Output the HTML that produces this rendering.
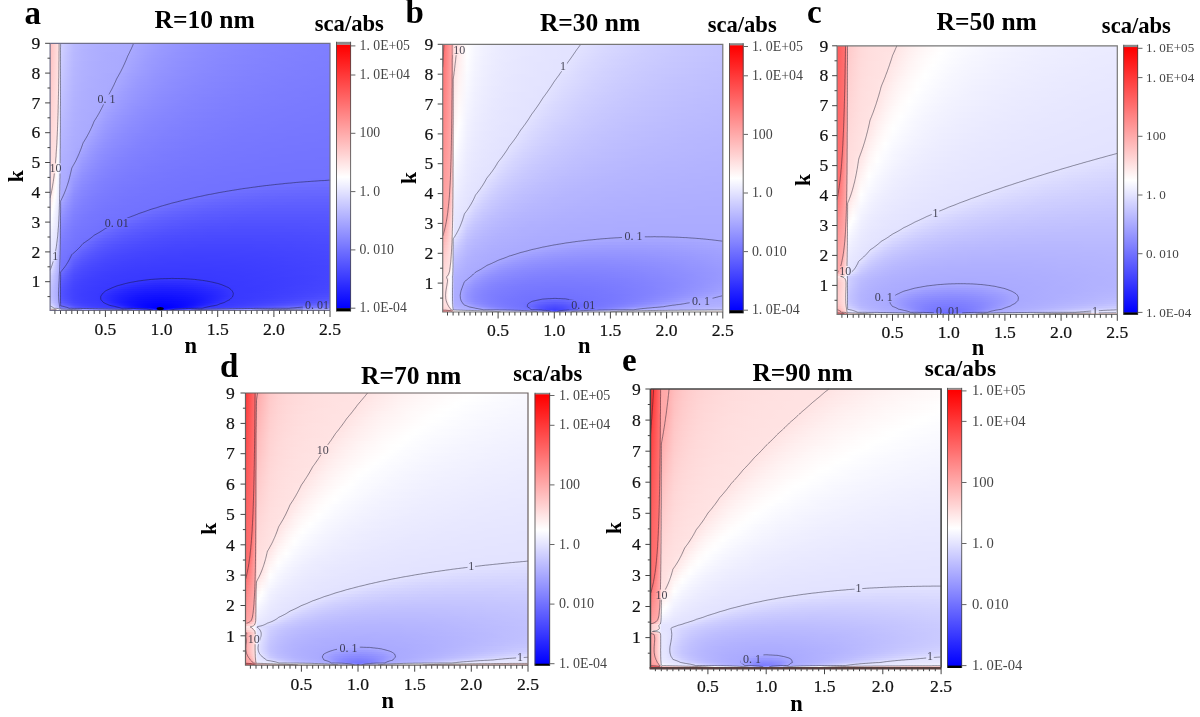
<!DOCTYPE html><html lang="en"><head><meta charset="utf-8"><title>sca/abs</title><style>html,body{margin:0;padding:0;background:#fff}
#p{filter:blur(.45px);position:relative;width:1200px;height:717px;overflow:hidden;background:#fff;font-family:"Liberation Serif",serif}
.h{position:absolute;overflow:hidden}
.h i{display:block;width:100%}
svg{position:absolute;left:0;top:0}
text{font-family:"Liberation Serif",serif;fill:#111}
.ct{fill:none;stroke:#101020;stroke-width:1;stroke-opacity:.44}
.cl{font-size:12px;fill:#2a2a3a;fill-opacity:.85;text-anchor:middle}
.fr{fill:none;stroke:#777;stroke-width:1}
.ax{fill:none;stroke:#444;stroke-width:1}
.tk{fill:none;stroke:#444;stroke-width:1}
.tl{font-size:17.6px;fill:#111;stroke:#111;stroke-width:.2px}
.lt{font-size:33px;font-weight:bold;fill:#000}
.ti{font-size:25.5px;font-weight:bold;fill:#000}
.sa{font-size:22.5px;font-weight:bold;fill:#000}
.nl{font-size:21.5px;font-weight:bold;fill:#000}
.cb{font-size:12.6px;fill:#444}
.cbb{fill:none;stroke:#444;stroke-width:.8}
.cbt{fill:none;stroke:#666;stroke-width:1}
</style></head><body><div id="p"><div class="h" style="left:66.1px;top:43.3px;width:263.9px;height:267.2px"><i style="height:3px;background:linear-gradient(90deg,#c7c7ff,#b9b9ff,#b4b4ff,#b1b1ff,#afafff,#adadff,#acacff,#ababff,#aaaaff,#a6a6ff,#a2a2ff,#9d9dff,#9a9aff,#9797ff,#9494ff,#9292ff,#9090ff,#8e8eff,#8c8cff,#8b8bff,#8989ff,#8888ff,#8787ff,#8686ff,#8585ff,#8484ff,#8383ff,#8383ff,#8282ff,#8181ff,#8181ff,#8080ff,#7f7fff,#7f7fff)"></i><i style="height:3px;background:linear-gradient(90deg,#c6c6ff,#b9b9ff,#b4b4ff,#b1b1ff,#aeaeff,#adadff,#acacff,#ababff,#aaaaff,#a5a5ff,#a1a1ff,#9d9dff,#9999ff,#9696ff,#9494ff,#9191ff,#8f8fff,#8d8dff,#8c8cff,#8a8aff,#8989ff,#8888ff,#8787ff,#8686ff,#8585ff,#8484ff,#8383ff,#8282ff,#8282ff,#8181ff,#8080ff,#8080ff,#7f7fff,#7f7fff)"></i><i style="height:3px;background:linear-gradient(90deg,#c6c6ff,#b9b9ff,#b3b3ff,#b0b0ff,#aeaeff,#adadff,#acacff,#ababff,#aaaaff,#a4a4ff,#a0a0ff,#9c9cff,#9898ff,#9696ff,#9393ff,#9191ff,#8f8fff,#8d8dff,#8b8bff,#8a8aff,#8989ff,#8787ff,#8686ff,#8585ff,#8484ff,#8383ff,#8383ff,#8282ff,#8181ff,#8181ff,#8080ff,#7f7fff,#7f7fff,#7e7eff)"></i><i style="height:3px;background:linear-gradient(90deg,#c5c5ff,#b8b8ff,#b3b3ff,#b0b0ff,#aeaeff,#acacff,#ababff,#ababff,#a9a9ff,#a4a4ff,#9f9fff,#9b9bff,#9898ff,#9595ff,#9292ff,#9090ff,#8e8eff,#8c8cff,#8b8bff,#8989ff,#8888ff,#8787ff,#8686ff,#8585ff,#8484ff,#8383ff,#8282ff,#8282ff,#8181ff,#8080ff,#8080ff,#7f7fff,#7f7fff,#7e7eff)"></i><i style="height:3px;background:linear-gradient(90deg,#c4c4ff,#b8b8ff,#b3b3ff,#b0b0ff,#aeaeff,#acacff,#ababff,#aaaaff,#a8a8ff,#a3a3ff,#9e9eff,#9a9aff,#9797ff,#9494ff,#9292ff,#9090ff,#8e8eff,#8c8cff,#8a8aff,#8989ff,#8888ff,#8686ff,#8585ff,#8484ff,#8484ff,#8383ff,#8282ff,#8181ff,#8181ff,#8080ff,#7f7fff,#7f7fff,#7e7eff,#7e7eff)"></i><i style="height:3px;background:linear-gradient(90deg,#c4c4ff,#b8b8ff,#b3b3ff,#b0b0ff,#aeaeff,#acacff,#ababff,#aaaaff,#a7a7ff,#a2a2ff,#9d9dff,#9999ff,#9696ff,#9393ff,#9191ff,#8f8fff,#8d8dff,#8b8bff,#8a8aff,#8888ff,#8787ff,#8686ff,#8585ff,#8484ff,#8383ff,#8282ff,#8282ff,#8181ff,#8080ff,#8080ff,#7f7fff,#7f7fff,#7e7eff,#7e7eff)"></i><i style="height:3px;background:linear-gradient(90deg,#c3c3ff,#b7b7ff,#b2b2ff,#afafff,#adadff,#acacff,#ababff,#aaaaff,#a6a6ff,#a1a1ff,#9c9cff,#9999ff,#9595ff,#9393ff,#9090ff,#8e8eff,#8c8cff,#8b8bff,#8989ff,#8888ff,#8787ff,#8686ff,#8585ff,#8484ff,#8383ff,#8282ff,#8181ff,#8181ff,#8080ff,#7f7fff,#7f7fff,#7e7eff,#7e7eff,#7d7dff)"></i><i style="height:3px;background:linear-gradient(90deg,#c3c3ff,#b7b7ff,#b2b2ff,#afafff,#adadff,#acacff,#ababff,#aaaaff,#a5a5ff,#a0a0ff,#9b9bff,#9898ff,#9595ff,#9292ff,#9090ff,#8e8eff,#8c8cff,#8a8aff,#8989ff,#8787ff,#8686ff,#8585ff,#8484ff,#8383ff,#8282ff,#8282ff,#8181ff,#8080ff,#8080ff,#7f7fff,#7e7eff,#7e7eff,#7e7eff,#7d7dff)"></i><i style="height:3px;background:linear-gradient(90deg,#c2c2ff,#b6b6ff,#b2b2ff,#afafff,#adadff,#acacff,#ababff,#aaaaff,#a4a4ff,#9f9fff,#9b9bff,#9797ff,#9494ff,#9191ff,#8f8fff,#8d8dff,#8b8bff,#8a8aff,#8888ff,#8787ff,#8686ff,#8585ff,#8484ff,#8383ff,#8282ff,#8181ff,#8181ff,#8080ff,#7f7fff,#7f7fff,#7e7eff,#7e7eff,#7d7dff,#7d7dff)"></i><i style="height:3px;background:linear-gradient(90deg,#c1c1ff,#b6b6ff,#b1b1ff,#afafff,#adadff,#acacff,#ababff,#a9a9ff,#a3a3ff,#9e9eff,#9a9aff,#9696ff,#9393ff,#9191ff,#8e8eff,#8c8cff,#8b8bff,#8989ff,#8888ff,#8686ff,#8585ff,#8484ff,#8383ff,#8282ff,#8282ff,#8181ff,#8080ff,#8080ff,#7f7fff,#7e7eff,#7e7eff,#7d7dff,#7d7dff,#7d7dff)"></i><i style="height:3px;background:linear-gradient(90deg,#c1c1ff,#b6b6ff,#b1b1ff,#afafff,#adadff,#ababff,#aaaaff,#a7a7ff,#a1a1ff,#9d9dff,#9999ff,#9595ff,#9292ff,#9090ff,#8e8eff,#8c8cff,#8a8aff,#8888ff,#8787ff,#8686ff,#8585ff,#8484ff,#8383ff,#8282ff,#8181ff,#8080ff,#8080ff,#7f7fff,#7f7fff,#7e7eff,#7e7eff,#7d7dff,#7d7dff,#7c7cff)"></i><i style="height:3px;background:linear-gradient(90deg,#c0c0ff,#b5b5ff,#b1b1ff,#aeaeff,#adadff,#ababff,#aaaaff,#a6a6ff,#a0a0ff,#9b9bff,#9898ff,#9494ff,#9191ff,#8f8fff,#8d8dff,#8b8bff,#8989ff,#8888ff,#8686ff,#8585ff,#8484ff,#8383ff,#8282ff,#8181ff,#8181ff,#8080ff,#7f7fff,#7f7fff,#7e7eff,#7e7eff,#7d7dff,#7d7dff,#7c7cff,#7c7cff)"></i><i style="height:3px;background:linear-gradient(90deg,#bfbfff,#b5b5ff,#b1b1ff,#aeaeff,#acacff,#ababff,#aaaaff,#a5a5ff,#9f9fff,#9a9aff,#9797ff,#9393ff,#9191ff,#8e8eff,#8c8cff,#8a8aff,#8989ff,#8787ff,#8686ff,#8585ff,#8484ff,#8383ff,#8282ff,#8181ff,#8080ff,#8080ff,#7f7fff,#7e7eff,#7e7eff,#7d7dff,#7d7dff,#7c7cff,#7c7cff,#7c7cff)"></i><i style="height:3px;background:linear-gradient(90deg,#bfbfff,#b5b5ff,#b0b0ff,#aeaeff,#acacff,#ababff,#aaaaff,#a4a4ff,#9e9eff,#9999ff,#9696ff,#9393ff,#9090ff,#8d8dff,#8b8bff,#8a8aff,#8888ff,#8787ff,#8585ff,#8484ff,#8383ff,#8282ff,#8181ff,#8181ff,#8080ff,#7f7fff,#7f7fff,#7e7eff,#7d7dff,#7d7dff,#7d7dff,#7c7cff,#7c7cff,#7b7bff)"></i><i style="height:3px;background:linear-gradient(90deg,#bebeff,#b4b4ff,#b0b0ff,#aeaeff,#acacff,#ababff,#a9a9ff,#a2a2ff,#9d9dff,#9898ff,#9595ff,#9292ff,#8f8fff,#8d8dff,#8b8bff,#8989ff,#8787ff,#8686ff,#8585ff,#8484ff,#8383ff,#8282ff,#8181ff,#8080ff,#7f7fff,#7f7fff,#7e7eff,#7e7eff,#7d7dff,#7d7dff,#7c7cff,#7c7cff,#7b7bff,#7b7bff)"></i><i style="height:3px;background:linear-gradient(90deg,#bebeff,#b4b4ff,#b0b0ff,#adadff,#acacff,#ababff,#a7a7ff,#a1a1ff,#9b9bff,#9797ff,#9494ff,#9191ff,#8e8eff,#8c8cff,#8a8aff,#8888ff,#8787ff,#8585ff,#8484ff,#8383ff,#8282ff,#8181ff,#8080ff,#8080ff,#7f7fff,#7e7eff,#7e7eff,#7d7dff,#7d7dff,#7c7cff,#7c7cff,#7b7bff,#7b7bff,#7b7bff)"></i><i style="height:3px;background:linear-gradient(90deg,#bdbdff,#b3b3ff,#afafff,#adadff,#acacff,#aaaaff,#a6a6ff,#9f9fff,#9a9aff,#9696ff,#9393ff,#9090ff,#8d8dff,#8b8bff,#8989ff,#8888ff,#8686ff,#8585ff,#8484ff,#8282ff,#8282ff,#8181ff,#8080ff,#7f7fff,#7f7fff,#7e7eff,#7d7dff,#7d7dff,#7c7cff,#7c7cff,#7b7bff,#7b7bff,#7b7bff,#7a7aff)"></i><i style="height:3px;background:linear-gradient(90deg,#bcbcff,#b3b3ff,#afafff,#adadff,#ababff,#aaaaff,#a4a4ff,#9e9eff,#9999ff,#9595ff,#9292ff,#8f8fff,#8c8cff,#8a8aff,#8888ff,#8787ff,#8585ff,#8484ff,#8383ff,#8282ff,#8181ff,#8080ff,#7f7fff,#7f7fff,#7e7eff,#7d7dff,#7d7dff,#7c7cff,#7c7cff,#7c7cff,#7b7bff,#7b7bff,#7a7aff,#7a7aff)"></i><i style="height:3px;background:linear-gradient(90deg,#bcbcff,#b2b2ff,#afafff,#adadff,#ababff,#aaaaff,#a3a3ff,#9d9dff,#9898ff,#9494ff,#9191ff,#8e8eff,#8b8bff,#8989ff,#8888ff,#8686ff,#8585ff,#8383ff,#8282ff,#8181ff,#8080ff,#8080ff,#7f7fff,#7e7eff,#7e7eff,#7d7dff,#7d7dff,#7c7cff,#7c7cff,#7b7bff,#7b7bff,#7a7aff,#7a7aff,#7a7aff)"></i><i style="height:3px;background:linear-gradient(90deg,#bbbbff,#b2b2ff,#aeaeff,#acacff,#ababff,#a8a8ff,#a1a1ff,#9b9bff,#9797ff,#9393ff,#9090ff,#8d8dff,#8b8bff,#8989ff,#8787ff,#8585ff,#8484ff,#8383ff,#8282ff,#8181ff,#8080ff,#7f7fff,#7e7eff,#7e7eff,#7d7dff,#7d7dff,#7c7cff,#7c7cff,#7b7bff,#7b7bff,#7a7aff,#7a7aff,#7a7aff,#7979ff)"></i><i style="height:3px;background:linear-gradient(90deg,#babaff,#b2b2ff,#aeaeff,#acacff,#ababff,#a7a7ff,#a0a0ff,#9a9aff,#9595ff,#9292ff,#8f8fff,#8c8cff,#8a8aff,#8888ff,#8686ff,#8585ff,#8383ff,#8282ff,#8181ff,#8080ff,#7f7fff,#7f7fff,#7e7eff,#7d7dff,#7d7dff,#7c7cff,#7c7cff,#7b7bff,#7b7bff,#7a7aff,#7a7aff,#7a7aff,#7979ff,#7979ff)"></i><i style="height:3px;background:linear-gradient(90deg,#babaff,#b1b1ff,#aeaeff,#acacff,#aaaaff,#a5a5ff,#9e9eff,#9999ff,#9494ff,#9090ff,#8e8eff,#8b8bff,#8989ff,#8787ff,#8585ff,#8484ff,#8383ff,#8282ff,#8181ff,#8080ff,#7f7fff,#7e7eff,#7d7dff,#7d7dff,#7c7cff,#7c7cff,#7b7bff,#7b7bff,#7a7aff,#7a7aff,#7a7aff,#7979ff,#7979ff,#7979ff)"></i><i style="height:3px;background:linear-gradient(90deg,#b9b9ff,#b1b1ff,#adadff,#acacff,#aaaaff,#a3a3ff,#9d9dff,#9797ff,#9393ff,#8f8fff,#8c8cff,#8a8aff,#8888ff,#8686ff,#8585ff,#8383ff,#8282ff,#8181ff,#8080ff,#7f7fff,#7e7eff,#7e7eff,#7d7dff,#7c7cff,#7c7cff,#7b7bff,#7b7bff,#7a7aff,#7a7aff,#7a7aff,#7979ff,#7979ff,#7979ff,#7878ff)"></i><i style="height:3px;background:linear-gradient(90deg,#b8b8ff,#b0b0ff,#adadff,#ababff,#aaaaff,#a1a1ff,#9b9bff,#9696ff,#9292ff,#8e8eff,#8b8bff,#8989ff,#8787ff,#8585ff,#8484ff,#8282ff,#8181ff,#8080ff,#7f7fff,#7e7eff,#7e7eff,#7d7dff,#7c7cff,#7c7cff,#7b7bff,#7b7bff,#7a7aff,#7a7aff,#7a7aff,#7979ff,#7979ff,#7979ff,#7878ff,#7878ff)"></i><i style="height:3px;background:linear-gradient(90deg,#b8b8ff,#b0b0ff,#adadff,#ababff,#a9a9ff,#a0a0ff,#9999ff,#9494ff,#9090ff,#8d8dff,#8a8aff,#8888ff,#8686ff,#8585ff,#8383ff,#8282ff,#8181ff,#8080ff,#7f7fff,#7e7eff,#7d7dff,#7d7dff,#7c7cff,#7b7bff,#7b7bff,#7a7aff,#7a7aff,#7a7aff,#7979ff,#7979ff,#7979ff,#7878ff,#7878ff,#7878ff)"></i><i style="height:3px;background:linear-gradient(90deg,#b7b7ff,#b0b0ff,#adadff,#ababff,#a7a7ff,#9e9eff,#9898ff,#9393ff,#8f8fff,#8c8cff,#8989ff,#8787ff,#8585ff,#8484ff,#8282ff,#8181ff,#8080ff,#7f7fff,#7e7eff,#7d7dff,#7d7dff,#7c7cff,#7b7bff,#7b7bff,#7a7aff,#7a7aff,#7a7aff,#7979ff,#7979ff,#7979ff,#7878ff,#7878ff,#7878ff,#7777ff)"></i><i style="height:3px;background:linear-gradient(90deg,#b6b6ff,#afafff,#acacff,#ababff,#a5a5ff,#9c9cff,#9696ff,#9292ff,#8e8eff,#8b8bff,#8888ff,#8686ff,#8484ff,#8383ff,#8282ff,#8080ff,#7f7fff,#7e7eff,#7d7dff,#7d7dff,#7c7cff,#7b7bff,#7b7bff,#7a7aff,#7a7aff,#7a7aff,#7979ff,#7979ff,#7878ff,#7878ff,#7878ff,#7878ff,#7777ff,#7777ff)"></i><i style="height:3px;background:linear-gradient(90deg,#b6b6ff,#afafff,#acacff,#aaaaff,#a3a3ff,#9a9aff,#9595ff,#9090ff,#8d8dff,#8a8aff,#8787ff,#8585ff,#8484ff,#8282ff,#8181ff,#8080ff,#7f7fff,#7e7eff,#7d7dff,#7c7cff,#7c7cff,#7b7bff,#7a7aff,#7a7aff,#7979ff,#7979ff,#7979ff,#7878ff,#7878ff,#7878ff,#7777ff,#7777ff,#7777ff,#7777ff)"></i><i style="height:3px;background:linear-gradient(90deg,#b5b5ff,#aeaeff,#acacff,#aaaaff,#a1a1ff,#9999ff,#9393ff,#8f8fff,#8b8bff,#8989ff,#8686ff,#8484ff,#8383ff,#8181ff,#8080ff,#7f7fff,#7e7eff,#7d7dff,#7c7cff,#7c7cff,#7b7bff,#7a7aff,#7a7aff,#7979ff,#7979ff,#7979ff,#7878ff,#7878ff,#7878ff,#7777ff,#7777ff,#7777ff,#7777ff,#7676ff)"></i><i style="height:3px;background:linear-gradient(90deg,#b4b4ff,#aeaeff,#ababff,#a9a9ff,#9f9fff,#9797ff,#9292ff,#8e8eff,#8a8aff,#8888ff,#8585ff,#8383ff,#8282ff,#8080ff,#7f7fff,#7e7eff,#7d7dff,#7c7cff,#7c7cff,#7b7bff,#7a7aff,#7a7aff,#7979ff,#7979ff,#7979ff,#7878ff,#7878ff,#7878ff,#7777ff,#7777ff,#7777ff,#7777ff,#7676ff,#7676ff)"></i><i style="height:3px;background:linear-gradient(90deg,#b4b4ff,#aeaeff,#ababff,#a7a7ff,#9d9dff,#9595ff,#9090ff,#8c8cff,#8989ff,#8686ff,#8484ff,#8383ff,#8181ff,#8080ff,#7f7fff,#7d7dff,#7d7dff,#7c7cff,#7b7bff,#7a7aff,#7a7aff,#7979ff,#7979ff,#7878ff,#7878ff,#7878ff,#7777ff,#7777ff,#7777ff,#7777ff,#7676ff,#7676ff,#7676ff,#7676ff)"></i><i style="height:3px;background:linear-gradient(90deg,#b3b3ff,#adadff,#ababff,#a4a4ff,#9b9bff,#9494ff,#8f8fff,#8b8bff,#8888ff,#8585ff,#8383ff,#8282ff,#8080ff,#7f7fff,#7e7eff,#7d7dff,#7c7cff,#7b7bff,#7b7bff,#7a7aff,#7979ff,#7979ff,#7878ff,#7878ff,#7878ff,#7777ff,#7777ff,#7777ff,#7676ff,#7676ff,#7676ff,#7676ff,#7676ff,#7575ff)"></i><i style="height:3px;background:linear-gradient(90deg,#b2b2ff,#adadff,#aaaaff,#a2a2ff,#9999ff,#9292ff,#8d8dff,#8a8aff,#8787ff,#8484ff,#8282ff,#8181ff,#7f7fff,#7e7eff,#7d7dff,#7c7cff,#7b7bff,#7b7bff,#7a7aff,#7979ff,#7979ff,#7878ff,#7878ff,#7878ff,#7777ff,#7777ff,#7777ff,#7676ff,#7676ff,#7676ff,#7676ff,#7676ff,#7575ff,#7575ff)"></i><i style="height:3px;background:linear-gradient(90deg,#b2b2ff,#acacff,#aaaaff,#a0a0ff,#9797ff,#9090ff,#8c8cff,#8989ff,#8686ff,#8383ff,#8181ff,#8080ff,#7e7eff,#7d7dff,#7c7cff,#7b7bff,#7b7bff,#7a7aff,#7979ff,#7979ff,#7878ff,#7878ff,#7777ff,#7777ff,#7777ff,#7676ff,#7676ff,#7676ff,#7676ff,#7676ff,#7575ff,#7575ff,#7575ff,#7575ff)"></i><i style="height:3px;background:linear-gradient(90deg,#b1b1ff,#acacff,#a9a9ff,#9d9dff,#9595ff,#8f8fff,#8b8bff,#8787ff,#8585ff,#8282ff,#8181ff,#7f7fff,#7e7eff,#7d7dff,#7c7cff,#7b7bff,#7a7aff,#7979ff,#7979ff,#7878ff,#7878ff,#7777ff,#7777ff,#7777ff,#7676ff,#7676ff,#7676ff,#7676ff,#7575ff,#7575ff,#7575ff,#7575ff,#7575ff,#7575ff)"></i><i style="height:3px;background:linear-gradient(90deg,#b1b1ff,#acacff,#a6a6ff,#9b9bff,#9393ff,#8d8dff,#8989ff,#8686ff,#8383ff,#8181ff,#8080ff,#7e7eff,#7d7dff,#7c7cff,#7b7bff,#7a7aff,#7979ff,#7979ff,#7878ff,#7878ff,#7777ff,#7777ff,#7777ff,#7676ff,#7676ff,#7676ff,#7575ff,#7575ff,#7575ff,#7575ff,#7575ff,#7474ff,#7474ff,#7474ff)"></i><i style="height:3px;background:linear-gradient(90deg,#b0b0ff,#ababff,#a4a4ff,#9999ff,#9191ff,#8c8cff,#8888ff,#8585ff,#8282ff,#8080ff,#7f7fff,#7d7dff,#7c7cff,#7b7bff,#7a7aff,#7979ff,#7979ff,#7878ff,#7878ff,#7777ff,#7777ff,#7676ff,#7676ff,#7676ff,#7676ff,#7575ff,#7575ff,#7575ff,#7575ff,#7474ff,#7474ff,#7474ff,#7474ff,#7474ff)"></i><i style="height:3px;background:linear-gradient(90deg,#afafff,#ababff,#a1a1ff,#9797ff,#8f8fff,#8a8aff,#8787ff,#8484ff,#8181ff,#7f7fff,#7e7eff,#7d7dff,#7b7bff,#7a7aff,#7a7aff,#7979ff,#7878ff,#7878ff,#7777ff,#7777ff,#7676ff,#7676ff,#7676ff,#7575ff,#7575ff,#7575ff,#7575ff,#7474ff,#7474ff,#7474ff,#7474ff,#7474ff,#7474ff,#7474ff)"></i><i style="height:3px;background:linear-gradient(90deg,#afafff,#ababff,#9e9eff,#9595ff,#8e8eff,#8989ff,#8585ff,#8282ff,#8080ff,#7e7eff,#7d7dff,#7c7cff,#7b7bff,#7a7aff,#7979ff,#7878ff,#7878ff,#7777ff,#7777ff,#7676ff,#7676ff,#7676ff,#7575ff,#7575ff,#7575ff,#7474ff,#7474ff,#7474ff,#7474ff,#7474ff,#7474ff,#7474ff,#7373ff,#7373ff)"></i><i style="height:3px;background:linear-gradient(90deg,#aeaeff,#aaaaff,#9c9cff,#9393ff,#8c8cff,#8787ff,#8484ff,#8181ff,#7f7fff,#7d7dff,#7c7cff,#7b7bff,#7a7aff,#7979ff,#7878ff,#7878ff,#7777ff,#7777ff,#7676ff,#7676ff,#7575ff,#7575ff,#7575ff,#7575ff,#7474ff,#7474ff,#7474ff,#7474ff,#7474ff,#7373ff,#7373ff,#7373ff,#7373ff,#7373ff)"></i><i style="height:3px;background:linear-gradient(90deg,#aeaeff,#a9a9ff,#9999ff,#9191ff,#8a8aff,#8686ff,#8383ff,#8080ff,#7e7eff,#7d7dff,#7b7bff,#7a7aff,#7979ff,#7878ff,#7878ff,#7777ff,#7777ff,#7676ff,#7676ff,#7575ff,#7575ff,#7575ff,#7474ff,#7474ff,#7474ff,#7474ff,#7474ff,#7373ff,#7373ff,#7373ff,#7373ff,#7373ff,#7373ff,#7373ff)"></i><i style="height:3px;background:linear-gradient(90deg,#adadff,#a6a6ff,#9797ff,#8f8fff,#8989ff,#8484ff,#8282ff,#7f7fff,#7d7dff,#7c7cff,#7a7aff,#7979ff,#7878ff,#7878ff,#7777ff,#7676ff,#7676ff,#7676ff,#7575ff,#7575ff,#7474ff,#7474ff,#7474ff,#7474ff,#7474ff,#7373ff,#7373ff,#7373ff,#7373ff,#7373ff,#7373ff,#7373ff,#7373ff,#7272ff)"></i><i style="height:3px;background:linear-gradient(90deg,#adadff,#a3a3ff,#9595ff,#8d8dff,#8787ff,#8383ff,#8080ff,#7e7eff,#7c7cff,#7b7bff,#7a7aff,#7979ff,#7878ff,#7777ff,#7676ff,#7676ff,#7575ff,#7575ff,#7575ff,#7474ff,#7474ff,#7474ff,#7474ff,#7373ff,#7373ff,#7373ff,#7373ff,#7373ff,#7373ff,#7272ff,#7272ff,#7272ff,#7272ff,#7272ff)"></i><i style="height:3px;background:linear-gradient(90deg,#acacff,#a0a0ff,#9292ff,#8b8bff,#8686ff,#8282ff,#7f7fff,#7d7dff,#7b7bff,#7a7aff,#7979ff,#7878ff,#7777ff,#7676ff,#7676ff,#7575ff,#7575ff,#7575ff,#7474ff,#7474ff,#7474ff,#7373ff,#7373ff,#7373ff,#7373ff,#7373ff,#7272ff,#7272ff,#7272ff,#7272ff,#7272ff,#7272ff,#7272ff,#7272ff)"></i><i style="height:3px;background:linear-gradient(90deg,#acacff,#9d9dff,#9090ff,#8989ff,#8484ff,#8181ff,#7e7eff,#7c7cff,#7a7aff,#7979ff,#7878ff,#7777ff,#7777ff,#7676ff,#7575ff,#7575ff,#7474ff,#7474ff,#7474ff,#7373ff,#7373ff,#7373ff,#7373ff,#7373ff,#7272ff,#7272ff,#7272ff,#7272ff,#7272ff,#7272ff,#7272ff,#7272ff,#7272ff,#7272ff)"></i><i style="height:3px;background:linear-gradient(90deg,#ababff,#9a9aff,#8e8eff,#8888ff,#8383ff,#7f7fff,#7d7dff,#7b7bff,#7a7aff,#7878ff,#7777ff,#7777ff,#7676ff,#7575ff,#7575ff,#7474ff,#7474ff,#7474ff,#7373ff,#7373ff,#7373ff,#7373ff,#7272ff,#7272ff,#7272ff,#7272ff,#7272ff,#7272ff,#7272ff,#7272ff,#7272ff,#7171ff,#7171ff,#7171ff)"></i><i style="height:3px;background:linear-gradient(90deg,#ababff,#9797ff,#8c8cff,#8686ff,#8181ff,#7e7eff,#7c7cff,#7a7aff,#7979ff,#7878ff,#7777ff,#7676ff,#7575ff,#7575ff,#7474ff,#7474ff,#7373ff,#7373ff,#7373ff,#7373ff,#7272ff,#7272ff,#7272ff,#7272ff,#7272ff,#7272ff,#7272ff,#7171ff,#7171ff,#7171ff,#7070ff,#7070ff,#6f6fff,#6f6fff)"></i><i style="height:3px;background:linear-gradient(90deg,#aaaaff,#9595ff,#8a8aff,#8484ff,#8080ff,#7d7dff,#7b7bff,#7979ff,#7878ff,#7777ff,#7676ff,#7575ff,#7575ff,#7474ff,#7474ff,#7373ff,#7373ff,#7373ff,#7272ff,#7272ff,#7272ff,#7272ff,#7272ff,#7272ff,#7171ff,#7171ff,#7070ff,#6f6fff,#6f6fff,#6e6eff,#6e6eff,#6d6dff,#6d6dff,#6d6dff)"></i><i style="height:3px;background:linear-gradient(90deg,#aaaaff,#9292ff,#8888ff,#8383ff,#7f7fff,#7c7cff,#7a7aff,#7878ff,#7777ff,#7676ff,#7575ff,#7575ff,#7474ff,#7474ff,#7373ff,#7373ff,#7373ff,#7272ff,#7272ff,#7272ff,#7272ff,#7171ff,#7171ff,#7070ff,#6f6fff,#6e6eff,#6d6dff,#6d6dff,#6c6cff,#6b6bff,#6b6bff,#6b6bff,#6a6aff,#6a6aff)"></i><i style="height:3px;background:linear-gradient(90deg,#a6a6ff,#9090ff,#8686ff,#8181ff,#7e7eff,#7b7bff,#7979ff,#7878ff,#7676ff,#7676ff,#7575ff,#7474ff,#7474ff,#7373ff,#7373ff,#7272ff,#7272ff,#7272ff,#7272ff,#7171ff,#7171ff,#6f6fff,#6e6eff,#6d6dff,#6c6cff,#6b6bff,#6a6aff,#6a6aff,#6969ff,#6969ff,#6868ff,#6868ff,#6868ff,#6868ff)"></i><i style="height:3px;background:linear-gradient(90deg,#a2a2ff,#8d8dff,#8585ff,#8080ff,#7c7cff,#7a7aff,#7878ff,#7777ff,#7676ff,#7575ff,#7474ff,#7474ff,#7373ff,#7373ff,#7272ff,#7272ff,#7272ff,#7171ff,#7171ff,#6f6fff,#6d6dff,#6c6cff,#6b6bff,#6a6aff,#6969ff,#6868ff,#6868ff,#6767ff,#6767ff,#6666ff,#6666ff,#6666ff,#6666ff,#6666ff)"></i><i style="height:3px;background:linear-gradient(90deg,#9e9eff,#8b8bff,#8383ff,#7e7eff,#7b7bff,#7979ff,#7777ff,#7676ff,#7575ff,#7474ff,#7474ff,#7373ff,#7373ff,#7272ff,#7272ff,#7272ff,#7171ff,#6f6fff,#6d6dff,#6c6cff,#6a6aff,#6969ff,#6868ff,#6767ff,#6666ff,#6565ff,#6565ff,#6464ff,#6464ff,#6464ff,#6464ff,#6363ff,#6363ff,#6363ff)"></i><i style="height:3px;background:linear-gradient(90deg,#9b9bff,#8989ff,#8181ff,#7d7dff,#7a7aff,#7878ff,#7777ff,#7575ff,#7474ff,#7474ff,#7373ff,#7373ff,#7272ff,#7272ff,#7171ff,#7070ff,#6d6dff,#6b6bff,#6a6aff,#6868ff,#6767ff,#6666ff,#6565ff,#6464ff,#6363ff,#6363ff,#6262ff,#6262ff,#6262ff,#6161ff,#6161ff,#6161ff,#6161ff,#6161ff)"></i><i style="height:3px;background:linear-gradient(90deg,#9898ff,#8787ff,#8080ff,#7c7cff,#7979ff,#7777ff,#7676ff,#7575ff,#7474ff,#7373ff,#7373ff,#7272ff,#7272ff,#7171ff,#6e6eff,#6c6cff,#6a6aff,#6868ff,#6666ff,#6565ff,#6464ff,#6363ff,#6262ff,#6161ff,#6161ff,#6060ff,#6060ff,#6060ff,#5f5fff,#5f5fff,#5f5fff,#5f5fff,#5f5fff,#5f5fff)"></i><i style="height:3px;background:linear-gradient(90deg,#9494ff,#8585ff,#7e7eff,#7b7bff,#7878ff,#7676ff,#7575ff,#7474ff,#7373ff,#7373ff,#7272ff,#7272ff,#7070ff,#6d6dff,#6a6aff,#6868ff,#6666ff,#6565ff,#6363ff,#6262ff,#6161ff,#6060ff,#5f5fff,#5f5fff,#5e5eff,#5e5eff,#5d5dff,#5d5dff,#5d5dff,#5d5dff,#5d5dff,#5d5dff,#5d5dff,#5d5dff)"></i><i style="height:3px;background:linear-gradient(90deg,#9191ff,#8383ff,#7d7dff,#7a7aff,#7777ff,#7575ff,#7474ff,#7373ff,#7373ff,#7272ff,#7272ff,#6f6fff,#6c6cff,#6969ff,#6767ff,#6565ff,#6363ff,#6161ff,#6060ff,#5f5fff,#5e5eff,#5d5dff,#5d5dff,#5c5cff,#5c5cff,#5b5bff,#5b5bff,#5b5bff,#5b5bff,#5b5bff,#5b5bff,#5b5bff,#5b5bff,#5b5bff)"></i><i style="height:3px;background:linear-gradient(90deg,#8e8eff,#8181ff,#7c7cff,#7878ff,#7676ff,#7575ff,#7474ff,#7373ff,#7272ff,#7272ff,#6f6fff,#6b6bff,#6868ff,#6565ff,#6363ff,#6161ff,#6060ff,#5e5eff,#5d5dff,#5c5cff,#5b5bff,#5b5bff,#5a5aff,#5a5aff,#5959ff,#5959ff,#5959ff,#5959ff,#5959ff,#5959ff,#5959ff,#5959ff,#5959ff,#5959ff)"></i><i style="height:3px;background:linear-gradient(90deg,#8c8cff,#7f7fff,#7a7aff,#7777ff,#7575ff,#7474ff,#7373ff,#7272ff,#7272ff,#6e6eff,#6a6aff,#6767ff,#6464ff,#6262ff,#6060ff,#5e5eff,#5d5dff,#5b5bff,#5a5aff,#5a5aff,#5959ff,#5858ff,#5858ff,#5757ff,#5757ff,#5757ff,#5757ff,#5757ff,#5757ff,#5757ff,#5757ff,#5757ff,#5757ff,#5858ff)"></i><i style="height:3px;background:linear-gradient(90deg,#8989ff,#7e7eff,#7979ff,#7676ff,#7575ff,#7373ff,#7272ff,#7272ff,#6e6eff,#6a6aff,#6666ff,#6363ff,#6060ff,#5e5eff,#5d5dff,#5b5bff,#5a5aff,#5959ff,#5858ff,#5757ff,#5656ff,#5656ff,#5555ff,#5555ff,#5555ff,#5555ff,#5555ff,#5555ff,#5555ff,#5555ff,#5555ff,#5555ff,#5656ff,#5656ff)"></i><i style="height:3px;background:linear-gradient(90deg,#8787ff,#7c7cff,#7878ff,#7676ff,#7474ff,#7373ff,#7272ff,#6f6fff,#6a6aff,#6666ff,#6262ff,#5f5fff,#5d5dff,#5b5bff,#5959ff,#5858ff,#5757ff,#5656ff,#5555ff,#5555ff,#5454ff,#5454ff,#5353ff,#5353ff,#5353ff,#5353ff,#5353ff,#5353ff,#5353ff,#5353ff,#5353ff,#5454ff,#5454ff,#5454ff)"></i><i style="height:3px;background:linear-gradient(90deg,#8484ff,#7b7bff,#7777ff,#7575ff,#7373ff,#7272ff,#7070ff,#6a6aff,#6565ff,#6161ff,#5e5eff,#5c5cff,#5a5aff,#5858ff,#5757ff,#5555ff,#5454ff,#5353ff,#5353ff,#5252ff,#5252ff,#5151ff,#5151ff,#5151ff,#5151ff,#5151ff,#5151ff,#5151ff,#5151ff,#5151ff,#5252ff,#5252ff,#5252ff,#5353ff)"></i><i style="height:3px;background:linear-gradient(90deg,#8282ff,#7979ff,#7676ff,#7474ff,#7272ff,#7171ff,#6b6bff,#6666ff,#6161ff,#5e5eff,#5b5bff,#5959ff,#5757ff,#5555ff,#5454ff,#5353ff,#5252ff,#5151ff,#5050ff,#5050ff,#5050ff,#4f4fff,#4f4fff,#4f4fff,#4f4fff,#4f4fff,#4f4fff,#4f4fff,#5050ff,#5050ff,#5050ff,#5151ff,#5151ff,#5151ff)"></i><i style="height:3px;background:linear-gradient(90deg,#8080ff,#7878ff,#7575ff,#7373ff,#7272ff,#6d6dff,#6666ff,#6161ff,#5d5dff,#5a5aff,#5858ff,#5656ff,#5454ff,#5252ff,#5151ff,#5050ff,#4f4fff,#4f4fff,#4e4eff,#4e4eff,#4e4eff,#4d4dff,#4d4dff,#4d4dff,#4d4dff,#4d4dff,#4e4eff,#4e4eff,#4e4eff,#4e4eff,#4f4fff,#4f4fff,#5050ff,#5050ff)"></i><i style="height:3px;background:linear-gradient(90deg,#7e7eff,#7777ff,#7474ff,#7272ff,#7070ff,#6767ff,#6262ff,#5d5dff,#5a5aff,#5757ff,#5454ff,#5353ff,#5151ff,#5050ff,#4f4fff,#4e4eff,#4d4dff,#4d4dff,#4c4cff,#4c4cff,#4c4cff,#4c4cff,#4c4cff,#4c4cff,#4c4cff,#4c4cff,#4c4cff,#4c4cff,#4c4cff,#4d4dff,#4d4dff,#4e4eff,#4e4eff,#4f4fff)"></i><i style="height:3px;background:linear-gradient(90deg,#7d7dff,#7676ff,#7373ff,#7272ff,#6a6aff,#6363ff,#5e5eff,#5959ff,#5656ff,#5454ff,#5252ff,#5050ff,#4e4eff,#4d4dff,#4c4cff,#4c4cff,#4b4bff,#4b4bff,#4a4aff,#4a4aff,#4a4aff,#4a4aff,#4a4aff,#4a4aff,#4a4aff,#4a4aff,#4a4aff,#4b4bff,#4b4bff,#4b4bff,#4c4cff,#4c4cff,#4d4dff,#4d4dff)"></i><i style="height:3px;background:linear-gradient(90deg,#7b7bff,#7575ff,#7272ff,#6f6fff,#6565ff,#5e5eff,#5a5aff,#5656ff,#5353ff,#5151ff,#4f4fff,#4d4dff,#4c4cff,#4b4bff,#4a4aff,#4a4aff,#4949ff,#4949ff,#4949ff,#4848ff,#4848ff,#4848ff,#4848ff,#4848ff,#4949ff,#4949ff,#4949ff,#4949ff,#4a4aff,#4a4aff,#4b4bff,#4b4bff,#4c4cff,#4c4cff)"></i><i style="height:3px;background:linear-gradient(90deg,#7979ff,#7474ff,#7272ff,#6969ff,#6060ff,#5a5aff,#5656ff,#5353ff,#5050ff,#4e4eff,#4c4cff,#4b4bff,#4a4aff,#4949ff,#4848ff,#4848ff,#4747ff,#4747ff,#4747ff,#4747ff,#4747ff,#4747ff,#4747ff,#4747ff,#4747ff,#4747ff,#4848ff,#4848ff,#4848ff,#4949ff,#4949ff,#4a4aff,#4b4bff,#4b4bff)"></i><i style="height:3px;background:linear-gradient(90deg,#7878ff,#7373ff,#6f6fff,#6464ff,#5c5cff,#5656ff,#5252ff,#4f4fff,#4d4dff,#4b4bff,#4a4aff,#4949ff,#4848ff,#4747ff,#4646ff,#4646ff,#4646ff,#4545ff,#4545ff,#4545ff,#4545ff,#4545ff,#4545ff,#4545ff,#4646ff,#4646ff,#4646ff,#4747ff,#4747ff,#4848ff,#4848ff,#4949ff,#4949ff,#4a4aff)"></i><i style="height:2px;background:linear-gradient(90deg,#7777ff,#7272ff,#6a6aff,#6060ff,#5858ff,#5353ff,#5050ff,#4d4dff,#4b4bff,#4949ff,#4848ff,#4747ff,#4646ff,#4545ff,#4545ff,#4545ff,#4444ff,#4444ff,#4444ff,#4444ff,#4444ff,#4444ff,#4444ff,#4444ff,#4545ff,#4545ff,#4545ff,#4646ff,#4646ff,#4747ff,#4747ff,#4848ff,#4949ff,#4949ff)"></i><i style="height:2px;background:linear-gradient(90deg,#7676ff,#7272ff,#6666ff,#5d5dff,#5656ff,#5151ff,#4e4eff,#4b4bff,#4949ff,#4848ff,#4747ff,#4646ff,#4545ff,#4444ff,#4444ff,#4343ff,#4343ff,#4343ff,#4343ff,#4343ff,#4343ff,#4343ff,#4343ff,#4444ff,#4444ff,#4444ff,#4545ff,#4545ff,#4646ff,#4646ff,#4747ff,#4747ff,#4848ff,#4949ff)"></i><i style="height:2px;background:linear-gradient(90deg,#7575ff,#7171ff,#6262ff,#5a5aff,#5353ff,#4f4fff,#4c4cff,#4a4aff,#4848ff,#4646ff,#4545ff,#4444ff,#4444ff,#4343ff,#4343ff,#4242ff,#4242ff,#4242ff,#4242ff,#4242ff,#4242ff,#4242ff,#4343ff,#4343ff,#4343ff,#4343ff,#4444ff,#4444ff,#4545ff,#4545ff,#4646ff,#4747ff,#4747ff,#4848ff)"></i><i style="height:2px;background:linear-gradient(90deg,#7575ff,#6d6dff,#5f5fff,#5757ff,#5151ff,#4d4dff,#4a4aff,#4848ff,#4646ff,#4545ff,#4444ff,#4343ff,#4343ff,#4242ff,#4242ff,#4141ff,#4141ff,#4141ff,#4141ff,#4141ff,#4141ff,#4242ff,#4242ff,#4242ff,#4242ff,#4343ff,#4343ff,#4444ff,#4444ff,#4545ff,#4545ff,#4646ff,#4747ff,#4848ff)"></i><i style="height:2px;background:linear-gradient(90deg,#7474ff,#6969ff,#5c5cff,#5454ff,#4f4fff,#4b4bff,#4848ff,#4646ff,#4545ff,#4444ff,#4343ff,#4242ff,#4141ff,#4141ff,#4141ff,#4040ff,#4040ff,#4040ff,#4040ff,#4040ff,#4141ff,#4141ff,#4141ff,#4141ff,#4242ff,#4242ff,#4343ff,#4343ff,#4444ff,#4444ff,#4545ff,#4646ff,#4646ff,#4747ff)"></i><i style="height:2px;background:linear-gradient(90deg,#7373ff,#6565ff,#5959ff,#5252ff,#4d4dff,#4949ff,#4747ff,#4545ff,#4444ff,#4242ff,#4242ff,#4141ff,#4040ff,#4040ff,#4040ff,#4040ff,#3f3fff,#3f3fff,#4040ff,#4040ff,#4040ff,#4040ff,#4040ff,#4141ff,#4141ff,#4141ff,#4242ff,#4242ff,#4343ff,#4444ff,#4444ff,#4545ff,#4646ff,#4747ff)"></i><i style="height:2px;background:linear-gradient(90deg,#7373ff,#6161ff,#5656ff,#4f4fff,#4b4bff,#4747ff,#4545ff,#4444ff,#4242ff,#4141ff,#4141ff,#4040ff,#3f3fff,#3f3fff,#3f3fff,#3f3fff,#3f3fff,#3f3fff,#3f3fff,#3f3fff,#3f3fff,#3f3fff,#4040ff,#4040ff,#4040ff,#4141ff,#4141ff,#4242ff,#4343ff,#4343ff,#4444ff,#4545ff,#4545ff,#4646ff)"></i><i style="height:2px;background:linear-gradient(90deg,#7272ff,#5e5eff,#5353ff,#4d4dff,#4949ff,#4646ff,#4444ff,#4242ff,#4141ff,#4040ff,#4040ff,#3f3fff,#3f3fff,#3e3eff,#3e3eff,#3e3eff,#3e3eff,#3e3eff,#3e3eff,#3e3eff,#3e3eff,#3f3fff,#3f3fff,#3f3fff,#4040ff,#4040ff,#4141ff,#4141ff,#4242ff,#4343ff,#4343ff,#4444ff,#4545ff,#4646ff)"></i><i style="height:2px;background:linear-gradient(90deg,#7171ff,#5b5bff,#5151ff,#4b4bff,#4747ff,#4444ff,#4343ff,#4141ff,#4040ff,#3f3fff,#3f3fff,#3e3eff,#3e3eff,#3d3dff,#3d3dff,#3d3dff,#3d3dff,#3d3dff,#3d3dff,#3e3eff,#3e3eff,#3e3eff,#3e3eff,#3f3fff,#3f3fff,#4040ff,#4040ff,#4141ff,#4242ff,#4242ff,#4343ff,#4444ff,#4545ff,#4646ff)"></i><i style="height:2px;background:linear-gradient(90deg,#6e6eff,#5858ff,#4e4eff,#4949ff,#4646ff,#4343ff,#4141ff,#4040ff,#3f3fff,#3e3eff,#3e3eff,#3d3dff,#3d3dff,#3d3dff,#3d3dff,#3c3cff,#3c3cff,#3d3dff,#3d3dff,#3d3dff,#3d3dff,#3d3dff,#3e3eff,#3e3eff,#3f3fff,#3f3fff,#4040ff,#4040ff,#4141ff,#4242ff,#4343ff,#4343ff,#4444ff,#4545ff)"></i><i style="height:2px;background:linear-gradient(90deg,#6a6aff,#5555ff,#4c4cff,#4747ff,#4444ff,#4242ff,#4040ff,#3f3fff,#3e3eff,#3d3dff,#3d3dff,#3c3cff,#3c3cff,#3c3cff,#3c3cff,#3c3cff,#3c3cff,#3c3cff,#3c3cff,#3c3cff,#3d3dff,#3d3dff,#3d3dff,#3e3eff,#3e3eff,#3f3fff,#3f3fff,#4040ff,#4141ff,#4141ff,#4242ff,#4343ff,#4444ff,#4545ff)"></i><i style="height:2px;background:linear-gradient(90deg,#6565ff,#5252ff,#4a4aff,#4646ff,#4343ff,#4141ff,#3f3fff,#3e3eff,#3d3dff,#3c3cff,#3c3cff,#3c3cff,#3b3bff,#3b3bff,#3b3bff,#3b3bff,#3b3bff,#3b3bff,#3b3bff,#3c3cff,#3c3cff,#3c3cff,#3d3dff,#3d3dff,#3e3eff,#3e3eff,#3f3fff,#4040ff,#4040ff,#4141ff,#4242ff,#4343ff,#4444ff,#4545ff)"></i><i style="height:2px;background:linear-gradient(90deg,#6161ff,#5050ff,#4848ff,#4444ff,#4141ff,#3f3fff,#3e3eff,#3d3dff,#3c3cff,#3c3cff,#3b3bff,#3b3bff,#3b3bff,#3b3bff,#3a3aff,#3a3aff,#3b3bff,#3b3bff,#3b3bff,#3b3bff,#3b3bff,#3c3cff,#3c3cff,#3d3dff,#3d3dff,#3e3eff,#3f3fff,#3f3fff,#4040ff,#4141ff,#4242ff,#4343ff,#4444ff,#4545ff)"></i><i style="height:2px;background:linear-gradient(90deg,#5e5eff,#4d4dff,#4747ff,#4343ff,#4040ff,#3e3eff,#3d3dff,#3c3cff,#3b3bff,#3b3bff,#3a3aff,#3a3aff,#3a3aff,#3a3aff,#3a3aff,#3a3aff,#3a3aff,#3a3aff,#3a3aff,#3b3bff,#3b3bff,#3b3bff,#3c3cff,#3c3cff,#3d3dff,#3e3eff,#3e3eff,#3f3fff,#4040ff,#4141ff,#4242ff,#4343ff,#4444ff,#4545ff)"></i><i style="height:2px;background:linear-gradient(90deg,#5a5aff,#4b4bff,#4545ff,#4242ff,#3f3fff,#3d3dff,#3c3cff,#3b3bff,#3b3bff,#3a3aff,#3a3aff,#3a3aff,#3939ff,#3939ff,#3939ff,#3939ff,#3939ff,#3a3aff,#3a3aff,#3a3aff,#3b3bff,#3b3bff,#3b3bff,#3c3cff,#3d3dff,#3d3dff,#3e3eff,#3f3fff,#4040ff,#4040ff,#4141ff,#4242ff,#4444ff,#4545ff)"></i><i style="height:2px;background:linear-gradient(90deg,#5858ff,#4a4aff,#4444ff,#4040ff,#3e3eff,#3d3dff,#3b3bff,#3b3bff,#3a3aff,#3a3aff,#3939ff,#3939ff,#3939ff,#3939ff,#3939ff,#3939ff,#3939ff,#3939ff,#3939ff,#3a3aff,#3a3aff,#3b3bff,#3b3bff,#3c3cff,#3c3cff,#3d3dff,#3e3eff,#3e3eff,#3f3fff,#4040ff,#4141ff,#4242ff,#4444ff,#4545ff)"></i><i style="height:2px;background:linear-gradient(90deg,#5555ff,#4848ff,#4242ff,#3f3fff,#3d3dff,#3c3cff,#3b3bff,#3a3aff,#3939ff,#3939ff,#3838ff,#3636ff,#3434ff,#3434ff,#3434ff,#3535ff,#3737ff,#3939ff,#3939ff,#3939ff,#3a3aff,#3a3aff,#3b3bff,#3b3bff,#3c3cff,#3d3dff,#3d3dff,#3e3eff,#3f3fff,#4040ff,#4141ff,#4242ff,#4444ff,#4545ff)"></i><i style="height:2px;background:linear-gradient(90deg,#5353ff,#4646ff,#4141ff,#3e3eff,#3c3cff,#3b3bff,#3a3aff,#3939ff,#3939ff,#3535ff,#3232ff,#3030ff,#2f2fff,#2f2fff,#2f2fff,#3030ff,#3232ff,#3434ff,#3737ff,#3939ff,#3939ff,#3a3aff,#3a3aff,#3b3bff,#3c3cff,#3c3cff,#3d3dff,#3e3eff,#3f3fff,#4040ff,#4141ff,#4343ff,#4444ff,#4545ff)"></i><i style="height:2px;background:linear-gradient(90deg,#5151ff,#4545ff,#4040ff,#3e3eff,#3c3cff,#3a3aff,#3939ff,#3939ff,#3434ff,#3030ff,#2d2dff,#2b2bff,#2a2aff,#2a2aff,#2b2bff,#2c2cff,#2e2eff,#3030ff,#3434ff,#3737ff,#3939ff,#3a3aff,#3a3aff,#3b3bff,#3c3cff,#3c3cff,#3d3dff,#3e3eff,#3f3fff,#4040ff,#4141ff,#4343ff,#4444ff,#4646ff)"></i><i style="height:2px;background:linear-gradient(90deg,#4f4fff,#4444ff,#3f3fff,#3d3dff,#3b3bff,#3a3aff,#3939ff,#3434ff,#2f2fff,#2b2bff,#2828ff,#2626ff,#2525ff,#2626ff,#2626ff,#2828ff,#2a2aff,#2d2dff,#3030ff,#3434ff,#3939ff,#3939ff,#3a3aff,#3b3bff,#3b3bff,#3c3cff,#3d3dff,#3e3eff,#3f3fff,#4141ff,#4242ff,#4343ff,#4545ff,#4646ff)"></i><i style="height:2px;background:linear-gradient(90deg,#4e4eff,#4343ff,#3f3fff,#3c3cff,#3a3aff,#3939ff,#3636ff,#2f2fff,#2a2aff,#2626ff,#2424ff,#2222ff,#2121ff,#2121ff,#2222ff,#2424ff,#2626ff,#2929ff,#2d2dff,#3131ff,#3636ff,#3939ff,#3a3aff,#3a3aff,#3b3bff,#3c3cff,#3d3dff,#3e3eff,#4040ff,#4141ff,#4242ff,#4444ff,#4545ff,#4747ff)"></i><i style="height:2px;background:linear-gradient(90deg,#4c4cff,#4242ff,#3e3eff,#3c3cff,#3a3aff,#3939ff,#3131ff,#2a2aff,#2525ff,#2222ff,#1f1fff,#1e1eff,#1d1dff,#1d1dff,#1e1eff,#2020ff,#2222ff,#2626ff,#2a2aff,#2e2eff,#3434ff,#3939ff,#3a3aff,#3a3aff,#3b3bff,#3c3cff,#3d3dff,#3f3fff,#4040ff,#4141ff,#4343ff,#4444ff,#4646ff,#4848ff)"></i><i style="height:2px;background:linear-gradient(90deg,#4c4cff,#4242ff,#3e3eff,#3b3bff,#3a3aff,#3636ff,#2d2dff,#2727ff,#2121ff,#1e1eff,#1b1bff,#1a1aff,#1919ff,#1919ff,#1a1aff,#1c1cff,#1f1fff,#2323ff,#2727ff,#2c2cff,#3333ff,#3939ff,#3a3aff,#3a3aff,#3b3bff,#3d3dff,#3e3eff,#3f3fff,#4040ff,#4242ff,#4444ff,#4545ff,#4747ff,#4949ff)"></i><i style="height:2px;background:linear-gradient(90deg,#4b4bff,#4242ff,#3d3dff,#3b3bff,#3939ff,#3232ff,#2a2aff,#2323ff,#1e1eff,#1a1aff,#1717ff,#1616ff,#1515ff,#1616ff,#1717ff,#1919ff,#1c1cff,#2020ff,#2525ff,#2b2bff,#3232ff,#3939ff,#3a3aff,#3b3bff,#3c3cff,#3d3dff,#3e3eff,#4040ff,#4141ff,#4343ff,#4545ff,#4747ff,#4949ff,#4b4bff)"></i><i style="height:2px;background:linear-gradient(90deg,#4c4cff,#4242ff,#3d3dff,#3b3bff,#3939ff,#3030ff,#2727ff,#2020ff,#1b1bff,#1616ff,#1414ff,#1212ff,#1212ff,#1212ff,#1414ff,#1616ff,#1919ff,#1e1eff,#2323ff,#2a2aff,#3131ff,#3939ff,#3a3aff,#3b3bff,#3c3cff,#3d3dff,#3f3fff,#4141ff,#4242ff,#4444ff,#4646ff,#4848ff,#4b4bff,#4d4dff)"></i><i style="height:2px;background:linear-gradient(90deg,#4d4dff,#4242ff,#3e3eff,#3b3bff,#3939ff,#2f2fff,#2626ff,#1e1eff,#1818ff,#1313ff,#1111ff,#0f0fff,#0e0eff,#0f0fff,#1111ff,#1313ff,#1717ff,#1c1cff,#2323ff,#2a2aff,#3333ff,#3939ff,#3a3aff,#3b3bff,#3d3dff,#3e3eff,#4040ff,#4242ff,#4444ff,#4646ff,#4949ff,#4b4bff,#4e4eff,#5151ff)"></i><i style="height:2px;background:linear-gradient(90deg,#4f4fff,#4343ff,#3e3eff,#3b3bff,#3939ff,#3030ff,#2525ff,#1d1dff,#1616ff,#1111ff,#0e0eff,#0c0cff,#0b0bff,#0c0cff,#0e0eff,#1111ff,#1515ff,#1b1bff,#2323ff,#2b2bff,#3636ff,#3a3aff,#3b3bff,#3c3cff,#3e3eff,#4040ff,#4242ff,#4444ff,#4646ff,#4949ff,#4c4cff,#4f4fff,#5252ff,#5555ff)"></i><i style="height:2px;background:linear-gradient(90deg,#5252ff,#4545ff,#3f3fff,#3c3cff,#3a3aff,#3333ff,#2626ff,#1c1cff,#1414ff,#0f0fff,#0b0bff,#0909ff,#0808ff,#0909ff,#0b0bff,#0f0fff,#1414ff,#1c1cff,#2424ff,#2e2eff,#3939ff,#3a3aff,#3c3cff,#3e3eff,#4040ff,#4242ff,#4444ff,#4747ff,#4a4aff,#4d4dff,#5050ff,#5454ff,#5757ff,#5b5bff)"></i><i style="height:1px;background:linear-gradient(90deg,#5757ff,#4848ff,#4141ff,#3e3eff,#3b3bff,#3939ff,#2a2aff,#1e1eff,#1515ff,#0e0eff,#0909ff,#0606ff,#0505ff,#0707ff,#0a0aff,#0e0eff,#1515ff,#1e1eff,#2828ff,#3535ff,#3a3aff,#3c3cff,#3d3dff,#4040ff,#4242ff,#4545ff,#4848ff,#4b4bff,#4e4eff,#5252ff,#5656ff,#5b5bff,#5f5fff,#6464ff)"></i><i style="height:1px;background:linear-gradient(90deg,#5b5bff,#4a4aff,#4343ff,#3f3fff,#3c3cff,#3939ff,#2d2dff,#2020ff,#1515ff,#0d0dff,#0808ff,#0505ff,#0404ff,#0505ff,#0909ff,#0e0eff,#1515ff,#1f1fff,#2b2bff,#3939ff,#3a3aff,#3c3cff,#3f3fff,#4141ff,#4444ff,#4747ff,#4a4aff,#4e4eff,#5252ff,#5656ff,#5b5bff,#6060ff,#6565ff,#6b6bff)"></i><i style="height:1px;background:linear-gradient(90deg,#6161ff,#4e4eff,#4545ff,#4040ff,#3d3dff,#3a3aff,#3232ff,#2323ff,#1616ff,#0d0dff,#0707ff,#0404ff,#0202ff,#0404ff,#0808ff,#0e0eff,#1717ff,#2323ff,#3131ff,#3a3aff,#3c3cff,#3e3eff,#4141ff,#4343ff,#4747ff,#4a4aff,#4e4eff,#5353ff,#5757ff,#5c5cff,#6262ff,#6868ff,#6e6eff,#7272ff)"></i><i style="height:1px;background:linear-gradient(90deg,#6d6dff,#5555ff,#4a4aff,#4444ff,#3f3fff,#3c3cff,#3939ff,#2b2bff,#1b1bff,#0f0fff,#0808ff,#0303ff,#0101ff,#0303ff,#0808ff,#1010ff,#1c1cff,#2b2bff,#3939ff,#3b3bff,#3e3eff,#4141ff,#4444ff,#4848ff,#4d4dff,#5151ff,#5656ff,#5c5cff,#6262ff,#6969ff,#7070ff,#7272ff,#7373ff,#7474ff)"></i><i style="height:1px;background:linear-gradient(90deg,#7272ff,#5c5cff,#4f4fff,#4848ff,#4242ff,#3e3eff,#3b3bff,#3333ff,#1f1fff,#1111ff,#0808ff,#0202ff,#0000ff,#0202ff,#0909ff,#1212ff,#2020ff,#3434ff,#3a3aff,#3d3dff,#4040ff,#4444ff,#4848ff,#4d4dff,#5252ff,#5858ff,#5e5eff,#6565ff,#6d6dff,#7272ff,#7373ff,#7474ff,#7575ff,#7676ff)"></i><i style="height:1px;background:linear-gradient(90deg,#8b8bff,#7e7eff,#7878ff,#7575ff,#7272ff,#6464ff,#5656ff,#4a4aff,#4141ff,#3b3bff,#2424ff,#0a0aff,#0000ff,#0b0bff,#2929ff,#3c3cff,#4242ff,#4b4bff,#5555ff,#6161ff,#7171ff,#7373ff,#7575ff,#7777ff,#7979ff,#7c7cff,#7f7fff,#8282ff,#8686ff,#8989ff,#8e8eff,#9292ff,#9797ff,#9b9bff)"></i><i style="height:1px;background:linear-gradient(90deg,#b0b0ff,#ababff,#9b9bff,#8e8eff,#8484ff,#7d7dff,#7878ff,#7474ff,#6969ff,#5050ff,#4141ff,#2828ff,#0000ff,#2e2eff,#4242ff,#5353ff,#6b6bff,#7474ff,#7878ff,#7c7cff,#8282ff,#8888ff,#8f8fff,#9797ff,#a0a0ff,#aaaaff,#ababff,#acacff,#aeaeff,#afafff,#b0b0ff,#b2b2ff,#b4b4ff,#b6b6ff)"></i><i style="height:0.2px;background:linear-gradient(90deg,#b5b5ff,#aeaeff,#ababff,#9d9dff,#8f8fff,#8585ff,#7d7dff,#7878ff,#7373ff,#5d5dff,#4747ff,#3939ff,#0000ff,#3a3aff,#4949ff,#6161ff,#7373ff,#7878ff,#7d7dff,#8484ff,#8c8cff,#9595ff,#9f9fff,#aaaaff,#ababff,#adadff,#aeaeff,#b0b0ff,#b2b2ff,#b4b4ff,#b6b6ff,#b8b8ff,#bbbbff,#bdbdff)"></i></div><div class="h" style="left:50.1px;top:43.3px;width:16px;height:267.2px"><i style="height:3px;background:linear-gradient(90deg,#ffbebe,#ffc2c2,#ffc6c6,#ffcaca,#ffcece,#ffd2d2,#ffd6d6,#ffdada,#ffdfdf,#ffe3e3,#f3f3ff,#d1d1ff,#cfcfff,#cdcdff,#cbcbff,#c9c9ff,#c7c7ff)"></i><i style="height:3px;background:linear-gradient(90deg,#ffbebe,#ffc3c3,#ffc7c7,#ffcbcb,#ffcfcf,#ffd3d3,#ffd7d7,#ffdbdb,#ffdfdf,#ffe4e4,#f2f2ff,#d0d0ff,#ceceff,#ccccff,#cacaff,#c8c8ff,#c6c6ff)"></i><i style="height:3px;background:linear-gradient(90deg,#ffbfbf,#ffc3c3,#ffc7c7,#ffcbcb,#ffcfcf,#ffd3d3,#ffd7d7,#ffdbdb,#ffdfdf,#ffe5e5,#f2f2ff,#d0d0ff,#ceceff,#ccccff,#cacaff,#c8c8ff,#c6c6ff)"></i><i style="height:3px;background:linear-gradient(90deg,#ffc0c0,#ffc4c4,#ffc8c8,#ffcccc,#ffcfcf,#ffd3d3,#ffd7d7,#ffdbdb,#ffdfdf,#ffe6e6,#f1f1ff,#cfcfff,#cdcdff,#cbcbff,#c9c9ff,#c7c7ff,#c5c5ff)"></i><i style="height:3px;background:linear-gradient(90deg,#ffc1c1,#ffc4c4,#ffc8c8,#ffcccc,#ffd0d0,#ffd4d4,#ffd8d8,#ffdbdb,#ffdfdf,#ffe7e7,#f1f1ff,#ceceff,#ccccff,#cacaff,#c8c8ff,#c6c6ff,#c4c4ff)"></i><i style="height:3px;background:linear-gradient(90deg,#ffc1c1,#ffc5c5,#ffc9c9,#ffcdcd,#ffd0d0,#ffd4d4,#ffd8d8,#ffdcdc,#ffdfdf,#ffe8e8,#f1f1ff,#cdcdff,#cbcbff,#cacaff,#c8c8ff,#c6c6ff,#c4c4ff)"></i><i style="height:3px;background:linear-gradient(90deg,#ffc2c2,#ffc6c6,#ffc9c9,#ffcdcd,#ffd1d1,#ffd4d4,#ffd8d8,#ffdcdc,#ffe0e0,#ffe9e9,#f0f0ff,#cdcdff,#cbcbff,#c9c9ff,#c7c7ff,#c5c5ff,#c3c3ff)"></i><i style="height:3px;background:linear-gradient(90deg,#ffc3c3,#ffc6c6,#ffcaca,#ffcece,#ffd1d1,#ffd5d5,#ffd9d9,#ffdcdc,#ffe0e0,#ffeaea,#f0f0ff,#ccccff,#cacaff,#c8c8ff,#c6c6ff,#c4c4ff,#c3c3ff)"></i><i style="height:3px;background:linear-gradient(90deg,#ffc4c4,#ffc7c7,#ffcbcb,#ffcece,#ffd2d2,#ffd5d5,#ffd9d9,#ffdcdc,#ffe0e0,#ffebeb,#f0f0ff,#cbcbff,#c9c9ff,#c7c7ff,#c6c6ff,#c4c4ff,#c2c2ff)"></i><i style="height:3px;background:linear-gradient(90deg,#ffc4c4,#ffc8c8,#ffcbcb,#ffcfcf,#ffd2d2,#ffd6d6,#ffd9d9,#ffdddd,#ffe0e0,#ffecec,#efefff,#cacaff,#c8c8ff,#c7c7ff,#c5c5ff,#c3c3ff,#c1c1ff)"></i><i style="height:3px;background:linear-gradient(90deg,#ffc5c5,#ffc8c8,#ffcccc,#ffcfcf,#ffd3d3,#ffd6d6,#ffd9d9,#ffdddd,#ffe0e0,#ffeded,#efefff,#c9c9ff,#c8c8ff,#c6c6ff,#c4c4ff,#c2c2ff,#c1c1ff)"></i><i style="height:3px;background:linear-gradient(90deg,#ffc6c6,#ffc9c9,#ffcdcd,#ffd0d0,#ffd3d3,#ffd6d6,#ffdada,#ffdddd,#ffe0e0,#ffeeee,#eeeeff,#c9c9ff,#c7c7ff,#c5c5ff,#c3c3ff,#c2c2ff,#c0c0ff)"></i><i style="height:3px;background:linear-gradient(90deg,#ffc7c7,#ffcaca,#ffcdcd,#ffd0d0,#ffd4d4,#ffd7d7,#ffdada,#ffdddd,#ffe1e1,#ffefef,#eeeeff,#c8c8ff,#c6c6ff,#c4c4ff,#c3c3ff,#c1c1ff,#bfbfff)"></i><i style="height:3px;background:linear-gradient(90deg,#ffc7c7,#ffcbcb,#ffcece,#ffd1d1,#ffd4d4,#ffd7d7,#ffdbdb,#ffdede,#ffe1e1,#fff1f1,#eeeeff,#c7c7ff,#c5c5ff,#c4c4ff,#c2c2ff,#c0c0ff,#bfbfff)"></i><i style="height:3px;background:linear-gradient(90deg,#ffc8c8,#ffcbcb,#ffcece,#ffd2d2,#ffd5d5,#ffd8d8,#ffdbdb,#ffdede,#ffe1e1,#fff2f2,#ededff,#c6c6ff,#c4c4ff,#c3c3ff,#c1c1ff,#c0c0ff,#bebeff)"></i><i style="height:3px;background:linear-gradient(90deg,#ffc9c9,#ffcccc,#ffcfcf,#ffd2d2,#ffd5d5,#ffd8d8,#ffdbdb,#ffdede,#ffe1e1,#fff3f3,#ededff,#c5c5ff,#c4c4ff,#c2c2ff,#c1c1ff,#bfbfff,#bebeff)"></i><i style="height:3px;background:linear-gradient(90deg,#ffcaca,#ffcdcd,#ffd0d0,#ffd3d3,#ffd6d6,#ffd9d9,#ffdcdc,#ffdfdf,#ffe1e1,#fff4f4,#ececff,#c4c4ff,#c3c3ff,#c1c1ff,#c0c0ff,#bebeff,#bdbdff)"></i><i style="height:3px;background:linear-gradient(90deg,#ffcbcb,#ffcece,#ffd0d0,#ffd3d3,#ffd6d6,#ffd9d9,#ffdcdc,#ffdfdf,#ffe2e2,#fff5f5,#ececff,#c3c3ff,#c2c2ff,#c1c1ff,#bfbfff,#bebeff,#bcbcff)"></i><i style="height:3px;background:linear-gradient(90deg,#ffcccc,#ffcece,#ffd1d1,#ffd4d4,#ffd7d7,#ffd9d9,#ffdcdc,#ffdfdf,#ffe2e2,#fff7f7,#ebebff,#c3c3ff,#c1c1ff,#c0c0ff,#bebeff,#bdbdff,#bcbcff)"></i><i style="height:3px;background:linear-gradient(90deg,#ffcccc,#ffcfcf,#ffd2d2,#ffd4d4,#ffd7d7,#ffdada,#ffdddd,#ffdfdf,#ffe2e2,#fff8f8,#ebebff,#c2c2ff,#c0c0ff,#bfbfff,#bebeff,#bcbcff,#bbbbff)"></i><i style="height:3px;background:linear-gradient(90deg,#ffcdcd,#ffd0d0,#ffd2d2,#ffd5d5,#ffd8d8,#ffdada,#ffdddd,#ffe0e0,#ffe2e2,#fff9f9,#ebebff,#c1c1ff,#c0c0ff,#bebeff,#bdbdff,#bcbcff,#babaff)"></i><i style="height:3px;background:linear-gradient(90deg,#ffcece,#ffd1d1,#ffd3d3,#ffd6d6,#ffd8d8,#ffdbdb,#ffdddd,#ffe0e0,#ffe2e2,#fffafa,#eaeaff,#c0c0ff,#bfbfff,#bdbdff,#bcbcff,#bbbbff,#babaff)"></i><i style="height:3px;background:linear-gradient(90deg,#ffcfcf,#ffd1d1,#ffd4d4,#ffd6d6,#ffd9d9,#ffdbdb,#ffdede,#ffe0e0,#ffe3e3,#fffbfb,#eaeaff,#bfbfff,#bebeff,#bdbdff,#bbbbff,#babaff,#b9b9ff)"></i><i style="height:3px;background:linear-gradient(90deg,#ffd0d0,#ffd2d2,#ffd4d4,#ffd7d7,#ffd9d9,#ffdcdc,#ffdede,#ffe0e0,#ffe5e5,#fffdfd,#e9e9ff,#bebeff,#bdbdff,#bcbcff,#bbbbff,#b9b9ff,#b8b8ff)"></i><i style="height:3px;background:linear-gradient(90deg,#ffd0d0,#ffd3d3,#ffd5d5,#ffd7d7,#ffdada,#ffdcdc,#ffdede,#ffe1e1,#ffe7e7,#fffefe,#e9e9ff,#bdbdff,#bcbcff,#bbbbff,#babaff,#b9b9ff,#b8b8ff)"></i><i style="height:3px;background:linear-gradient(90deg,#ffd1d1,#ffd4d4,#ffd6d6,#ffd8d8,#ffdada,#ffdddd,#ffdfdf,#ffe1e1,#ffe9e9,#ffffff,#e9e9ff,#bcbcff,#bbbbff,#babaff,#b9b9ff,#b8b8ff,#b7b7ff)"></i><i style="height:3px;background:linear-gradient(90deg,#ffd2d2,#ffd4d4,#ffd6d6,#ffd9d9,#ffdbdb,#ffdddd,#ffdfdf,#ffe1e1,#ffebeb,#fefeff,#e8e8ff,#bcbcff,#bbbbff,#b9b9ff,#b8b8ff,#b7b7ff,#b6b6ff)"></i><i style="height:3px;background:linear-gradient(90deg,#ffd3d3,#ffd5d5,#ffd7d7,#ffd9d9,#ffdbdb,#ffdddd,#ffdfdf,#ffe2e2,#ffeded,#fdfdff,#e8e8ff,#bbbbff,#babaff,#b9b9ff,#b8b8ff,#b7b7ff,#b6b6ff)"></i><i style="height:3px;background:linear-gradient(90deg,#ffd4d4,#ffd6d6,#ffd8d8,#ffdada,#ffdcdc,#ffdede,#ffe0e0,#ffe2e2,#ffefef,#fbfbff,#e7e7ff,#babaff,#b9b9ff,#b8b8ff,#b7b7ff,#b6b6ff,#b5b5ff)"></i><i style="height:3px;background:linear-gradient(90deg,#ffd5d5,#ffd7d7,#ffd8d8,#ffdada,#ffdcdc,#ffdede,#ffe0e0,#ffe2e2,#fff0f0,#fafaff,#e7e7ff,#b9b9ff,#b8b8ff,#b7b7ff,#b6b6ff,#b5b5ff,#b4b4ff)"></i><i style="height:3px;background:linear-gradient(90deg,#ffd5d5,#ffd7d7,#ffd9d9,#ffdbdb,#ffdddd,#ffdfdf,#ffe1e1,#ffe2e2,#fff2f2,#f9f9ff,#e6e6ff,#b8b8ff,#b7b7ff,#b6b6ff,#b5b5ff,#b5b5ff,#b4b4ff)"></i><i style="height:3px;background:linear-gradient(90deg,#ffd6d6,#ffd8d8,#ffdada,#ffdbdb,#ffdddd,#ffdfdf,#ffe1e1,#ffe3e3,#fff4f4,#f8f8ff,#e6e6ff,#b7b7ff,#b7b7ff,#b6b6ff,#b5b5ff,#b4b4ff,#b3b3ff)"></i><i style="height:3px;background:linear-gradient(90deg,#ffd7d7,#ffd9d9,#ffdada,#ffdcdc,#ffdede,#ffdfdf,#ffe1e1,#ffe5e5,#fff6f6,#f7f7ff,#e6e6ff,#b7b7ff,#b6b6ff,#b5b5ff,#b4b4ff,#b3b3ff,#b2b2ff)"></i><i style="height:3px;background:linear-gradient(90deg,#ffd8d8,#ffd9d9,#ffdbdb,#ffdddd,#ffdede,#ffe0e0,#ffe2e2,#ffe8e8,#fff8f8,#f6f6ff,#e5e5ff,#b6b6ff,#b5b5ff,#b4b4ff,#b3b3ff,#b3b3ff,#b2b2ff)"></i><i style="height:3px;background:linear-gradient(90deg,#ffd8d8,#ffdada,#ffdcdc,#ffdddd,#ffdfdf,#ffe0e0,#ffe2e2,#ffeaea,#fffafa,#f5f5ff,#e5e5ff,#b5b5ff,#b4b4ff,#b3b3ff,#b3b3ff,#b2b2ff,#b1b1ff)"></i><i style="height:3px;background:linear-gradient(90deg,#ffd9d9,#ffdbdb,#ffdcdc,#ffdede,#ffdfdf,#ffe1e1,#ffe2e2,#ffeded,#fffcfc,#f3f3ff,#e4e4ff,#b4b4ff,#b4b4ff,#b3b3ff,#b2b2ff,#b1b1ff,#b1b1ff)"></i><i style="height:3px;background:linear-gradient(90deg,#ffdada,#ffdbdb,#ffdddd,#ffdede,#ffe0e0,#ffe1e1,#ffe2e2,#ffefef,#fffdfd,#f2f2ff,#e4e4ff,#b4b4ff,#b3b3ff,#b2b2ff,#b1b1ff,#b1b1ff,#b0b0ff)"></i><i style="height:3px;background:linear-gradient(90deg,#ffdbdb,#ffdcdc,#ffdddd,#ffdfdf,#ffe0e0,#ffe1e1,#ffe4e4,#fff1f1,#ffffff,#f1f1ff,#e4e4ff,#b3b3ff,#b2b2ff,#b1b1ff,#b1b1ff,#b0b0ff,#afafff)"></i><i style="height:3px;background:linear-gradient(90deg,#ffdbdb,#ffdddd,#ffdede,#ffdfdf,#ffe0e0,#ffe2e2,#ffe7e7,#fff4f4,#fdfdff,#f0f0ff,#e3e3ff,#b2b2ff,#b1b1ff,#b1b1ff,#b0b0ff,#afafff,#afafff)"></i><i style="height:3px;background:linear-gradient(90deg,#ffdcdc,#ffdddd,#ffdede,#ffe0e0,#ffe1e1,#ffe2e2,#ffeaea,#fff6f6,#fcfcff,#efefff,#e3e3ff,#b1b1ff,#b1b1ff,#b0b0ff,#afafff,#afafff,#aeaeff)"></i><i style="height:3px;background:linear-gradient(90deg,#ffdddd,#ffdede,#ffdfdf,#ffe0e0,#ffe1e1,#ffe2e2,#ffecec,#fff8f8,#fafaff,#eeeeff,#e3e3ff,#b1b1ff,#b0b0ff,#afafff,#afafff,#aeaeff,#aeaeff)"></i><i style="height:3px;background:linear-gradient(90deg,#ffdddd,#ffdede,#ffdfdf,#ffe1e1,#ffe2e2,#ffe4e4,#ffefef,#fffafa,#f9f9ff,#eeeeff,#e0e0ff,#b0b0ff,#afafff,#afafff,#aeaeff,#aeaeff,#adadff)"></i><i style="height:3px;background:linear-gradient(90deg,#ffdede,#ffdfdf,#ffe0e0,#ffe1e1,#ffe2e2,#ffe7e7,#fff2f2,#fffcfc,#f7f7ff,#ededff,#ddddff,#afafff,#afafff,#aeaeff,#aeaeff,#adadff,#adadff)"></i><i style="height:3px;background:linear-gradient(90deg,#ffdede,#ffdfdf,#ffe0e0,#ffe1e1,#ffe2e2,#ffeaea,#fff4f4,#fffefe,#f6f6ff,#ececff,#dadaff,#afafff,#aeaeff,#aeaeff,#adadff,#adadff,#acacff)"></i><i style="height:3px;background:linear-gradient(90deg,#ffdfdf,#ffe0e0,#ffe1e1,#ffe2e2,#ffe4e4,#ffeeee,#fff7f7,#fefeff,#f4f4ff,#ebebff,#d7d7ff,#aeaeff,#aeaeff,#adadff,#adadff,#acacff,#acacff)"></i><i style="height:3px;background:linear-gradient(90deg,#ffe0e0,#ffe1e1,#ffe1e1,#ffe2e2,#ffe8e8,#fff1f1,#fff9f9,#fcfcff,#f3f3ff,#eaeaff,#d4d4ff,#aeaeff,#adadff,#adadff,#acacff,#acacff,#ababff)"></i><i style="height:3px;background:linear-gradient(90deg,#ffe0e0,#ffe1e1,#ffe2e2,#ffe3e3,#ffebeb,#fff3f3,#fffcfc,#fafaff,#f2f2ff,#e9e9ff,#d1d1ff,#adadff,#adadff,#acacff,#acacff,#ababff,#ababff)"></i><i style="height:3px;background:linear-gradient(90deg,#ffe1e1,#ffe1e1,#ffe2e2,#ffe7e7,#ffeeee,#fff6f6,#fffefe,#f8f8ff,#f0f0ff,#e8e8ff,#ceceff,#acacff,#acacff,#acacff,#ababff,#ababff,#aaaaff)"></i><i style="height:3px;background:linear-gradient(90deg,#ffe1e1,#ffe2e2,#ffe3e3,#ffeaea,#fff2f2,#fff9f9,#fefeff,#f6f6ff,#efefff,#e8e8ff,#ccccff,#acacff,#ababff,#ababff,#ababff,#aaaaff,#aaaaff)"></i><i style="height:3px;background:linear-gradient(90deg,#ffe2e2,#ffe2e2,#ffe7e7,#ffeeee,#fff5f5,#fffbfb,#fcfcff,#f5f5ff,#eeeeff,#e7e7ff,#c9c9ff,#ababff,#ababff,#ababff,#aaaaff,#a9a9ff,#a6a6ff)"></i><i style="height:3px;background:linear-gradient(90deg,#ffe2e2,#ffe4e4,#ffebeb,#fff1f1,#fff8f8,#fffefe,#fafaff,#f3f3ff,#ededff,#e6e6ff,#c7c7ff,#ababff,#ababff,#aaaaff,#a9a9ff,#a5a5ff,#a2a2ff)"></i><i style="height:3px;background:linear-gradient(90deg,#ffe3e3,#ffe8e8,#ffeeee,#fff4f4,#fffafa,#fefeff,#f8f8ff,#f2f2ff,#ececff,#e6e6ff,#c4c4ff,#aaaaff,#aaaaff,#a7a7ff,#a4a4ff,#a1a1ff,#9e9eff)"></i><i style="height:3px;background:linear-gradient(90deg,#ffe7e7,#ffecec,#fff2f2,#fff7f7,#fffdfd,#fbfbff,#f6f6ff,#f0f0ff,#ebebff,#e5e5ff,#c2c2ff,#a9a9ff,#a6a6ff,#a3a3ff,#a1a1ff,#9e9eff,#9b9bff)"></i><i style="height:3px;background:linear-gradient(90deg,#ffebeb,#fff0f0,#fff5f5,#fffafa,#fefeff,#f9f9ff,#f4f4ff,#efefff,#eaeaff,#e4e4ff,#c0c0ff,#a5a5ff,#a2a2ff,#9f9fff,#9d9dff,#9a9aff,#9898ff)"></i><i style="height:3px;background:linear-gradient(90deg,#ffefef,#fff3f3,#fff8f8,#fffdfd,#fcfcff,#f7f7ff,#f2f2ff,#ededff,#e9e9ff,#e4e4ff,#bebeff,#a1a1ff,#9e9eff,#9c9cff,#9999ff,#9797ff,#9494ff)"></i><i style="height:3px;background:linear-gradient(90deg,#fff2f2,#fff7f7,#fffbfb,#fefeff,#fafaff,#f5f5ff,#f1f1ff,#ececff,#e8e8ff,#e3e3ff,#bcbcff,#9d9dff,#9a9aff,#9898ff,#9696ff,#9494ff,#9191ff)"></i><i style="height:3px;background:linear-gradient(90deg,#fff6f6,#fffafa,#fffefe,#fcfcff,#f7f7ff,#f3f3ff,#efefff,#ebebff,#e7e7ff,#e3e3ff,#babaff,#9999ff,#9797ff,#9595ff,#9393ff,#9191ff,#8e8eff)"></i><i style="height:3px;background:linear-gradient(90deg,#fff9f9,#fffdfd,#fdfdff,#f9f9ff,#f5f5ff,#f2f2ff,#eeeeff,#eaeaff,#e6e6ff,#dfdfff,#b8b8ff,#9595ff,#9393ff,#9191ff,#9090ff,#8e8eff,#8c8cff)"></i><i style="height:3px;background:linear-gradient(90deg,#fffdfd,#fefeff,#fafaff,#f7f7ff,#f3f3ff,#f0f0ff,#ececff,#e9e9ff,#e5e5ff,#dadaff,#b7b7ff,#9292ff,#9090ff,#8e8eff,#8d8dff,#8b8bff,#8989ff)"></i><i style="height:3px;background:linear-gradient(90deg,#fefeff,#fbfbff,#f8f8ff,#f5f5ff,#f2f2ff,#eeeeff,#ebebff,#e8e8ff,#e5e5ff,#d6d6ff,#b5b5ff,#8f8fff,#8d8dff,#8c8cff,#8a8aff,#8888ff,#8787ff)"></i><i style="height:3px;background:linear-gradient(90deg,#fcfcff,#f9f9ff,#f6f6ff,#f3f3ff,#f0f0ff,#ededff,#eaeaff,#e7e7ff,#e4e4ff,#d1d1ff,#b4b4ff,#8c8cff,#8a8aff,#8989ff,#8787ff,#8686ff,#8484ff)"></i><i style="height:3px;background:linear-gradient(90deg,#f9f9ff,#f6f6ff,#f4f4ff,#f1f1ff,#eeeeff,#ebebff,#e9e9ff,#e6e6ff,#e3e3ff,#cdcdff,#b2b2ff,#8989ff,#8888ff,#8686ff,#8585ff,#8484ff,#8282ff)"></i><i style="height:3px;background:linear-gradient(90deg,#f6f6ff,#f4f4ff,#f1f1ff,#efefff,#ededff,#eaeaff,#e8e8ff,#e5e5ff,#e3e3ff,#cacaff,#b1b1ff,#8686ff,#8585ff,#8484ff,#8383ff,#8181ff,#8080ff)"></i><i style="height:3px;background:linear-gradient(90deg,#f4f4ff,#f2f2ff,#f0f0ff,#ededff,#ebebff,#e9e9ff,#e7e7ff,#e4e4ff,#ddddff,#c6c6ff,#b0b0ff,#8484ff,#8383ff,#8282ff,#8181ff,#7f7fff,#7e7eff)"></i><i style="height:3px;background:linear-gradient(90deg,#f2f2ff,#f0f0ff,#eeeeff,#ececff,#eaeaff,#e8e8ff,#e6e6ff,#e4e4ff,#d8d8ff,#c3c3ff,#afafff,#8282ff,#8181ff,#8080ff,#7f7fff,#7e7eff,#7d7dff)"></i><i style="height:3px;background:linear-gradient(90deg,#f0f0ff,#eeeeff,#ececff,#eaeaff,#e8e8ff,#e7e7ff,#e5e5ff,#e3e3ff,#d3d3ff,#c0c0ff,#aeaeff,#8080ff,#7f7fff,#7e7eff,#7d7dff,#7c7cff,#7b7bff)"></i><i style="height:3px;background:linear-gradient(90deg,#eeeeff,#ececff,#ebebff,#e9e9ff,#e7e7ff,#e6e6ff,#e4e4ff,#dfdfff,#ceceff,#bdbdff,#adadff,#7e7eff,#7d7dff,#7c7cff,#7b7bff,#7a7aff,#7979ff)"></i><i style="height:3px;background:linear-gradient(90deg,#ececff,#ebebff,#e9e9ff,#e8e8ff,#e6e6ff,#e5e5ff,#e3e3ff,#d9d9ff,#cacaff,#bbbbff,#acacff,#7c7cff,#7b7bff,#7a7aff,#7979ff,#7979ff,#7878ff)"></i><i style="height:2px;background:linear-gradient(90deg,#ebebff,#eaeaff,#e8e8ff,#e7e7ff,#e5e5ff,#e4e4ff,#e2e2ff,#d5d5ff,#c7c7ff,#b9b9ff,#ababff,#7a7aff,#7a7aff,#7979ff,#7878ff,#7878ff,#7777ff)"></i><i style="height:2px;background:linear-gradient(90deg,#eaeaff,#e9e9ff,#e7e7ff,#e6e6ff,#e5e5ff,#e3e3ff,#dedeff,#d1d1ff,#c4c4ff,#b8b8ff,#ababff,#7979ff,#7979ff,#7878ff,#7777ff,#7777ff,#7676ff)"></i><i style="height:2px;background:linear-gradient(90deg,#e9e9ff,#e8e8ff,#e7e7ff,#e5e5ff,#e4e4ff,#e3e3ff,#dadaff,#ceceff,#c2c2ff,#b6b6ff,#aaaaff,#7878ff,#7878ff,#7777ff,#7676ff,#7676ff,#7575ff)"></i><i style="height:2px;background:linear-gradient(90deg,#e8e8ff,#e7e7ff,#e6e6ff,#e5e5ff,#e4e4ff,#e1e1ff,#d6d6ff,#cbcbff,#c0c0ff,#b5b5ff,#a7a7ff,#7777ff,#7777ff,#7676ff,#7676ff,#7575ff,#7575ff)"></i><i style="height:2px;background:linear-gradient(90deg,#e7e7ff,#e6e6ff,#e5e5ff,#e4e4ff,#e3e3ff,#ddddff,#d2d2ff,#c8c8ff,#bebeff,#b4b4ff,#a3a3ff,#7676ff,#7676ff,#7575ff,#7575ff,#7474ff,#7474ff)"></i><i style="height:2px;background:linear-gradient(90deg,#e6e6ff,#e5e5ff,#e4e4ff,#e4e4ff,#e2e2ff,#d8d8ff,#cfcfff,#c5c5ff,#bcbcff,#b2b2ff,#9f9fff,#7676ff,#7575ff,#7575ff,#7474ff,#7474ff,#7373ff)"></i><i style="height:2px;background:linear-gradient(90deg,#e6e6ff,#e5e5ff,#e4e4ff,#e3e3ff,#ddddff,#d5d5ff,#ccccff,#c3c3ff,#babaff,#b1b1ff,#9b9bff,#7575ff,#7474ff,#7474ff,#7373ff,#7373ff,#7373ff)"></i><i style="height:2px;background:linear-gradient(90deg,#e5e5ff,#e4e4ff,#e3e3ff,#e1e1ff,#d9d9ff,#d1d1ff,#c9c9ff,#c1c1ff,#b8b8ff,#b0b0ff,#9797ff,#7474ff,#7474ff,#7373ff,#7373ff,#7272ff,#7272ff)"></i><i style="height:2px;background:linear-gradient(90deg,#e4e4ff,#e4e4ff,#e3e3ff,#ddddff,#d5d5ff,#cdcdff,#c6c6ff,#bebeff,#b7b7ff,#afafff,#9494ff,#7373ff,#7373ff,#7373ff,#7272ff,#7272ff,#7171ff)"></i><i style="height:2px;background:linear-gradient(90deg,#e4e4ff,#e3e3ff,#dfdfff,#d8d8ff,#d1d1ff,#cacaff,#c3c3ff,#bcbcff,#b5b5ff,#aeaeff,#9191ff,#7373ff,#7272ff,#7272ff,#7272ff,#7171ff,#6e6eff)"></i><i style="height:2px;background:linear-gradient(90deg,#e3e3ff,#e1e1ff,#dbdbff,#d4d4ff,#ceceff,#c7c7ff,#c1c1ff,#bbbbff,#b4b4ff,#aeaeff,#8e8eff,#7272ff,#7272ff,#7272ff,#7070ff,#6d6dff,#6a6aff)"></i><i style="height:2px;background:linear-gradient(90deg,#e2e2ff,#dcdcff,#d6d6ff,#d1d1ff,#cbcbff,#c5c5ff,#bfbfff,#b9b9ff,#b3b3ff,#adadff,#8b8bff,#7272ff,#7171ff,#6e6eff,#6b6bff,#6868ff,#6565ff)"></i><i style="height:2px;background:linear-gradient(90deg,#dedeff,#d8d8ff,#d3d3ff,#cdcdff,#c8c8ff,#c2c2ff,#bdbdff,#b7b7ff,#b2b2ff,#acacff,#8989ff,#6f6fff,#6c6cff,#6a6aff,#6767ff,#6464ff,#6161ff)"></i><i style="height:2px;background:linear-gradient(90deg,#d7d7ff,#d3d3ff,#ceceff,#c9c9ff,#c4c4ff,#bfbfff,#babaff,#b5b5ff,#b0b0ff,#ababff,#8686ff,#6b6bff,#6868ff,#6565ff,#6363ff,#6060ff,#5e5eff)"></i><i style="height:2px;background:linear-gradient(90deg,#d2d2ff,#ceceff,#cacaff,#c5c5ff,#c1c1ff,#bcbcff,#b8b8ff,#b3b3ff,#afafff,#ababff,#8383ff,#6666ff,#6464ff,#6262ff,#5f5fff,#5d5dff,#5a5aff)"></i><i style="height:2px;background:linear-gradient(90deg,#d1d1ff,#cdcdff,#c8c8ff,#c4c4ff,#c0c0ff,#bcbcff,#b7b7ff,#b3b3ff,#afafff,#aaaaff,#8282ff,#6363ff,#6060ff,#5e5eff,#5c5cff,#5a5aff,#5858ff)"></i><i style="height:2px;background:linear-gradient(90deg,#ceceff,#cacaff,#c6c6ff,#c2c2ff,#bebeff,#babaff,#b6b6ff,#b2b2ff,#aeaeff,#aaaaff,#8181ff,#5f5fff,#5d5dff,#5b5bff,#5959ff,#5757ff,#5555ff)"></i><i style="height:2px;background:linear-gradient(90deg,#ccccff,#c8c8ff,#c4c4ff,#c0c0ff,#bdbdff,#b9b9ff,#b5b5ff,#b1b1ff,#adadff,#a5a5ff,#8080ff,#5c5cff,#5a5aff,#5858ff,#5757ff,#5555ff,#5353ff)"></i><i style="height:2px;background:linear-gradient(90deg,#c9c9ff,#c6c6ff,#c2c2ff,#bfbfff,#bbbbff,#b7b7ff,#b4b4ff,#b0b0ff,#adadff,#a2a2ff,#7e7eff,#5a5aff,#5858ff,#5656ff,#5454ff,#5252ff,#5151ff)"></i><i style="height:2px;background:linear-gradient(90deg,#c7c7ff,#c4c4ff,#c0c0ff,#bdbdff,#babaff,#b6b6ff,#b3b3ff,#b0b0ff,#acacff,#9f9fff,#7d7dff,#5858ff,#5656ff,#5454ff,#5252ff,#5151ff,#4f4fff)"></i><i style="height:2px;background:linear-gradient(90deg,#c6c6ff,#c2c2ff,#bfbfff,#bcbcff,#b9b9ff,#b5b5ff,#b2b2ff,#afafff,#acacff,#9d9dff,#7c7cff,#5656ff,#5454ff,#5252ff,#5151ff,#4f4fff,#4e4eff)"></i><i style="height:2px;background:linear-gradient(90deg,#c4c4ff,#c1c1ff,#bebeff,#bbbbff,#b8b8ff,#b5b5ff,#b2b2ff,#afafff,#acacff,#9b9bff,#7c7cff,#5454ff,#5353ff,#5151ff,#5050ff,#4e4eff,#4c4cff)"></i><i style="height:2px;background:linear-gradient(90deg,#c4c4ff,#c1c1ff,#bdbdff,#babaff,#b7b7ff,#b4b4ff,#b1b1ff,#aeaeff,#ababff,#9a9aff,#7b7bff,#5454ff,#5252ff,#5050ff,#4f4fff,#4d4dff,#4c4cff)"></i><i style="height:2px;background:linear-gradient(90deg,#c3c3ff,#c0c0ff,#bdbdff,#babaff,#b7b7ff,#b4b4ff,#b1b1ff,#aeaeff,#ababff,#9999ff,#7b7bff,#5353ff,#5252ff,#5050ff,#4f4fff,#4d4dff,#4b4bff)"></i><i style="height:2px;background:linear-gradient(90deg,#c4c4ff,#c0c0ff,#bdbdff,#babaff,#b7b7ff,#b4b4ff,#b1b1ff,#aeaeff,#ababff,#9a9aff,#7b7bff,#5353ff,#5252ff,#5050ff,#4f4fff,#4d4dff,#4c4cff)"></i><i style="height:2px;background:linear-gradient(90deg,#c5c5ff,#c2c2ff,#bfbfff,#bbbbff,#b8b8ff,#b5b5ff,#b2b2ff,#afafff,#acacff,#9c9cff,#7c7cff,#5555ff,#5353ff,#5252ff,#5050ff,#4e4eff,#4d4dff)"></i><i style="height:2px;background:linear-gradient(90deg,#c7c7ff,#c4c4ff,#c1c1ff,#bdbdff,#babaff,#b6b6ff,#b3b3ff,#b0b0ff,#acacff,#9f9fff,#7d7dff,#5757ff,#5656ff,#5454ff,#5252ff,#5050ff,#4f4fff)"></i><i style="height:2px;background:linear-gradient(90deg,#ccccff,#c8c8ff,#c4c4ff,#c0c0ff,#bcbcff,#b9b9ff,#b5b5ff,#b1b1ff,#adadff,#a5a5ff,#7f7fff,#5b5bff,#5959ff,#5858ff,#5656ff,#5454ff,#5252ff)"></i><i style="height:1px;background:linear-gradient(90deg,#d2d2ff,#ceceff,#c9c9ff,#c5c5ff,#c1c1ff,#bcbcff,#b8b8ff,#b3b3ff,#afafff,#aaaaff,#8383ff,#6262ff,#6060ff,#5e5eff,#5b5bff,#5959ff,#5757ff)"></i><i style="height:1px;background:linear-gradient(90deg,#d7d7ff,#d2d2ff,#cdcdff,#c9c9ff,#c4c4ff,#bfbfff,#babaff,#b5b5ff,#b0b0ff,#ababff,#8585ff,#6767ff,#6565ff,#6262ff,#6060ff,#5d5dff,#5b5bff)"></i><i style="height:1px;background:linear-gradient(90deg,#dfdfff,#d9d9ff,#d4d4ff,#ceceff,#c9c9ff,#c3c3ff,#bdbdff,#b8b8ff,#b2b2ff,#acacff,#8989ff,#6f6fff,#6c6cff,#6a6aff,#6767ff,#6464ff,#6161ff)"></i><i style="height:1px;background:linear-gradient(90deg,#e4e4ff,#e3e3ff,#e1e1ff,#dadaff,#d3d3ff,#ccccff,#c4c4ff,#bdbdff,#b6b6ff,#afafff,#9292ff,#7373ff,#7272ff,#7272ff,#7272ff,#7171ff,#6d6dff)"></i><i style="height:1px;background:linear-gradient(90deg,#e6e6ff,#e5e5ff,#e4e4ff,#e3e3ff,#ddddff,#d4d4ff,#cbcbff,#c3c3ff,#babaff,#b1b1ff,#9a9aff,#7575ff,#7474ff,#7474ff,#7373ff,#7373ff,#7272ff)"></i><i style="height:1px;background:linear-gradient(90deg,#fff8f8,#fffcfc,#fefeff,#fafaff,#f6f6ff,#f2f2ff,#eeeeff,#eaeaff,#e6e6ff,#e0e0ff,#b9b9ff,#9595ff,#9393ff,#9191ff,#8f8fff,#8d8dff,#8b8bff)"></i><i style="height:1px;background:linear-gradient(90deg,#ffdada,#ffdbdb,#ffdddd,#ffdede,#ffe0e0,#ffe1e1,#ffe2e2,#ffefef,#fffdfd,#f3f3ff,#e4e4ff,#b3b3ff,#b3b3ff,#b2b2ff,#b1b1ff,#b0b0ff,#b0b0ff)"></i><i style="height:0.2px;background:linear-gradient(90deg,#ffd3d3,#ffd5d5,#ffd7d7,#ffd9d9,#ffdbdb,#ffdddd,#ffe0e0,#ffe2e2,#ffeded,#fcfcff,#e8e8ff,#babaff,#b9b9ff,#b8b8ff,#b7b7ff,#b6b6ff,#b5b5ff)"></i></div><div class="h" style="left:458.7px;top:44.3px;width:264.1px;height:267.7px"><i style="height:3px;background:linear-gradient(90deg,#ffe8e8,#fffefe,#f7f7ff,#f2f2ff,#eeeeff,#ececff,#eaeaff,#e8e8ff,#e7e7ff,#e6e6ff,#e5e5ff,#e5e5ff,#e4e4ff,#e4e4ff,#e3e3ff,#e3e3ff,#e0e0ff,#ddddff,#dadaff,#d7d7ff,#d5d5ff,#d3d3ff,#d1d1ff,#cfcfff,#ceceff,#ccccff,#cbcbff,#cacaff,#c8c8ff,#c7c7ff,#c6c6ff,#c5c5ff,#c4c4ff,#c3c3ff)"></i><i style="height:3px;background:linear-gradient(90deg,#ffe9e9,#ffffff,#f6f6ff,#f1f1ff,#eeeeff,#ebebff,#eaeaff,#e8e8ff,#e7e7ff,#e6e6ff,#e5e5ff,#e4e4ff,#e4e4ff,#e3e3ff,#e3e3ff,#e2e2ff,#dfdfff,#dcdcff,#d9d9ff,#d6d6ff,#d4d4ff,#d2d2ff,#d0d0ff,#cfcfff,#cdcdff,#ccccff,#cacaff,#c9c9ff,#c8c8ff,#c7c7ff,#c6c6ff,#c5c5ff,#c4c4ff,#c3c3ff)"></i><i style="height:3px;background:linear-gradient(90deg,#ffeaea,#ffffff,#f6f6ff,#f1f1ff,#eeeeff,#ebebff,#e9e9ff,#e8e8ff,#e7e7ff,#e6e6ff,#e5e5ff,#e4e4ff,#e4e4ff,#e3e3ff,#e3e3ff,#e1e1ff,#dedeff,#dbdbff,#d8d8ff,#d6d6ff,#d4d4ff,#d2d2ff,#d0d0ff,#ceceff,#ccccff,#cbcbff,#cacaff,#c8c8ff,#c7c7ff,#c6c6ff,#c5c5ff,#c4c4ff,#c3c3ff,#c2c2ff)"></i><i style="height:3px;background:linear-gradient(90deg,#ffebeb,#fefeff,#f6f6ff,#f1f1ff,#ededff,#ebebff,#e9e9ff,#e8e8ff,#e7e7ff,#e6e6ff,#e5e5ff,#e4e4ff,#e4e4ff,#e3e3ff,#e3e3ff,#e0e0ff,#ddddff,#dadaff,#d7d7ff,#d5d5ff,#d3d3ff,#d1d1ff,#cfcfff,#cdcdff,#ccccff,#cacaff,#c9c9ff,#c8c8ff,#c7c7ff,#c6c6ff,#c5c5ff,#c4c4ff,#c3c3ff,#c2c2ff)"></i><i style="height:3px;background:linear-gradient(90deg,#ffecec,#fefeff,#f5f5ff,#f0f0ff,#ededff,#ebebff,#e9e9ff,#e8e8ff,#e6e6ff,#e5e5ff,#e5e5ff,#e4e4ff,#e4e4ff,#e3e3ff,#e3e3ff,#dfdfff,#dcdcff,#d9d9ff,#d6d6ff,#d4d4ff,#d2d2ff,#d0d0ff,#ceceff,#cdcdff,#cbcbff,#cacaff,#c8c8ff,#c7c7ff,#c6c6ff,#c5c5ff,#c4c4ff,#c3c3ff,#c2c2ff,#c2c2ff)"></i><i style="height:3px;background:linear-gradient(90deg,#ffeded,#fdfdff,#f5f5ff,#f0f0ff,#ededff,#eaeaff,#e9e9ff,#e7e7ff,#e6e6ff,#e5e5ff,#e5e5ff,#e4e4ff,#e3e3ff,#e3e3ff,#e2e2ff,#dedeff,#dbdbff,#d8d8ff,#d6d6ff,#d3d3ff,#d1d1ff,#cfcfff,#ceceff,#ccccff,#cbcbff,#c9c9ff,#c8c8ff,#c7c7ff,#c6c6ff,#c5c5ff,#c4c4ff,#c3c3ff,#c2c2ff,#c1c1ff)"></i><i style="height:3px;background:linear-gradient(90deg,#ffeeee,#fdfdff,#f4f4ff,#f0f0ff,#ededff,#eaeaff,#e8e8ff,#e7e7ff,#e6e6ff,#e5e5ff,#e4e4ff,#e4e4ff,#e3e3ff,#e3e3ff,#e1e1ff,#ddddff,#dadaff,#d7d7ff,#d5d5ff,#d3d3ff,#d1d1ff,#cfcfff,#cdcdff,#cbcbff,#cacaff,#c9c9ff,#c7c7ff,#c6c6ff,#c5c5ff,#c4c4ff,#c3c3ff,#c2c2ff,#c1c1ff,#c1c1ff)"></i><i style="height:3px;background:linear-gradient(90deg,#ffeeee,#fcfcff,#f4f4ff,#efefff,#ececff,#eaeaff,#e8e8ff,#e7e7ff,#e6e6ff,#e5e5ff,#e4e4ff,#e4e4ff,#e3e3ff,#e3e3ff,#e0e0ff,#dcdcff,#d9d9ff,#d7d7ff,#d4d4ff,#d2d2ff,#d0d0ff,#ceceff,#ccccff,#cbcbff,#c9c9ff,#c8c8ff,#c7c7ff,#c6c6ff,#c5c5ff,#c4c4ff,#c3c3ff,#c2c2ff,#c1c1ff,#c0c0ff)"></i><i style="height:3px;background:linear-gradient(90deg,#ffefef,#fcfcff,#f4f4ff,#efefff,#ececff,#eaeaff,#e8e8ff,#e7e7ff,#e6e6ff,#e5e5ff,#e4e4ff,#e4e4ff,#e3e3ff,#e3e3ff,#dfdfff,#dbdbff,#d8d8ff,#d6d6ff,#d3d3ff,#d1d1ff,#cfcfff,#cdcdff,#ccccff,#cacaff,#c9c9ff,#c7c7ff,#c6c6ff,#c5c5ff,#c4c4ff,#c3c3ff,#c2c2ff,#c1c1ff,#c1c1ff,#c0c0ff)"></i><i style="height:3px;background:linear-gradient(90deg,#fff0f0,#fbfbff,#f3f3ff,#efefff,#ececff,#e9e9ff,#e8e8ff,#e7e7ff,#e6e6ff,#e5e5ff,#e4e4ff,#e3e3ff,#e3e3ff,#e2e2ff,#dedeff,#dadaff,#d7d7ff,#d5d5ff,#d2d2ff,#d0d0ff,#ceceff,#cdcdff,#cbcbff,#c9c9ff,#c8c8ff,#c7c7ff,#c6c6ff,#c5c5ff,#c4c4ff,#c3c3ff,#c2c2ff,#c1c1ff,#c0c0ff,#bfbfff)"></i><i style="height:3px;background:linear-gradient(90deg,#fff1f1,#fafaff,#f3f3ff,#efefff,#ebebff,#e9e9ff,#e8e8ff,#e6e6ff,#e5e5ff,#e5e5ff,#e4e4ff,#e3e3ff,#e3e3ff,#e0e0ff,#ddddff,#d9d9ff,#d7d7ff,#d4d4ff,#d2d2ff,#d0d0ff,#ceceff,#ccccff,#cacaff,#c9c9ff,#c7c7ff,#c6c6ff,#c5c5ff,#c4c4ff,#c3c3ff,#c2c2ff,#c1c1ff,#c0c0ff,#c0c0ff,#bfbfff)"></i><i style="height:3px;background:linear-gradient(90deg,#fff2f2,#fafaff,#f2f2ff,#eeeeff,#ebebff,#e9e9ff,#e7e7ff,#e6e6ff,#e5e5ff,#e4e4ff,#e4e4ff,#e3e3ff,#e3e3ff,#dfdfff,#dcdcff,#d9d9ff,#d6d6ff,#d3d3ff,#d1d1ff,#cfcfff,#cdcdff,#cbcbff,#cacaff,#c8c8ff,#c7c7ff,#c6c6ff,#c4c4ff,#c3c3ff,#c2c2ff,#c2c2ff,#c1c1ff,#c0c0ff,#bfbfff,#bebeff)"></i><i style="height:3px;background:linear-gradient(90deg,#fff3f3,#f9f9ff,#f2f2ff,#eeeeff,#ebebff,#e9e9ff,#e7e7ff,#e6e6ff,#e5e5ff,#e4e4ff,#e4e4ff,#e3e3ff,#e2e2ff,#dedeff,#dbdbff,#d8d8ff,#d5d5ff,#d2d2ff,#d0d0ff,#ceceff,#ccccff,#cbcbff,#c9c9ff,#c8c8ff,#c6c6ff,#c5c5ff,#c4c4ff,#c3c3ff,#c2c2ff,#c1c1ff,#c0c0ff,#bfbfff,#bfbfff,#bebeff)"></i><i style="height:3px;background:linear-gradient(90deg,#fff4f4,#f9f9ff,#f2f2ff,#eeeeff,#ebebff,#e9e9ff,#e7e7ff,#e6e6ff,#e5e5ff,#e4e4ff,#e4e4ff,#e3e3ff,#e1e1ff,#ddddff,#dadaff,#d7d7ff,#d4d4ff,#d1d1ff,#cfcfff,#cdcdff,#cbcbff,#cacaff,#c8c8ff,#c7c7ff,#c6c6ff,#c4c4ff,#c3c3ff,#c2c2ff,#c1c1ff,#c1c1ff,#c0c0ff,#bfbfff,#bebeff,#bebeff)"></i><i style="height:3px;background:linear-gradient(90deg,#fff5f5,#f8f8ff,#f1f1ff,#ededff,#eaeaff,#e8e8ff,#e7e7ff,#e6e6ff,#e5e5ff,#e4e4ff,#e3e3ff,#e3e3ff,#e0e0ff,#dcdcff,#d9d9ff,#d6d6ff,#d3d3ff,#d1d1ff,#ceceff,#ccccff,#cbcbff,#c9c9ff,#c8c8ff,#c6c6ff,#c5c5ff,#c4c4ff,#c3c3ff,#c2c2ff,#c1c1ff,#c0c0ff,#bfbfff,#bfbfff,#bebeff,#bdbdff)"></i><i style="height:3px;background:linear-gradient(90deg,#fff5f5,#f8f8ff,#f1f1ff,#ededff,#eaeaff,#e8e8ff,#e7e7ff,#e6e6ff,#e5e5ff,#e4e4ff,#e3e3ff,#e3e3ff,#dfdfff,#dbdbff,#d8d8ff,#d5d5ff,#d2d2ff,#d0d0ff,#ceceff,#ccccff,#cacaff,#c8c8ff,#c7c7ff,#c6c6ff,#c4c4ff,#c3c3ff,#c2c2ff,#c1c1ff,#c0c0ff,#c0c0ff,#bfbfff,#bebeff,#bdbdff,#bdbdff)"></i><i style="height:3px;background:linear-gradient(90deg,#fff6f6,#f7f7ff,#f0f0ff,#ededff,#eaeaff,#e8e8ff,#e6e6ff,#e5e5ff,#e4e4ff,#e4e4ff,#e3e3ff,#e2e2ff,#dedeff,#dadaff,#d7d7ff,#d4d4ff,#d1d1ff,#cfcfff,#cdcdff,#cbcbff,#c9c9ff,#c8c8ff,#c6c6ff,#c5c5ff,#c4c4ff,#c3c3ff,#c2c2ff,#c1c1ff,#c0c0ff,#bfbfff,#bebeff,#bebeff,#bdbdff,#bcbcff)"></i><i style="height:3px;background:linear-gradient(90deg,#fff7f7,#f7f7ff,#f0f0ff,#ececff,#eaeaff,#e8e8ff,#e6e6ff,#e5e5ff,#e4e4ff,#e4e4ff,#e3e3ff,#e1e1ff,#ddddff,#d9d9ff,#d6d6ff,#d3d3ff,#d0d0ff,#ceceff,#ccccff,#cacaff,#c9c9ff,#c7c7ff,#c6c6ff,#c4c4ff,#c3c3ff,#c2c2ff,#c1c1ff,#c0c0ff,#bfbfff,#bfbfff,#bebeff,#bdbdff,#bcbcff,#bcbcff)"></i><i style="height:3px;background:linear-gradient(90deg,#fff8f8,#f6f6ff,#f0f0ff,#ececff,#e9e9ff,#e7e7ff,#e6e6ff,#e5e5ff,#e4e4ff,#e3e3ff,#e3e3ff,#e0e0ff,#dcdcff,#d8d8ff,#d5d5ff,#d2d2ff,#d0d0ff,#cdcdff,#cbcbff,#cacaff,#c8c8ff,#c6c6ff,#c5c5ff,#c4c4ff,#c3c3ff,#c2c2ff,#c1c1ff,#c0c0ff,#bfbfff,#bebeff,#bdbdff,#bdbdff,#bcbcff,#bbbbff)"></i><i style="height:3px;background:linear-gradient(90deg,#fff9f9,#f6f6ff,#efefff,#ececff,#e9e9ff,#e7e7ff,#e6e6ff,#e5e5ff,#e4e4ff,#e3e3ff,#e3e3ff,#dfdfff,#dadaff,#d7d7ff,#d4d4ff,#d1d1ff,#cfcfff,#cdcdff,#cbcbff,#c9c9ff,#c7c7ff,#c6c6ff,#c4c4ff,#c3c3ff,#c2c2ff,#c1c1ff,#c0c0ff,#bfbfff,#bebeff,#bebeff,#bdbdff,#bcbcff,#bcbcff,#bbbbff)"></i><i style="height:3px;background:linear-gradient(90deg,#fffafa,#f5f5ff,#efefff,#ebebff,#e9e9ff,#e7e7ff,#e6e6ff,#e5e5ff,#e4e4ff,#e3e3ff,#e2e2ff,#ddddff,#d9d9ff,#d6d6ff,#d3d3ff,#d0d0ff,#ceceff,#ccccff,#cacaff,#c8c8ff,#c7c7ff,#c5c5ff,#c4c4ff,#c3c3ff,#c2c2ff,#c1c1ff,#c0c0ff,#bfbfff,#bebeff,#bdbdff,#bcbcff,#bcbcff,#bbbbff,#bbbbff)"></i><i style="height:3px;background:linear-gradient(90deg,#fffbfb,#f5f5ff,#eeeeff,#ebebff,#e8e8ff,#e7e7ff,#e5e5ff,#e4e4ff,#e4e4ff,#e3e3ff,#e1e1ff,#dcdcff,#d8d8ff,#d5d5ff,#d2d2ff,#cfcfff,#cdcdff,#cbcbff,#c9c9ff,#c7c7ff,#c6c6ff,#c4c4ff,#c3c3ff,#c2c2ff,#c1c1ff,#c0c0ff,#bfbfff,#bebeff,#bdbdff,#bdbdff,#bcbcff,#bbbbff,#bbbbff,#babaff)"></i><i style="height:3px;background:linear-gradient(90deg,#fffbfb,#f4f4ff,#eeeeff,#ebebff,#e8e8ff,#e6e6ff,#e5e5ff,#e4e4ff,#e3e3ff,#e3e3ff,#dfdfff,#dbdbff,#d7d7ff,#d4d4ff,#d1d1ff,#ceceff,#ccccff,#cacaff,#c8c8ff,#c7c7ff,#c5c5ff,#c4c4ff,#c3c3ff,#c1c1ff,#c0c0ff,#bfbfff,#bebeff,#bebeff,#bdbdff,#bcbcff,#bcbcff,#bbbbff,#babaff,#babaff)"></i><i style="height:3px;background:linear-gradient(90deg,#fffcfc,#f3f3ff,#eeeeff,#eaeaff,#e8e8ff,#e6e6ff,#e5e5ff,#e4e4ff,#e3e3ff,#e3e3ff,#dedeff,#dadaff,#d6d6ff,#d3d3ff,#d0d0ff,#cdcdff,#cbcbff,#c9c9ff,#c7c7ff,#c6c6ff,#c4c4ff,#c3c3ff,#c2c2ff,#c1c1ff,#c0c0ff,#bfbfff,#bebeff,#bdbdff,#bcbcff,#bcbcff,#bbbbff,#babaff,#babaff,#b9b9ff)"></i><i style="height:3px;background:linear-gradient(90deg,#fffdfd,#f3f3ff,#ededff,#eaeaff,#e8e8ff,#e6e6ff,#e5e5ff,#e4e4ff,#e3e3ff,#e2e2ff,#ddddff,#d8d8ff,#d5d5ff,#d2d2ff,#cfcfff,#ccccff,#cacaff,#c8c8ff,#c7c7ff,#c5c5ff,#c4c4ff,#c2c2ff,#c1c1ff,#c0c0ff,#bfbfff,#bebeff,#bdbdff,#bdbdff,#bcbcff,#bbbbff,#bbbbff,#babaff,#b9b9ff,#b9b9ff)"></i><i style="height:3px;background:linear-gradient(90deg,#fffefe,#f2f2ff,#ededff,#eaeaff,#e7e7ff,#e6e6ff,#e5e5ff,#e4e4ff,#e3e3ff,#e0e0ff,#dbdbff,#d7d7ff,#d4d4ff,#d1d1ff,#ceceff,#ccccff,#c9c9ff,#c8c8ff,#c6c6ff,#c4c4ff,#c3c3ff,#c2c2ff,#c1c1ff,#c0c0ff,#bfbfff,#bebeff,#bdbdff,#bcbcff,#bbbbff,#bbbbff,#babaff,#babaff,#b9b9ff,#b8b8ff)"></i><i style="height:3px;background:linear-gradient(90deg,#ffffff,#f2f2ff,#ececff,#e9e9ff,#e7e7ff,#e6e6ff,#e4e4ff,#e4e4ff,#e3e3ff,#dfdfff,#dadaff,#d6d6ff,#d2d2ff,#d0d0ff,#cdcdff,#cbcbff,#c9c9ff,#c7c7ff,#c5c5ff,#c4c4ff,#c2c2ff,#c1c1ff,#c0c0ff,#bfbfff,#bebeff,#bdbdff,#bcbcff,#bcbcff,#bbbbff,#babaff,#babaff,#b9b9ff,#b9b9ff,#b8b8ff)"></i><i style="height:3px;background:linear-gradient(90deg,#fefeff,#f1f1ff,#ececff,#e9e9ff,#e7e7ff,#e5e5ff,#e4e4ff,#e3e3ff,#e3e3ff,#ddddff,#d9d9ff,#d5d5ff,#d1d1ff,#ceceff,#ccccff,#cacaff,#c8c8ff,#c6c6ff,#c4c4ff,#c3c3ff,#c2c2ff,#c0c0ff,#bfbfff,#bebeff,#bdbdff,#bdbdff,#bcbcff,#bbbbff,#babaff,#babaff,#b9b9ff,#b9b9ff,#b8b8ff,#b8b8ff)"></i><i style="height:3px;background:linear-gradient(90deg,#fdfdff,#f1f1ff,#ececff,#e9e9ff,#e7e7ff,#e5e5ff,#e4e4ff,#e3e3ff,#e1e1ff,#dcdcff,#d7d7ff,#d4d4ff,#d0d0ff,#cdcdff,#cbcbff,#c9c9ff,#c7c7ff,#c5c5ff,#c4c4ff,#c2c2ff,#c1c1ff,#c0c0ff,#bfbfff,#bebeff,#bdbdff,#bcbcff,#bbbbff,#bbbbff,#babaff,#b9b9ff,#b9b9ff,#b8b8ff,#b8b8ff,#b7b7ff)"></i><i style="height:3px;background:linear-gradient(90deg,#fcfcff,#f0f0ff,#ebebff,#e8e8ff,#e6e6ff,#e5e5ff,#e4e4ff,#e3e3ff,#e0e0ff,#dadaff,#d6d6ff,#d2d2ff,#cfcfff,#ccccff,#cacaff,#c8c8ff,#c6c6ff,#c4c4ff,#c3c3ff,#c1c1ff,#c0c0ff,#bfbfff,#bebeff,#bdbdff,#bcbcff,#bbbbff,#bbbbff,#babaff,#b9b9ff,#b9b9ff,#b8b8ff,#b8b8ff,#b7b7ff,#b7b7ff)"></i><i style="height:3px;background:linear-gradient(90deg,#fcfcff,#f0f0ff,#ebebff,#e8e8ff,#e6e6ff,#e5e5ff,#e4e4ff,#e3e3ff,#dedeff,#d9d9ff,#d5d5ff,#d1d1ff,#ceceff,#cbcbff,#c9c9ff,#c7c7ff,#c5c5ff,#c3c3ff,#c2c2ff,#c1c1ff,#c0c0ff,#bebeff,#bdbdff,#bdbdff,#bcbcff,#bbbbff,#babaff,#babaff,#b9b9ff,#b8b8ff,#b8b8ff,#b7b7ff,#b7b7ff,#b6b6ff)"></i><i style="height:3px;background:linear-gradient(90deg,#fbfbff,#efefff,#eaeaff,#e8e8ff,#e6e6ff,#e4e4ff,#e3e3ff,#e3e3ff,#ddddff,#d8d8ff,#d3d3ff,#d0d0ff,#cdcdff,#cacaff,#c8c8ff,#c6c6ff,#c4c4ff,#c3c3ff,#c1c1ff,#c0c0ff,#bfbfff,#bebeff,#bdbdff,#bcbcff,#bbbbff,#babaff,#babaff,#b9b9ff,#b8b8ff,#b8b8ff,#b7b7ff,#b7b7ff,#b6b6ff,#b6b6ff)"></i><i style="height:3px;background:linear-gradient(90deg,#fafaff,#efefff,#eaeaff,#e7e7ff,#e6e6ff,#e4e4ff,#e3e3ff,#e1e1ff,#dbdbff,#d6d6ff,#d2d2ff,#cfcfff,#ccccff,#c9c9ff,#c7c7ff,#c5c5ff,#c3c3ff,#c2c2ff,#c0c0ff,#bfbfff,#bebeff,#bdbdff,#bcbcff,#bbbbff,#bbbbff,#babaff,#b9b9ff,#b9b9ff,#b8b8ff,#b7b7ff,#b7b7ff,#b6b6ff,#b6b6ff,#b6b6ff)"></i><i style="height:3px;background:linear-gradient(90deg,#f9f9ff,#eeeeff,#eaeaff,#e7e7ff,#e5e5ff,#e4e4ff,#e3e3ff,#dfdfff,#d9d9ff,#d5d5ff,#d1d1ff,#cdcdff,#cbcbff,#c8c8ff,#c6c6ff,#c4c4ff,#c2c2ff,#c1c1ff,#c0c0ff,#bebeff,#bdbdff,#bcbcff,#bcbcff,#bbbbff,#babaff,#b9b9ff,#b9b9ff,#b8b8ff,#b7b7ff,#b7b7ff,#b6b6ff,#b6b6ff,#b6b6ff,#b5b5ff)"></i><i style="height:3px;background:linear-gradient(90deg,#f8f8ff,#eeeeff,#e9e9ff,#e7e7ff,#e5e5ff,#e4e4ff,#e3e3ff,#ddddff,#d8d8ff,#d3d3ff,#cfcfff,#ccccff,#c9c9ff,#c7c7ff,#c5c5ff,#c3c3ff,#c2c2ff,#c0c0ff,#bfbfff,#bebeff,#bdbdff,#bcbcff,#bbbbff,#babaff,#b9b9ff,#b9b9ff,#b8b8ff,#b8b8ff,#b7b7ff,#b7b7ff,#b6b6ff,#b6b6ff,#b5b5ff,#b5b5ff)"></i><i style="height:3px;background:linear-gradient(90deg,#f7f7ff,#ededff,#e9e9ff,#e6e6ff,#e5e5ff,#e3e3ff,#e2e2ff,#dcdcff,#d6d6ff,#d2d2ff,#ceceff,#cbcbff,#c8c8ff,#c6c6ff,#c4c4ff,#c2c2ff,#c1c1ff,#bfbfff,#bebeff,#bdbdff,#bcbcff,#bbbbff,#babaff,#b9b9ff,#b9b9ff,#b8b8ff,#b8b8ff,#b7b7ff,#b7b7ff,#b6b6ff,#b6b6ff,#b5b5ff,#b5b5ff,#b4b4ff)"></i><i style="height:3px;background:linear-gradient(90deg,#f6f6ff,#ececff,#e8e8ff,#e6e6ff,#e4e4ff,#e3e3ff,#e0e0ff,#dadaff,#d4d4ff,#d0d0ff,#cdcdff,#cacaff,#c7c7ff,#c5c5ff,#c3c3ff,#c1c1ff,#c0c0ff,#bfbfff,#bdbdff,#bcbcff,#bbbbff,#babaff,#babaff,#b9b9ff,#b8b8ff,#b8b8ff,#b7b7ff,#b7b7ff,#b6b6ff,#b6b6ff,#b5b5ff,#b5b5ff,#b4b4ff,#b4b4ff)"></i><i style="height:3px;background:linear-gradient(90deg,#f5f5ff,#ececff,#e8e8ff,#e6e6ff,#e4e4ff,#e3e3ff,#dedeff,#d8d8ff,#d3d3ff,#cfcfff,#cbcbff,#c8c8ff,#c6c6ff,#c4c4ff,#c2c2ff,#c0c0ff,#bfbfff,#bebeff,#bdbdff,#bcbcff,#bbbbff,#babaff,#b9b9ff,#b8b8ff,#b8b8ff,#b7b7ff,#b7b7ff,#b6b6ff,#b6b6ff,#b5b5ff,#b5b5ff,#b4b4ff,#b4b4ff,#b4b4ff)"></i><i style="height:3px;background:linear-gradient(90deg,#f5f5ff,#ebebff,#e8e8ff,#e5e5ff,#e4e4ff,#e3e3ff,#dcdcff,#d6d6ff,#d1d1ff,#cdcdff,#cacaff,#c7c7ff,#c5c5ff,#c3c3ff,#c1c1ff,#bfbfff,#bebeff,#bdbdff,#bcbcff,#bbbbff,#babaff,#b9b9ff,#b8b8ff,#b8b8ff,#b7b7ff,#b7b7ff,#b6b6ff,#b6b6ff,#b5b5ff,#b5b5ff,#b4b4ff,#b4b4ff,#b4b4ff,#b3b3ff)"></i><i style="height:3px;background:linear-gradient(90deg,#f4f4ff,#ebebff,#e7e7ff,#e5e5ff,#e4e4ff,#e1e1ff,#dadaff,#d4d4ff,#d0d0ff,#ccccff,#c9c9ff,#c6c6ff,#c4c4ff,#c2c2ff,#c0c0ff,#bfbfff,#bdbdff,#bcbcff,#bbbbff,#babaff,#b9b9ff,#b8b8ff,#b8b8ff,#b7b7ff,#b7b7ff,#b6b6ff,#b5b5ff,#b5b5ff,#b5b5ff,#b4b4ff,#b4b4ff,#b3b3ff,#b3b3ff,#b3b3ff)"></i><i style="height:3px;background:linear-gradient(90deg,#f3f3ff,#eaeaff,#e7e7ff,#e5e5ff,#e3e3ff,#dfdfff,#d8d8ff,#d3d3ff,#ceceff,#cacaff,#c7c7ff,#c5c5ff,#c3c3ff,#c1c1ff,#bfbfff,#bebeff,#bcbcff,#bbbbff,#babaff,#b9b9ff,#b9b9ff,#b8b8ff,#b7b7ff,#b6b6ff,#b6b6ff,#b5b5ff,#b5b5ff,#b5b5ff,#b4b4ff,#b4b4ff,#b3b3ff,#b3b3ff,#b3b3ff,#b2b2ff)"></i><i style="height:3px;background:linear-gradient(90deg,#f2f2ff,#eaeaff,#e6e6ff,#e4e4ff,#e3e3ff,#ddddff,#d6d6ff,#d1d1ff,#ccccff,#c9c9ff,#c6c6ff,#c4c4ff,#c1c1ff,#c0c0ff,#bebeff,#bdbdff,#bbbbff,#babaff,#b9b9ff,#b9b9ff,#b8b8ff,#b7b7ff,#b6b6ff,#b6b6ff,#b5b5ff,#b5b5ff,#b4b4ff,#b4b4ff,#b4b4ff,#b3b3ff,#b3b3ff,#b3b3ff,#b2b2ff,#b2b2ff)"></i><i style="height:3px;background:linear-gradient(90deg,#f1f1ff,#e9e9ff,#e6e6ff,#e4e4ff,#e3e3ff,#dbdbff,#d4d4ff,#cfcfff,#cbcbff,#c7c7ff,#c5c5ff,#c2c2ff,#c0c0ff,#bfbfff,#bdbdff,#bcbcff,#bbbbff,#babaff,#b9b9ff,#b8b8ff,#b7b7ff,#b6b6ff,#b6b6ff,#b5b5ff,#b5b5ff,#b4b4ff,#b4b4ff,#b4b4ff,#b3b3ff,#b3b3ff,#b3b3ff,#b2b2ff,#b2b2ff,#b2b2ff)"></i><i style="height:3px;background:linear-gradient(90deg,#f0f0ff,#e9e9ff,#e5e5ff,#e4e4ff,#e1e1ff,#d8d8ff,#d2d2ff,#cdcdff,#c9c9ff,#c6c6ff,#c3c3ff,#c1c1ff,#bfbfff,#bebeff,#bcbcff,#bbbbff,#babaff,#b9b9ff,#b8b8ff,#b7b7ff,#b6b6ff,#b6b6ff,#b5b5ff,#b5b5ff,#b4b4ff,#b4b4ff,#b3b3ff,#b3b3ff,#b3b3ff,#b2b2ff,#b2b2ff,#b2b2ff,#b2b2ff,#b1b1ff)"></i><i style="height:3px;background:linear-gradient(90deg,#efefff,#e8e8ff,#e5e5ff,#e3e3ff,#dfdfff,#d6d6ff,#d0d0ff,#cbcbff,#c8c8ff,#c5c5ff,#c2c2ff,#c0c0ff,#bebeff,#bcbcff,#bbbbff,#babaff,#b9b9ff,#b8b8ff,#b7b7ff,#b6b6ff,#b6b6ff,#b5b5ff,#b5b5ff,#b4b4ff,#b4b4ff,#b3b3ff,#b3b3ff,#b3b3ff,#b2b2ff,#b2b2ff,#b2b2ff,#b1b1ff,#b1b1ff,#b1b1ff)"></i><i style="height:3px;background:linear-gradient(90deg,#eeeeff,#e8e8ff,#e5e5ff,#e3e3ff,#dcdcff,#d4d4ff,#ceceff,#cacaff,#c6c6ff,#c3c3ff,#c1c1ff,#bfbfff,#bdbdff,#bbbbff,#babaff,#b9b9ff,#b8b8ff,#b7b7ff,#b6b6ff,#b6b6ff,#b5b5ff,#b4b4ff,#b4b4ff,#b4b4ff,#b3b3ff,#b3b3ff,#b2b2ff,#b2b2ff,#b2b2ff,#b1b1ff,#b1b1ff,#b1b1ff,#b1b1ff,#b1b1ff)"></i><i style="height:3px;background:linear-gradient(90deg,#eeeeff,#e7e7ff,#e4e4ff,#e3e3ff,#d9d9ff,#d2d2ff,#ccccff,#c8c8ff,#c4c4ff,#c2c2ff,#bfbfff,#bdbdff,#bcbcff,#babaff,#b9b9ff,#b8b8ff,#b7b7ff,#b6b6ff,#b6b6ff,#b5b5ff,#b4b4ff,#b4b4ff,#b3b3ff,#b3b3ff,#b3b3ff,#b2b2ff,#b2b2ff,#b2b2ff,#b1b1ff,#b1b1ff,#b1b1ff,#b1b1ff,#b0b0ff,#b0b0ff)"></i><i style="height:3px;background:linear-gradient(90deg,#ededff,#e6e6ff,#e4e4ff,#e1e1ff,#d7d7ff,#cfcfff,#cacaff,#c6c6ff,#c3c3ff,#c0c0ff,#bebeff,#bcbcff,#bbbbff,#b9b9ff,#b8b8ff,#b7b7ff,#b6b6ff,#b6b6ff,#b5b5ff,#b4b4ff,#b4b4ff,#b3b3ff,#b3b3ff,#b2b2ff,#b2b2ff,#b2b2ff,#b1b1ff,#b1b1ff,#b1b1ff,#b1b1ff,#b0b0ff,#b0b0ff,#b0b0ff,#b0b0ff)"></i><i style="height:3px;background:linear-gradient(90deg,#ececff,#e6e6ff,#e4e4ff,#dedeff,#d4d4ff,#cdcdff,#c8c8ff,#c5c5ff,#c1c1ff,#bfbfff,#bdbdff,#bbbbff,#babaff,#b8b8ff,#b7b7ff,#b6b6ff,#b6b6ff,#b5b5ff,#b4b4ff,#b4b4ff,#b3b3ff,#b3b3ff,#b2b2ff,#b2b2ff,#b1b1ff,#b1b1ff,#b1b1ff,#b1b1ff,#b0b0ff,#b0b0ff,#b0b0ff,#b0b0ff,#b0b0ff,#afafff)"></i><i style="height:3px;background:linear-gradient(90deg,#ebebff,#e5e5ff,#e3e3ff,#dbdbff,#d2d2ff,#cbcbff,#c7c7ff,#c3c3ff,#c0c0ff,#bebeff,#bcbcff,#babaff,#b9b9ff,#b7b7ff,#b6b6ff,#b5b5ff,#b5b5ff,#b4b4ff,#b3b3ff,#b3b3ff,#b2b2ff,#b2b2ff,#b2b2ff,#b1b1ff,#b1b1ff,#b1b1ff,#b0b0ff,#b0b0ff,#b0b0ff,#b0b0ff,#b0b0ff,#afafff,#afafff,#afafff)"></i><i style="height:3px;background:linear-gradient(90deg,#eaeaff,#e5e5ff,#e3e3ff,#d8d8ff,#cfcfff,#c9c9ff,#c5c5ff,#c1c1ff,#bebeff,#bcbcff,#babaff,#b9b9ff,#b8b8ff,#b6b6ff,#b5b5ff,#b5b5ff,#b4b4ff,#b3b3ff,#b3b3ff,#b2b2ff,#b2b2ff,#b1b1ff,#b1b1ff,#b1b1ff,#b0b0ff,#b0b0ff,#b0b0ff,#b0b0ff,#afafff,#afafff,#afafff,#afafff,#afafff,#afafff)"></i><i style="height:3px;background:linear-gradient(90deg,#e9e9ff,#e4e4ff,#e0e0ff,#d5d5ff,#cdcdff,#c7c7ff,#c3c3ff,#c0c0ff,#bdbdff,#bbbbff,#b9b9ff,#b8b8ff,#b6b6ff,#b5b5ff,#b5b5ff,#b4b4ff,#b3b3ff,#b3b3ff,#b2b2ff,#b1b1ff,#b1b1ff,#b1b1ff,#b0b0ff,#b0b0ff,#b0b0ff,#b0b0ff,#afafff,#afafff,#afafff,#afafff,#afafff,#afafff,#aeaeff,#aeaeff)"></i><i style="height:3px;background:linear-gradient(90deg,#e9e9ff,#e4e4ff,#ddddff,#d2d2ff,#cacaff,#c5c5ff,#c1c1ff,#bebeff,#bcbcff,#babaff,#b8b8ff,#b7b7ff,#b5b5ff,#b5b5ff,#b4b4ff,#b3b3ff,#b2b2ff,#b2b2ff,#b1b1ff,#b1b1ff,#b0b0ff,#b0b0ff,#b0b0ff,#b0b0ff,#afafff,#afafff,#afafff,#afafff,#afafff,#aeaeff,#aeaeff,#aeaeff,#aeaeff,#aeaeff)"></i><i style="height:3px;background:linear-gradient(90deg,#e8e8ff,#e4e4ff,#d9d9ff,#cfcfff,#c8c8ff,#c3c3ff,#bfbfff,#bcbcff,#babaff,#b8b8ff,#b7b7ff,#b6b6ff,#b4b4ff,#b4b4ff,#b3b3ff,#b2b2ff,#b2b2ff,#b1b1ff,#b1b1ff,#b0b0ff,#b0b0ff,#b0b0ff,#afafff,#afafff,#afafff,#afafff,#aeaeff,#aeaeff,#aeaeff,#aeaeff,#aeaeff,#aeaeff,#aeaeff,#aeaeff)"></i><i style="height:3px;background:linear-gradient(90deg,#e7e7ff,#e3e3ff,#d6d6ff,#cdcdff,#c6c6ff,#c1c1ff,#bebeff,#bbbbff,#b9b9ff,#b7b7ff,#b6b6ff,#b5b5ff,#b4b4ff,#b3b3ff,#b2b2ff,#b1b1ff,#b1b1ff,#b0b0ff,#b0b0ff,#b0b0ff,#afafff,#afafff,#afafff,#aeaeff,#aeaeff,#aeaeff,#aeaeff,#aeaeff,#aeaeff,#aeaeff,#adadff,#adadff,#adadff,#adadff)"></i><i style="height:3px;background:linear-gradient(90deg,#e7e7ff,#e3e3ff,#d3d3ff,#cacaff,#c4c4ff,#bfbfff,#bcbcff,#babaff,#b8b8ff,#b6b6ff,#b5b5ff,#b4b4ff,#b3b3ff,#b2b2ff,#b1b1ff,#b1b1ff,#b0b0ff,#b0b0ff,#afafff,#afafff,#afafff,#aeaeff,#aeaeff,#aeaeff,#aeaeff,#aeaeff,#adadff,#adadff,#adadff,#adadff,#adadff,#adadff,#adadff,#adadff)"></i><i style="height:3px;background:linear-gradient(90deg,#e6e6ff,#dedeff,#d0d0ff,#c7c7ff,#c2c2ff,#bdbdff,#babaff,#b8b8ff,#b6b6ff,#b5b5ff,#b4b4ff,#b3b3ff,#b2b2ff,#b1b1ff,#b0b0ff,#b0b0ff,#afafff,#afafff,#afafff,#aeaeff,#aeaeff,#aeaeff,#aeaeff,#adadff,#adadff,#adadff,#adadff,#adadff,#adadff,#adadff,#adadff,#adadff,#adadff,#adadff)"></i><i style="height:3px;background:linear-gradient(90deg,#e5e5ff,#dadaff,#cdcdff,#c5c5ff,#bfbfff,#bcbcff,#b9b9ff,#b7b7ff,#b5b5ff,#b4b4ff,#b3b3ff,#b2b2ff,#b1b1ff,#b0b0ff,#b0b0ff,#afafff,#afafff,#aeaeff,#aeaeff,#aeaeff,#adadff,#adadff,#adadff,#adadff,#adadff,#adadff,#adadff,#adadff,#acacff,#acacff,#acacff,#acacff,#acacff,#acacff)"></i><i style="height:3px;background:linear-gradient(90deg,#e5e5ff,#d6d6ff,#cacaff,#c3c3ff,#bdbdff,#babaff,#b7b7ff,#b5b5ff,#b4b4ff,#b3b3ff,#b2b2ff,#b1b1ff,#b0b0ff,#afafff,#afafff,#aeaeff,#aeaeff,#aeaeff,#adadff,#adadff,#adadff,#adadff,#adadff,#acacff,#acacff,#acacff,#acacff,#acacff,#acacff,#acacff,#acacff,#acacff,#acacff,#acacff)"></i><i style="height:3px;background:linear-gradient(90deg,#e4e4ff,#d3d3ff,#c7c7ff,#c0c0ff,#bcbcff,#b8b8ff,#b6b6ff,#b4b4ff,#b3b3ff,#b1b1ff,#b1b1ff,#b0b0ff,#afafff,#afafff,#aeaeff,#aeaeff,#adadff,#adadff,#adadff,#adadff,#acacff,#acacff,#acacff,#acacff,#acacff,#acacff,#acacff,#acacff,#acacff,#acacff,#acacff,#acacff,#acacff,#acacff)"></i><i style="height:3px;background:linear-gradient(90deg,#e3e3ff,#cfcfff,#c4c4ff,#bebeff,#babaff,#b7b7ff,#b5b5ff,#b3b3ff,#b2b2ff,#b0b0ff,#b0b0ff,#afafff,#aeaeff,#aeaeff,#adadff,#adadff,#adadff,#acacff,#acacff,#acacff,#acacff,#acacff,#acacff,#acacff,#ababff,#ababff,#ababff,#ababff,#ababff,#ababff,#ababff,#ababff,#ababff,#ababff)"></i><i style="height:3px;background:linear-gradient(90deg,#e3e3ff,#cbcbff,#c2c2ff,#bcbcff,#b8b8ff,#b5b5ff,#b3b3ff,#b2b2ff,#b0b0ff,#b0b0ff,#afafff,#aeaeff,#aeaeff,#adadff,#adadff,#acacff,#acacff,#acacff,#acacff,#acacff,#ababff,#ababff,#ababff,#ababff,#ababff,#ababff,#ababff,#ababff,#ababff,#ababff,#ababff,#ababff,#ababff,#ababff)"></i><i style="height:3px;background:linear-gradient(90deg,#dedeff,#c8c8ff,#bfbfff,#babaff,#b6b6ff,#b4b4ff,#b2b2ff,#b1b1ff,#afafff,#afafff,#aeaeff,#adadff,#adadff,#acacff,#acacff,#acacff,#acacff,#ababff,#ababff,#ababff,#ababff,#ababff,#ababff,#ababff,#ababff,#ababff,#ababff,#ababff,#ababff,#ababff,#ababff,#ababff,#ababff,#ababff)"></i><i style="height:3px;background:linear-gradient(90deg,#d9d9ff,#c5c5ff,#bdbdff,#b8b8ff,#b5b5ff,#b2b2ff,#b1b1ff,#b0b0ff,#afafff,#aeaeff,#adadff,#adadff,#acacff,#acacff,#ababff,#ababff,#ababff,#ababff,#ababff,#ababff,#aaaaff,#aaaaff,#aaaaff,#aaaaff,#aaaaff,#aaaaff,#aaaaff,#aaaaff,#aaaaff,#aaaaff,#aaaaff,#aaaaff,#aaaaff,#ababff)"></i><i style="height:3px;background:linear-gradient(90deg,#d5d5ff,#c2c2ff,#bbbbff,#b6b6ff,#b3b3ff,#b1b1ff,#b0b0ff,#afafff,#aeaeff,#adadff,#acacff,#acacff,#ababff,#ababff,#ababff,#ababff,#aaaaff,#aaaaff,#aaaaff,#aaaaff,#aaaaff,#a9a9ff,#a9a9ff,#a9a9ff,#a9a9ff,#a9a9ff,#a9a9ff,#a9a9ff,#aaaaff,#aaaaff,#aaaaff,#aaaaff,#aaaaff,#aaaaff)"></i><i style="height:3px;background:linear-gradient(90deg,#d0d0ff,#bfbfff,#b8b8ff,#b5b5ff,#b2b2ff,#b0b0ff,#afafff,#aeaeff,#adadff,#acacff,#acacff,#ababff,#ababff,#ababff,#aaaaff,#aaaaff,#a9a9ff,#a8a8ff,#a7a7ff,#a6a6ff,#a6a6ff,#a5a5ff,#a5a5ff,#a5a5ff,#a5a5ff,#a5a5ff,#a6a6ff,#a6a6ff,#a7a7ff,#a7a7ff,#a8a8ff,#a9a9ff,#a9a9ff,#aaaaff)"></i><i style="height:3px;background:linear-gradient(90deg,#ccccff,#bdbdff,#b7b7ff,#b3b3ff,#b1b1ff,#afafff,#aeaeff,#adadff,#acacff,#ababff,#ababff,#ababff,#aaaaff,#a9a9ff,#a7a7ff,#a6a6ff,#a4a4ff,#a3a3ff,#a3a3ff,#a2a2ff,#a2a2ff,#a1a1ff,#a1a1ff,#a1a1ff,#a2a2ff,#a2a2ff,#a2a2ff,#a3a3ff,#a4a4ff,#a4a4ff,#a5a5ff,#a6a6ff,#a7a7ff,#a8a8ff)"></i><i style="height:3px;background:linear-gradient(90deg,#c8c8ff,#babaff,#b5b5ff,#b2b2ff,#afafff,#aeaeff,#adadff,#acacff,#ababff,#ababff,#aaaaff,#a9a9ff,#a6a6ff,#a4a4ff,#a2a2ff,#a1a1ff,#a0a0ff,#9f9fff,#9e9eff,#9e9eff,#9e9eff,#9e9eff,#9e9eff,#9e9eff,#9e9eff,#9f9fff,#9f9fff,#a0a0ff,#a1a1ff,#a2a2ff,#a3a3ff,#a4a4ff,#a5a5ff,#a6a6ff)"></i><i style="height:2px;background:linear-gradient(90deg,#c5c5ff,#b9b9ff,#b3b3ff,#b1b1ff,#aeaeff,#adadff,#acacff,#ababff,#ababff,#aaaaff,#a8a8ff,#a4a4ff,#a2a2ff,#a0a0ff,#9e9eff,#9d9dff,#9c9cff,#9c9cff,#9b9bff,#9b9bff,#9b9bff,#9b9bff,#9b9bff,#9b9bff,#9c9cff,#9c9cff,#9d9dff,#9e9eff,#9f9fff,#a0a0ff,#a1a1ff,#a2a2ff,#a3a3ff,#a4a4ff)"></i><i style="height:2px;background:linear-gradient(90deg,#c3c3ff,#b7b7ff,#b2b2ff,#b0b0ff,#aeaeff,#acacff,#ababff,#ababff,#aaaaff,#a7a7ff,#a4a4ff,#a1a1ff,#9f9fff,#9d9dff,#9b9bff,#9a9aff,#9999ff,#9999ff,#9999ff,#9898ff,#9898ff,#9898ff,#9999ff,#9999ff,#9a9aff,#9a9aff,#9b9bff,#9c9cff,#9d9dff,#9e9eff,#9f9fff,#a0a0ff,#a1a1ff,#a3a3ff)"></i><i style="height:2px;background:linear-gradient(90deg,#c1c1ff,#b6b6ff,#b1b1ff,#afafff,#adadff,#acacff,#ababff,#aaaaff,#a7a7ff,#a3a3ff,#a0a0ff,#9d9dff,#9b9bff,#9a9aff,#9898ff,#9797ff,#9797ff,#9696ff,#9696ff,#9696ff,#9696ff,#9696ff,#9797ff,#9797ff,#9898ff,#9898ff,#9999ff,#9a9aff,#9b9bff,#9c9cff,#9e9eff,#9f9fff,#a0a0ff,#a2a2ff)"></i><i style="height:2px;background:linear-gradient(90deg,#bfbfff,#b5b5ff,#b0b0ff,#aeaeff,#acacff,#ababff,#aaaaff,#a8a8ff,#a3a3ff,#9f9fff,#9d9dff,#9a9aff,#9898ff,#9797ff,#9696ff,#9595ff,#9494ff,#9494ff,#9494ff,#9494ff,#9494ff,#9494ff,#9595ff,#9595ff,#9696ff,#9797ff,#9898ff,#9999ff,#9a9aff,#9b9bff,#9c9cff,#9d9dff,#9f9fff,#a0a0ff)"></i><i style="height:2px;background:linear-gradient(90deg,#bdbdff,#b3b3ff,#afafff,#adadff,#acacff,#ababff,#aaaaff,#a4a4ff,#9f9fff,#9c9cff,#9999ff,#9797ff,#9595ff,#9494ff,#9393ff,#9292ff,#9292ff,#9292ff,#9191ff,#9292ff,#9292ff,#9292ff,#9393ff,#9393ff,#9494ff,#9595ff,#9696ff,#9797ff,#9898ff,#9999ff,#9b9bff,#9c9cff,#9e9eff,#9f9fff)"></i><i style="height:2px;background:linear-gradient(90deg,#bbbbff,#b2b2ff,#afafff,#adadff,#ababff,#aaaaff,#a5a5ff,#a0a0ff,#9c9cff,#9898ff,#9696ff,#9494ff,#9292ff,#9191ff,#9090ff,#9090ff,#8f8fff,#8f8fff,#8f8fff,#8f8fff,#9090ff,#9090ff,#9191ff,#9292ff,#9292ff,#9393ff,#9494ff,#9696ff,#9797ff,#9898ff,#9a9aff,#9b9bff,#9d9dff,#9e9eff)"></i><i style="height:2px;background:linear-gradient(90deg,#b9b9ff,#b1b1ff,#aeaeff,#acacff,#ababff,#a7a7ff,#a1a1ff,#9c9cff,#9898ff,#9595ff,#9393ff,#9191ff,#9090ff,#8f8fff,#8e8eff,#8e8eff,#8d8dff,#8d8dff,#8d8dff,#8d8dff,#8e8eff,#8e8eff,#8f8fff,#9090ff,#9191ff,#9292ff,#9393ff,#9494ff,#9595ff,#9797ff,#9898ff,#9a9aff,#9c9cff,#9d9dff)"></i><i style="height:2px;background:linear-gradient(90deg,#b8b8ff,#b0b0ff,#adadff,#ababff,#aaaaff,#a3a3ff,#9d9dff,#9898ff,#9595ff,#9292ff,#9090ff,#8f8fff,#8d8dff,#8c8cff,#8c8cff,#8b8bff,#8b8bff,#8b8bff,#8b8bff,#8c8cff,#8c8cff,#8d8dff,#8d8dff,#8e8eff,#8f8fff,#9090ff,#9191ff,#9393ff,#9494ff,#9696ff,#9797ff,#9999ff,#9b9bff,#9c9cff)"></i><i style="height:2px;background:linear-gradient(90deg,#b6b6ff,#afafff,#acacff,#ababff,#a6a6ff,#9e9eff,#9999ff,#9595ff,#9292ff,#8f8fff,#8d8dff,#8c8cff,#8b8bff,#8a8aff,#8a8aff,#8989ff,#8989ff,#8989ff,#8989ff,#8a8aff,#8a8aff,#8b8bff,#8c8cff,#8d8dff,#8e8eff,#8f8fff,#9090ff,#9191ff,#9393ff,#9595ff,#9696ff,#9898ff,#9a9aff,#9c9cff)"></i><i style="height:2px;background:linear-gradient(90deg,#b5b5ff,#aeaeff,#acacff,#aaaaff,#a2a2ff,#9a9aff,#9696ff,#9292ff,#8f8fff,#8d8dff,#8b8bff,#8a8aff,#8989ff,#8888ff,#8787ff,#8787ff,#8787ff,#8787ff,#8888ff,#8888ff,#8989ff,#8989ff,#8a8aff,#8b8bff,#8c8cff,#8e8eff,#8f8fff,#9090ff,#9292ff,#9494ff,#9595ff,#9797ff,#9999ff,#9b9bff)"></i><i style="height:2px;background:linear-gradient(90deg,#b3b3ff,#adadff,#ababff,#a7a7ff,#9e9eff,#9797ff,#9292ff,#8f8fff,#8c8cff,#8a8aff,#8888ff,#8787ff,#8686ff,#8686ff,#8585ff,#8585ff,#8585ff,#8686ff,#8686ff,#8686ff,#8787ff,#8888ff,#8989ff,#8a8aff,#8b8bff,#8c8cff,#8e8eff,#8f8fff,#9191ff,#9393ff,#9494ff,#9696ff,#9898ff,#9a9aff)"></i><i style="height:2px;background:linear-gradient(90deg,#b2b2ff,#adadff,#aaaaff,#a2a2ff,#9a9aff,#9393ff,#8f8fff,#8c8cff,#8989ff,#8888ff,#8686ff,#8585ff,#8484ff,#8484ff,#8484ff,#8383ff,#8484ff,#8484ff,#8484ff,#8585ff,#8686ff,#8686ff,#8787ff,#8989ff,#8a8aff,#8b8bff,#8d8dff,#8e8eff,#9090ff,#9292ff,#9494ff,#9696ff,#9898ff,#9a9aff)"></i><i style="height:2px;background:linear-gradient(90deg,#b1b1ff,#acacff,#a9a9ff,#9e9eff,#9696ff,#9090ff,#8c8cff,#8989ff,#8787ff,#8585ff,#8484ff,#8383ff,#8282ff,#8282ff,#8282ff,#8282ff,#8282ff,#8282ff,#8383ff,#8383ff,#8484ff,#8585ff,#8686ff,#8787ff,#8989ff,#8a8aff,#8c8cff,#8d8dff,#8f8fff,#9191ff,#9393ff,#9595ff,#9797ff,#9a9aff)"></i><i style="height:2px;background:linear-gradient(90deg,#b0b0ff,#ababff,#a4a4ff,#9a9aff,#9292ff,#8d8dff,#8a8aff,#8787ff,#8585ff,#8383ff,#8282ff,#8181ff,#8181ff,#8080ff,#8080ff,#8080ff,#8080ff,#8181ff,#8181ff,#8282ff,#8383ff,#8484ff,#8585ff,#8686ff,#8888ff,#8989ff,#8b8bff,#8d8dff,#8e8eff,#9090ff,#9393ff,#9595ff,#9797ff,#9a9aff)"></i><i style="height:2px;background:linear-gradient(90deg,#aeaeff,#ababff,#a0a0ff,#9696ff,#8f8fff,#8a8aff,#8787ff,#8585ff,#8383ff,#8181ff,#8080ff,#7f7fff,#7f7fff,#7e7eff,#7e7eff,#7f7fff,#7f7fff,#7f7fff,#8080ff,#8181ff,#8282ff,#8383ff,#8484ff,#8585ff,#8787ff,#8888ff,#8a8aff,#8c8cff,#8e8eff,#9090ff,#9292ff,#9595ff,#9797ff,#9a9aff)"></i><i style="height:2px;background:linear-gradient(90deg,#aeaeff,#aaaaff,#9c9cff,#9393ff,#8c8cff,#8888ff,#8585ff,#8282ff,#8181ff,#7f7fff,#7e7eff,#7e7eff,#7d7dff,#7d7dff,#7d7dff,#7d7dff,#7d7dff,#7e7eff,#7f7fff,#7f7fff,#8080ff,#8181ff,#8383ff,#8484ff,#8686ff,#8787ff,#8989ff,#8b8bff,#8d8dff,#9090ff,#9292ff,#9494ff,#9797ff,#9a9aff)"></i><i style="height:2px;background:linear-gradient(90deg,#adadff,#a7a7ff,#9898ff,#9090ff,#8a8aff,#8686ff,#8383ff,#8080ff,#7f7fff,#7d7dff,#7d7dff,#7c7cff,#7c7cff,#7b7bff,#7b7bff,#7c7cff,#7c7cff,#7d7dff,#7d7dff,#7e7eff,#7f7fff,#8080ff,#8282ff,#8383ff,#8585ff,#8787ff,#8989ff,#8b8bff,#8d8dff,#8f8fff,#9292ff,#9595ff,#9797ff,#9a9aff)"></i><i style="height:2px;background:linear-gradient(90deg,#adadff,#a3a3ff,#9595ff,#8d8dff,#8787ff,#8383ff,#8181ff,#7f7fff,#7d7dff,#7c7cff,#7b7bff,#7a7aff,#7a7aff,#7a7aff,#7a7aff,#7a7aff,#7b7bff,#7b7bff,#7c7cff,#7d7dff,#7e7eff,#7f7fff,#8181ff,#8282ff,#8484ff,#8686ff,#8888ff,#8a8aff,#8d8dff,#8f8fff,#9292ff,#9595ff,#9898ff,#9b9bff)"></i><i style="height:2px;background:linear-gradient(90deg,#acacff,#9f9fff,#9292ff,#8b8bff,#8585ff,#8181ff,#7f7fff,#7d7dff,#7b7bff,#7a7aff,#7a7aff,#7979ff,#7979ff,#7979ff,#7979ff,#7979ff,#7a7aff,#7a7aff,#7b7bff,#7c7cff,#7d7dff,#7f7fff,#8080ff,#8282ff,#8484ff,#8686ff,#8888ff,#8a8aff,#8d8dff,#9090ff,#9292ff,#9696ff,#9999ff,#9c9cff)"></i><i style="height:2px;background:linear-gradient(90deg,#acacff,#9c9cff,#9090ff,#8989ff,#8383ff,#8080ff,#7d7dff,#7b7bff,#7a7aff,#7979ff,#7878ff,#7878ff,#7777ff,#7777ff,#7878ff,#7878ff,#7878ff,#7979ff,#7a7aff,#7b7bff,#7c7cff,#7e7eff,#8080ff,#8181ff,#8383ff,#8686ff,#8888ff,#8a8aff,#8d8dff,#9090ff,#9393ff,#9696ff,#9a9aff,#9d9dff)"></i><i style="height:2px;background:linear-gradient(90deg,#ababff,#9a9aff,#8d8dff,#8787ff,#8282ff,#7e7eff,#7c7cff,#7a7aff,#7979ff,#7878ff,#7777ff,#7676ff,#7676ff,#7676ff,#7676ff,#7777ff,#7777ff,#7878ff,#7979ff,#7a7aff,#7c7cff,#7d7dff,#7f7fff,#8181ff,#8383ff,#8585ff,#8888ff,#8b8bff,#8e8eff,#9191ff,#9494ff,#9898ff,#9b9bff,#9f9fff)"></i><i style="height:2px;background:linear-gradient(90deg,#ababff,#9898ff,#8c8cff,#8585ff,#8080ff,#7d7dff,#7b7bff,#7979ff,#7777ff,#7676ff,#7676ff,#7575ff,#7575ff,#7575ff,#7575ff,#7676ff,#7676ff,#7777ff,#7878ff,#7a7aff,#7b7bff,#7d7dff,#7f7fff,#8181ff,#8383ff,#8686ff,#8888ff,#8b8bff,#8f8fff,#9292ff,#9696ff,#9999ff,#9d9dff,#a2a2ff)"></i><i style="height:2px;background:linear-gradient(90deg,#ababff,#9696ff,#8b8bff,#8484ff,#7f7fff,#7c7cff,#7a7aff,#7878ff,#7676ff,#7575ff,#7575ff,#7474ff,#7474ff,#7474ff,#7474ff,#7575ff,#7676ff,#7676ff,#7878ff,#7979ff,#7b7bff,#7d7dff,#7f7fff,#8181ff,#8383ff,#8686ff,#8989ff,#8d8dff,#9090ff,#9494ff,#9898ff,#9c9cff,#a0a0ff,#a5a5ff)"></i><i style="height:2px;background:linear-gradient(90deg,#ababff,#9595ff,#8a8aff,#8383ff,#7e7eff,#7b7bff,#7979ff,#7777ff,#7575ff,#7474ff,#7474ff,#7373ff,#7373ff,#7373ff,#7373ff,#7474ff,#7575ff,#7676ff,#7777ff,#7878ff,#7a7aff,#7c7cff,#7f7fff,#8181ff,#8484ff,#8787ff,#8a8aff,#8e8eff,#9292ff,#9696ff,#9a9aff,#9f9fff,#a4a4ff,#a9a9ff)"></i><i style="height:2px;background:linear-gradient(90deg,#ababff,#9595ff,#8989ff,#8383ff,#7e7eff,#7a7aff,#7878ff,#7676ff,#7474ff,#7373ff,#7373ff,#7272ff,#7272ff,#7272ff,#7272ff,#7373ff,#7474ff,#7575ff,#7777ff,#7878ff,#7a7aff,#7d7dff,#7f7fff,#8282ff,#8585ff,#8989ff,#8c8cff,#9090ff,#9595ff,#9999ff,#9e9eff,#a3a3ff,#a9a9ff,#aaaaff)"></i><i style="height:2px;background:linear-gradient(90deg,#ababff,#9696ff,#8a8aff,#8383ff,#7e7eff,#7a7aff,#7777ff,#7575ff,#7474ff,#7272ff,#7272ff,#6f6fff,#6d6dff,#6f6fff,#7272ff,#7272ff,#7373ff,#7575ff,#7676ff,#7878ff,#7a7aff,#7d7dff,#8080ff,#8383ff,#8787ff,#8b8bff,#8f8fff,#9494ff,#9999ff,#9e9eff,#a4a4ff,#aaaaff,#ababff,#ababff)"></i><i style="height:2px;background:linear-gradient(90deg,#ababff,#9898ff,#8b8bff,#8484ff,#7e7eff,#7a7aff,#7777ff,#7575ff,#7373ff,#7272ff,#6b6bff,#6666ff,#6464ff,#6666ff,#6b6bff,#7272ff,#7373ff,#7474ff,#7676ff,#7878ff,#7b7bff,#7e7eff,#8181ff,#8585ff,#8989ff,#8e8eff,#9393ff,#9898ff,#9e9eff,#a4a4ff,#aaaaff,#ababff,#ababff,#acacff)"></i><i style="height:2px;background:linear-gradient(90deg,#acacff,#9d9dff,#8e8eff,#8686ff,#7f7fff,#7b7bff,#7777ff,#7575ff,#7272ff,#6e6eff,#6464ff,#5e5eff,#5b5bff,#5e5eff,#6464ff,#6e6eff,#7272ff,#7474ff,#7777ff,#7979ff,#7c7cff,#8080ff,#8484ff,#8989ff,#8e8eff,#9393ff,#9999ff,#a0a0ff,#a7a7ff,#aaaaff,#ababff,#acacff,#adadff,#aeaeff)"></i><i style="height:1px;background:linear-gradient(90deg,#adadff,#a4a4ff,#9393ff,#8989ff,#8181ff,#7c7cff,#7878ff,#7575ff,#7272ff,#6a6aff,#5f5fff,#5858ff,#5454ff,#5858ff,#5f5fff,#6b6bff,#7272ff,#7575ff,#7777ff,#7b7bff,#7e7eff,#8383ff,#8888ff,#8d8dff,#9393ff,#9a9aff,#a1a1ff,#a9a9ff,#ababff,#acacff,#adadff,#aeaeff,#afafff,#b0b0ff)"></i><i style="height:1px;background:linear-gradient(90deg,#aeaeff,#aaaaff,#9797ff,#8c8cff,#8383ff,#7d7dff,#7979ff,#7575ff,#7373ff,#6969ff,#5c5cff,#5454ff,#5050ff,#5454ff,#5d5dff,#6a6aff,#7373ff,#7575ff,#7878ff,#7c7cff,#8080ff,#8585ff,#8b8bff,#9191ff,#9898ff,#9f9fff,#a8a8ff,#ababff,#acacff,#adadff,#aeaeff,#afafff,#b0b0ff,#b1b1ff)"></i><i style="height:1px;background:linear-gradient(90deg,#afafff,#ababff,#9b9bff,#8f8fff,#8585ff,#7e7eff,#7a7aff,#7676ff,#7373ff,#6767ff,#5959ff,#5050ff,#4c4cff,#5050ff,#5a5aff,#6969ff,#7373ff,#7676ff,#7979ff,#7d7dff,#8282ff,#8888ff,#8e8eff,#9595ff,#9d9dff,#a5a5ff,#aaaaff,#ababff,#adadff,#aeaeff,#afafff,#b0b0ff,#b2b2ff,#b3b3ff)"></i><i style="height:1px;background:linear-gradient(90deg,#b2b2ff,#acacff,#a7a7ff,#9797ff,#8b8bff,#8383ff,#7c7cff,#7878ff,#7474ff,#6b6bff,#5858ff,#4d4dff,#4848ff,#4d4dff,#5a5aff,#6e6eff,#7474ff,#7878ff,#7c7cff,#8181ff,#8888ff,#8f8fff,#9797ff,#a0a0ff,#aaaaff,#ababff,#acacff,#aeaeff,#afafff,#b0b0ff,#b2b2ff,#b4b4ff,#b6b6ff,#b7b7ff)"></i><i style="height:1px;background:linear-gradient(90deg,#b6b6ff,#aeaeff,#ababff,#a1a1ff,#9393ff,#8888ff,#8080ff,#7a7aff,#7575ff,#7070ff,#5959ff,#4a4aff,#4444ff,#4b4bff,#5b5bff,#7272ff,#7575ff,#7a7aff,#7f7fff,#8686ff,#8e8eff,#9797ff,#a1a1ff,#aaaaff,#acacff,#adadff,#aeaeff,#b0b0ff,#b2b2ff,#b4b4ff,#b6b6ff,#b8b8ff,#babaff,#bdbdff)"></i><i style="height:1px;background:linear-gradient(90deg,#b9b9ff,#b0b0ff,#acacff,#aaaaff,#9a9aff,#8d8dff,#8484ff,#7c7cff,#7676ff,#7272ff,#5959ff,#4747ff,#4040ff,#4848ff,#5c5cff,#7272ff,#7676ff,#7c7cff,#8383ff,#8b8bff,#9595ff,#a0a0ff,#aaaaff,#acacff,#adadff,#afafff,#b1b1ff,#b3b3ff,#b5b5ff,#b7b7ff,#b9b9ff,#bcbcff,#bfbfff,#c2c2ff)"></i><i style="height:1px;background:linear-gradient(90deg,#f1f1ff,#e9e9ff,#e5e5ff,#e1e1ff,#d0d0ff,#c4c4ff,#babaff,#b3b3ff,#adadff,#a0a0ff,#8585ff,#7474ff,#4040ff,#7575ff,#8888ff,#a5a5ff,#aeaeff,#b3b3ff,#babaff,#c2c2ff,#cbcbff,#d6d6ff,#e2e2ff,#e4e4ff,#e6e6ff,#e7e7ff,#e9e9ff,#ebebff,#ededff,#efefff,#f2f2ff,#f4f4ff,#f7f7ff,#fafaff)"></i><i style="height:0.7px;background:linear-gradient(90deg,#fff9f9,#f4f4ff,#ededff,#e8e8ff,#e5e5ff,#e2e2ff,#d0d0ff,#c2c2ff,#b7b7ff,#aeaeff,#9d9dff,#7b7bff,#4242ff,#7d7dff,#a2a2ff,#afafff,#b7b7ff,#c2c2ff,#d0d0ff,#dfdfff,#e4e4ff,#e6e6ff,#e9e9ff,#ebebff,#eeeeff,#f2f2ff,#f5f5ff,#f9f9ff,#fdfdff,#fffcfc,#fff8f8,#fff3f3,#ffeded,#ffe8e8)"></i></div><div class="h" style="left:442.7px;top:44.3px;width:16px;height:267.7px"><i style="height:3px;background:linear-gradient(90deg,#ff7171,#ff7171,#ff7777,#ff7d7d,#ff8484,#ff8b8b,#ff9292,#ff9898,#ff9f9f,#ffa6a6,#ffc4c4,#ffe2e2,#ffe2e2,#ffe2e2,#ffe3e3,#ffe5e5,#ffe8e8)"></i><i style="height:3px;background:linear-gradient(90deg,#ff7171,#ff7171,#ff7878,#ff7e7e,#ff8585,#ff8c8c,#ff9292,#ff9999,#ff9f9f,#ffa6a6,#ffc5c5,#ffe2e2,#ffe2e2,#ffe2e2,#ffe3e3,#ffe6e6,#ffe9e9)"></i><i style="height:3px;background:linear-gradient(90deg,#ff7171,#ff7272,#ff7979,#ff7f7f,#ff8686,#ff8c8c,#ff9393,#ff9999,#ffa0a0,#ffa6a6,#ffc5c5,#ffe2e2,#ffe2e2,#ffe2e2,#ffe3e3,#ffe7e7,#ffeaea)"></i><i style="height:3px;background:linear-gradient(90deg,#ff7171,#ff7373,#ff7979,#ff8080,#ff8686,#ff8d8d,#ff9393,#ff9a9a,#ffa0a0,#ffa6a6,#ffc6c6,#ffe2e2,#ffe2e2,#ffe3e3,#ffe4e4,#ffe8e8,#ffebeb)"></i><i style="height:3px;background:linear-gradient(90deg,#ff7171,#ff7474,#ff7a7a,#ff8181,#ff8787,#ff8d8d,#ff9494,#ff9a9a,#ffa0a0,#ffa7a7,#ffc6c6,#ffe2e2,#ffe2e2,#ffe3e3,#ffe5e5,#ffe9e9,#ffecec)"></i><i style="height:3px;background:linear-gradient(90deg,#ff7171,#ff7575,#ff7b7b,#ff8181,#ff8888,#ff8e8e,#ff9494,#ff9a9a,#ffa0a0,#ffa7a7,#ffc7c7,#ffe2e2,#ffe2e2,#ffe3e3,#ffe6e6,#ffeaea,#ffeded)"></i><i style="height:3px;background:linear-gradient(90deg,#ff7171,#ff7676,#ff7c7c,#ff8282,#ff8888,#ff8e8e,#ff9595,#ff9b9b,#ffa1a1,#ffa7a7,#ffc7c7,#ffe2e2,#ffe3e3,#ffe4e4,#ffe7e7,#ffeaea,#ffeeee)"></i><i style="height:3px;background:linear-gradient(90deg,#ff7171,#ff7777,#ff7d7d,#ff8383,#ff8989,#ff8f8f,#ff9595,#ff9b9b,#ffa1a1,#ffa7a7,#ffc8c8,#ffe2e2,#ffe3e3,#ffe5e5,#ffe8e8,#ffebeb,#ffeeee)"></i><i style="height:3px;background:linear-gradient(90deg,#ff7272,#ff7878,#ff7e7e,#ff8484,#ff8a8a,#ff9090,#ff9595,#ff9b9b,#ffa1a1,#ffa7a7,#ffc9c9,#ffe2e2,#ffe3e3,#ffe6e6,#ffe9e9,#ffecec,#ffefef)"></i><i style="height:3px;background:linear-gradient(90deg,#ff7373,#ff7979,#ff7f7f,#ff8585,#ff8a8a,#ff9090,#ff9696,#ff9c9c,#ffa2a2,#ffa7a7,#ffc9c9,#ffe3e3,#ffe4e4,#ffe7e7,#ffeaea,#ffeded,#fff0f0)"></i><i style="height:3px;background:linear-gradient(90deg,#ff7474,#ff7a7a,#ff8080,#ff8585,#ff8b8b,#ff9191,#ff9696,#ff9c9c,#ffa2a2,#ffa7a7,#ffcaca,#ffe3e3,#ffe6e6,#ffe8e8,#ffebeb,#ffeeee,#fff1f1)"></i><i style="height:3px;background:linear-gradient(90deg,#ff7575,#ff7b7b,#ff8181,#ff8686,#ff8c8c,#ff9191,#ff9797,#ff9c9c,#ffa2a2,#ffa8a8,#ffcaca,#ffe4e4,#ffe7e7,#ffe9e9,#ffecec,#ffefef,#fff2f2)"></i><i style="height:3px;background:linear-gradient(90deg,#ff7676,#ff7c7c,#ff8181,#ff8787,#ff8c8c,#ff9292,#ff9797,#ff9d9d,#ffa2a2,#ffa8a8,#ffcbcb,#ffe5e5,#ffe8e8,#ffeaea,#ffeded,#fff0f0,#fff3f3)"></i><i style="height:3px;background:linear-gradient(90deg,#ff7878,#ff7d7d,#ff8282,#ff8888,#ff8d8d,#ff9292,#ff9898,#ff9d9d,#ffa3a3,#ffa8a8,#ffcbcb,#ffe6e6,#ffe9e9,#ffebeb,#ffeeee,#fff1f1,#fff4f4)"></i><i style="height:3px;background:linear-gradient(90deg,#ff7979,#ff7e7e,#ff8383,#ff8888,#ff8e8e,#ff9393,#ff9898,#ff9e9e,#ffa3a3,#ffa8a8,#ffcccc,#ffe7e7,#ffeaea,#ffeded,#ffefef,#fff2f2,#fff5f5)"></i><i style="height:3px;background:linear-gradient(90deg,#ff7a7a,#ff7f7f,#ff8484,#ff8989,#ff8e8e,#ff9494,#ff9999,#ff9e9e,#ffa3a3,#ffa8a8,#ffcccc,#ffe8e8,#ffebeb,#ffeeee,#fff0f0,#fff3f3,#fff5f5)"></i><i style="height:3px;background:linear-gradient(90deg,#ff7b7b,#ff8080,#ff8585,#ff8a8a,#ff8f8f,#ff9494,#ff9999,#ff9e9e,#ffa3a3,#ffa8a8,#ffcdcd,#ffe9e9,#ffecec,#ffefef,#fff1f1,#fff4f4,#fff6f6)"></i><i style="height:3px;background:linear-gradient(90deg,#ff7c7c,#ff8181,#ff8686,#ff8b8b,#ff9090,#ff9595,#ff9a9a,#ff9f9f,#ffa4a4,#ffa9a9,#ffcece,#ffebeb,#ffeded,#fff0f0,#fff2f2,#fff5f5,#fff7f7)"></i><i style="height:3px;background:linear-gradient(90deg,#ff7d7d,#ff8282,#ff8787,#ff8b8b,#ff9090,#ff9595,#ff9a9a,#ff9f9f,#ffa4a4,#ffa9a9,#ffcece,#ffecec,#ffeeee,#fff1f1,#fff3f3,#fff6f6,#fff8f8)"></i><i style="height:3px;background:linear-gradient(90deg,#ff7e7e,#ff8383,#ff8787,#ff8c8c,#ff9191,#ff9696,#ff9b9b,#ff9f9f,#ffa4a4,#ffa9a9,#ffcfcf,#ffeded,#ffefef,#fff2f2,#fff4f4,#fff6f6,#fff9f9)"></i><i style="height:3px;background:linear-gradient(90deg,#ff7f7f,#ff8484,#ff8888,#ff8d8d,#ff9292,#ff9696,#ff9b9b,#ffa0a0,#ffa4a4,#ffa9a9,#ffcfcf,#ffeeee,#fff0f0,#fff3f3,#fff5f5,#fff7f7,#fffafa)"></i><i style="height:3px;background:linear-gradient(90deg,#ff8080,#ff8585,#ff8989,#ff8e8e,#ff9292,#ff9797,#ff9b9b,#ffa0a0,#ffa5a5,#ffa9a9,#ffd0d0,#ffefef,#fff1f1,#fff4f4,#fff6f6,#fff8f8,#fffbfb)"></i><i style="height:3px;background:linear-gradient(90deg,#ff8181,#ff8686,#ff8a8a,#ff8f8f,#ff9393,#ff9797,#ff9c9c,#ffa0a0,#ffa5a5,#ffa9a9,#ffd0d0,#fff0f0,#fff2f2,#fff5f5,#fff7f7,#fff9f9,#fffbfb)"></i><i style="height:3px;background:linear-gradient(90deg,#ff8282,#ff8787,#ff8b8b,#ff8f8f,#ff9494,#ff9898,#ff9c9c,#ffa1a1,#ffa5a5,#ffaaaa,#ffd1d1,#fff1f1,#fff3f3,#fff6f6,#fff8f8,#fffafa,#fffcfc)"></i><i style="height:3px;background:linear-gradient(90deg,#ff8383,#ff8888,#ff8c8c,#ff9090,#ff9494,#ff9999,#ff9d9d,#ffa1a1,#ffa5a5,#ffaaaa,#ffd2d2,#fff2f2,#fff5f5,#fff7f7,#fff9f9,#fffbfb,#fffdfd)"></i><i style="height:3px;background:linear-gradient(90deg,#ff8484,#ff8989,#ff8d8d,#ff9191,#ff9595,#ff9999,#ff9d9d,#ffa2a2,#ffa6a6,#ffaaaa,#ffd2d2,#fff4f4,#fff6f6,#fff8f8,#fffafa,#fffcfc,#fffefe)"></i><i style="height:3px;background:linear-gradient(90deg,#ff8585,#ff8989,#ff8e8e,#ff9292,#ff9696,#ff9a9a,#ff9e9e,#ffa2a2,#ffa6a6,#ffaaaa,#ffd3d3,#fff5f5,#fff7f7,#fff9f9,#fffbfb,#fffdfd,#ffffff)"></i><i style="height:3px;background:linear-gradient(90deg,#ff8787,#ff8a8a,#ff8e8e,#ff9292,#ff9696,#ff9a9a,#ff9e9e,#ffa2a2,#ffa6a6,#ffacac,#ffd3d3,#fff6f6,#fff8f8,#fffafa,#fffcfc,#fffefe,#fefeff)"></i><i style="height:3px;background:linear-gradient(90deg,#ff8888,#ff8b8b,#ff8f8f,#ff9393,#ff9797,#ff9b9b,#ff9f9f,#ffa3a3,#ffa6a6,#ffadad,#ffd4d4,#fff7f7,#fff9f9,#fffbfb,#fffdfd,#ffffff,#fdfdff)"></i><i style="height:3px;background:linear-gradient(90deg,#ff8989,#ff8c8c,#ff9090,#ff9494,#ff9898,#ff9b9b,#ff9f9f,#ffa3a3,#ffa7a7,#ffafaf,#ffd4d4,#fff8f8,#fffafa,#fffcfc,#fffefe,#fefeff,#fcfcff)"></i><i style="height:3px;background:linear-gradient(90deg,#ff8a8a,#ff8d8d,#ff9191,#ff9595,#ff9898,#ff9c9c,#ffa0a0,#ffa3a3,#ffa7a7,#ffb0b0,#ffd5d5,#fff9f9,#fffbfb,#fffdfd,#ffffff,#fdfdff,#fcfcff)"></i><i style="height:3px;background:linear-gradient(90deg,#ff8b8b,#ff8e8e,#ff9292,#ff9595,#ff9999,#ff9d9d,#ffa0a0,#ffa4a4,#ffa7a7,#ffb2b2,#ffd5d5,#fffafa,#fffcfc,#fffefe,#fefeff,#fcfcff,#fbfbff)"></i><i style="height:3px;background:linear-gradient(90deg,#ff8c8c,#ff8f8f,#ff9393,#ff9696,#ff9a9a,#ff9d9d,#ffa1a1,#ffa4a4,#ffa8a8,#ffb4b4,#ffd6d6,#fffbfb,#fffdfd,#ffffff,#fdfdff,#fcfcff,#fafaff)"></i><i style="height:3px;background:linear-gradient(90deg,#ff8d8d,#ff9090,#ff9494,#ff9797,#ff9a9a,#ff9e9e,#ffa1a1,#ffa4a4,#ffa8a8,#ffb5b5,#ffd7d7,#fffdfd,#fffefe,#fefeff,#fcfcff,#fbfbff,#f9f9ff)"></i><i style="height:3px;background:linear-gradient(90deg,#ff8e8e,#ff9191,#ff9595,#ff9898,#ff9b9b,#ff9e9e,#ffa2a2,#ffa5a5,#ffa8a8,#ffb7b7,#ffd7d7,#fffefe,#ffffff,#fdfdff,#fbfbff,#fafaff,#f8f8ff)"></i><i style="height:3px;background:linear-gradient(90deg,#ff8f8f,#ff9292,#ff9595,#ff9999,#ff9c9c,#ff9f9f,#ffa2a2,#ffa5a5,#ffa8a8,#ffb8b8,#ffd8d8,#ffffff,#fdfdff,#fcfcff,#fafaff,#f9f9ff,#f7f7ff)"></i><i style="height:3px;background:linear-gradient(90deg,#ff9090,#ff9393,#ff9696,#ff9999,#ff9c9c,#ff9f9f,#ffa3a3,#ffa6a6,#ffa9a9,#ffbaba,#ffd8d8,#fefeff,#fcfcff,#fbfbff,#f9f9ff,#f8f8ff,#f6f6ff)"></i><i style="height:3px;background:linear-gradient(90deg,#ff9191,#ff9494,#ff9797,#ff9a9a,#ff9d9d,#ffa0a0,#ffa3a3,#ffa6a6,#ffa9a9,#ffbcbc,#ffd9d9,#fdfdff,#fbfbff,#fafaff,#f8f8ff,#f7f7ff,#f5f5ff)"></i><i style="height:3px;background:linear-gradient(90deg,#ff9292,#ff9595,#ff9898,#ff9b9b,#ff9e9e,#ffa1a1,#ffa3a3,#ffa6a6,#ffa9a9,#ffbdbd,#ffd9d9,#fcfcff,#fafaff,#f9f9ff,#f7f7ff,#f6f6ff,#f5f5ff)"></i><i style="height:3px;background:linear-gradient(90deg,#ff9494,#ff9696,#ff9999,#ff9c9c,#ff9e9e,#ffa1a1,#ffa4a4,#ffa7a7,#ffa9a9,#ffbfbf,#ffdada,#fafaff,#f9f9ff,#f8f8ff,#f6f6ff,#f5f5ff,#f4f4ff)"></i><i style="height:3px;background:linear-gradient(90deg,#ff9595,#ff9797,#ff9a9a,#ff9d9d,#ff9f9f,#ffa2a2,#ffa4a4,#ffa7a7,#ffaaaa,#ffc0c0,#ffdbdb,#f9f9ff,#f8f8ff,#f7f7ff,#f5f5ff,#f4f4ff,#f3f3ff)"></i><i style="height:3px;background:linear-gradient(90deg,#ff9696,#ff9898,#ff9b9b,#ff9d9d,#ffa0a0,#ffa2a2,#ffa5a5,#ffa7a7,#ffaaaa,#ffc2c2,#ffdbdb,#f8f8ff,#f7f7ff,#f6f6ff,#f4f4ff,#f3f3ff,#f2f2ff)"></i><i style="height:3px;background:linear-gradient(90deg,#ff9797,#ff9999,#ff9c9c,#ff9e9e,#ffa0a0,#ffa3a3,#ffa5a5,#ffa8a8,#ffabab,#ffc4c4,#ffdcdc,#f7f7ff,#f6f6ff,#f5f5ff,#f3f3ff,#f2f2ff,#f1f1ff)"></i><i style="height:3px;background:linear-gradient(90deg,#ff9898,#ff9a9a,#ff9d9d,#ff9f9f,#ffa1a1,#ffa3a3,#ffa6a6,#ffa8a8,#ffaeae,#ffc5c5,#ffdcdc,#f6f6ff,#f5f5ff,#f4f4ff,#f2f2ff,#f1f1ff,#f0f0ff)"></i><i style="height:3px;background:linear-gradient(90deg,#ff9999,#ff9b9b,#ff9d9d,#ffa0a0,#ffa2a2,#ffa4a4,#ffa6a6,#ffa8a8,#ffb1b1,#ffc7c7,#ffdddd,#f5f5ff,#f4f4ff,#f3f3ff,#f1f1ff,#f0f0ff,#efefff)"></i><i style="height:3px;background:linear-gradient(90deg,#ff9a9a,#ff9c9c,#ff9e9e,#ffa0a0,#ffa2a2,#ffa5a5,#ffa7a7,#ffa9a9,#ffb3b3,#ffc8c8,#ffdddd,#f4f4ff,#f3f3ff,#f2f2ff,#f1f1ff,#efefff,#eeeeff)"></i><i style="height:3px;background:linear-gradient(90deg,#ff9b9b,#ff9d9d,#ff9f9f,#ffa1a1,#ffa3a3,#ffa5a5,#ffa7a7,#ffa9a9,#ffb6b6,#ffcaca,#ffdede,#f3f3ff,#f2f2ff,#f1f1ff,#f0f0ff,#efefff,#eeeeff)"></i><i style="height:3px;background:linear-gradient(90deg,#ff9c9c,#ff9e9e,#ffa0a0,#ffa2a2,#ffa4a4,#ffa6a6,#ffa8a8,#ffaaaa,#ffb8b8,#ffcbcb,#ffdede,#f2f2ff,#f1f1ff,#f0f0ff,#efefff,#eeeeff,#ededff)"></i><i style="height:3px;background:linear-gradient(90deg,#ff9d9d,#ff9f9f,#ffa1a1,#ffa3a3,#ffa4a4,#ffa6a6,#ffa8a8,#ffaaaa,#ffbbbb,#ffcdcd,#ffdfdf,#f0f0ff,#f0f0ff,#efefff,#eeeeff,#ededff,#ececff)"></i><i style="height:3px;background:linear-gradient(90deg,#ff9e9e,#ffa0a0,#ffa2a2,#ffa3a3,#ffa5a5,#ffa7a7,#ffa8a8,#ffacac,#ffbdbd,#ffcece,#ffe0e0,#efefff,#efefff,#eeeeff,#ededff,#ececff,#ebebff)"></i><i style="height:3px;background:linear-gradient(90deg,#ff9f9f,#ffa1a1,#ffa2a2,#ffa4a4,#ffa6a6,#ffa7a7,#ffa9a9,#ffafaf,#ffc0c0,#ffd0d0,#ffe0e0,#eeeeff,#eeeeff,#ededff,#ececff,#ebebff,#eaeaff)"></i><i style="height:3px;background:linear-gradient(90deg,#ffa0a0,#ffa2a2,#ffa3a3,#ffa5a5,#ffa6a6,#ffa8a8,#ffa9a9,#ffb3b3,#ffc2c2,#ffd1d1,#ffe1e1,#ededff,#ededff,#ececff,#ebebff,#eaeaff,#e9e9ff)"></i><i style="height:3px;background:linear-gradient(90deg,#ffa1a1,#ffa3a3,#ffa4a4,#ffa5a5,#ffa7a7,#ffa8a8,#ffaaaa,#ffb6b6,#ffc4c4,#ffd3d3,#ffe1e1,#ececff,#ececff,#ebebff,#eaeaff,#e9e9ff,#e9e9ff)"></i><i style="height:3px;background:linear-gradient(90deg,#ffa2a2,#ffa3a3,#ffa5a5,#ffa6a6,#ffa7a7,#ffa9a9,#ffabab,#ffb9b9,#ffc6c6,#ffd4d4,#ffe2e2,#ebebff,#ebebff,#eaeaff,#e9e9ff,#e9e9ff,#e8e8ff)"></i><i style="height:3px;background:linear-gradient(90deg,#ffa3a3,#ffa4a4,#ffa5a5,#ffa7a7,#ffa8a8,#ffa9a9,#ffafaf,#ffbcbc,#ffc9c9,#ffd5d5,#ffe2e2,#eaeaff,#eaeaff,#e9e9ff,#e9e9ff,#e8e8ff,#e7e7ff)"></i><i style="height:3px;background:linear-gradient(90deg,#ffa4a4,#ffa5a5,#ffa6a6,#ffa7a7,#ffa9a9,#ffaaaa,#ffb3b3,#ffbfbf,#ffcbcb,#ffd7d7,#ffe2e2,#eaeaff,#e9e9ff,#e8e8ff,#e8e8ff,#e7e7ff,#e7e7ff)"></i><i style="height:3px;background:linear-gradient(90deg,#ffa5a5,#ffa6a6,#ffa7a7,#ffa8a8,#ffa9a9,#ffacac,#ffb7b7,#ffc2c2,#ffcdcd,#ffd8d8,#ffe5e5,#e9e9ff,#e8e8ff,#e8e8ff,#e7e7ff,#e6e6ff,#e6e6ff)"></i><i style="height:3px;background:linear-gradient(90deg,#ffa5a5,#ffa6a6,#ffa8a8,#ffa9a9,#ffaaaa,#ffb0b0,#ffbaba,#ffc4c4,#ffcfcf,#ffd9d9,#ffe9e9,#e8e8ff,#e7e7ff,#e7e7ff,#e6e6ff,#e6e6ff,#e5e5ff)"></i><i style="height:3px;background:linear-gradient(90deg,#ffa6a6,#ffa7a7,#ffa8a8,#ffa9a9,#ffabab,#ffb4b4,#ffbebe,#ffc7c7,#ffd1d1,#ffdada,#ffeded,#e7e7ff,#e6e6ff,#e6e6ff,#e5e5ff,#e5e5ff,#e5e5ff)"></i><i style="height:3px;background:linear-gradient(90deg,#ffa7a7,#ffa8a8,#ffa9a9,#ffaaaa,#ffafaf,#ffb8b8,#ffc1c1,#ffcaca,#ffd2d2,#ffdbdb,#fff1f1,#e6e6ff,#e6e6ff,#e5e5ff,#e5e5ff,#e4e4ff,#e4e4ff)"></i><i style="height:3px;background:linear-gradient(90deg,#ffa8a8,#ffa9a9,#ffa9a9,#ffacac,#ffb4b4,#ffbcbc,#ffc4c4,#ffcccc,#ffd4d4,#ffdcdc,#fff5f5,#e5e5ff,#e5e5ff,#e5e5ff,#e4e4ff,#e4e4ff,#e3e3ff)"></i><i style="height:3px;background:linear-gradient(90deg,#ffa8a8,#ffa9a9,#ffaaaa,#ffb0b0,#ffb8b8,#ffbfbf,#ffc7c7,#ffcece,#ffd6d6,#ffdddd,#fff9f9,#e5e5ff,#e4e4ff,#e4e4ff,#e4e4ff,#e3e3ff,#e3e3ff)"></i><i style="height:3px;background:linear-gradient(90deg,#ffa9a9,#ffaaaa,#ffaeae,#ffb5b5,#ffbcbc,#ffc3c3,#ffcaca,#ffd1d1,#ffd7d7,#ffdede,#fffcfc,#e4e4ff,#e4e4ff,#e3e3ff,#e3e3ff,#e2e2ff,#dedeff)"></i><i style="height:3px;background:linear-gradient(90deg,#ffaaaa,#ffadad,#ffb3b3,#ffbaba,#ffc0c0,#ffc6c6,#ffcccc,#ffd3d3,#ffd9d9,#ffdfdf,#ffffff,#e3e3ff,#e3e3ff,#e3e3ff,#e0e0ff,#ddddff,#d9d9ff)"></i><i style="height:3px;background:linear-gradient(90deg,#ffadad,#ffb2b2,#ffb8b8,#ffbebe,#ffc3c3,#ffc9c9,#ffcfcf,#ffd5d5,#ffdada,#ffe0e0,#fcfcff,#e3e3ff,#e0e0ff,#ddddff,#dadaff,#d8d8ff,#d5d5ff)"></i><i style="height:3px;background:linear-gradient(90deg,#ffb2b2,#ffb7b7,#ffbcbc,#ffc2c2,#ffc7c7,#ffcccc,#ffd1d1,#ffd6d6,#ffdcdc,#ffe1e1,#f9f9ff,#ddddff,#dbdbff,#d8d8ff,#d6d6ff,#d3d3ff,#d0d0ff)"></i><i style="height:3px;background:linear-gradient(90deg,#ffb7b7,#ffbcbc,#ffc1c1,#ffc5c5,#ffcaca,#ffcfcf,#ffd4d4,#ffd8d8,#ffdddd,#ffe2e2,#f6f6ff,#d8d8ff,#d6d6ff,#d3d3ff,#d1d1ff,#cfcfff,#ccccff)"></i><i style="height:3px;background:linear-gradient(90deg,#ffbcbc,#ffc0c0,#ffc5c5,#ffc9c9,#ffcdcd,#ffd1d1,#ffd6d6,#ffdada,#ffdede,#ffe2e2,#f4f4ff,#d3d3ff,#d1d1ff,#cfcfff,#cdcdff,#cacaff,#c8c8ff)"></i><i style="height:2px;background:linear-gradient(90deg,#ffc0c0,#ffc4c4,#ffc8c8,#ffcbcb,#ffcfcf,#ffd3d3,#ffd7d7,#ffdbdb,#ffdfdf,#ffe5e5,#f2f2ff,#cfcfff,#cdcdff,#cbcbff,#c9c9ff,#c7c7ff,#c5c5ff)"></i><i style="height:2px;background:linear-gradient(90deg,#ffc3c3,#ffc6c6,#ffcaca,#ffcdcd,#ffd1d1,#ffd5d5,#ffd8d8,#ffdcdc,#ffe0e0,#ffe9e9,#f0f0ff,#ccccff,#cacaff,#c8c8ff,#c7c7ff,#c5c5ff,#c3c3ff)"></i><i style="height:2px;background:linear-gradient(90deg,#ffc5c5,#ffc9c9,#ffcccc,#ffcfcf,#ffd3d3,#ffd6d6,#ffdada,#ffdddd,#ffe0e0,#ffeded,#efefff,#c9c9ff,#c8c8ff,#c6c6ff,#c4c4ff,#c2c2ff,#c1c1ff)"></i><i style="height:2px;background:linear-gradient(90deg,#ffc8c8,#ffcbcb,#ffcece,#ffd1d1,#ffd4d4,#ffd7d7,#ffdbdb,#ffdede,#ffe1e1,#fff1f1,#eeeeff,#c7c7ff,#c5c5ff,#c4c4ff,#c2c2ff,#c0c0ff,#bfbfff)"></i><i style="height:2px;background:linear-gradient(90deg,#ffcaca,#ffcdcd,#ffd0d0,#ffd3d3,#ffd6d6,#ffd9d9,#ffdcdc,#ffdfdf,#ffe1e1,#fff4f4,#ececff,#c4c4ff,#c3c3ff,#c1c1ff,#c0c0ff,#bebeff,#bdbdff)"></i><i style="height:2px;background:linear-gradient(90deg,#ffcccc,#ffcfcf,#ffd2d2,#ffd4d4,#ffd7d7,#ffdada,#ffdddd,#ffdfdf,#ffe2e2,#fff8f8,#ebebff,#c2c2ff,#c0c0ff,#bfbfff,#bebeff,#bcbcff,#bbbbff)"></i><i style="height:2px;background:linear-gradient(90deg,#ffcece,#ffd1d1,#ffd3d3,#ffd6d6,#ffd8d8,#ffdbdb,#ffdddd,#ffe0e0,#ffe3e3,#fffbfb,#eaeaff,#c0c0ff,#bebeff,#bdbdff,#bcbcff,#bbbbff,#b9b9ff)"></i><i style="height:2px;background:linear-gradient(90deg,#ffd0d0,#ffd3d3,#ffd5d5,#ffd7d7,#ffdada,#ffdcdc,#ffdede,#ffe1e1,#ffe6e6,#fffdfd,#e9e9ff,#bebeff,#bcbcff,#bbbbff,#babaff,#b9b9ff,#b8b8ff)"></i><i style="height:2px;background:linear-gradient(90deg,#ffd2d2,#ffd4d4,#ffd7d7,#ffd9d9,#ffdbdb,#ffdddd,#ffdfdf,#ffe1e1,#ffebeb,#fefeff,#e8e8ff,#bcbcff,#bbbbff,#b9b9ff,#b8b8ff,#b7b7ff,#b6b6ff)"></i><i style="height:2px;background:linear-gradient(90deg,#ffd4d4,#ffd6d6,#ffd8d8,#ffdada,#ffdcdc,#ffdede,#ffe0e0,#ffe2e2,#ffefef,#fbfbff,#e7e7ff,#babaff,#b9b9ff,#b8b8ff,#b7b7ff,#b6b6ff,#b5b5ff)"></i><i style="height:2px;background:linear-gradient(90deg,#ffd6d6,#ffd7d7,#ffd9d9,#ffdbdb,#ffdddd,#ffdfdf,#ffe1e1,#ffe2e2,#fff3f3,#f9f9ff,#e6e6ff,#b8b8ff,#b7b7ff,#b6b6ff,#b5b5ff,#b4b4ff,#b3b3ff)"></i><i style="height:2px;background:linear-gradient(90deg,#ffd7d7,#ffd9d9,#ffdbdb,#ffdcdc,#ffdede,#ffe0e0,#ffe1e1,#ffe6e6,#fff7f7,#f7f7ff,#e6e6ff,#b6b6ff,#b6b6ff,#b5b5ff,#b4b4ff,#b3b3ff,#b2b2ff)"></i><i style="height:2px;background:linear-gradient(90deg,#ffdada,#ffdbdb,#ffdddd,#ffdede,#ffe0e0,#ffe1e1,#ffe2e2,#ffefef,#fffdfd,#f3f3ff,#e4e4ff,#b5b5ff,#b4b4ff,#b3b3ff,#b2b2ff,#b2b2ff,#b1b1ff)"></i><i style="height:2px;background:linear-gradient(90deg,#ffdddd,#ffdede,#ffdfdf,#ffe0e0,#ffe1e1,#ffe2e2,#ffecec,#fff8f8,#fafaff,#efefff,#e3e3ff,#b3b3ff,#b2b2ff,#b2b2ff,#b1b1ff,#b0b0ff,#b0b0ff)"></i><i style="height:2px;background:linear-gradient(90deg,#ffdfdf,#ffe0e0,#ffe1e1,#ffe2e2,#ffe6e6,#ffefef,#fff8f8,#fdfdff,#f4f4ff,#ebebff,#d9d9ff,#b1b1ff,#b1b1ff,#b0b0ff,#b0b0ff,#afafff,#aeaeff)"></i><i style="height:2px;background:linear-gradient(90deg,#ffdede,#ffdfdf,#ffe0e0,#ffe1e1,#ffe2e2,#ffe7e7,#fff1f1,#fffcfc,#f7f7ff,#ededff,#dfdfff,#b1b1ff,#b0b0ff,#b0b0ff,#afafff,#aeaeff,#aeaeff)"></i><i style="height:2px;background:linear-gradient(90deg,#ffdddd,#ffdfdf,#ffe0e0,#ffe1e1,#ffe2e2,#ffe5e5,#fff0f0,#fffbfb,#f8f8ff,#ededff,#e0e0ff,#b0b0ff,#afafff,#afafff,#aeaeff,#aeaeff,#adadff)"></i><i style="height:2px;background:linear-gradient(90deg,#ffdede,#ffdfdf,#ffe0e0,#ffe1e1,#ffe2e2,#ffe8e8,#fff2f2,#fffdfd,#f7f7ff,#ededff,#ddddff,#afafff,#afafff,#aeaeff,#aeaeff,#adadff,#adadff)"></i><i style="height:2px;background:linear-gradient(90deg,#ffdfdf,#ffe0e0,#ffe1e1,#ffe2e2,#ffe3e3,#ffebeb,#fff5f5,#ffffff,#f5f5ff,#ececff,#dadaff,#afafff,#aeaeff,#aeaeff,#adadff,#adadff,#acacff)"></i><i style="height:2px;background:linear-gradient(90deg,#ffdfdf,#ffe0e0,#ffe1e1,#ffe2e2,#ffe4e4,#ffeeee,#fff7f7,#fefeff,#f4f4ff,#ebebff,#d7d7ff,#aeaeff,#aeaeff,#adadff,#adadff,#acacff,#acacff)"></i><i style="height:2px;background:linear-gradient(90deg,#ffe0e0,#ffe0e0,#ffe1e1,#ffe2e2,#ffe7e7,#fff0f0,#fff9f9,#fcfcff,#f3f3ff,#eaeaff,#d5d5ff,#aeaeff,#adadff,#adadff,#acacff,#acacff,#ababff)"></i><i style="height:2px;background:linear-gradient(90deg,#ffe0e0,#ffe1e1,#ffe2e2,#ffe2e2,#ffe9e9,#fff2f2,#fffbfb,#fbfbff,#f2f2ff,#eaeaff,#d3d3ff,#adadff,#adadff,#acacff,#acacff,#ababff,#ababff)"></i><i style="height:2px;background:linear-gradient(90deg,#ffe0e0,#ffe1e1,#ffe2e2,#ffe3e3,#ffebeb,#fff3f3,#fffcfc,#fafaff,#f2f2ff,#e9e9ff,#d2d2ff,#adadff,#acacff,#acacff,#acacff,#ababff,#ababff)"></i><i style="height:2px;background:linear-gradient(90deg,#ffe0e0,#ffe1e1,#ffe2e2,#ffe3e3,#ffecec,#fff4f4,#fffcfc,#fafaff,#f1f1ff,#e9e9ff,#d1d1ff,#adadff,#acacff,#acacff,#ababff,#ababff,#ababff)"></i><i style="height:2px;background:linear-gradient(90deg,#ffe0e0,#ffe1e1,#ffe2e2,#ffe3e3,#ffebeb,#fff4f4,#fffcfc,#fafaff,#f2f2ff,#e9e9ff,#d1d1ff,#adadff,#acacff,#acacff,#acacff,#ababff,#ababff)"></i><i style="height:2px;background:linear-gradient(90deg,#ffe0e0,#ffe1e1,#ffe2e2,#ffe2e2,#ffe9e9,#fff2f2,#fffafa,#fbfbff,#f2f2ff,#eaeaff,#d3d3ff,#adadff,#adadff,#acacff,#acacff,#ababff,#ababff)"></i><i style="height:2px;background:linear-gradient(90deg,#ffdfdf,#ffe0e0,#ffe1e1,#ffe2e2,#ffe6e6,#ffefef,#fff8f8,#fdfdff,#f4f4ff,#eaeaff,#d6d6ff,#aeaeff,#adadff,#adadff,#acacff,#acacff,#ababff)"></i><i style="height:2px;background:linear-gradient(90deg,#ffdede,#ffdfdf,#ffe0e0,#ffe1e1,#ffe2e2,#ffe9e9,#fff3f3,#fffdfd,#f6f6ff,#ececff,#dbdbff,#afafff,#aeaeff,#aeaeff,#adadff,#adadff,#acacff)"></i><i style="height:1px;background:linear-gradient(90deg,#ffdddd,#ffdede,#ffdfdf,#ffe0e0,#ffe1e1,#ffe3e3,#ffeded,#fff9f9,#fafaff,#eeeeff,#e3e3ff,#b0b0ff,#b0b0ff,#afafff,#aeaeff,#aeaeff,#adadff)"></i><i style="height:1px;background:linear-gradient(90deg,#ffdbdb,#ffdddd,#ffdede,#ffdfdf,#ffe1e1,#ffe2e2,#ffe7e7,#fff4f4,#fdfdff,#f0f0ff,#e3e3ff,#b2b2ff,#b1b1ff,#b0b0ff,#b0b0ff,#afafff,#aeaeff)"></i><i style="height:1px;background:linear-gradient(90deg,#ffdada,#ffdbdb,#ffdddd,#ffdede,#ffe0e0,#ffe1e1,#ffe3e3,#ffefef,#fffefe,#f2f2ff,#e4e4ff,#b3b3ff,#b2b2ff,#b2b2ff,#b1b1ff,#b0b0ff,#afafff)"></i><i style="height:1px;background:linear-gradient(90deg,#ffd6d6,#ffd8d8,#ffdada,#ffdcdc,#ffdddd,#ffdfdf,#ffe1e1,#ffe3e3,#fff4f4,#f8f8ff,#e6e6ff,#b7b7ff,#b6b6ff,#b5b5ff,#b4b4ff,#b3b3ff,#b2b2ff)"></i><i style="height:1px;background:linear-gradient(90deg,#ffd2d2,#ffd4d4,#ffd6d6,#ffd8d8,#ffdbdb,#ffdddd,#ffdfdf,#ffe1e1,#ffe9e9,#fefeff,#e8e8ff,#bcbcff,#babaff,#b9b9ff,#b8b8ff,#b7b7ff,#b6b6ff)"></i><i style="height:1px;background:linear-gradient(90deg,#ffcdcd,#ffd0d0,#ffd2d2,#ffd5d5,#ffd8d8,#ffdada,#ffdddd,#ffe0e0,#ffe2e2,#fff9f9,#ebebff,#c0c0ff,#bfbfff,#bdbdff,#bcbcff,#bbbbff,#b9b9ff)"></i><i style="height:1px;background:linear-gradient(90deg,#ff9595,#ff9898,#ff9b9b,#ff9d9d,#ffa0a0,#ffa2a2,#ffa5a5,#ffa7a7,#ffaaaa,#ffc2c2,#ffdbdb,#f8f8ff,#f7f7ff,#f5f5ff,#f4f4ff,#f3f3ff,#f1f1ff)"></i><i style="height:0.7px;background:linear-gradient(90deg,#ff7c7c,#ff8181,#ff8686,#ff8b8b,#ff9090,#ff9595,#ff9a9a,#ff9f9f,#ffa4a4,#ffa9a9,#ffcece,#ffebeb,#ffeeee,#fff1f1,#fff3f3,#fff6f6,#fff9f9)"></i></div><div class="h" style="left:853.1px;top:45.8px;width:264.2px;height:268.5px"><i style="height:3px;background:linear-gradient(90deg,#ffd0d0,#ffd9d9,#ffdddd,#ffe0e0,#ffe1e1,#ffe2e2,#ffe8e8,#ffeeee,#fff3f3,#fff7f7,#fffbfb,#fffefe,#fefeff,#fcfcff,#fafaff,#f8f8ff,#f7f7ff,#f5f5ff,#f4f4ff,#f3f3ff,#f2f2ff,#f1f1ff,#f0f0ff,#f0f0ff,#efefff,#eeeeff,#eeeeff,#ededff,#ededff,#ececff,#ececff,#ebebff,#ebebff,#eaeaff)"></i><i style="height:3px;background:linear-gradient(90deg,#ffd0d0,#ffdada,#ffdede,#ffe0e0,#ffe1e1,#ffe2e2,#ffe9e9,#ffefef,#fff4f4,#fff8f8,#fffbfb,#fffefe,#fdfdff,#fbfbff,#f9f9ff,#f8f8ff,#f6f6ff,#f5f5ff,#f4f4ff,#f3f3ff,#f2f2ff,#f1f1ff,#f0f0ff,#efefff,#eeeeff,#eeeeff,#ededff,#ededff,#ececff,#ececff,#ebebff,#ebebff,#ebebff,#eaeaff)"></i><i style="height:3px;background:linear-gradient(90deg,#ffd1d1,#ffdada,#ffdede,#ffe0e0,#ffe2e2,#ffe3e3,#ffeaea,#fff0f0,#fff5f5,#fff9f9,#fffcfc,#ffffff,#fcfcff,#fafaff,#f9f9ff,#f7f7ff,#f6f6ff,#f4f4ff,#f3f3ff,#f2f2ff,#f1f1ff,#f0f0ff,#f0f0ff,#efefff,#eeeeff,#eeeeff,#ededff,#ececff,#ececff,#ebebff,#ebebff,#ebebff,#eaeaff,#eaeaff)"></i><i style="height:3px;background:linear-gradient(90deg,#ffd1d1,#ffdada,#ffdede,#ffe0e0,#ffe2e2,#ffe4e4,#ffebeb,#fff1f1,#fff6f6,#fffafa,#fffdfd,#fefeff,#fcfcff,#fafaff,#f8f8ff,#f6f6ff,#f5f5ff,#f4f4ff,#f3f3ff,#f2f2ff,#f1f1ff,#f0f0ff,#efefff,#eeeeff,#eeeeff,#ededff,#ededff,#ececff,#ececff,#ebebff,#ebebff,#eaeaff,#eaeaff,#eaeaff)"></i><i style="height:3px;background:linear-gradient(90deg,#ffd2d2,#ffdbdb,#ffdede,#ffe0e0,#ffe2e2,#ffe5e5,#ffecec,#fff2f2,#fff7f7,#fffbfb,#fffefe,#fefeff,#fbfbff,#f9f9ff,#f7f7ff,#f6f6ff,#f5f5ff,#f3f3ff,#f2f2ff,#f1f1ff,#f0f0ff,#f0f0ff,#efefff,#eeeeff,#ededff,#ededff,#ececff,#ececff,#ebebff,#ebebff,#eaeaff,#eaeaff,#eaeaff,#e9e9ff)"></i><i style="height:3px;background:linear-gradient(90deg,#ffd2d2,#ffdbdb,#ffdfdf,#ffe1e1,#ffe2e2,#ffe6e6,#ffeded,#fff3f3,#fff8f8,#fffbfb,#fffefe,#fdfdff,#fbfbff,#f9f9ff,#f7f7ff,#f5f5ff,#f4f4ff,#f3f3ff,#f2f2ff,#f1f1ff,#f0f0ff,#efefff,#eeeeff,#eeeeff,#ededff,#ededff,#ececff,#ececff,#ebebff,#ebebff,#eaeaff,#eaeaff,#eaeaff,#e9e9ff)"></i><i style="height:3px;background:linear-gradient(90deg,#ffd3d3,#ffdbdb,#ffdfdf,#ffe1e1,#ffe2e2,#ffe7e7,#ffeeee,#fff4f4,#fff8f8,#fffcfc,#ffffff,#fcfcff,#fafaff,#f8f8ff,#f6f6ff,#f5f5ff,#f4f4ff,#f2f2ff,#f1f1ff,#f0f0ff,#f0f0ff,#efefff,#eeeeff,#ededff,#ededff,#ececff,#ececff,#ebebff,#ebebff,#eaeaff,#eaeaff,#eaeaff,#e9e9ff,#e9e9ff)"></i><i style="height:3px;background:linear-gradient(90deg,#ffd3d3,#ffdcdc,#ffdfdf,#ffe1e1,#ffe2e2,#ffe9e9,#ffefef,#fff5f5,#fff9f9,#fffdfd,#fefeff,#fcfcff,#f9f9ff,#f7f7ff,#f6f6ff,#f4f4ff,#f3f3ff,#f2f2ff,#f1f1ff,#f0f0ff,#efefff,#eeeeff,#eeeeff,#ededff,#ececff,#ececff,#ebebff,#ebebff,#eaeaff,#eaeaff,#eaeaff,#e9e9ff,#e9e9ff,#e9e9ff)"></i><i style="height:3px;background:linear-gradient(90deg,#ffd4d4,#ffdcdc,#ffdfdf,#ffe1e1,#ffe2e2,#ffeaea,#fff0f0,#fff6f6,#fffafa,#fffefe,#fdfdff,#fbfbff,#f9f9ff,#f7f7ff,#f5f5ff,#f4f4ff,#f3f3ff,#f2f2ff,#f0f0ff,#f0f0ff,#efefff,#eeeeff,#ededff,#ededff,#ececff,#ececff,#ebebff,#ebebff,#eaeaff,#eaeaff,#e9e9ff,#e9e9ff,#e9e9ff,#e8e8ff)"></i><i style="height:3px;background:linear-gradient(90deg,#ffd4d4,#ffdcdc,#ffdfdf,#ffe1e1,#ffe3e3,#ffebeb,#fff1f1,#fff7f7,#fffbfb,#ffffff,#fdfdff,#fafaff,#f8f8ff,#f6f6ff,#f5f5ff,#f3f3ff,#f2f2ff,#f1f1ff,#f0f0ff,#efefff,#eeeeff,#eeeeff,#ededff,#ececff,#ececff,#ebebff,#ebebff,#eaeaff,#eaeaff,#eaeaff,#e9e9ff,#e9e9ff,#e8e8ff,#e8e8ff)"></i><i style="height:3px;background:linear-gradient(90deg,#ffd5d5,#ffdcdc,#ffe0e0,#ffe1e1,#ffe3e3,#ffecec,#fff3f3,#fff8f8,#fffcfc,#ffffff,#fcfcff,#fafaff,#f7f7ff,#f6f6ff,#f4f4ff,#f3f3ff,#f2f2ff,#f1f1ff,#f0f0ff,#efefff,#eeeeff,#ededff,#ededff,#ececff,#ebebff,#ebebff,#eaeaff,#eaeaff,#eaeaff,#e9e9ff,#e9e9ff,#e9e9ff,#e8e8ff,#e8e8ff)"></i><i style="height:3px;background:linear-gradient(90deg,#ffd5d5,#ffdddd,#ffe0e0,#ffe2e2,#ffe4e4,#ffeded,#fff4f4,#fff9f9,#fffdfd,#fefeff,#fbfbff,#f9f9ff,#f7f7ff,#f5f5ff,#f4f4ff,#f2f2ff,#f1f1ff,#f0f0ff,#efefff,#eeeeff,#eeeeff,#ededff,#ececff,#ececff,#ebebff,#ebebff,#eaeaff,#eaeaff,#e9e9ff,#e9e9ff,#e9e9ff,#e8e8ff,#e8e8ff,#e8e8ff)"></i><i style="height:3px;background:linear-gradient(90deg,#ffd6d6,#ffdddd,#ffe0e0,#ffe2e2,#ffe6e6,#ffefef,#fff5f5,#fffafa,#fffefe,#fdfdff,#fbfbff,#f8f8ff,#f6f6ff,#f5f5ff,#f3f3ff,#f2f2ff,#f1f1ff,#f0f0ff,#efefff,#eeeeff,#ededff,#ededff,#ececff,#ebebff,#ebebff,#eaeaff,#eaeaff,#e9e9ff,#e9e9ff,#e9e9ff,#e8e8ff,#e8e8ff,#e8e8ff,#e7e7ff)"></i><i style="height:3px;background:linear-gradient(90deg,#ffd6d6,#ffdddd,#ffe0e0,#ffe2e2,#ffe7e7,#fff0f0,#fff6f6,#fffafa,#fffefe,#fcfcff,#fafaff,#f8f8ff,#f6f6ff,#f4f4ff,#f3f3ff,#f1f1ff,#f0f0ff,#efefff,#eeeeff,#eeeeff,#ededff,#ececff,#ececff,#ebebff,#ebebff,#eaeaff,#eaeaff,#e9e9ff,#e9e9ff,#e8e8ff,#e8e8ff,#e8e8ff,#e8e8ff,#e7e7ff)"></i><i style="height:3px;background:linear-gradient(90deg,#ffd6d6,#ffdede,#ffe0e0,#ffe2e2,#ffe8e8,#fff1f1,#fff7f7,#fffbfb,#ffffff,#fcfcff,#f9f9ff,#f7f7ff,#f5f5ff,#f4f4ff,#f2f2ff,#f1f1ff,#f0f0ff,#efefff,#eeeeff,#ededff,#ececff,#ececff,#ebebff,#ebebff,#eaeaff,#eaeaff,#e9e9ff,#e9e9ff,#e9e9ff,#e8e8ff,#e8e8ff,#e8e8ff,#e7e7ff,#e7e7ff)"></i><i style="height:3px;background:linear-gradient(90deg,#ffd7d7,#ffdede,#ffe1e1,#ffe2e2,#ffeaea,#fff2f2,#fff8f8,#fffcfc,#fefeff,#fbfbff,#f9f9ff,#f6f6ff,#f5f5ff,#f3f3ff,#f2f2ff,#f0f0ff,#efefff,#eeeeff,#eeeeff,#ededff,#ececff,#ebebff,#ebebff,#eaeaff,#eaeaff,#e9e9ff,#e9e9ff,#e9e9ff,#e8e8ff,#e8e8ff,#e8e8ff,#e7e7ff,#e7e7ff,#e7e7ff)"></i><i style="height:3px;background:linear-gradient(90deg,#ffd7d7,#ffdede,#ffe1e1,#ffe2e2,#ffebeb,#fff3f3,#fff9f9,#fffdfd,#fdfdff,#fafaff,#f8f8ff,#f6f6ff,#f4f4ff,#f3f3ff,#f1f1ff,#f0f0ff,#efefff,#eeeeff,#ededff,#ececff,#ececff,#ebebff,#ebebff,#eaeaff,#eaeaff,#e9e9ff,#e9e9ff,#e8e8ff,#e8e8ff,#e8e8ff,#e7e7ff,#e7e7ff,#e7e7ff,#e7e7ff)"></i><i style="height:3px;background:linear-gradient(90deg,#ffd8d8,#ffdede,#ffe1e1,#ffe3e3,#ffecec,#fff4f4,#fffafa,#fffefe,#fcfcff,#fafaff,#f7f7ff,#f5f5ff,#f3f3ff,#f2f2ff,#f1f1ff,#f0f0ff,#efefff,#eeeeff,#ededff,#ececff,#ebebff,#ebebff,#eaeaff,#eaeaff,#e9e9ff,#e9e9ff,#e8e8ff,#e8e8ff,#e8e8ff,#e7e7ff,#e7e7ff,#e7e7ff,#e7e7ff,#e6e6ff)"></i><i style="height:3px;background:linear-gradient(90deg,#ffd8d8,#ffdfdf,#ffe1e1,#ffe3e3,#ffeeee,#fff5f5,#fffbfb,#ffffff,#fcfcff,#f9f9ff,#f7f7ff,#f5f5ff,#f3f3ff,#f1f1ff,#f0f0ff,#efefff,#eeeeff,#ededff,#ececff,#ececff,#ebebff,#eaeaff,#eaeaff,#e9e9ff,#e9e9ff,#e9e9ff,#e8e8ff,#e8e8ff,#e7e7ff,#e7e7ff,#e7e7ff,#e7e7ff,#e6e6ff,#e6e6ff)"></i><i style="height:3px;background:linear-gradient(90deg,#ffd9d9,#ffdfdf,#ffe1e1,#ffe5e5,#ffefef,#fff6f6,#fffcfc,#fefeff,#fbfbff,#f8f8ff,#f6f6ff,#f4f4ff,#f2f2ff,#f1f1ff,#f0f0ff,#efefff,#eeeeff,#ededff,#ececff,#ebebff,#ebebff,#eaeaff,#eaeaff,#e9e9ff,#e9e9ff,#e8e8ff,#e8e8ff,#e8e8ff,#e7e7ff,#e7e7ff,#e7e7ff,#e6e6ff,#e6e6ff,#e6e6ff)"></i><i style="height:3px;background:linear-gradient(90deg,#ffd9d9,#ffdfdf,#ffe2e2,#ffe6e6,#fff0f0,#fff8f8,#fffdfd,#fdfdff,#fafaff,#f7f7ff,#f5f5ff,#f3f3ff,#f2f2ff,#f0f0ff,#efefff,#eeeeff,#ededff,#ececff,#ececff,#ebebff,#eaeaff,#eaeaff,#e9e9ff,#e9e9ff,#e8e8ff,#e8e8ff,#e8e8ff,#e7e7ff,#e7e7ff,#e7e7ff,#e6e6ff,#e6e6ff,#e6e6ff,#e6e6ff)"></i><i style="height:3px;background:linear-gradient(90deg,#ffd9d9,#ffdfdf,#ffe2e2,#ffe8e8,#fff1f1,#fff9f9,#fffdfd,#fdfdff,#f9f9ff,#f7f7ff,#f5f5ff,#f3f3ff,#f1f1ff,#f0f0ff,#efefff,#eeeeff,#ededff,#ececff,#ebebff,#ebebff,#eaeaff,#e9e9ff,#e9e9ff,#e9e9ff,#e8e8ff,#e8e8ff,#e7e7ff,#e7e7ff,#e7e7ff,#e6e6ff,#e6e6ff,#e6e6ff,#e6e6ff,#e5e5ff)"></i><i style="height:3px;background:linear-gradient(90deg,#ffdada,#ffe0e0,#ffe2e2,#ffe9e9,#fff3f3,#fffafa,#fffefe,#fcfcff,#f9f9ff,#f6f6ff,#f4f4ff,#f2f2ff,#f1f1ff,#efefff,#eeeeff,#ededff,#ececff,#ececff,#ebebff,#eaeaff,#eaeaff,#e9e9ff,#e9e9ff,#e8e8ff,#e8e8ff,#e7e7ff,#e7e7ff,#e7e7ff,#e6e6ff,#e6e6ff,#e6e6ff,#e6e6ff,#e5e5ff,#e5e5ff)"></i><i style="height:3px;background:linear-gradient(90deg,#ffdada,#ffe0e0,#ffe2e2,#ffebeb,#fff4f4,#fffbfb,#ffffff,#fbfbff,#f8f8ff,#f5f5ff,#f3f3ff,#f2f2ff,#f0f0ff,#efefff,#eeeeff,#ededff,#ececff,#ebebff,#ebebff,#eaeaff,#e9e9ff,#e9e9ff,#e8e8ff,#e8e8ff,#e8e8ff,#e7e7ff,#e7e7ff,#e7e7ff,#e6e6ff,#e6e6ff,#e6e6ff,#e5e5ff,#e5e5ff,#e5e5ff)"></i><i style="height:3px;background:linear-gradient(90deg,#ffdbdb,#ffe0e0,#ffe2e2,#ffecec,#fff5f5,#fffcfc,#fefeff,#fafaff,#f7f7ff,#f5f5ff,#f3f3ff,#f1f1ff,#f0f0ff,#eeeeff,#ededff,#ececff,#ececff,#ebebff,#eaeaff,#eaeaff,#e9e9ff,#e9e9ff,#e8e8ff,#e8e8ff,#e7e7ff,#e7e7ff,#e7e7ff,#e6e6ff,#e6e6ff,#e6e6ff,#e5e5ff,#e5e5ff,#e5e5ff,#e5e5ff)"></i><i style="height:3px;background:linear-gradient(90deg,#ffdbdb,#ffe0e0,#ffe3e3,#ffeeee,#fff6f6,#fffdfd,#fdfdff,#f9f9ff,#f6f6ff,#f4f4ff,#f2f2ff,#f1f1ff,#efefff,#eeeeff,#ededff,#ececff,#ebebff,#eaeaff,#eaeaff,#e9e9ff,#e9e9ff,#e8e8ff,#e8e8ff,#e7e7ff,#e7e7ff,#e7e7ff,#e6e6ff,#e6e6ff,#e6e6ff,#e5e5ff,#e5e5ff,#e5e5ff,#e5e5ff,#e5e5ff)"></i><i style="height:3px;background:linear-gradient(90deg,#ffdbdb,#ffe1e1,#ffe3e3,#ffefef,#fff8f8,#fffefe,#fcfcff,#f9f9ff,#f6f6ff,#f3f3ff,#f2f2ff,#f0f0ff,#efefff,#ededff,#ececff,#ececff,#ebebff,#eaeaff,#e9e9ff,#e9e9ff,#e8e8ff,#e8e8ff,#e7e7ff,#e7e7ff,#e7e7ff,#e6e6ff,#e6e6ff,#e6e6ff,#e6e6ff,#e5e5ff,#e5e5ff,#e5e5ff,#e5e5ff,#e4e4ff)"></i><i style="height:3px;background:linear-gradient(90deg,#ffdcdc,#ffe1e1,#ffe5e5,#fff0f0,#fff9f9,#ffffff,#fbfbff,#f8f8ff,#f5f5ff,#f3f3ff,#f1f1ff,#efefff,#eeeeff,#ededff,#ececff,#ebebff,#eaeaff,#eaeaff,#e9e9ff,#e9e9ff,#e8e8ff,#e8e8ff,#e7e7ff,#e7e7ff,#e6e6ff,#e6e6ff,#e6e6ff,#e6e6ff,#e5e5ff,#e5e5ff,#e5e5ff,#e5e5ff,#e4e4ff,#e4e4ff)"></i><i style="height:3px;background:linear-gradient(90deg,#ffdcdc,#ffe1e1,#ffe7e7,#fff2f2,#fffafa,#fefeff,#fafaff,#f7f7ff,#f4f4ff,#f2f2ff,#f0f0ff,#efefff,#eeeeff,#ededff,#ececff,#ebebff,#eaeaff,#e9e9ff,#e9e9ff,#e8e8ff,#e8e8ff,#e7e7ff,#e7e7ff,#e6e6ff,#e6e6ff,#e6e6ff,#e6e6ff,#e5e5ff,#e5e5ff,#e5e5ff,#e5e5ff,#e4e4ff,#e4e4ff,#e4e4ff)"></i><i style="height:3px;background:linear-gradient(90deg,#ffdddd,#ffe1e1,#ffe8e8,#fff3f3,#fffbfb,#fdfdff,#f9f9ff,#f6f6ff,#f4f4ff,#f1f1ff,#f0f0ff,#eeeeff,#ededff,#ececff,#ebebff,#eaeaff,#eaeaff,#e9e9ff,#e8e8ff,#e8e8ff,#e7e7ff,#e7e7ff,#e7e7ff,#e6e6ff,#e6e6ff,#e6e6ff,#e5e5ff,#e5e5ff,#e5e5ff,#e5e5ff,#e4e4ff,#e4e4ff,#e4e4ff,#e4e4ff)"></i><i style="height:3px;background:linear-gradient(90deg,#ffdddd,#ffe2e2,#ffeaea,#fff5f5,#fffcfc,#fcfcff,#f8f8ff,#f5f5ff,#f3f3ff,#f1f1ff,#efefff,#eeeeff,#ededff,#ececff,#ebebff,#eaeaff,#e9e9ff,#e9e9ff,#e8e8ff,#e8e8ff,#e7e7ff,#e7e7ff,#e6e6ff,#e6e6ff,#e6e6ff,#e5e5ff,#e5e5ff,#e5e5ff,#e5e5ff,#e4e4ff,#e4e4ff,#e4e4ff,#e4e4ff,#e4e4ff)"></i><i style="height:3px;background:linear-gradient(90deg,#ffdddd,#ffe2e2,#ffecec,#fff6f6,#fffdfd,#fbfbff,#f8f8ff,#f5f5ff,#f2f2ff,#f0f0ff,#efefff,#ededff,#ececff,#ebebff,#eaeaff,#eaeaff,#e9e9ff,#e8e8ff,#e8e8ff,#e7e7ff,#e7e7ff,#e6e6ff,#e6e6ff,#e6e6ff,#e5e5ff,#e5e5ff,#e5e5ff,#e5e5ff,#e4e4ff,#e4e4ff,#e4e4ff,#e4e4ff,#e4e4ff,#e3e3ff)"></i><i style="height:3px;background:linear-gradient(90deg,#ffdede,#ffe2e2,#ffeeee,#fff7f7,#ffffff,#fafaff,#f7f7ff,#f4f4ff,#f2f2ff,#f0f0ff,#eeeeff,#ededff,#ececff,#ebebff,#eaeaff,#e9e9ff,#e8e8ff,#e8e8ff,#e7e7ff,#e7e7ff,#e6e6ff,#e6e6ff,#e6e6ff,#e5e5ff,#e5e5ff,#e5e5ff,#e5e5ff,#e4e4ff,#e4e4ff,#e4e4ff,#e4e4ff,#e4e4ff,#e3e3ff,#e3e3ff)"></i><i style="height:3px;background:linear-gradient(90deg,#ffdede,#ffe2e2,#ffefef,#fff9f9,#fefeff,#f9f9ff,#f6f6ff,#f3f3ff,#f1f1ff,#efefff,#eeeeff,#ececff,#ebebff,#eaeaff,#e9e9ff,#e9e9ff,#e8e8ff,#e8e8ff,#e7e7ff,#e7e7ff,#e6e6ff,#e6e6ff,#e5e5ff,#e5e5ff,#e5e5ff,#e5e5ff,#e4e4ff,#e4e4ff,#e4e4ff,#e4e4ff,#e4e4ff,#e3e3ff,#e3e3ff,#e3e3ff)"></i><i style="height:3px;background:linear-gradient(90deg,#ffdede,#ffe2e2,#fff1f1,#fffafa,#fdfdff,#f8f8ff,#f5f5ff,#f2f2ff,#f0f0ff,#eeeeff,#ededff,#ececff,#ebebff,#eaeaff,#e9e9ff,#e8e8ff,#e8e8ff,#e7e7ff,#e7e7ff,#e6e6ff,#e6e6ff,#e6e6ff,#e5e5ff,#e5e5ff,#e5e5ff,#e4e4ff,#e4e4ff,#e4e4ff,#e4e4ff,#e4e4ff,#e3e3ff,#e3e3ff,#e3e3ff,#e3e3ff)"></i><i style="height:3px;background:linear-gradient(90deg,#ffdfdf,#ffe3e3,#fff3f3,#fffcfc,#fcfcff,#f7f7ff,#f4f4ff,#f2f2ff,#f0f0ff,#eeeeff,#ececff,#ebebff,#eaeaff,#e9e9ff,#e9e9ff,#e8e8ff,#e7e7ff,#e7e7ff,#e6e6ff,#e6e6ff,#e6e6ff,#e5e5ff,#e5e5ff,#e5e5ff,#e4e4ff,#e4e4ff,#e4e4ff,#e4e4ff,#e4e4ff,#e3e3ff,#e3e3ff,#e3e3ff,#e3e3ff,#e3e3ff)"></i><i style="height:3px;background:linear-gradient(90deg,#ffdfdf,#ffe5e5,#fff4f4,#fffdfd,#fbfbff,#f6f6ff,#f3f3ff,#f1f1ff,#efefff,#ededff,#ececff,#ebebff,#eaeaff,#e9e9ff,#e8e8ff,#e8e8ff,#e7e7ff,#e7e7ff,#e6e6ff,#e6e6ff,#e5e5ff,#e5e5ff,#e5e5ff,#e4e4ff,#e4e4ff,#e4e4ff,#e4e4ff,#e3e3ff,#e3e3ff,#e3e3ff,#e3e3ff,#e3e3ff,#e3e3ff,#e2e2ff)"></i><i style="height:3px;background:linear-gradient(90deg,#ffdfdf,#ffe7e7,#fff6f6,#fffefe,#fafaff,#f6f6ff,#f3f3ff,#f0f0ff,#eeeeff,#ededff,#ebebff,#eaeaff,#e9e9ff,#e9e9ff,#e8e8ff,#e7e7ff,#e7e7ff,#e6e6ff,#e6e6ff,#e5e5ff,#e5e5ff,#e5e5ff,#e4e4ff,#e4e4ff,#e4e4ff,#e4e4ff,#e3e3ff,#e3e3ff,#e3e3ff,#e3e3ff,#e3e3ff,#e2e2ff,#e1e1ff,#e0e0ff)"></i><i style="height:3px;background:linear-gradient(90deg,#ffe0e0,#ffe9e9,#fff7f7,#ffffff,#f9f9ff,#f5f5ff,#f2f2ff,#efefff,#eeeeff,#ececff,#ebebff,#eaeaff,#e9e9ff,#e8e8ff,#e7e7ff,#e7e7ff,#e6e6ff,#e6e6ff,#e5e5ff,#e5e5ff,#e5e5ff,#e4e4ff,#e4e4ff,#e4e4ff,#e4e4ff,#e3e3ff,#e3e3ff,#e3e3ff,#e3e3ff,#e3e3ff,#e2e2ff,#e0e0ff,#dfdfff,#dedeff)"></i><i style="height:3px;background:linear-gradient(90deg,#ffe0e0,#ffebeb,#fff9f9,#fdfdff,#f8f8ff,#f4f4ff,#f1f1ff,#efefff,#ededff,#ebebff,#eaeaff,#e9e9ff,#e8e8ff,#e8e8ff,#e7e7ff,#e6e6ff,#e6e6ff,#e6e6ff,#e5e5ff,#e5e5ff,#e4e4ff,#e4e4ff,#e4e4ff,#e4e4ff,#e3e3ff,#e3e3ff,#e3e3ff,#e3e3ff,#e3e3ff,#e1e1ff,#e0e0ff,#dfdfff,#ddddff,#dcdcff)"></i><i style="height:3px;background:linear-gradient(90deg,#ffe0e0,#ffeded,#fffbfb,#fcfcff,#f7f7ff,#f3f3ff,#f0f0ff,#eeeeff,#ececff,#ebebff,#eaeaff,#e9e9ff,#e8e8ff,#e7e7ff,#e7e7ff,#e6e6ff,#e6e6ff,#e5e5ff,#e5e5ff,#e4e4ff,#e4e4ff,#e4e4ff,#e4e4ff,#e3e3ff,#e3e3ff,#e3e3ff,#e3e3ff,#e2e2ff,#e1e1ff,#dfdfff,#dedeff,#ddddff,#dcdcff,#dbdbff)"></i><i style="height:3px;background:linear-gradient(90deg,#ffe1e1,#ffefef,#fffcfc,#fbfbff,#f6f6ff,#f2f2ff,#efefff,#ededff,#ececff,#eaeaff,#e9e9ff,#e8e8ff,#e8e8ff,#e7e7ff,#e6e6ff,#e6e6ff,#e5e5ff,#e5e5ff,#e5e5ff,#e4e4ff,#e4e4ff,#e4e4ff,#e3e3ff,#e3e3ff,#e3e3ff,#e3e3ff,#e2e2ff,#e0e0ff,#dfdfff,#dedeff,#dcdcff,#dbdbff,#dadaff,#d9d9ff)"></i><i style="height:3px;background:linear-gradient(90deg,#ffe1e1,#fff1f1,#fffefe,#fafaff,#f5f5ff,#f1f1ff,#efefff,#ededff,#ebebff,#eaeaff,#e9e9ff,#e8e8ff,#e7e7ff,#e6e6ff,#e6e6ff,#e5e5ff,#e5e5ff,#e5e5ff,#e4e4ff,#e4e4ff,#e4e4ff,#e3e3ff,#e3e3ff,#e3e3ff,#e3e3ff,#e1e1ff,#e0e0ff,#dedeff,#ddddff,#dcdcff,#dadaff,#d9d9ff,#d8d8ff,#d7d7ff)"></i><i style="height:3px;background:linear-gradient(90deg,#ffe1e1,#fff3f3,#ffffff,#f8f8ff,#f4f4ff,#f0f0ff,#eeeeff,#ececff,#eaeaff,#e9e9ff,#e8e8ff,#e7e7ff,#e7e7ff,#e6e6ff,#e6e6ff,#e5e5ff,#e5e5ff,#e4e4ff,#e4e4ff,#e4e4ff,#e3e3ff,#e3e3ff,#e3e3ff,#e3e3ff,#e1e1ff,#dfdfff,#dedeff,#dcdcff,#dbdbff,#dadaff,#d9d9ff,#d8d8ff,#d7d7ff,#d6d6ff)"></i><i style="height:3px;background:linear-gradient(90deg,#ffe2e2,#fff5f5,#fdfdff,#f7f7ff,#f3f3ff,#efefff,#ededff,#ebebff,#eaeaff,#e9e9ff,#e8e8ff,#e7e7ff,#e6e6ff,#e6e6ff,#e5e5ff,#e5e5ff,#e4e4ff,#e4e4ff,#e4e4ff,#e3e3ff,#e3e3ff,#e3e3ff,#e2e2ff,#e0e0ff,#dfdfff,#ddddff,#dcdcff,#dadaff,#d9d9ff,#d8d8ff,#d7d7ff,#d6d6ff,#d5d5ff,#d4d4ff)"></i><i style="height:3px;background:linear-gradient(90deg,#ffe2e2,#fff7f7,#fcfcff,#f6f6ff,#f2f2ff,#efefff,#ececff,#ebebff,#e9e9ff,#e8e8ff,#e7e7ff,#e7e7ff,#e6e6ff,#e5e5ff,#e5e5ff,#e4e4ff,#e4e4ff,#e4e4ff,#e3e3ff,#e3e3ff,#e3e3ff,#e2e2ff,#e0e0ff,#dedeff,#ddddff,#dbdbff,#dadaff,#d8d8ff,#d7d7ff,#d6d6ff,#d5d5ff,#d4d4ff,#d3d3ff,#d3d3ff)"></i><i style="height:3px;background:linear-gradient(90deg,#ffe2e2,#fff9f9,#fbfbff,#f5f5ff,#f1f1ff,#eeeeff,#ececff,#eaeaff,#e9e9ff,#e8e8ff,#e7e7ff,#e6e6ff,#e5e5ff,#e5e5ff,#e4e4ff,#e4e4ff,#e4e4ff,#e3e3ff,#e3e3ff,#e3e3ff,#e2e2ff,#e0e0ff,#dedeff,#dcdcff,#dadaff,#d9d9ff,#d8d8ff,#d7d7ff,#d5d5ff,#d4d4ff,#d4d4ff,#d3d3ff,#d2d2ff,#d1d1ff)"></i><i style="height:3px;background:linear-gradient(90deg,#ffe3e3,#fffbfb,#f9f9ff,#f4f4ff,#f0f0ff,#ededff,#ebebff,#e9e9ff,#e8e8ff,#e7e7ff,#e6e6ff,#e6e6ff,#e5e5ff,#e5e5ff,#e4e4ff,#e4e4ff,#e3e3ff,#e3e3ff,#e3e3ff,#e1e1ff,#dfdfff,#ddddff,#dbdbff,#dadaff,#d8d8ff,#d7d7ff,#d6d6ff,#d5d5ff,#d4d4ff,#d3d3ff,#d2d2ff,#d1d1ff,#d0d0ff,#d0d0ff)"></i><i style="height:3px;background:linear-gradient(90deg,#ffe7e7,#fffdfd,#f8f8ff,#f3f3ff,#efefff,#ececff,#eaeaff,#e9e9ff,#e8e8ff,#e7e7ff,#e6e6ff,#e5e5ff,#e5e5ff,#e4e4ff,#e4e4ff,#e3e3ff,#e3e3ff,#e3e3ff,#e1e1ff,#dfdfff,#ddddff,#dbdbff,#d9d9ff,#d8d8ff,#d6d6ff,#d5d5ff,#d4d4ff,#d3d3ff,#d2d2ff,#d1d1ff,#d0d0ff,#d0d0ff,#cfcfff,#ceceff)"></i><i style="height:3px;background:linear-gradient(90deg,#ffe9e9,#ffffff,#f6f6ff,#f1f1ff,#eeeeff,#ebebff,#eaeaff,#e8e8ff,#e7e7ff,#e6e6ff,#e5e5ff,#e5e5ff,#e4e4ff,#e4e4ff,#e3e3ff,#e3e3ff,#e3e3ff,#e1e1ff,#dedeff,#dcdcff,#dadaff,#d9d9ff,#d7d7ff,#d6d6ff,#d4d4ff,#d3d3ff,#d2d2ff,#d1d1ff,#d0d0ff,#cfcfff,#cfcfff,#ceceff,#cdcdff,#cdcdff)"></i><i style="height:3px;background:linear-gradient(90deg,#ffecec,#fdfdff,#f5f5ff,#f0f0ff,#ededff,#ebebff,#e9e9ff,#e8e8ff,#e7e7ff,#e6e6ff,#e5e5ff,#e4e4ff,#e4e4ff,#e3e3ff,#e3e3ff,#e3e3ff,#e0e0ff,#dedeff,#dcdcff,#dadaff,#d8d8ff,#d6d6ff,#d5d5ff,#d3d3ff,#d2d2ff,#d1d1ff,#d0d0ff,#cfcfff,#cfcfff,#ceceff,#cdcdff,#ccccff,#ccccff,#cbcbff)"></i><i style="height:3px;background:linear-gradient(90deg,#ffefef,#fcfcff,#f4f4ff,#efefff,#ececff,#eaeaff,#e8e8ff,#e7e7ff,#e6e6ff,#e5e5ff,#e5e5ff,#e4e4ff,#e3e3ff,#e3e3ff,#e3e3ff,#e0e0ff,#dedeff,#dbdbff,#d9d9ff,#d7d7ff,#d6d6ff,#d4d4ff,#d3d3ff,#d1d1ff,#d0d0ff,#cfcfff,#ceceff,#ceceff,#cdcdff,#ccccff,#ccccff,#cbcbff,#cacaff,#cacaff)"></i><i style="height:3px;background:linear-gradient(90deg,#fff2f2,#fafaff,#f2f2ff,#eeeeff,#ebebff,#e9e9ff,#e8e8ff,#e6e6ff,#e5e5ff,#e5e5ff,#e4e4ff,#e4e4ff,#e3e3ff,#e3e3ff,#e0e0ff,#ddddff,#dbdbff,#d8d8ff,#d7d7ff,#d5d5ff,#d3d3ff,#d2d2ff,#d1d1ff,#cfcfff,#ceceff,#cdcdff,#cdcdff,#ccccff,#cbcbff,#cbcbff,#cacaff,#cacaff,#c9c9ff,#c9c9ff)"></i><i style="height:3px;background:linear-gradient(90deg,#fff5f5,#f8f8ff,#f1f1ff,#ededff,#eaeaff,#e8e8ff,#e7e7ff,#e6e6ff,#e5e5ff,#e4e4ff,#e4e4ff,#e3e3ff,#e3e3ff,#e0e0ff,#ddddff,#dadaff,#d8d8ff,#d6d6ff,#d4d4ff,#d2d2ff,#d1d1ff,#d0d0ff,#ceceff,#cdcdff,#cdcdff,#ccccff,#cbcbff,#cacaff,#cacaff,#c9c9ff,#c9c9ff,#c8c8ff,#c8c8ff,#c7c7ff)"></i><i style="height:3px;background:linear-gradient(90deg,#fff8f8,#f6f6ff,#f0f0ff,#ececff,#eaeaff,#e8e8ff,#e6e6ff,#e5e5ff,#e4e4ff,#e4e4ff,#e3e3ff,#e3e3ff,#e0e0ff,#ddddff,#dadaff,#d7d7ff,#d5d5ff,#d3d3ff,#d2d2ff,#d0d0ff,#cfcfff,#ceceff,#ccccff,#ccccff,#cbcbff,#cacaff,#c9c9ff,#c9c9ff,#c8c8ff,#c8c8ff,#c7c7ff,#c7c7ff,#c6c6ff,#c6c6ff)"></i><i style="height:3px;background:linear-gradient(90deg,#fffafa,#f5f5ff,#efefff,#ebebff,#e9e9ff,#e7e7ff,#e6e6ff,#e5e5ff,#e4e4ff,#e3e3ff,#e3e3ff,#e0e0ff,#ddddff,#dadaff,#d7d7ff,#d5d5ff,#d2d2ff,#d1d1ff,#cfcfff,#ceceff,#cdcdff,#ccccff,#cbcbff,#cacaff,#c9c9ff,#c8c8ff,#c8c8ff,#c7c7ff,#c7c7ff,#c6c6ff,#c6c6ff,#c5c5ff,#c5c5ff,#c5c5ff)"></i><i style="height:3px;background:linear-gradient(90deg,#fffdfd,#f3f3ff,#ededff,#eaeaff,#e8e8ff,#e6e6ff,#e5e5ff,#e4e4ff,#e4e4ff,#e3e3ff,#e1e1ff,#ddddff,#d9d9ff,#d6d6ff,#d4d4ff,#d2d2ff,#d0d0ff,#ceceff,#cdcdff,#ccccff,#cacaff,#c9c9ff,#c9c9ff,#c8c8ff,#c7c7ff,#c7c7ff,#c6c6ff,#c5c5ff,#c5c5ff,#c5c5ff,#c4c4ff,#c4c4ff,#c4c4ff,#c3c3ff)"></i><i style="height:3px;background:linear-gradient(90deg,#ffffff,#f2f2ff,#ececff,#e9e9ff,#e7e7ff,#e6e6ff,#e5e5ff,#e4e4ff,#e3e3ff,#e1e1ff,#ddddff,#d9d9ff,#d6d6ff,#d3d3ff,#d1d1ff,#cfcfff,#cdcdff,#ccccff,#cbcbff,#c9c9ff,#c8c8ff,#c8c8ff,#c7c7ff,#c6c6ff,#c5c5ff,#c5c5ff,#c4c4ff,#c4c4ff,#c4c4ff,#c3c3ff,#c3c3ff,#c3c3ff,#c2c2ff,#c2c2ff)"></i><i style="height:3px;background:linear-gradient(90deg,#fdfdff,#f0f0ff,#ebebff,#e8e8ff,#e6e6ff,#e5e5ff,#e4e4ff,#e3e3ff,#e2e2ff,#ddddff,#d9d9ff,#d6d6ff,#d3d3ff,#d0d0ff,#ceceff,#ccccff,#cbcbff,#cacaff,#c8c8ff,#c7c7ff,#c6c6ff,#c6c6ff,#c5c5ff,#c4c4ff,#c4c4ff,#c3c3ff,#c3c3ff,#c3c3ff,#c2c2ff,#c2c2ff,#c2c2ff,#c1c1ff,#c1c1ff,#c1c1ff)"></i><i style="height:3px;background:linear-gradient(90deg,#fafaff,#efefff,#eaeaff,#e8e8ff,#e6e6ff,#e4e4ff,#e4e4ff,#e3e3ff,#dedeff,#d9d9ff,#d6d6ff,#d2d2ff,#d0d0ff,#ceceff,#ccccff,#cacaff,#c9c9ff,#c7c7ff,#c6c6ff,#c5c5ff,#c4c4ff,#c4c4ff,#c3c3ff,#c3c3ff,#c2c2ff,#c2c2ff,#c1c1ff,#c1c1ff,#c1c1ff,#c1c1ff,#c0c0ff,#c0c0ff,#c0c0ff,#c0c0ff)"></i><i style="height:3px;background:linear-gradient(90deg,#f8f8ff,#eeeeff,#e9e9ff,#e7e7ff,#e5e5ff,#e4e4ff,#e3e3ff,#dfdfff,#dadaff,#d6d6ff,#d2d2ff,#cfcfff,#cdcdff,#cbcbff,#c9c9ff,#c8c8ff,#c6c6ff,#c5c5ff,#c4c4ff,#c3c3ff,#c3c3ff,#c2c2ff,#c1c1ff,#c1c1ff,#c1c1ff,#c0c0ff,#c0c0ff,#c0c0ff,#bfbfff,#bfbfff,#bfbfff,#bfbfff,#bfbfff,#bfbfff)"></i><i style="height:3px;background:linear-gradient(90deg,#f6f6ff,#ececff,#e8e8ff,#e6e6ff,#e4e4ff,#e3e3ff,#e1e1ff,#dbdbff,#d6d6ff,#d2d2ff,#cfcfff,#ccccff,#cacaff,#c8c8ff,#c7c7ff,#c5c5ff,#c4c4ff,#c3c3ff,#c2c2ff,#c1c1ff,#c1c1ff,#c0c0ff,#c0c0ff,#bfbfff,#bfbfff,#bfbfff,#bfbfff,#bebeff,#bebeff,#bebeff,#bebeff,#bebeff,#bebeff,#bebeff)"></i><i style="height:3px;background:linear-gradient(90deg,#f4f4ff,#ebebff,#e7e7ff,#e5e5ff,#e4e4ff,#e3e3ff,#dcdcff,#d7d7ff,#d2d2ff,#cfcfff,#ccccff,#c9c9ff,#c7c7ff,#c6c6ff,#c4c4ff,#c3c3ff,#c2c2ff,#c1c1ff,#c0c0ff,#c0c0ff,#bfbfff,#bfbfff,#bebeff,#bebeff,#bebeff,#bdbdff,#bdbdff,#bdbdff,#bdbdff,#bdbdff,#bdbdff,#bdbdff,#bdbdff,#bdbdff)"></i><i style="height:3px;background:linear-gradient(90deg,#f2f2ff,#eaeaff,#e6e6ff,#e5e5ff,#e3e3ff,#dedeff,#d8d8ff,#d3d3ff,#cfcfff,#cbcbff,#c9c9ff,#c6c6ff,#c5c5ff,#c3c3ff,#c2c2ff,#c1c1ff,#c0c0ff,#bfbfff,#bebeff,#bebeff,#bdbdff,#bdbdff,#bdbdff,#bcbcff,#bcbcff,#bcbcff,#bcbcff,#bcbcff,#bcbcff,#bcbcff,#bcbcff,#bcbcff,#bcbcff,#bcbcff)"></i><i style="height:3px;background:linear-gradient(90deg,#f0f0ff,#e9e9ff,#e6e6ff,#e4e4ff,#e2e2ff,#d9d9ff,#d4d4ff,#cfcfff,#cbcbff,#c8c8ff,#c6c6ff,#c4c4ff,#c2c2ff,#c1c1ff,#c0c0ff,#bfbfff,#bebeff,#bdbdff,#bdbdff,#bcbcff,#bcbcff,#bbbbff,#bbbbff,#bbbbff,#bbbbff,#bbbbff,#bbbbff,#bbbbff,#bbbbff,#bbbbff,#bbbbff,#bbbbff,#bbbbff,#bbbbff)"></i><i style="height:3px;background:linear-gradient(90deg,#eeeeff,#e8e8ff,#e5e5ff,#e3e3ff,#ddddff,#d5d5ff,#d0d0ff,#cbcbff,#c8c8ff,#c5c5ff,#c3c3ff,#c1c1ff,#c0c0ff,#bebeff,#bdbdff,#bdbdff,#bcbcff,#bbbbff,#bbbbff,#babaff,#babaff,#babaff,#babaff,#babaff,#b9b9ff,#b9b9ff,#b9b9ff,#b9b9ff,#b9b9ff,#babaff,#babaff,#babaff,#babaff,#babaff)"></i><i style="height:3px;background:linear-gradient(90deg,#ededff,#e7e7ff,#e4e4ff,#e2e2ff,#d8d8ff,#d1d1ff,#ccccff,#c8c8ff,#c5c5ff,#c2c2ff,#c0c0ff,#bfbfff,#bdbdff,#bcbcff,#bbbbff,#bbbbff,#babaff,#babaff,#b9b9ff,#b9b9ff,#b9b9ff,#b8b8ff,#b8b8ff,#b8b8ff,#b8b8ff,#b8b8ff,#b8b8ff,#b8b8ff,#b8b8ff,#b9b9ff,#b9b9ff,#b9b9ff,#b9b9ff,#b9b9ff)"></i><i style="height:3px;background:linear-gradient(90deg,#ebebff,#e6e6ff,#e3e3ff,#dcdcff,#d3d3ff,#ccccff,#c8c8ff,#c5c5ff,#c2c2ff,#c0c0ff,#bebeff,#bcbcff,#bbbbff,#babaff,#b9b9ff,#b9b9ff,#b8b8ff,#b8b8ff,#b8b8ff,#b7b7ff,#b7b7ff,#b7b7ff,#b7b7ff,#b7b7ff,#b7b7ff,#b7b7ff,#b7b7ff,#b7b7ff,#b7b7ff,#b8b8ff,#b8b8ff,#b8b8ff,#b8b8ff,#b8b8ff)"></i><i style="height:2px;background:linear-gradient(90deg,#eaeaff,#e5e5ff,#e3e3ff,#d8d8ff,#cfcfff,#c9c9ff,#c5c5ff,#c2c2ff,#bfbfff,#bdbdff,#bcbcff,#bbbbff,#b9b9ff,#b9b9ff,#b8b8ff,#b7b7ff,#b7b7ff,#b7b7ff,#b6b6ff,#b6b6ff,#b6b6ff,#b6b6ff,#b6b6ff,#b6b6ff,#b6b6ff,#b6b6ff,#b6b6ff,#b6b6ff,#b7b7ff,#b7b7ff,#b7b7ff,#b7b7ff,#b8b8ff,#b8b8ff)"></i><i style="height:2px;background:linear-gradient(90deg,#e9e9ff,#e4e4ff,#dfdfff,#d4d4ff,#ccccff,#c7c7ff,#c3c3ff,#c0c0ff,#bebeff,#bcbcff,#babaff,#b9b9ff,#b8b8ff,#b7b7ff,#b7b7ff,#b6b6ff,#b6b6ff,#b6b6ff,#b5b5ff,#b5b5ff,#b5b5ff,#b5b5ff,#b5b5ff,#b5b5ff,#b5b5ff,#b5b5ff,#b6b6ff,#b6b6ff,#b6b6ff,#b6b6ff,#b6b6ff,#b7b7ff,#b7b7ff,#b7b7ff)"></i><i style="height:2px;background:linear-gradient(90deg,#e8e8ff,#e4e4ff,#dbdbff,#d1d1ff,#cacaff,#c4c4ff,#c1c1ff,#bebeff,#bcbcff,#babaff,#b9b9ff,#b8b8ff,#b7b7ff,#b6b6ff,#b6b6ff,#b5b5ff,#b5b5ff,#b5b5ff,#b4b4ff,#b4b4ff,#b4b4ff,#b4b4ff,#b4b4ff,#b4b4ff,#b5b5ff,#b5b5ff,#b5b5ff,#b5b5ff,#b5b5ff,#b6b6ff,#b6b6ff,#b6b6ff,#b7b7ff,#b7b7ff)"></i><i style="height:2px;background:linear-gradient(90deg,#e7e7ff,#e3e3ff,#d7d7ff,#ceceff,#c7c7ff,#c2c2ff,#bfbfff,#bcbcff,#babaff,#b9b9ff,#b8b8ff,#b7b7ff,#b6b6ff,#b5b5ff,#b5b5ff,#b4b4ff,#b4b4ff,#b4b4ff,#b4b4ff,#b3b3ff,#b3b3ff,#b4b4ff,#b4b4ff,#b4b4ff,#b4b4ff,#b4b4ff,#b4b4ff,#b5b5ff,#b5b5ff,#b5b5ff,#b5b5ff,#b6b6ff,#b6b6ff,#b6b6ff)"></i><i style="height:2px;background:linear-gradient(90deg,#e7e7ff,#e3e3ff,#d4d4ff,#cbcbff,#c4c4ff,#c0c0ff,#bdbdff,#bbbbff,#b9b9ff,#b7b7ff,#b6b6ff,#b5b5ff,#b5b5ff,#b4b4ff,#b4b4ff,#b3b3ff,#b3b3ff,#b3b3ff,#b3b3ff,#b3b3ff,#b3b3ff,#b3b3ff,#b3b3ff,#b3b3ff,#b3b3ff,#b3b3ff,#b4b4ff,#b4b4ff,#b4b4ff,#b5b5ff,#b5b5ff,#b5b5ff,#b6b6ff,#b6b6ff)"></i><i style="height:2px;background:linear-gradient(90deg,#e6e6ff,#dfdfff,#d0d0ff,#c8c8ff,#c2c2ff,#bebeff,#bbbbff,#b9b9ff,#b7b7ff,#b6b6ff,#b5b5ff,#b4b4ff,#b3b3ff,#b3b3ff,#b3b3ff,#b2b2ff,#b2b2ff,#b2b2ff,#b2b2ff,#b2b2ff,#b2b2ff,#b2b2ff,#b2b2ff,#b2b2ff,#b3b3ff,#b3b3ff,#b3b3ff,#b3b3ff,#b4b4ff,#b4b4ff,#b4b4ff,#b5b5ff,#b5b5ff,#b6b6ff)"></i><i style="height:2px;background:linear-gradient(90deg,#e5e5ff,#dbdbff,#cdcdff,#c5c5ff,#c0c0ff,#bcbcff,#b9b9ff,#b7b7ff,#b6b6ff,#b5b5ff,#b4b4ff,#b3b3ff,#b2b2ff,#b2b2ff,#b2b2ff,#b1b1ff,#b1b1ff,#b1b1ff,#b1b1ff,#b1b1ff,#b1b1ff,#b1b1ff,#b1b1ff,#b2b2ff,#b2b2ff,#b2b2ff,#b3b3ff,#b3b3ff,#b3b3ff,#b4b4ff,#b4b4ff,#b4b4ff,#b5b5ff,#b5b5ff)"></i><i style="height:2px;background:linear-gradient(90deg,#e5e5ff,#d6d6ff,#cacaff,#c3c3ff,#bebeff,#babaff,#b8b8ff,#b6b6ff,#b5b5ff,#b3b3ff,#b3b3ff,#b2b2ff,#b1b1ff,#b1b1ff,#b1b1ff,#b0b0ff,#b0b0ff,#b0b0ff,#b0b0ff,#b0b0ff,#b0b0ff,#b1b1ff,#b1b1ff,#b1b1ff,#b1b1ff,#b2b2ff,#b2b2ff,#b2b2ff,#b3b3ff,#b3b3ff,#b4b4ff,#b4b4ff,#b4b4ff,#b5b5ff)"></i><i style="height:2px;background:linear-gradient(90deg,#e4e4ff,#d2d2ff,#c7c7ff,#c0c0ff,#bcbcff,#b8b8ff,#b6b6ff,#b5b5ff,#b3b3ff,#b2b2ff,#b1b1ff,#b1b1ff,#b0b0ff,#b0b0ff,#b0b0ff,#b0b0ff,#b0b0ff,#b0b0ff,#b0b0ff,#b0b0ff,#b0b0ff,#b0b0ff,#b0b0ff,#b1b1ff,#b1b1ff,#b1b1ff,#b2b2ff,#b2b2ff,#b2b2ff,#b3b3ff,#b3b3ff,#b4b4ff,#b4b4ff,#b5b5ff)"></i><i style="height:2px;background:linear-gradient(90deg,#e3e3ff,#ceceff,#c4c4ff,#bebeff,#babaff,#b7b7ff,#b5b5ff,#b3b3ff,#b2b2ff,#b1b1ff,#b0b0ff,#b0b0ff,#afafff,#afafff,#afafff,#afafff,#afafff,#afafff,#afafff,#afafff,#afafff,#afafff,#b0b0ff,#b0b0ff,#b0b0ff,#b1b1ff,#b1b1ff,#b1b1ff,#b2b2ff,#b2b2ff,#b3b3ff,#b3b3ff,#b4b4ff,#b4b4ff)"></i><i style="height:2px;background:linear-gradient(90deg,#e2e2ff,#cbcbff,#c1c1ff,#bcbcff,#b8b8ff,#b5b5ff,#b3b3ff,#b2b2ff,#b1b1ff,#b0b0ff,#afafff,#afafff,#afafff,#aeaeff,#aeaeff,#aeaeff,#aeaeff,#aeaeff,#aeaeff,#aeaeff,#afafff,#afafff,#afafff,#afafff,#b0b0ff,#b0b0ff,#b1b1ff,#b1b1ff,#b2b2ff,#b2b2ff,#b3b3ff,#b3b3ff,#b4b4ff,#b4b4ff)"></i><i style="height:2px;background:linear-gradient(90deg,#dbdbff,#c7c7ff,#bebeff,#babaff,#b6b6ff,#b4b4ff,#b2b2ff,#b1b1ff,#b0b0ff,#afafff,#afafff,#aeaeff,#aeaeff,#aeaeff,#adadff,#adadff,#adadff,#adadff,#aeaeff,#aeaeff,#aeaeff,#aeaeff,#afafff,#afafff,#afafff,#b0b0ff,#b0b0ff,#b1b1ff,#b1b1ff,#b2b2ff,#b2b2ff,#b3b3ff,#b3b3ff,#b4b4ff)"></i><i style="height:2px;background:linear-gradient(90deg,#d2d2ff,#c3c3ff,#bcbcff,#b8b8ff,#b5b5ff,#b2b2ff,#b1b1ff,#b0b0ff,#afafff,#aeaeff,#aeaeff,#adadff,#adadff,#adadff,#adadff,#adadff,#adadff,#adadff,#adadff,#adadff,#adadff,#aeaeff,#aeaeff,#aeaeff,#afafff,#afafff,#b0b0ff,#b0b0ff,#b1b1ff,#b1b1ff,#b2b2ff,#b3b3ff,#b3b3ff,#b4b4ff)"></i><i style="height:2px;background:linear-gradient(90deg,#cbcbff,#c0c0ff,#babaff,#b6b6ff,#b3b3ff,#b1b1ff,#b0b0ff,#afafff,#aeaeff,#adadff,#adadff,#adadff,#acacff,#acacff,#acacff,#acacff,#acacff,#acacff,#acacff,#adadff,#adadff,#adadff,#aeaeff,#aeaeff,#aeaeff,#afafff,#afafff,#b0b0ff,#b1b1ff,#b1b1ff,#b2b2ff,#b2b2ff,#b3b3ff,#b4b4ff)"></i><i style="height:2px;background:linear-gradient(90deg,#c8c8ff,#bdbdff,#b8b8ff,#b4b4ff,#b2b2ff,#b0b0ff,#afafff,#aeaeff,#adadff,#adadff,#acacff,#acacff,#acacff,#ababff,#ababff,#ababff,#acacff,#acacff,#acacff,#acacff,#acacff,#adadff,#adadff,#aeaeff,#aeaeff,#afafff,#afafff,#b0b0ff,#b0b0ff,#b1b1ff,#b2b2ff,#b2b2ff,#b3b3ff,#b4b4ff)"></i><i style="height:2px;background:linear-gradient(90deg,#c7c7ff,#bcbcff,#b6b6ff,#b3b3ff,#b1b1ff,#afafff,#aeaeff,#adadff,#acacff,#acacff,#ababff,#ababff,#ababff,#ababff,#ababff,#ababff,#ababff,#ababff,#ababff,#acacff,#acacff,#acacff,#adadff,#adadff,#aeaeff,#aeaeff,#afafff,#b0b0ff,#b0b0ff,#b1b1ff,#b2b2ff,#b2b2ff,#b3b3ff,#b4b4ff)"></i><i style="height:2px;background:linear-gradient(90deg,#c7c7ff,#babaff,#b5b5ff,#b2b2ff,#b0b0ff,#aeaeff,#adadff,#acacff,#acacff,#ababff,#ababff,#aaaaff,#aaaaff,#aaaaff,#aaaaff,#aaaaff,#aaaaff,#ababff,#ababff,#ababff,#acacff,#acacff,#acacff,#adadff,#adadff,#aeaeff,#afafff,#afafff,#b0b0ff,#b1b1ff,#b2b2ff,#b2b2ff,#b3b3ff,#b4b4ff)"></i><i style="height:2px;background:linear-gradient(90deg,#c5c5ff,#b9b9ff,#b4b4ff,#b1b1ff,#afafff,#adadff,#acacff,#acacff,#ababff,#aaaaff,#aaaaff,#a9a9ff,#a7a7ff,#a7a7ff,#a7a7ff,#a8a8ff,#a9a9ff,#aaaaff,#aaaaff,#ababff,#ababff,#acacff,#acacff,#adadff,#adadff,#aeaeff,#afafff,#afafff,#b0b0ff,#b1b1ff,#b2b2ff,#b2b2ff,#b3b3ff,#b4b4ff)"></i><i style="height:2px;background:linear-gradient(90deg,#c4c4ff,#b8b8ff,#b3b3ff,#b0b0ff,#aeaeff,#adadff,#acacff,#ababff,#aaaaff,#a8a8ff,#a5a5ff,#a3a3ff,#a2a2ff,#a2a2ff,#a2a2ff,#a3a3ff,#a5a5ff,#a7a7ff,#aaaaff,#aaaaff,#ababff,#ababff,#acacff,#acacff,#adadff,#aeaeff,#aeaeff,#afafff,#b0b0ff,#b1b1ff,#b2b2ff,#b3b3ff,#b3b3ff,#b4b4ff)"></i><i style="height:2px;background:linear-gradient(90deg,#c2c2ff,#b7b7ff,#b2b2ff,#afafff,#adadff,#acacff,#ababff,#aaaaff,#a7a7ff,#a3a3ff,#a0a0ff,#9e9eff,#9d9dff,#9d9dff,#9d9dff,#9e9eff,#a0a0ff,#a3a3ff,#a6a6ff,#aaaaff,#aaaaff,#ababff,#acacff,#acacff,#adadff,#aeaeff,#aeaeff,#afafff,#b0b0ff,#b1b1ff,#b2b2ff,#b3b3ff,#b4b4ff,#b5b5ff)"></i><i style="height:2px;background:linear-gradient(90deg,#c1c1ff,#b6b6ff,#b1b1ff,#afafff,#adadff,#ababff,#aaaaff,#a7a7ff,#a2a2ff,#9d9dff,#9b9bff,#9999ff,#9898ff,#9898ff,#9999ff,#9a9aff,#9c9cff,#9f9fff,#a3a3ff,#a7a7ff,#aaaaff,#ababff,#ababff,#acacff,#adadff,#aeaeff,#aeaeff,#afafff,#b0b0ff,#b1b1ff,#b2b2ff,#b3b3ff,#b4b4ff,#b5b5ff)"></i><i style="height:2px;background:linear-gradient(90deg,#c0c0ff,#b5b5ff,#b1b1ff,#aeaeff,#acacff,#ababff,#a9a9ff,#a2a2ff,#9d9dff,#9999ff,#9696ff,#9494ff,#9393ff,#9494ff,#9494ff,#9696ff,#9898ff,#9c9cff,#9f9fff,#a4a4ff,#a9a9ff,#ababff,#ababff,#acacff,#adadff,#aeaeff,#aeaeff,#afafff,#b0b0ff,#b2b2ff,#b3b3ff,#b4b4ff,#b5b5ff,#b6b6ff)"></i><i style="height:2px;background:linear-gradient(90deg,#bfbfff,#b4b4ff,#b0b0ff,#adadff,#acacff,#aaaaff,#a4a4ff,#9d9dff,#9898ff,#9494ff,#9292ff,#9090ff,#8f8fff,#8f8fff,#9090ff,#9292ff,#9595ff,#9898ff,#9c9cff,#a1a1ff,#a7a7ff,#aaaaff,#ababff,#acacff,#adadff,#aeaeff,#afafff,#b0b0ff,#b1b1ff,#b2b2ff,#b3b3ff,#b5b5ff,#b6b6ff,#b7b7ff)"></i><i style="height:2px;background:linear-gradient(90deg,#bfbfff,#b4b4ff,#b0b0ff,#adadff,#ababff,#aaaaff,#a1a1ff,#9a9aff,#9494ff,#9090ff,#8d8dff,#8c8cff,#8b8bff,#8b8bff,#8c8cff,#8e8eff,#9191ff,#9595ff,#9a9aff,#9f9fff,#a6a6ff,#aaaaff,#ababff,#acacff,#adadff,#aeaeff,#afafff,#b0b0ff,#b2b2ff,#b3b3ff,#b4b4ff,#b6b6ff,#b7b7ff,#b8b8ff)"></i><i style="height:2px;background:linear-gradient(90deg,#bfbfff,#b4b4ff,#afafff,#adadff,#ababff,#a7a7ff,#9d9dff,#9696ff,#9090ff,#8c8cff,#8989ff,#8888ff,#8787ff,#8787ff,#8989ff,#8b8bff,#8e8eff,#9393ff,#9898ff,#9e9eff,#a5a5ff,#aaaaff,#ababff,#acacff,#adadff,#aeaeff,#b0b0ff,#b1b1ff,#b2b2ff,#b4b4ff,#b5b5ff,#b7b7ff,#b9b9ff,#babaff)"></i><i style="height:2px;background:linear-gradient(90deg,#bfbfff,#b4b4ff,#b0b0ff,#adadff,#ababff,#a5a5ff,#9b9bff,#9393ff,#8d8dff,#8989ff,#8686ff,#8484ff,#8383ff,#8484ff,#8585ff,#8888ff,#8c8cff,#9191ff,#9696ff,#9d9dff,#a5a5ff,#aaaaff,#ababff,#adadff,#aeaeff,#afafff,#b1b1ff,#b2b2ff,#b4b4ff,#b5b5ff,#b7b7ff,#b9b9ff,#bbbbff,#bcbcff)"></i><i style="height:2px;background:linear-gradient(90deg,#c0c0ff,#b5b5ff,#b0b0ff,#adadff,#ababff,#a4a4ff,#9a9aff,#9191ff,#8a8aff,#8686ff,#8282ff,#8080ff,#8080ff,#8080ff,#8282ff,#8585ff,#8989ff,#8f8fff,#9696ff,#9e9eff,#a7a7ff,#ababff,#acacff,#adadff,#afafff,#b0b0ff,#b2b2ff,#b4b4ff,#b5b5ff,#b7b7ff,#b9b9ff,#bbbbff,#bdbdff,#c0c0ff)"></i><i style="height:2px;background:linear-gradient(90deg,#c3c3ff,#b6b6ff,#b1b1ff,#aeaeff,#ababff,#a6a6ff,#9a9aff,#9090ff,#8989ff,#8383ff,#7f7fff,#7d7dff,#7c7cff,#7d7dff,#7f7fff,#8383ff,#8888ff,#8f8fff,#9797ff,#a0a0ff,#aaaaff,#ababff,#adadff,#aeaeff,#b0b0ff,#b2b2ff,#b4b4ff,#b6b6ff,#b8b8ff,#babaff,#bdbdff,#bfbfff,#c2c2ff,#c4c4ff)"></i><i style="height:2px;background:linear-gradient(90deg,#c8c8ff,#b9b9ff,#b3b3ff,#afafff,#acacff,#aaaaff,#9c9cff,#9191ff,#8888ff,#8181ff,#7d7dff,#7a7aff,#7979ff,#7a7aff,#7d7dff,#8181ff,#8787ff,#9090ff,#9999ff,#a5a5ff,#ababff,#acacff,#aeaeff,#b0b0ff,#b2b2ff,#b4b4ff,#b7b7ff,#b9b9ff,#bcbcff,#bfbfff,#c2c2ff,#c5c5ff,#c8c8ff,#cbcbff)"></i><i style="height:1px;background:linear-gradient(90deg,#ceceff,#bdbdff,#b5b5ff,#b1b1ff,#adadff,#ababff,#a1a1ff,#9393ff,#8888ff,#8080ff,#7b7bff,#7878ff,#7676ff,#7878ff,#7b7bff,#8181ff,#8888ff,#9292ff,#9e9eff,#aaaaff,#acacff,#aeaeff,#b0b0ff,#b2b2ff,#b5b5ff,#b8b8ff,#bbbbff,#bebeff,#c1c1ff,#c5c5ff,#c8c8ff,#ccccff,#d0d0ff,#d4d4ff)"></i><i style="height:1px;background:linear-gradient(90deg,#d2d2ff,#bfbfff,#b7b7ff,#b2b2ff,#aeaeff,#ababff,#a4a4ff,#9595ff,#8989ff,#8080ff,#7a7aff,#7676ff,#7575ff,#7676ff,#7a7aff,#8080ff,#8989ff,#9494ff,#a2a2ff,#ababff,#adadff,#afafff,#b1b1ff,#b4b4ff,#b7b7ff,#babaff,#bdbdff,#c1c1ff,#c5c5ff,#c9c9ff,#cdcdff,#d1d1ff,#d5d5ff,#dadaff)"></i><i style="height:1px;background:linear-gradient(90deg,#dfdfff,#c7c7ff,#bcbcff,#b6b6ff,#b1b1ff,#adadff,#ababff,#9e9eff,#8d8dff,#8181ff,#7a7aff,#7575ff,#7373ff,#7575ff,#7a7aff,#8282ff,#8e8eff,#9d9dff,#ababff,#adadff,#afafff,#b2b2ff,#b5b5ff,#b9b9ff,#bdbdff,#c1c1ff,#c5c5ff,#cacaff,#cfcfff,#d4d4ff,#dadaff,#dfdfff,#e3e3ff,#e4e4ff)"></i><i style="height:1px;background:linear-gradient(90deg,#e4e4ff,#cfcfff,#c1c1ff,#babaff,#b4b4ff,#afafff,#acacff,#a6a6ff,#9292ff,#8383ff,#7a7aff,#7474ff,#7272ff,#7474ff,#7b7bff,#8585ff,#9393ff,#a6a6ff,#acacff,#aeaeff,#b2b2ff,#b5b5ff,#b9b9ff,#bebeff,#c2c2ff,#c8c8ff,#cdcdff,#d3d3ff,#d9d9ff,#e0e0ff,#e3e3ff,#e4e4ff,#e5e5ff,#e5e5ff)"></i><i style="height:1px;background:linear-gradient(90deg,#e5e5ff,#d7d7ff,#c7c7ff,#bebeff,#b7b7ff,#b1b1ff,#adadff,#ababff,#9797ff,#8585ff,#7a7aff,#7373ff,#6464ff,#7373ff,#7b7bff,#8787ff,#9898ff,#aaaaff,#adadff,#b0b0ff,#b4b4ff,#b8b8ff,#bdbdff,#c2c2ff,#c8c8ff,#ceceff,#d5d5ff,#dcdcff,#e3e3ff,#e4e4ff,#e4e4ff,#e5e5ff,#e6e6ff,#e7e7ff)"></i><i style="height:1px;background:linear-gradient(90deg,#ffdfdf,#ffe7e7,#fff9f9,#fafaff,#f2f2ff,#ececff,#e7e7ff,#e4e4ff,#d2d2ff,#bdbdff,#b0b0ff,#9393ff,#6969ff,#9898ff,#b1b1ff,#bfbfff,#d3d3ff,#e4e4ff,#e7e7ff,#ebebff,#efefff,#f4f4ff,#fafaff,#fffefe,#fff7f7,#fff0f0,#ffe8e8,#ffe2e2,#ffe1e1,#ffe1e1,#ffe0e0,#ffdfdf,#ffdede,#ffdddd)"></i><i style="height:0.5px;background:linear-gradient(90deg,#ffd8d8,#ffdfdf,#ffe2e2,#fff0f0,#fffefe,#f6f6ff,#efefff,#e9e9ff,#e4e4ff,#ceceff,#b8b8ff,#aaaaff,#6e6eff,#ababff,#babaff,#d2d2ff,#e4e4ff,#e9e9ff,#eeeeff,#f4f4ff,#fcfcff,#fff9f9,#fff0f0,#ffe6e6,#ffe2e2,#ffe1e1,#ffdfdf,#ffdede,#ffdcdc,#ffdbdb,#ffd9d9,#ffd7d7,#ffd6d6,#ffd4d4)"></i></div><div class="h" style="left:837.1px;top:45.8px;width:16px;height:268.5px"><i style="height:3px;background:linear-gradient(90deg,#ff5959,#ff5c5c,#ff5f5f,#ff6262,#ff6464,#ff6767,#ff6a6a,#ff6d6d,#ff7070,#ff8383,#ffa0a0,#ffc9c9,#ffcaca,#ffcccc,#ffcdcd,#ffcece,#ffd0d0)"></i><i style="height:3px;background:linear-gradient(90deg,#ff5959,#ff5c5c,#ff5f5f,#ff6262,#ff6565,#ff6868,#ff6b6b,#ff6d6d,#ff7070,#ff8484,#ffa0a0,#ffc9c9,#ffcbcb,#ffcccc,#ffcece,#ffcfcf,#ffd0d0)"></i><i style="height:3px;background:linear-gradient(90deg,#ff5a5a,#ff5d5d,#ff6060,#ff6262,#ff6565,#ff6868,#ff6b6b,#ff6e6e,#ff7070,#ff8585,#ffa1a1,#ffcaca,#ffcbcb,#ffcdcd,#ffcece,#ffd0d0,#ffd1d1)"></i><i style="height:3px;background:linear-gradient(90deg,#ff5b5b,#ff5d5d,#ff6060,#ff6363,#ff6666,#ff6868,#ff6b6b,#ff6e6e,#ff7171,#ff8686,#ffa1a1,#ffcaca,#ffcccc,#ffcdcd,#ffcfcf,#ffd0d0,#ffd1d1)"></i><i style="height:3px;background:linear-gradient(90deg,#ff5b5b,#ff5e5e,#ff6161,#ff6363,#ff6666,#ff6969,#ff6b6b,#ff6e6e,#ff7171,#ff8686,#ffa1a1,#ffcbcb,#ffcccc,#ffcece,#ffcfcf,#ffd1d1,#ffd2d2)"></i><i style="height:3px;background:linear-gradient(90deg,#ff5c5c,#ff5e5e,#ff6161,#ff6464,#ff6666,#ff6969,#ff6c6c,#ff6e6e,#ff7171,#ff8787,#ffa2a2,#ffcccc,#ffcdcd,#ffcece,#ffd0d0,#ffd1d1,#ffd2d2)"></i><i style="height:3px;background:linear-gradient(90deg,#ff5c5c,#ff5f5f,#ff6262,#ff6464,#ff6767,#ff6969,#ff6c6c,#ff6e6e,#ff7171,#ff8888,#ffa2a2,#ffcccc,#ffcece,#ffcfcf,#ffd0d0,#ffd2d2,#ffd3d3)"></i><i style="height:3px;background:linear-gradient(90deg,#ff5d5d,#ff5f5f,#ff6262,#ff6565,#ff6767,#ff6a6a,#ff6c6c,#ff6f6f,#ff7171,#ff8989,#ffa2a2,#ffcdcd,#ffcece,#ffcfcf,#ffd1d1,#ffd2d2,#ffd3d3)"></i><i style="height:3px;background:linear-gradient(90deg,#ff5d5d,#ff6060,#ff6262,#ff6565,#ff6767,#ff6a6a,#ff6c6c,#ff6f6f,#ff7171,#ff8a8a,#ffa3a3,#ffcece,#ffcfcf,#ffd0d0,#ffd1d1,#ffd3d3,#ffd4d4)"></i><i style="height:3px;background:linear-gradient(90deg,#ff5e5e,#ff6060,#ff6363,#ff6565,#ff6868,#ff6a6a,#ff6d6d,#ff6f6f,#ff7272,#ff8b8b,#ffa3a3,#ffcece,#ffcfcf,#ffd1d1,#ffd2d2,#ffd3d3,#ffd4d4)"></i><i style="height:3px;background:linear-gradient(90deg,#ff5f5f,#ff6161,#ff6363,#ff6666,#ff6868,#ff6a6a,#ff6d6d,#ff6f6f,#ff7474,#ff8b8b,#ffa3a3,#ffcfcf,#ffd0d0,#ffd1d1,#ffd2d2,#ffd4d4,#ffd5d5)"></i><i style="height:3px;background:linear-gradient(90deg,#ff5f5f,#ff6161,#ff6464,#ff6666,#ff6868,#ff6b6b,#ff6d6d,#ff6f6f,#ff7575,#ff8c8c,#ffa3a3,#ffcfcf,#ffd0d0,#ffd2d2,#ffd3d3,#ffd4d4,#ffd5d5)"></i><i style="height:3px;background:linear-gradient(90deg,#ff6060,#ff6262,#ff6464,#ff6767,#ff6969,#ff6b6b,#ff6d6d,#ff7070,#ff7676,#ff8d8d,#ffa4a4,#ffd0d0,#ffd1d1,#ffd2d2,#ffd3d3,#ffd4d4,#ffd6d6)"></i><i style="height:3px;background:linear-gradient(90deg,#ff6060,#ff6262,#ff6565,#ff6767,#ff6969,#ff6b6b,#ff6e6e,#ff7070,#ff7878,#ff8e8e,#ffa4a4,#ffd0d0,#ffd2d2,#ffd3d3,#ffd4d4,#ffd5d5,#ffd6d6)"></i><i style="height:3px;background:linear-gradient(90deg,#ff6161,#ff6363,#ff6565,#ff6767,#ff6969,#ff6c6c,#ff6e6e,#ff7070,#ff7979,#ff8f8f,#ffa4a4,#ffd1d1,#ffd2d2,#ffd3d3,#ffd4d4,#ffd5d5,#ffd6d6)"></i><i style="height:3px;background:linear-gradient(90deg,#ff6161,#ff6363,#ff6666,#ff6868,#ff6a6a,#ff6c6c,#ff6e6e,#ff7070,#ff7a7a,#ff8f8f,#ffa5a5,#ffd2d2,#ffd3d3,#ffd4d4,#ffd5d5,#ffd6d6,#ffd7d7)"></i><i style="height:3px;background:linear-gradient(90deg,#ff6262,#ff6464,#ff6666,#ff6868,#ff6a6a,#ff6c6c,#ff6e6e,#ff7070,#ff7c7c,#ff9090,#ffa5a5,#ffd2d2,#ffd3d3,#ffd4d4,#ffd5d5,#ffd6d6,#ffd7d7)"></i><i style="height:3px;background:linear-gradient(90deg,#ff6262,#ff6464,#ff6666,#ff6868,#ff6a6a,#ff6c6c,#ff6e6e,#ff7070,#ff7d7d,#ff9191,#ffa5a5,#ffd3d3,#ffd4d4,#ffd5d5,#ffd6d6,#ffd7d7,#ffd8d8)"></i><i style="height:3px;background:linear-gradient(90deg,#ff6363,#ff6565,#ff6767,#ff6969,#ff6b6b,#ff6d6d,#ff6f6f,#ff7171,#ff7e7e,#ff9292,#ffa5a5,#ffd3d3,#ffd4d4,#ffd5d5,#ffd6d6,#ffd7d7,#ffd8d8)"></i><i style="height:3px;background:linear-gradient(90deg,#ff6363,#ff6565,#ff6767,#ff6969,#ff6b6b,#ff6d6d,#ff6f6f,#ff7171,#ff7f7f,#ff9393,#ffa6a6,#ffd4d4,#ffd5d5,#ffd6d6,#ffd7d7,#ffd8d8,#ffd9d9)"></i><i style="height:3px;background:linear-gradient(90deg,#ff6464,#ff6666,#ff6868,#ff6a6a,#ff6b6b,#ff6d6d,#ff6f6f,#ff7171,#ff8181,#ff9393,#ffa6a6,#ffd4d4,#ffd5d5,#ffd6d6,#ffd7d7,#ffd8d8,#ffd9d9)"></i><i style="height:3px;background:linear-gradient(90deg,#ff6464,#ff6666,#ff6868,#ff6a6a,#ff6c6c,#ff6e6e,#ff6f6f,#ff7171,#ff8282,#ff9494,#ffa6a6,#ffd5d5,#ffd6d6,#ffd7d7,#ffd8d8,#ffd9d9,#ffd9d9)"></i><i style="height:3px;background:linear-gradient(90deg,#ff6565,#ff6767,#ff6868,#ff6a6a,#ff6c6c,#ff6e6e,#ff7070,#ff7171,#ff8383,#ff9595,#ffa6a6,#ffd5d5,#ffd6d6,#ffd7d7,#ffd8d8,#ffd9d9,#ffdada)"></i><i style="height:3px;background:linear-gradient(90deg,#ff6565,#ff6767,#ff6969,#ff6b6b,#ff6c6c,#ff6e6e,#ff7070,#ff7373,#ff8484,#ff9696,#ffa7a7,#ffd6d6,#ffd7d7,#ffd8d8,#ffd8d8,#ffd9d9,#ffdada)"></i><i style="height:3px;background:linear-gradient(90deg,#ff6666,#ff6868,#ff6969,#ff6b6b,#ff6d6d,#ff6e6e,#ff7070,#ff7575,#ff8585,#ff9696,#ffa7a7,#ffd6d6,#ffd7d7,#ffd8d8,#ffd9d9,#ffdada,#ffdbdb)"></i><i style="height:3px;background:linear-gradient(90deg,#ff6666,#ff6868,#ff6a6a,#ff6b6b,#ff6d6d,#ff6f6f,#ff7070,#ff7676,#ff8787,#ff9797,#ffa7a7,#ffd7d7,#ffd8d8,#ffd9d9,#ffd9d9,#ffdada,#ffdbdb)"></i><i style="height:3px;background:linear-gradient(90deg,#ff6767,#ff6868,#ff6a6a,#ff6c6c,#ff6d6d,#ff6f6f,#ff7070,#ff7878,#ff8888,#ff9898,#ffa8a8,#ffd7d7,#ffd8d8,#ffd9d9,#ffdada,#ffdbdb,#ffdbdb)"></i><i style="height:3px;background:linear-gradient(90deg,#ff6767,#ff6969,#ff6a6a,#ff6c6c,#ff6e6e,#ff6f6f,#ff7171,#ff7a7a,#ff8989,#ff9898,#ffa8a8,#ffd8d8,#ffd9d9,#ffd9d9,#ffdada,#ffdbdb,#ffdcdc)"></i><i style="height:3px;background:linear-gradient(90deg,#ff6868,#ff6969,#ff6b6b,#ff6c6c,#ff6e6e,#ff6f6f,#ff7171,#ff7b7b,#ff8a8a,#ff9999,#ffa8a8,#ffd8d8,#ffd9d9,#ffdada,#ffdbdb,#ffdbdb,#ffdcdc)"></i><i style="height:3px;background:linear-gradient(90deg,#ff6868,#ff6a6a,#ff6b6b,#ff6d6d,#ff6e6e,#ff7070,#ff7171,#ff7d7d,#ff8b8b,#ff9a9a,#ffa8a8,#ffd9d9,#ffdada,#ffdada,#ffdbdb,#ffdcdc,#ffdddd)"></i><i style="height:3px;background:linear-gradient(90deg,#ff6969,#ff6a6a,#ff6c6c,#ff6d6d,#ff6e6e,#ff7070,#ff7171,#ff7e7e,#ff8c8c,#ff9a9a,#ffa9a9,#ffd9d9,#ffdada,#ffdbdb,#ffdcdc,#ffdcdc,#ffdddd)"></i><i style="height:3px;background:linear-gradient(90deg,#ff6969,#ff6b6b,#ff6c6c,#ff6d6d,#ff6f6f,#ff7070,#ff7272,#ff8080,#ff8d8d,#ff9b9b,#ffa9a9,#ffdada,#ffdbdb,#ffdbdb,#ffdcdc,#ffdddd,#ffdddd)"></i><i style="height:3px;background:linear-gradient(90deg,#ff6a6a,#ff6b6b,#ff6c6c,#ff6e6e,#ff6f6f,#ff7070,#ff7474,#ff8181,#ff8f8f,#ff9c9c,#ffa9a9,#ffdada,#ffdbdb,#ffdcdc,#ffdcdc,#ffdddd,#ffdede)"></i><i style="height:3px;background:linear-gradient(90deg,#ff6a6a,#ff6b6b,#ff6d6d,#ff6e6e,#ff6f6f,#ff7171,#ff7676,#ff8383,#ff9090,#ff9c9c,#ffa9a9,#ffdbdb,#ffdbdb,#ffdcdc,#ffdddd,#ffdddd,#ffdede)"></i><i style="height:3px;background:linear-gradient(90deg,#ff6b6b,#ff6c6c,#ff6d6d,#ff6e6e,#ff7070,#ff7171,#ff7878,#ff8484,#ff9191,#ff9d9d,#ffa9a9,#ffdbdb,#ffdcdc,#ffdddd,#ffdddd,#ffdede,#ffdede)"></i><i style="height:3px;background:linear-gradient(90deg,#ff6b6b,#ff6c6c,#ff6d6d,#ff6f6f,#ff7070,#ff7171,#ff7a7a,#ff8686,#ff9292,#ff9e9e,#ffaaaa,#ffdcdc,#ffdcdc,#ffdddd,#ffdede,#ffdede,#ffdfdf)"></i><i style="height:3px;background:linear-gradient(90deg,#ff6b6b,#ff6d6d,#ff6e6e,#ff6f6f,#ff7070,#ff7171,#ff7c7c,#ff8787,#ff9393,#ff9e9e,#ffaaaa,#ffdcdc,#ffdddd,#ffdddd,#ffdede,#ffdfdf,#ffdfdf)"></i><i style="height:3px;background:linear-gradient(90deg,#ff6c6c,#ff6d6d,#ff6e6e,#ff6f6f,#ff7070,#ff7373,#ff7e7e,#ff8989,#ff9494,#ff9f9f,#ffabab,#ffdddd,#ffdddd,#ffdede,#ffdede,#ffdfdf,#ffdfdf)"></i><i style="height:3px;background:linear-gradient(90deg,#ff6c6c,#ff6d6d,#ff6e6e,#ff7070,#ff7171,#ff7575,#ff8080,#ff8a8a,#ff9595,#ffa0a0,#ffaeae,#ffdddd,#ffdede,#ffdede,#ffdfdf,#ffdfdf,#ffe0e0)"></i><i style="height:3px;background:linear-gradient(90deg,#ff6d6d,#ff6e6e,#ff6f6f,#ff7070,#ff7171,#ff7777,#ff8181,#ff8c8c,#ff9696,#ffa0a0,#ffb0b0,#ffdede,#ffdede,#ffdfdf,#ffdfdf,#ffe0e0,#ffe0e0)"></i><i style="height:3px;background:linear-gradient(90deg,#ff6d6d,#ff6e6e,#ff6f6f,#ff7070,#ff7171,#ff7979,#ff8383,#ff8d8d,#ff9797,#ffa1a1,#ffb2b2,#ffdede,#ffdede,#ffdfdf,#ffdfdf,#ffe0e0,#ffe0e0)"></i><i style="height:3px;background:linear-gradient(90deg,#ff6e6e,#ff6f6f,#ff6f6f,#ff7070,#ff7272,#ff7b7b,#ff8585,#ff8e8e,#ff9898,#ffa2a2,#ffb4b4,#ffdede,#ffdfdf,#ffdfdf,#ffe0e0,#ffe0e0,#ffe1e1)"></i><i style="height:3px;background:linear-gradient(90deg,#ff6e6e,#ff6f6f,#ff7070,#ff7171,#ff7474,#ff7e7e,#ff8787,#ff9090,#ff9999,#ffa2a2,#ffb6b6,#ffdfdf,#ffdfdf,#ffe0e0,#ffe0e0,#ffe1e1,#ffe1e1)"></i><i style="height:3px;background:linear-gradient(90deg,#ff6e6e,#ff6f6f,#ff7070,#ff7171,#ff7777,#ff8080,#ff8888,#ff9191,#ff9a9a,#ffa3a3,#ffb9b9,#ffdfdf,#ffe0e0,#ffe0e0,#ffe1e1,#ffe1e1,#ffe1e1)"></i><i style="height:3px;background:linear-gradient(90deg,#ff6f6f,#ff7070,#ff7070,#ff7171,#ff7979,#ff8282,#ff8a8a,#ff9393,#ff9b9b,#ffa3a3,#ffbbbb,#ffe0e0,#ffe0e0,#ffe1e1,#ffe1e1,#ffe1e1,#ffe2e2)"></i><i style="height:3px;background:linear-gradient(90deg,#ff6f6f,#ff7070,#ff7171,#ff7474,#ff7c7c,#ff8484,#ff8c8c,#ff9494,#ff9c9c,#ffa4a4,#ffbdbd,#ffe0e0,#ffe1e1,#ffe1e1,#ffe1e1,#ffe2e2,#ffe2e2)"></i><i style="height:3px;background:linear-gradient(90deg,#ff7070,#ff7070,#ff7171,#ff7777,#ff7e7e,#ff8686,#ff8e8e,#ff9595,#ff9d9d,#ffa4a4,#ffbfbf,#ffe1e1,#ffe1e1,#ffe1e1,#ffe2e2,#ffe2e2,#ffe2e2)"></i><i style="height:3px;background:linear-gradient(90deg,#ff7070,#ff7171,#ff7272,#ff7979,#ff8181,#ff8888,#ff8f8f,#ff9696,#ff9e9e,#ffa5a5,#ffc1c1,#ffe1e1,#ffe1e1,#ffe2e2,#ffe2e2,#ffe2e2,#ffe3e3)"></i><i style="height:3px;background:linear-gradient(90deg,#ff7070,#ff7171,#ff7575,#ff7c7c,#ff8383,#ff8a8a,#ff9191,#ff9898,#ff9f9f,#ffa6a6,#ffc3c3,#ffe1e1,#ffe2e2,#ffe2e2,#ffe2e2,#ffe3e3,#ffe7e7)"></i><i style="height:3px;background:linear-gradient(90deg,#ff7171,#ff7272,#ff7878,#ff7f7f,#ff8585,#ff8c8c,#ff9292,#ff9999,#ffa0a0,#ffa6a6,#ffc5c5,#ffe2e2,#ffe2e2,#ffe2e2,#ffe3e3,#ffe6e6,#ffe9e9)"></i><i style="height:3px;background:linear-gradient(90deg,#ff7171,#ff7575,#ff7b7b,#ff8181,#ff8888,#ff8e8e,#ff9494,#ff9a9a,#ffa0a0,#ffa7a7,#ffc7c7,#ffe2e2,#ffe2e2,#ffe3e3,#ffe6e6,#ffe9e9,#ffecec)"></i><i style="height:3px;background:linear-gradient(90deg,#ff7272,#ff7878,#ff7e7e,#ff8484,#ff8a8a,#ff9090,#ff9595,#ff9b9b,#ffa1a1,#ffa7a7,#ffc8c8,#ffe2e2,#ffe3e3,#ffe6e6,#ffe9e9,#ffecec,#ffefef)"></i><i style="height:3px;background:linear-gradient(90deg,#ff7676,#ff7b7b,#ff8181,#ff8686,#ff8c8c,#ff9191,#ff9797,#ff9d9d,#ffa2a2,#ffa8a8,#ffcaca,#ffe4e4,#ffe7e7,#ffeaea,#ffecec,#ffefef,#fff2f2)"></i><i style="height:3px;background:linear-gradient(90deg,#ff7979,#ff7e7e,#ff8383,#ff8989,#ff8e8e,#ff9393,#ff9898,#ff9e9e,#ffa3a3,#ffa8a8,#ffcccc,#ffe8e8,#ffeaea,#ffeded,#fff0f0,#fff2f2,#fff5f5)"></i><i style="height:3px;background:linear-gradient(90deg,#ff7c7c,#ff8181,#ff8686,#ff8b8b,#ff9090,#ff9595,#ff9a9a,#ff9f9f,#ffa4a4,#ffa9a9,#ffcece,#ffebeb,#ffeeee,#fff0f0,#fff3f3,#fff5f5,#fff8f8)"></i><i style="height:3px;background:linear-gradient(90deg,#ff8080,#ff8484,#ff8989,#ff8d8d,#ff9292,#ff9797,#ff9b9b,#ffa0a0,#ffa4a4,#ffa9a9,#ffcfcf,#ffeeee,#fff1f1,#fff3f3,#fff5f5,#fff8f8,#fffafa)"></i><i style="height:3px;background:linear-gradient(90deg,#ff8383,#ff8787,#ff8b8b,#ff9090,#ff9494,#ff9898,#ff9d9d,#ffa1a1,#ffa5a5,#ffaaaa,#ffd1d1,#fff2f2,#fff4f4,#fff6f6,#fff8f8,#fffafa,#fffdfd)"></i><i style="height:3px;background:linear-gradient(90deg,#ff8686,#ff8a8a,#ff8e8e,#ff9292,#ff9696,#ff9a9a,#ff9e9e,#ffa2a2,#ffa6a6,#ffaaaa,#ffd3d3,#fff5f5,#fff7f7,#fff9f9,#fffbfb,#fffdfd,#ffffff)"></i><i style="height:3px;background:linear-gradient(90deg,#ff8989,#ff8c8c,#ff9090,#ff9494,#ff9898,#ff9b9b,#ff9f9f,#ffa3a3,#ffa7a7,#ffafaf,#ffd4d4,#fff8f8,#fffafa,#fffcfc,#fffefe,#fefeff,#fdfdff)"></i><i style="height:3px;background:linear-gradient(90deg,#ff8b8b,#ff8f8f,#ff9292,#ff9696,#ff9999,#ff9d9d,#ffa0a0,#ffa4a4,#ffa7a7,#ffb3b3,#ffd6d6,#fffbfb,#fffdfd,#ffffff,#fefeff,#fcfcff,#fafaff)"></i><i style="height:3px;background:linear-gradient(90deg,#ff8e8e,#ff9191,#ff9595,#ff9898,#ff9b9b,#ff9e9e,#ffa2a2,#ffa5a5,#ffa8a8,#ffb7b7,#ffd7d7,#fffefe,#ffffff,#fdfdff,#fbfbff,#fafaff,#f8f8ff)"></i><i style="height:3px;background:linear-gradient(90deg,#ff9191,#ff9494,#ff9797,#ff9a9a,#ff9d9d,#ffa0a0,#ffa3a3,#ffa6a6,#ffa9a9,#ffbbbb,#ffd8d8,#fdfdff,#fcfcff,#fafaff,#f9f9ff,#f7f7ff,#f6f6ff)"></i><i style="height:3px;background:linear-gradient(90deg,#ff9393,#ff9696,#ff9999,#ff9c9c,#ff9e9e,#ffa1a1,#ffa4a4,#ffa7a7,#ffa9a9,#ffbebe,#ffdada,#fbfbff,#f9f9ff,#f8f8ff,#f7f7ff,#f5f5ff,#f4f4ff)"></i><i style="height:3px;background:linear-gradient(90deg,#ff9696,#ff9898,#ff9b9b,#ff9d9d,#ffa0a0,#ffa2a2,#ffa5a5,#ffa7a7,#ffaaaa,#ffc2c2,#ffdbdb,#f8f8ff,#f7f7ff,#f6f6ff,#f4f4ff,#f3f3ff,#f2f2ff)"></i><i style="height:3px;background:linear-gradient(90deg,#ff9898,#ff9a9a,#ff9d9d,#ff9f9f,#ffa1a1,#ffa3a3,#ffa6a6,#ffa8a8,#ffaeae,#ffc5c5,#ffdcdc,#f6f6ff,#f5f5ff,#f4f4ff,#f2f2ff,#f1f1ff,#f0f0ff)"></i><i style="height:3px;background:linear-gradient(90deg,#ff9a9a,#ff9c9c,#ff9e9e,#ffa0a0,#ffa2a2,#ffa5a5,#ffa7a7,#ffa9a9,#ffb3b3,#ffc8c8,#ffdddd,#f4f4ff,#f3f3ff,#f2f2ff,#f1f1ff,#efefff,#eeeeff)"></i><i style="height:3px;background:linear-gradient(90deg,#ff9c9c,#ff9e9e,#ffa0a0,#ffa2a2,#ffa4a4,#ffa6a6,#ffa8a8,#ffa9a9,#ffb8b8,#ffcbcb,#ffdede,#f2f2ff,#f1f1ff,#f0f0ff,#efefff,#eeeeff,#ededff)"></i><i style="height:3px;background:linear-gradient(90deg,#ff9e9e,#ffa0a0,#ffa1a1,#ffa3a3,#ffa5a5,#ffa7a7,#ffa8a8,#ffabab,#ffbdbd,#ffcece,#ffdfdf,#f0f0ff,#efefff,#eeeeff,#ededff,#ececff,#ebebff)"></i><i style="height:2px;background:linear-gradient(90deg,#ff9f9f,#ffa1a1,#ffa3a3,#ffa4a4,#ffa6a6,#ffa7a7,#ffa9a9,#ffb0b0,#ffc0c0,#ffd0d0,#ffe0e0,#eeeeff,#ededff,#ececff,#ececff,#ebebff,#eaeaff)"></i><i style="height:2px;background:linear-gradient(90deg,#ffa1a1,#ffa2a2,#ffa4a4,#ffa5a5,#ffa7a7,#ffa8a8,#ffaaaa,#ffb4b4,#ffc3c3,#ffd2d2,#ffe1e1,#ededff,#ececff,#ebebff,#ebebff,#eaeaff,#e9e9ff)"></i><i style="height:2px;background:linear-gradient(90deg,#ffa2a2,#ffa3a3,#ffa4a4,#ffa6a6,#ffa7a7,#ffa9a9,#ffaaaa,#ffb8b8,#ffc5c5,#ffd3d3,#ffe1e1,#ececff,#ebebff,#eaeaff,#eaeaff,#e9e9ff,#e8e8ff)"></i><i style="height:2px;background:linear-gradient(90deg,#ffa3a3,#ffa4a4,#ffa5a5,#ffa7a7,#ffa8a8,#ffa9a9,#ffaeae,#ffbbbb,#ffc8c8,#ffd5d5,#ffe2e2,#ebebff,#eaeaff,#e9e9ff,#e9e9ff,#e8e8ff,#e7e7ff)"></i><i style="height:2px;background:linear-gradient(90deg,#ffa4a4,#ffa5a5,#ffa6a6,#ffa7a7,#ffa8a8,#ffaaaa,#ffb2b2,#ffbebe,#ffcaca,#ffd6d6,#ffe2e2,#eaeaff,#e9e9ff,#e8e8ff,#e8e8ff,#e7e7ff,#e7e7ff)"></i><i style="height:2px;background:linear-gradient(90deg,#ffa4a4,#ffa6a6,#ffa7a7,#ffa8a8,#ffa9a9,#ffabab,#ffb6b6,#ffc1c1,#ffcccc,#ffd8d8,#ffe4e4,#e9e9ff,#e8e8ff,#e8e8ff,#e7e7ff,#e6e6ff,#e6e6ff)"></i><i style="height:2px;background:linear-gradient(90deg,#ffa5a5,#ffa6a6,#ffa7a7,#ffa8a8,#ffa9a9,#ffafaf,#ffbaba,#ffc4c4,#ffcece,#ffd9d9,#ffe8e8,#e8e8ff,#e7e7ff,#e7e7ff,#e6e6ff,#e6e6ff,#e5e5ff)"></i><i style="height:2px;background:linear-gradient(90deg,#ffa6a6,#ffa7a7,#ffa8a8,#ffa9a9,#ffaaaa,#ffb4b4,#ffbdbd,#ffc7c7,#ffd0d0,#ffdada,#ffeded,#e7e7ff,#e6e6ff,#e6e6ff,#e6e6ff,#e5e5ff,#e5e5ff)"></i><i style="height:2px;background:linear-gradient(90deg,#ffa7a7,#ffa8a8,#ffa9a9,#ffaaaa,#ffafaf,#ffb8b8,#ffc1c1,#ffc9c9,#ffd2d2,#ffdbdb,#fff1f1,#e6e6ff,#e6e6ff,#e5e5ff,#e5e5ff,#e4e4ff,#e4e4ff)"></i><i style="height:2px;background:linear-gradient(90deg,#ffa8a8,#ffa9a9,#ffa9a9,#ffacac,#ffb4b4,#ffbcbc,#ffc4c4,#ffcccc,#ffd4d4,#ffdcdc,#fff5f5,#e5e5ff,#e5e5ff,#e4e4ff,#e4e4ff,#e4e4ff,#e3e3ff)"></i><i style="height:2px;background:linear-gradient(90deg,#ffa9a9,#ffa9a9,#ffaaaa,#ffb2b2,#ffb9b9,#ffc0c0,#ffc8c8,#ffcfcf,#ffd6d6,#ffdede,#fff9f9,#e4e4ff,#e4e4ff,#e4e4ff,#e3e3ff,#e3e3ff,#e2e2ff)"></i><i style="height:2px;background:linear-gradient(90deg,#ffaaaa,#ffadad,#ffb3b3,#ffbaba,#ffc0c0,#ffc6c6,#ffcccc,#ffd3d3,#ffd9d9,#ffdfdf,#ffffff,#e3e3ff,#e3e3ff,#e3e3ff,#e1e1ff,#dedeff,#dbdbff)"></i><i style="height:2px;background:linear-gradient(90deg,#ffc4c4,#ffc8c8,#ffcbcb,#ffcfcf,#ffd2d2,#ffd6d6,#ffd9d9,#ffdcdc,#ffe0e0,#ffeaea,#f2f2ff,#dedeff,#dcdcff,#d9d9ff,#d7d7ff,#d5d5ff,#d2d2ff)"></i><i style="height:2px;background:linear-gradient(90deg,#ffdede,#ffdfdf,#ffe0e0,#ffe1e1,#ffe2e2,#ffe6e6,#fff0f0,#fffafa,#fafaff,#f0f0ff,#e6e6ff,#d3d3ff,#d1d1ff,#d0d0ff,#ceceff,#cdcdff,#cbcbff)"></i><i style="height:2px;background:linear-gradient(90deg,#ffd0d0,#ffd2d2,#ffd4d4,#ffd7d7,#ffd9d9,#ffdcdc,#ffdede,#ffe0e0,#ffe3e3,#fffbfb,#ebebff,#d0d0ff,#cfcfff,#cdcdff,#cbcbff,#cacaff,#c8c8ff)"></i><i style="height:2px;background:linear-gradient(90deg,#ffc6c6,#ffc9c9,#ffcdcd,#ffd0d0,#ffd3d3,#ffd7d7,#ffdada,#ffdddd,#ffe0e0,#ffeeee,#efefff,#d0d0ff,#ceceff,#ccccff,#cbcbff,#c9c9ff,#c7c7ff)"></i><i style="height:2px;background:linear-gradient(90deg,#ffc0c0,#ffc4c4,#ffc8c8,#ffcccc,#ffd0d0,#ffd4d4,#ffd7d7,#ffdbdb,#ffdfdf,#ffe6e6,#f2f2ff,#d0d0ff,#ceceff,#ccccff,#cacaff,#c8c8ff,#c7c7ff)"></i><i style="height:2px;background:linear-gradient(90deg,#ffc0c0,#ffc4c4,#ffc8c8,#ffcccc,#ffd0d0,#ffd4d4,#ffd7d7,#ffdbdb,#ffdfdf,#ffe6e6,#f2f2ff,#cfcfff,#cdcdff,#cbcbff,#c9c9ff,#c7c7ff,#c5c5ff)"></i><i style="height:2px;background:linear-gradient(90deg,#ffc2c2,#ffc5c5,#ffc9c9,#ffcdcd,#ffd0d0,#ffd4d4,#ffd8d8,#ffdcdc,#ffdfdf,#ffe8e8,#f1f1ff,#cdcdff,#cbcbff,#c9c9ff,#c8c8ff,#c6c6ff,#c4c4ff)"></i><i style="height:2px;background:linear-gradient(90deg,#ffc3c3,#ffc7c7,#ffcaca,#ffcece,#ffd1d1,#ffd5d5,#ffd9d9,#ffdcdc,#ffe0e0,#ffeaea,#f0f0ff,#cbcbff,#cacaff,#c8c8ff,#c6c6ff,#c4c4ff,#c2c2ff)"></i><i style="height:2px;background:linear-gradient(90deg,#ffc5c5,#ffc8c8,#ffcccc,#ffcfcf,#ffd2d2,#ffd6d6,#ffd9d9,#ffdddd,#ffe0e0,#ffecec,#efefff,#cacaff,#c8c8ff,#c6c6ff,#c4c4ff,#c3c3ff,#c1c1ff)"></i><i style="height:2px;background:linear-gradient(90deg,#ffc6c6,#ffc9c9,#ffcdcd,#ffd0d0,#ffd3d3,#ffd7d7,#ffdada,#ffdddd,#ffe0e0,#ffeeee,#efefff,#c8c8ff,#c7c7ff,#c5c5ff,#c3c3ff,#c2c2ff,#c0c0ff)"></i><i style="height:2px;background:linear-gradient(90deg,#ffc7c7,#ffcaca,#ffcdcd,#ffd1d1,#ffd4d4,#ffd7d7,#ffdada,#ffdddd,#ffe1e1,#ffefef,#eeeeff,#c7c7ff,#c6c6ff,#c4c4ff,#c2c2ff,#c1c1ff,#bfbfff)"></i><i style="height:2px;background:linear-gradient(90deg,#ffc7c7,#ffcbcb,#ffcece,#ffd1d1,#ffd4d4,#ffd7d7,#ffdada,#ffdede,#ffe1e1,#fff0f0,#eeeeff,#c7c7ff,#c5c5ff,#c3c3ff,#c2c2ff,#c0c0ff,#bfbfff)"></i><i style="height:2px;background:linear-gradient(90deg,#ffc7c7,#ffcaca,#ffcece,#ffd1d1,#ffd4d4,#ffd7d7,#ffdada,#ffdede,#ffe1e1,#fff0f0,#eeeeff,#c7c7ff,#c5c5ff,#c3c3ff,#c2c2ff,#c0c0ff,#bfbfff)"></i><i style="height:2px;background:linear-gradient(90deg,#ffc7c7,#ffcaca,#ffcdcd,#ffd0d0,#ffd4d4,#ffd7d7,#ffdada,#ffdddd,#ffe1e1,#ffefef,#eeeeff,#c7c7ff,#c6c6ff,#c4c4ff,#c2c2ff,#c1c1ff,#bfbfff)"></i><i style="height:2px;background:linear-gradient(90deg,#ffc5c5,#ffc8c8,#ffcccc,#ffcfcf,#ffd2d2,#ffd6d6,#ffd9d9,#ffdddd,#ffe0e0,#ffecec,#efefff,#c9c9ff,#c7c7ff,#c6c6ff,#c4c4ff,#c2c2ff,#c0c0ff)"></i><i style="height:2px;background:linear-gradient(90deg,#ffc1c1,#ffc5c5,#ffc9c9,#ffcccc,#ffd0d0,#ffd4d4,#ffd8d8,#ffdcdc,#ffdfdf,#ffe7e7,#f1f1ff,#cdcdff,#cbcbff,#c9c9ff,#c7c7ff,#c5c5ff,#c3c3ff)"></i><i style="height:2px;background:linear-gradient(90deg,#ffbbbb,#ffbfbf,#ffc4c4,#ffc8c8,#ffcdcd,#ffd1d1,#ffd5d5,#ffdada,#ffdede,#ffe2e2,#f4f4ff,#d3d3ff,#d1d1ff,#ceceff,#ccccff,#cacaff,#c8c8ff)"></i><i style="height:1px;background:linear-gradient(90deg,#ffb3b3,#ffb8b8,#ffbdbd,#ffc2c2,#ffc8c8,#ffcdcd,#ffd2d2,#ffd7d7,#ffdcdc,#ffe1e1,#f8f8ff,#dbdbff,#d8d8ff,#d6d6ff,#d3d3ff,#d0d0ff,#ceceff)"></i><i style="height:1px;background:linear-gradient(90deg,#ffaeae,#ffb4b4,#ffb9b9,#ffbfbf,#ffc4c4,#ffcaca,#ffcfcf,#ffd5d5,#ffdbdb,#ffe0e0,#fbfbff,#e0e0ff,#dedeff,#dbdbff,#d8d8ff,#d5d5ff,#d2d2ff)"></i><i style="height:1px;background:linear-gradient(90deg,#ffa9a9,#ffa9a9,#ffabab,#ffb2b2,#ffbaba,#ffc1c1,#ffc8c8,#ffcfcf,#ffd6d6,#ffdede,#fffafa,#e4e4ff,#e4e4ff,#e3e3ff,#e3e3ff,#e3e3ff,#dfdfff)"></i><i style="height:1px;background:linear-gradient(90deg,#ffa7a7,#ffa8a8,#ffa9a9,#ffaaaa,#ffafaf,#ffb8b8,#ffc0c0,#ffc9c9,#ffd2d2,#ffdbdb,#fff1f1,#e6e6ff,#e6e6ff,#e5e5ff,#e5e5ff,#e4e4ff,#e4e4ff)"></i><i style="height:1px;background:linear-gradient(90deg,#ffa5a5,#ffa6a6,#ffa7a7,#ffa8a8,#ffa9a9,#ffaeae,#ffb9b9,#ffc3c3,#ffcece,#ffd9d9,#ffe7e7,#e8e8ff,#e7e7ff,#e7e7ff,#e6e6ff,#e6e6ff,#e5e5ff)"></i><i style="height:1px;background:linear-gradient(90deg,#ff6b6b,#ff6c6c,#ff6d6d,#ff6e6e,#ff7070,#ff7171,#ff7979,#ff8585,#ff9191,#ff9d9d,#ffaaaa,#ffdcdc,#ffdcdc,#ffdddd,#ffdede,#ffdede,#ffdfdf)"></i><i style="height:0.5px;background:linear-gradient(90deg,#ff6262,#ff6464,#ff6666,#ff6868,#ff6a6a,#ff6c6c,#ff6e6e,#ff7070,#ff7c7c,#ff9090,#ffa5a5,#ffd3d3,#ffd4d4,#ffd5d5,#ffd6d6,#ffd7d7,#ffd8d8)"></i></div><div class="h" style="left:261.5px;top:393px;width:266.5px;height:272.2px"><i style="height:3px;background:linear-gradient(90deg,#ffb6b6,#ffcaca,#ffd2d2,#ffd6d6,#ffd9d9,#ffdcdc,#ffdddd,#ffdfdf,#ffe0e0,#ffe0e0,#ffe1e1,#ffe2e2,#ffe2e2,#ffe3e3,#ffe7e7,#ffeaea,#ffeded,#fff0f0,#fff2f2,#fff4f4,#fff6f6,#fff8f8,#fffafa,#fffbfb,#fffcfc,#fffefe,#ffffff,#fefeff,#fdfdff,#fcfcff,#fbfbff,#fafaff,#f9f9ff,#f9f9ff)"></i><i style="height:3px;background:linear-gradient(90deg,#ffb7b7,#ffcaca,#ffd2d2,#ffd7d7,#ffdada,#ffdcdc,#ffdede,#ffdfdf,#ffe0e0,#ffe1e1,#ffe1e1,#ffe2e2,#ffe2e2,#ffe4e4,#ffe8e8,#ffebeb,#ffeeee,#fff1f1,#fff3f3,#fff5f5,#fff7f7,#fff9f9,#fffafa,#fffcfc,#fffdfd,#fffefe,#fefeff,#fdfdff,#fcfcff,#fbfbff,#fafaff,#fafaff,#f9f9ff,#f8f8ff)"></i><i style="height:3px;background:linear-gradient(90deg,#ffb8b8,#ffcbcb,#ffd3d3,#ffd7d7,#ffdada,#ffdcdc,#ffdede,#ffdfdf,#ffe0e0,#ffe1e1,#ffe1e1,#ffe2e2,#ffe3e3,#ffe5e5,#ffe9e9,#ffecec,#ffefef,#fff2f2,#fff4f4,#fff6f6,#fff8f8,#fffafa,#fffbfb,#fffdfd,#fffefe,#ffffff,#fefeff,#fdfdff,#fcfcff,#fbfbff,#fafaff,#f9f9ff,#f8f8ff,#f8f8ff)"></i><i style="height:3px;background:linear-gradient(90deg,#ffb9b9,#ffcccc,#ffd3d3,#ffd7d7,#ffdada,#ffdcdc,#ffdede,#ffdfdf,#ffe0e0,#ffe1e1,#ffe2e2,#ffe2e2,#ffe3e3,#ffe7e7,#ffeaea,#ffeded,#fff0f0,#fff3f3,#fff5f5,#fff7f7,#fff9f9,#fffafa,#fffcfc,#fffdfd,#ffffff,#fefeff,#fdfdff,#fcfcff,#fbfbff,#fafaff,#f9f9ff,#f9f9ff,#f8f8ff,#f7f7ff)"></i><i style="height:3px;background:linear-gradient(90deg,#ffbaba,#ffcccc,#ffd4d4,#ffd8d8,#ffdbdb,#ffdddd,#ffdede,#ffdfdf,#ffe0e0,#ffe1e1,#ffe2e2,#ffe2e2,#ffe4e4,#ffe8e8,#ffebeb,#ffeeee,#fff1f1,#fff4f4,#fff6f6,#fff8f8,#fffafa,#fffbfb,#fffdfd,#fffefe,#ffffff,#fdfdff,#fcfcff,#fbfbff,#fafaff,#fafaff,#f9f9ff,#f8f8ff,#f7f7ff,#f7f7ff)"></i><i style="height:3px;background:linear-gradient(90deg,#ffbbbb,#ffcdcd,#ffd4d4,#ffd8d8,#ffdbdb,#ffdddd,#ffdede,#ffe0e0,#ffe1e1,#ffe1e1,#ffe2e2,#ffe2e2,#ffe5e5,#ffe9e9,#ffecec,#ffefef,#fff2f2,#fff5f5,#fff7f7,#fff9f9,#fffafa,#fffcfc,#fffefe,#ffffff,#fefeff,#fdfdff,#fcfcff,#fbfbff,#fafaff,#f9f9ff,#f8f8ff,#f7f7ff,#f7f7ff,#f6f6ff)"></i><i style="height:3px;background:linear-gradient(90deg,#ffbcbc,#ffcdcd,#ffd4d4,#ffd8d8,#ffdbdb,#ffdddd,#ffdfdf,#ffe0e0,#ffe1e1,#ffe1e1,#ffe2e2,#ffe3e3,#ffe6e6,#ffeaea,#ffeeee,#fff1f1,#fff3f3,#fff5f5,#fff8f8,#fffafa,#fffbfb,#fffdfd,#fffefe,#fefeff,#fdfdff,#fcfcff,#fbfbff,#fafaff,#f9f9ff,#f8f8ff,#f8f8ff,#f7f7ff,#f6f6ff,#f6f6ff)"></i><i style="height:3px;background:linear-gradient(90deg,#ffbdbd,#ffcece,#ffd5d5,#ffd9d9,#ffdcdc,#ffdede,#ffdfdf,#ffe0e0,#ffe1e1,#ffe2e2,#ffe2e2,#ffe3e3,#ffe8e8,#ffebeb,#ffefef,#fff2f2,#fff4f4,#fff6f6,#fff9f9,#fffafa,#fffcfc,#fffefe,#ffffff,#fefeff,#fdfdff,#fbfbff,#fafaff,#f9f9ff,#f9f9ff,#f8f8ff,#f7f7ff,#f6f6ff,#f6f6ff,#f5f5ff)"></i><i style="height:3px;background:linear-gradient(90deg,#ffbebe,#ffcfcf,#ffd5d5,#ffd9d9,#ffdcdc,#ffdede,#ffdfdf,#ffe0e0,#ffe1e1,#ffe2e2,#ffe2e2,#ffe5e5,#ffe9e9,#ffeded,#fff0f0,#fff3f3,#fff5f5,#fff7f7,#fff9f9,#fffbfb,#fffdfd,#fffefe,#fefeff,#fdfdff,#fcfcff,#fbfbff,#fafaff,#f9f9ff,#f8f8ff,#f7f7ff,#f6f6ff,#f6f6ff,#f5f5ff,#f5f5ff)"></i><i style="height:3px;background:linear-gradient(90deg,#ffbfbf,#ffcfcf,#ffd6d6,#ffd9d9,#ffdcdc,#ffdede,#ffdfdf,#ffe0e0,#ffe1e1,#ffe2e2,#ffe3e3,#ffe6e6,#ffeaea,#ffeeee,#fff1f1,#fff4f4,#fff6f6,#fff8f8,#fffafa,#fffcfc,#fffefe,#ffffff,#fefeff,#fcfcff,#fbfbff,#fafaff,#f9f9ff,#f8f8ff,#f7f7ff,#f7f7ff,#f6f6ff,#f5f5ff,#f5f5ff,#f4f4ff)"></i><i style="height:3px;background:linear-gradient(90deg,#ffc0c0,#ffd0d0,#ffd6d6,#ffdada,#ffdcdc,#ffdede,#ffe0e0,#ffe1e1,#ffe1e1,#ffe2e2,#ffe3e3,#ffe7e7,#ffebeb,#ffefef,#fff2f2,#fff5f5,#fff7f7,#fff9f9,#fffbfb,#fffdfd,#fffefe,#fefeff,#fdfdff,#fcfcff,#fbfbff,#f9f9ff,#f9f9ff,#f8f8ff,#f7f7ff,#f6f6ff,#f5f5ff,#f5f5ff,#f4f4ff,#f4f4ff)"></i><i style="height:3px;background:linear-gradient(90deg,#ffc1c1,#ffd0d0,#ffd7d7,#ffdada,#ffdddd,#ffdfdf,#ffe0e0,#ffe1e1,#ffe2e2,#ffe2e2,#ffe4e4,#ffe9e9,#ffeded,#fff0f0,#fff3f3,#fff6f6,#fff8f8,#fffafa,#fffcfc,#fffefe,#ffffff,#fdfdff,#fcfcff,#fbfbff,#fafaff,#f9f9ff,#f8f8ff,#f7f7ff,#f6f6ff,#f6f6ff,#f5f5ff,#f4f4ff,#f4f4ff,#f3f3ff)"></i><i style="height:3px;background:linear-gradient(90deg,#ffc2c2,#ffd1d1,#ffd7d7,#ffdada,#ffdddd,#ffdfdf,#ffe0e0,#ffe1e1,#ffe2e2,#ffe2e2,#ffe5e5,#ffeaea,#ffeeee,#fff1f1,#fff4f4,#fff7f7,#fff9f9,#fffbfb,#fffdfd,#ffffff,#fefeff,#fdfdff,#fbfbff,#fafaff,#f9f9ff,#f8f8ff,#f7f7ff,#f6f6ff,#f6f6ff,#f5f5ff,#f4f4ff,#f4f4ff,#f3f3ff,#f3f3ff)"></i><i style="height:3px;background:linear-gradient(90deg,#ffc3c3,#ffd2d2,#ffd7d7,#ffdbdb,#ffdddd,#ffdfdf,#ffe0e0,#ffe1e1,#ffe2e2,#ffe3e3,#ffe7e7,#ffebeb,#ffefef,#fff2f2,#fff5f5,#fff8f8,#fffafa,#fffcfc,#fffefe,#ffffff,#fdfdff,#fcfcff,#fbfbff,#fafaff,#f9f9ff,#f8f8ff,#f7f7ff,#f6f6ff,#f5f5ff,#f4f4ff,#f4f4ff,#f3f3ff,#f3f3ff,#f2f2ff)"></i><i style="height:3px;background:linear-gradient(90deg,#ffc4c4,#ffd2d2,#ffd8d8,#ffdbdb,#ffdede,#ffdfdf,#ffe0e0,#ffe1e1,#ffe2e2,#ffe3e3,#ffe8e8,#ffecec,#fff0f0,#fff3f3,#fff6f6,#fff9f9,#fffbfb,#fffdfd,#ffffff,#fefeff,#fcfcff,#fbfbff,#fafaff,#f9f9ff,#f8f8ff,#f7f7ff,#f6f6ff,#f5f5ff,#f5f5ff,#f4f4ff,#f3f3ff,#f3f3ff,#f2f2ff,#f2f2ff)"></i><i style="height:3px;background:linear-gradient(90deg,#ffc5c5,#ffd3d3,#ffd8d8,#ffdcdc,#ffdede,#ffdfdf,#ffe1e1,#ffe2e2,#ffe2e2,#ffe5e5,#ffeaea,#ffeeee,#fff1f1,#fff4f4,#fff7f7,#fffafa,#fffcfc,#fffefe,#ffffff,#fdfdff,#fcfcff,#fafaff,#f9f9ff,#f8f8ff,#f7f7ff,#f6f6ff,#f6f6ff,#f5f5ff,#f4f4ff,#f3f3ff,#f3f3ff,#f2f2ff,#f2f2ff,#f1f1ff)"></i><i style="height:3px;background:linear-gradient(90deg,#ffc6c6,#ffd3d3,#ffd9d9,#ffdcdc,#ffdede,#ffe0e0,#ffe1e1,#ffe2e2,#ffe2e2,#ffe6e6,#ffebeb,#ffefef,#fff3f3,#fff6f6,#fff8f8,#fffbfb,#fffdfd,#fffefe,#fefeff,#fcfcff,#fbfbff,#fafaff,#f9f9ff,#f8f8ff,#f7f7ff,#f6f6ff,#f5f5ff,#f4f4ff,#f4f4ff,#f3f3ff,#f2f2ff,#f2f2ff,#f1f1ff,#f1f1ff)"></i><i style="height:3px;background:linear-gradient(90deg,#ffc6c6,#ffd4d4,#ffd9d9,#ffdcdc,#ffdede,#ffe0e0,#ffe1e1,#ffe2e2,#ffe3e3,#ffe8e8,#ffecec,#fff0f0,#fff4f4,#fff7f7,#fff9f9,#fffcfc,#fffefe,#ffffff,#fdfdff,#fcfcff,#fafaff,#f9f9ff,#f8f8ff,#f7f7ff,#f6f6ff,#f5f5ff,#f4f4ff,#f4f4ff,#f3f3ff,#f2f2ff,#f2f2ff,#f1f1ff,#f1f1ff,#f0f0ff)"></i><i style="height:3px;background:linear-gradient(90deg,#ffc7c7,#ffd4d4,#ffdada,#ffdcdc,#ffdfdf,#ffe0e0,#ffe1e1,#ffe2e2,#ffe3e3,#ffe9e9,#ffeeee,#fff1f1,#fff5f5,#fff8f8,#fffafa,#fffcfc,#fffefe,#fefeff,#fcfcff,#fbfbff,#fafaff,#f8f8ff,#f7f7ff,#f6f6ff,#f5f5ff,#f5f5ff,#f4f4ff,#f3f3ff,#f2f2ff,#f2f2ff,#f1f1ff,#f1f1ff,#f0f0ff,#f0f0ff)"></i><i style="height:3px;background:linear-gradient(90deg,#ffc8c8,#ffd5d5,#ffdada,#ffdddd,#ffdfdf,#ffe0e0,#ffe1e1,#ffe2e2,#ffe5e5,#ffeaea,#ffefef,#fff3f3,#fff6f6,#fff9f9,#fffbfb,#fffdfd,#ffffff,#fdfdff,#fbfbff,#fafaff,#f9f9ff,#f8f8ff,#f7f7ff,#f6f6ff,#f5f5ff,#f4f4ff,#f3f3ff,#f3f3ff,#f2f2ff,#f1f1ff,#f1f1ff,#f0f0ff,#f0f0ff,#efefff)"></i><i style="height:3px;background:linear-gradient(90deg,#ffc9c9,#ffd5d5,#ffdada,#ffdddd,#ffdfdf,#ffe1e1,#ffe2e2,#ffe2e2,#ffe7e7,#ffecec,#fff0f0,#fff4f4,#fff7f7,#fffafa,#fffcfc,#fffefe,#fefeff,#fcfcff,#fbfbff,#f9f9ff,#f8f8ff,#f7f7ff,#f6f6ff,#f5f5ff,#f4f4ff,#f3f3ff,#f3f3ff,#f2f2ff,#f1f1ff,#f1f1ff,#f0f0ff,#f0f0ff,#efefff,#efefff)"></i><i style="height:3px;background:linear-gradient(90deg,#ffcaca,#ffd6d6,#ffdbdb,#ffdddd,#ffdfdf,#ffe1e1,#ffe2e2,#ffe3e3,#ffe8e8,#ffeded,#fff1f1,#fff5f5,#fff8f8,#fffbfb,#fffdfd,#ffffff,#fdfdff,#fbfbff,#fafaff,#f9f9ff,#f7f7ff,#f6f6ff,#f5f5ff,#f4f4ff,#f4f4ff,#f3f3ff,#f2f2ff,#f2f2ff,#f1f1ff,#f0f0ff,#f0f0ff,#efefff,#efefff,#eeeeff)"></i><i style="height:3px;background:linear-gradient(90deg,#ffcbcb,#ffd6d6,#ffdbdb,#ffdede,#ffe0e0,#ffe1e1,#ffe2e2,#ffe3e3,#ffeaea,#ffefef,#fff3f3,#fff6f6,#fff9f9,#fffcfc,#fffefe,#fefeff,#fcfcff,#fbfbff,#f9f9ff,#f8f8ff,#f7f7ff,#f6f6ff,#f5f5ff,#f4f4ff,#f3f3ff,#f2f2ff,#f2f2ff,#f1f1ff,#f0f0ff,#f0f0ff,#efefff,#efefff,#eeeeff,#eeeeff)"></i><i style="height:3px;background:linear-gradient(90deg,#ffcccc,#ffd7d7,#ffdbdb,#ffdede,#ffe0e0,#ffe1e1,#ffe2e2,#ffe5e5,#ffebeb,#fff0f0,#fff4f4,#fff7f7,#fffafa,#fffdfd,#ffffff,#fdfdff,#fbfbff,#fafaff,#f8f8ff,#f7f7ff,#f6f6ff,#f5f5ff,#f4f4ff,#f3f3ff,#f2f2ff,#f2f2ff,#f1f1ff,#f0f0ff,#f0f0ff,#efefff,#efefff,#eeeeff,#eeeeff,#eeeeff)"></i><i style="height:3px;background:linear-gradient(90deg,#ffcccc,#ffd7d7,#ffdcdc,#ffdede,#ffe0e0,#ffe1e1,#ffe2e2,#ffe7e7,#ffeded,#fff1f1,#fff5f5,#fff9f9,#fffbfb,#fffefe,#fefeff,#fcfcff,#fafaff,#f9f9ff,#f8f8ff,#f6f6ff,#f5f5ff,#f4f4ff,#f3f3ff,#f3f3ff,#f2f2ff,#f1f1ff,#f1f1ff,#f0f0ff,#efefff,#efefff,#eeeeff,#eeeeff,#eeeeff,#ededff)"></i><i style="height:3px;background:linear-gradient(90deg,#ffcdcd,#ffd8d8,#ffdcdc,#ffdfdf,#ffe0e0,#ffe2e2,#ffe3e3,#ffe8e8,#ffeeee,#fff3f3,#fff6f6,#fffafa,#fffdfd,#ffffff,#fdfdff,#fbfbff,#fafaff,#f8f8ff,#f7f7ff,#f6f6ff,#f5f5ff,#f4f4ff,#f3f3ff,#f2f2ff,#f1f1ff,#f1f1ff,#f0f0ff,#efefff,#efefff,#eeeeff,#eeeeff,#eeeeff,#ededff,#ededff)"></i><i style="height:3px;background:linear-gradient(90deg,#ffcece,#ffd8d8,#ffdddd,#ffdfdf,#ffe1e1,#ffe2e2,#ffe3e3,#ffeaea,#fff0f0,#fff4f4,#fff8f8,#fffbfb,#fffefe,#fefeff,#fcfcff,#fafaff,#f9f9ff,#f7f7ff,#f6f6ff,#f5f5ff,#f4f4ff,#f3f3ff,#f2f2ff,#f1f1ff,#f1f1ff,#f0f0ff,#f0f0ff,#efefff,#eeeeff,#eeeeff,#eeeeff,#ededff,#ededff,#ececff)"></i><i style="height:3px;background:linear-gradient(90deg,#ffcfcf,#ffd9d9,#ffdddd,#ffdfdf,#ffe1e1,#ffe2e2,#ffe5e5,#ffecec,#fff1f1,#fff5f5,#fff9f9,#fffcfc,#ffffff,#fdfdff,#fbfbff,#fafaff,#f8f8ff,#f7f7ff,#f5f5ff,#f4f4ff,#f3f3ff,#f2f2ff,#f2f2ff,#f1f1ff,#f0f0ff,#f0f0ff,#efefff,#eeeeff,#eeeeff,#ededff,#ededff,#ededff,#ececff,#ececff)"></i><i style="height:3px;background:linear-gradient(90deg,#ffd0d0,#ffd9d9,#ffdddd,#ffe0e0,#ffe1e1,#ffe2e2,#ffe7e7,#ffeded,#fff2f2,#fff7f7,#fffafa,#fffdfd,#fefeff,#fcfcff,#fafaff,#f9f9ff,#f7f7ff,#f6f6ff,#f5f5ff,#f4f4ff,#f3f3ff,#f2f2ff,#f1f1ff,#f0f0ff,#f0f0ff,#efefff,#eeeeff,#eeeeff,#ededff,#ededff,#ededff,#ececff,#ececff,#ececff)"></i><i style="height:3px;background:linear-gradient(90deg,#ffd0d0,#ffdada,#ffdede,#ffe0e0,#ffe1e1,#ffe2e2,#ffe9e9,#ffefef,#fff4f4,#fff8f8,#fffbfb,#fffefe,#fdfdff,#fbfbff,#fafaff,#f8f8ff,#f6f6ff,#f5f5ff,#f4f4ff,#f3f3ff,#f2f2ff,#f1f1ff,#f0f0ff,#f0f0ff,#efefff,#efefff,#eeeeff,#eeeeff,#ededff,#ededff,#ececff,#ececff,#ebebff,#ebebff)"></i><i style="height:3px;background:linear-gradient(90deg,#ffd1d1,#ffdada,#ffdede,#ffe0e0,#ffe2e2,#ffe3e3,#ffeaea,#fff0f0,#fff5f5,#fff9f9,#fffcfc,#ffffff,#fcfcff,#fafaff,#f9f9ff,#f7f7ff,#f6f6ff,#f4f4ff,#f3f3ff,#f2f2ff,#f1f1ff,#f1f1ff,#f0f0ff,#efefff,#efefff,#eeeeff,#eeeeff,#ededff,#ededff,#ececff,#ececff,#ebebff,#ebebff,#ebebff)"></i><i style="height:3px;background:linear-gradient(90deg,#ffd2d2,#ffdbdb,#ffdede,#ffe0e0,#ffe2e2,#ffe5e5,#ffecec,#fff2f2,#fff7f7,#fffafa,#fffefe,#fefeff,#fbfbff,#fafaff,#f8f8ff,#f6f6ff,#f5f5ff,#f4f4ff,#f3f3ff,#f2f2ff,#f1f1ff,#f0f0ff,#efefff,#efefff,#eeeeff,#eeeeff,#ededff,#ededff,#ececff,#ececff,#ebebff,#ebebff,#ebebff,#eaeaff)"></i><i style="height:3px;background:linear-gradient(90deg,#ffd3d3,#ffdbdb,#ffdfdf,#ffe1e1,#ffe2e2,#ffe7e7,#ffeeee,#fff3f3,#fff8f8,#fffcfc,#ffffff,#fdfdff,#fafaff,#f9f9ff,#f7f7ff,#f5f5ff,#f4f4ff,#f3f3ff,#f2f2ff,#f1f1ff,#f0f0ff,#efefff,#efefff,#eeeeff,#eeeeff,#ededff,#ededff,#ececff,#ececff,#ebebff,#ebebff,#ebebff,#eaeaff,#eaeaff)"></i><i style="height:3px;background:linear-gradient(90deg,#ffd3d3,#ffdcdc,#ffdfdf,#ffe1e1,#ffe2e2,#ffe9e9,#ffefef,#fff5f5,#fff9f9,#fffdfd,#fefeff,#fcfcff,#fafaff,#f8f8ff,#f6f6ff,#f5f5ff,#f3f3ff,#f2f2ff,#f1f1ff,#f0f0ff,#f0f0ff,#efefff,#eeeeff,#eeeeff,#ededff,#ededff,#ececff,#ececff,#ebebff,#ebebff,#ebebff,#eaeaff,#eaeaff,#eaeaff)"></i><i style="height:3px;background:linear-gradient(90deg,#ffd4d4,#ffdcdc,#ffdfdf,#ffe1e1,#ffe2e2,#ffeaea,#fff1f1,#fff6f6,#fffbfb,#fffefe,#fdfdff,#fbfbff,#f9f9ff,#f7f7ff,#f5f5ff,#f4f4ff,#f3f3ff,#f2f2ff,#f1f1ff,#f0f0ff,#efefff,#eeeeff,#eeeeff,#ededff,#ededff,#ececff,#ececff,#ebebff,#ebebff,#eaeaff,#eaeaff,#eaeaff,#eaeaff,#e9e9ff)"></i><i style="height:3px;background:linear-gradient(90deg,#ffd5d5,#ffdcdc,#ffe0e0,#ffe1e1,#ffe3e3,#ffecec,#fff3f3,#fff8f8,#fffcfc,#ffffff,#fcfcff,#fafaff,#f8f8ff,#f6f6ff,#f4f4ff,#f3f3ff,#f2f2ff,#f1f1ff,#f0f0ff,#efefff,#eeeeff,#eeeeff,#ededff,#ededff,#ececff,#ececff,#ebebff,#ebebff,#eaeaff,#eaeaff,#eaeaff,#e9e9ff,#e9e9ff,#e9e9ff)"></i><i style="height:3px;background:linear-gradient(90deg,#ffd5d5,#ffdddd,#ffe0e0,#ffe2e2,#ffe5e5,#ffeeee,#fff4f4,#fff9f9,#fffdfd,#fefeff,#fbfbff,#f9f9ff,#f7f7ff,#f5f5ff,#f4f4ff,#f2f2ff,#f1f1ff,#f0f0ff,#efefff,#efefff,#eeeeff,#ededff,#ededff,#ececff,#ececff,#ebebff,#ebebff,#eaeaff,#eaeaff,#eaeaff,#e9e9ff,#e9e9ff,#e9e9ff,#e9e9ff)"></i><i style="height:3px;background:linear-gradient(90deg,#ffd6d6,#ffdddd,#ffe0e0,#ffe2e2,#ffe7e7,#fff0f0,#fff6f6,#fffbfb,#fffefe,#fcfcff,#fafaff,#f8f8ff,#f6f6ff,#f4f4ff,#f3f3ff,#f2f2ff,#f1f1ff,#f0f0ff,#efefff,#eeeeff,#ededff,#ededff,#ececff,#ececff,#ebebff,#ebebff,#eaeaff,#eaeaff,#eaeaff,#e9e9ff,#e9e9ff,#e9e9ff,#e8e8ff,#e8e8ff)"></i><i style="height:3px;background:linear-gradient(90deg,#ffd7d7,#ffdede,#ffe1e1,#ffe2e2,#ffe9e9,#fff2f2,#fff7f7,#fffcfc,#fefeff,#fbfbff,#f9f9ff,#f7f7ff,#f5f5ff,#f3f3ff,#f2f2ff,#f1f1ff,#f0f0ff,#efefff,#eeeeff,#ededff,#ededff,#ececff,#ececff,#ebebff,#ebebff,#eaeaff,#eaeaff,#e9e9ff,#e9e9ff,#e9e9ff,#e9e9ff,#e8e8ff,#e8e8ff,#e8e8ff)"></i><i style="height:3px;background:linear-gradient(90deg,#ffd7d7,#ffdede,#ffe1e1,#ffe2e2,#ffebeb,#fff3f3,#fff9f9,#fffdfd,#fdfdff,#fafaff,#f8f8ff,#f6f6ff,#f4f4ff,#f3f3ff,#f1f1ff,#f0f0ff,#efefff,#eeeeff,#eeeeff,#ededff,#ececff,#ececff,#ebebff,#ebebff,#eaeaff,#eaeaff,#e9e9ff,#e9e9ff,#e9e9ff,#e8e8ff,#e8e8ff,#e8e8ff,#e8e8ff,#e7e7ff)"></i><i style="height:3px;background:linear-gradient(90deg,#ffd8d8,#ffdfdf,#ffe1e1,#ffe3e3,#ffeeee,#fff5f5,#fffafa,#ffffff,#fcfcff,#f9f9ff,#f7f7ff,#f5f5ff,#f3f3ff,#f2f2ff,#f1f1ff,#efefff,#efefff,#eeeeff,#ededff,#ececff,#ececff,#ebebff,#ebebff,#eaeaff,#eaeaff,#e9e9ff,#e9e9ff,#e9e9ff,#e8e8ff,#e8e8ff,#e8e8ff,#e8e8ff,#e7e7ff,#e7e7ff)"></i><i style="height:3px;background:linear-gradient(90deg,#ffd9d9,#ffdfdf,#ffe1e1,#ffe5e5,#fff0f0,#fff7f7,#fffcfc,#fefeff,#fbfbff,#f8f8ff,#f6f6ff,#f4f4ff,#f2f2ff,#f1f1ff,#f0f0ff,#efefff,#eeeeff,#ededff,#ececff,#ececff,#ebebff,#ebebff,#eaeaff,#eaeaff,#e9e9ff,#e9e9ff,#e9e9ff,#e8e8ff,#e8e8ff,#e8e8ff,#e7e7ff,#e7e7ff,#e7e7ff,#e7e7ff)"></i><i style="height:3px;background:linear-gradient(90deg,#ffd9d9,#ffdfdf,#ffe2e2,#ffe8e8,#fff2f2,#fff9f9,#fffdfd,#fdfdff,#f9f9ff,#f7f7ff,#f5f5ff,#f3f3ff,#f2f2ff,#f0f0ff,#efefff,#eeeeff,#ededff,#ececff,#ececff,#ebebff,#ebebff,#eaeaff,#eaeaff,#e9e9ff,#e9e9ff,#e8e8ff,#e8e8ff,#e8e8ff,#e8e8ff,#e7e7ff,#e7e7ff,#e7e7ff,#e7e7ff,#e6e6ff)"></i><i style="height:3px;background:linear-gradient(90deg,#ffdada,#ffe0e0,#ffe2e2,#ffeaea,#fff3f3,#fffafa,#ffffff,#fbfbff,#f8f8ff,#f6f6ff,#f4f4ff,#f2f2ff,#f1f1ff,#efefff,#eeeeff,#ededff,#ededff,#ececff,#ebebff,#ebebff,#eaeaff,#eaeaff,#e9e9ff,#e9e9ff,#e8e8ff,#e8e8ff,#e8e8ff,#e7e7ff,#e7e7ff,#e7e7ff,#e7e7ff,#e7e7ff,#e6e6ff,#e6e6ff)"></i><i style="height:3px;background:linear-gradient(90deg,#ffdbdb,#ffe0e0,#ffe2e2,#ffecec,#fff5f5,#fffcfc,#fefeff,#fafaff,#f7f7ff,#f5f5ff,#f3f3ff,#f1f1ff,#f0f0ff,#efefff,#eeeeff,#ededff,#ececff,#ebebff,#ebebff,#eaeaff,#eaeaff,#e9e9ff,#e9e9ff,#e8e8ff,#e8e8ff,#e8e8ff,#e7e7ff,#e7e7ff,#e7e7ff,#e7e7ff,#e6e6ff,#e6e6ff,#e6e6ff,#e6e6ff)"></i><i style="height:3px;background:linear-gradient(90deg,#ffdbdb,#ffe1e1,#ffe3e3,#ffefef,#fff7f7,#fffefe,#fcfcff,#f9f9ff,#f6f6ff,#f4f4ff,#f2f2ff,#f0f0ff,#efefff,#eeeeff,#ededff,#ececff,#ebebff,#ebebff,#eaeaff,#eaeaff,#e9e9ff,#e9e9ff,#e8e8ff,#e8e8ff,#e8e8ff,#e7e7ff,#e7e7ff,#e7e7ff,#e6e6ff,#e6e6ff,#e6e6ff,#e6e6ff,#e6e6ff,#e6e6ff)"></i><i style="height:3px;background:linear-gradient(90deg,#ffdcdc,#ffe1e1,#ffe5e5,#fff1f1,#fff9f9,#ffffff,#fbfbff,#f8f8ff,#f5f5ff,#f3f3ff,#f1f1ff,#f0f0ff,#eeeeff,#ededff,#ececff,#ebebff,#ebebff,#eaeaff,#eaeaff,#e9e9ff,#e9e9ff,#e8e8ff,#e8e8ff,#e7e7ff,#e7e7ff,#e7e7ff,#e7e7ff,#e6e6ff,#e6e6ff,#e6e6ff,#e6e6ff,#e6e6ff,#e5e5ff,#e5e5ff)"></i><i style="height:3px;background:linear-gradient(90deg,#ffdcdc,#ffe1e1,#ffe8e8,#fff3f3,#fffbfb,#fdfdff,#f9f9ff,#f6f6ff,#f4f4ff,#f2f2ff,#f0f0ff,#efefff,#ededff,#ececff,#ececff,#ebebff,#eaeaff,#eaeaff,#e9e9ff,#e8e8ff,#e8e8ff,#e8e8ff,#e7e7ff,#e7e7ff,#e7e7ff,#e6e6ff,#e6e6ff,#e6e6ff,#e6e6ff,#e6e6ff,#e5e5ff,#e5e5ff,#e5e5ff,#e5e5ff)"></i><i style="height:3px;background:linear-gradient(90deg,#ffdddd,#ffe2e2,#ffebeb,#fff5f5,#fffdfd,#fcfcff,#f8f8ff,#f5f5ff,#f3f3ff,#f1f1ff,#efefff,#eeeeff,#ededff,#ececff,#ebebff,#eaeaff,#eaeaff,#e9e9ff,#e8e8ff,#e8e8ff,#e8e8ff,#e7e7ff,#e7e7ff,#e7e7ff,#e6e6ff,#e6e6ff,#e6e6ff,#e6e6ff,#e5e5ff,#e5e5ff,#e5e5ff,#e5e5ff,#e5e5ff,#e5e5ff)"></i><i style="height:3px;background:linear-gradient(90deg,#ffdede,#ffe2e2,#ffeded,#fff7f7,#ffffff,#fafaff,#f7f7ff,#f4f4ff,#f2f2ff,#f0f0ff,#eeeeff,#ededff,#ececff,#ebebff,#eaeaff,#eaeaff,#e9e9ff,#e8e8ff,#e8e8ff,#e7e7ff,#e7e7ff,#e7e7ff,#e6e6ff,#e6e6ff,#e6e6ff,#e6e6ff,#e5e5ff,#e5e5ff,#e5e5ff,#e5e5ff,#e5e5ff,#e5e5ff,#e4e4ff,#e4e4ff)"></i><i style="height:3px;background:linear-gradient(90deg,#ffdede,#ffe2e2,#fff0f0,#fff9f9,#fefeff,#f9f9ff,#f6f6ff,#f3f3ff,#f1f1ff,#efefff,#eeeeff,#ececff,#ebebff,#eaeaff,#eaeaff,#e9e9ff,#e8e8ff,#e8e8ff,#e7e7ff,#e7e7ff,#e7e7ff,#e6e6ff,#e6e6ff,#e6e6ff,#e6e6ff,#e5e5ff,#e5e5ff,#e5e5ff,#e5e5ff,#e5e5ff,#e4e4ff,#e4e4ff,#e4e4ff,#e4e4ff)"></i><i style="height:3px;background:linear-gradient(90deg,#ffdfdf,#ffe3e3,#fff3f3,#fffbfb,#fcfcff,#f7f7ff,#f4f4ff,#f2f2ff,#f0f0ff,#eeeeff,#ededff,#ececff,#ebebff,#eaeaff,#e9e9ff,#e8e8ff,#e8e8ff,#e7e7ff,#e7e7ff,#e7e7ff,#e6e6ff,#e6e6ff,#e6e6ff,#e5e5ff,#e5e5ff,#e5e5ff,#e5e5ff,#e5e5ff,#e4e4ff,#e4e4ff,#e4e4ff,#e4e4ff,#e4e4ff,#e4e4ff)"></i><i style="height:3px;background:linear-gradient(90deg,#ffdfdf,#ffe6e6,#fff5f5,#fffdfd,#fafaff,#f6f6ff,#f3f3ff,#f1f1ff,#efefff,#ededff,#ececff,#ebebff,#eaeaff,#e9e9ff,#e8e8ff,#e8e8ff,#e7e7ff,#e7e7ff,#e6e6ff,#e6e6ff,#e6e6ff,#e5e5ff,#e5e5ff,#e5e5ff,#e5e5ff,#e5e5ff,#e4e4ff,#e4e4ff,#e4e4ff,#e4e4ff,#e4e4ff,#e4e4ff,#e4e4ff,#e4e4ff)"></i><i style="height:3px;background:linear-gradient(90deg,#ffe0e0,#ffe9e9,#fff7f7,#ffffff,#f9f9ff,#f5f5ff,#f2f2ff,#f0f0ff,#eeeeff,#ececff,#ebebff,#eaeaff,#e9e9ff,#e8e8ff,#e8e8ff,#e7e7ff,#e7e7ff,#e6e6ff,#e6e6ff,#e6e6ff,#e5e5ff,#e5e5ff,#e5e5ff,#e5e5ff,#e4e4ff,#e4e4ff,#e4e4ff,#e4e4ff,#e4e4ff,#e4e4ff,#e4e4ff,#e3e3ff,#e3e3ff,#e3e3ff)"></i><i style="height:3px;background:linear-gradient(90deg,#ffe0e0,#ffecec,#fffafa,#fdfdff,#f7f7ff,#f3f3ff,#f1f1ff,#eeeeff,#ededff,#ebebff,#eaeaff,#e9e9ff,#e8e8ff,#e8e8ff,#e7e7ff,#e7e7ff,#e6e6ff,#e6e6ff,#e5e5ff,#e5e5ff,#e5e5ff,#e5e5ff,#e4e4ff,#e4e4ff,#e4e4ff,#e4e4ff,#e4e4ff,#e4e4ff,#e3e3ff,#e3e3ff,#e3e3ff,#e3e3ff,#e3e3ff,#e3e3ff)"></i><i style="height:3px;background:linear-gradient(90deg,#ffe1e1,#ffefef,#fffcfc,#fbfbff,#f6f6ff,#f2f2ff,#efefff,#ededff,#ececff,#ebebff,#e9e9ff,#e9e9ff,#e8e8ff,#e7e7ff,#e7e7ff,#e6e6ff,#e6e6ff,#e5e5ff,#e5e5ff,#e5e5ff,#e4e4ff,#e4e4ff,#e4e4ff,#e4e4ff,#e4e4ff,#e4e4ff,#e3e3ff,#e3e3ff,#e3e3ff,#e3e3ff,#e3e3ff,#e3e3ff,#e3e3ff,#e3e3ff)"></i><i style="height:3px;background:linear-gradient(90deg,#ffe1e1,#fff2f2,#fffefe,#f9f9ff,#f4f4ff,#f1f1ff,#eeeeff,#ececff,#ebebff,#eaeaff,#e9e9ff,#e8e8ff,#e7e7ff,#e7e7ff,#e6e6ff,#e6e6ff,#e5e5ff,#e5e5ff,#e5e5ff,#e4e4ff,#e4e4ff,#e4e4ff,#e4e4ff,#e4e4ff,#e3e3ff,#e3e3ff,#e3e3ff,#e3e3ff,#e3e3ff,#e3e3ff,#e3e3ff,#e3e3ff,#e2e2ff,#e2e2ff)"></i><i style="height:3px;background:linear-gradient(90deg,#ffe2e2,#fff5f5,#fdfdff,#f7f7ff,#f3f3ff,#efefff,#ededff,#ebebff,#eaeaff,#e9e9ff,#e8e8ff,#e7e7ff,#e7e7ff,#e6e6ff,#e6e6ff,#e5e5ff,#e5e5ff,#e4e4ff,#e4e4ff,#e4e4ff,#e4e4ff,#e3e3ff,#e3e3ff,#e3e3ff,#e3e3ff,#e3e3ff,#e3e3ff,#e3e3ff,#e2e2ff,#e1e1ff,#e1e1ff,#e0e0ff,#e0e0ff,#dfdfff)"></i><i style="height:3px;background:linear-gradient(90deg,#ffe2e2,#fff8f8,#fbfbff,#f5f5ff,#f1f1ff,#eeeeff,#ececff,#ebebff,#e9e9ff,#e8e8ff,#e7e7ff,#e7e7ff,#e6e6ff,#e5e5ff,#e5e5ff,#e5e5ff,#e4e4ff,#e4e4ff,#e4e4ff,#e3e3ff,#e3e3ff,#e3e3ff,#e3e3ff,#e3e3ff,#e3e3ff,#e2e2ff,#e1e1ff,#e0e0ff,#dfdfff,#dfdfff,#dedeff,#dedeff,#ddddff,#ddddff)"></i><i style="height:3px;background:linear-gradient(90deg,#ffe3e3,#fffbfb,#f9f9ff,#f4f4ff,#f0f0ff,#ededff,#ebebff,#eaeaff,#e8e8ff,#e7e7ff,#e7e7ff,#e6e6ff,#e5e5ff,#e5e5ff,#e4e4ff,#e4e4ff,#e4e4ff,#e4e4ff,#e3e3ff,#e3e3ff,#e3e3ff,#e3e3ff,#e2e2ff,#e1e1ff,#e0e0ff,#dfdfff,#dedeff,#ddddff,#ddddff,#dcdcff,#dcdcff,#dbdbff,#dbdbff,#dbdbff)"></i><i style="height:3px;background:linear-gradient(90deg,#ffe7e7,#fffefe,#f7f7ff,#f2f2ff,#efefff,#ececff,#eaeaff,#e9e9ff,#e8e8ff,#e7e7ff,#e6e6ff,#e5e5ff,#e5e5ff,#e4e4ff,#e4e4ff,#e4e4ff,#e3e3ff,#e3e3ff,#e3e3ff,#e3e3ff,#e2e2ff,#e0e0ff,#dfdfff,#dedeff,#ddddff,#dcdcff,#dbdbff,#dbdbff,#dadaff,#dadaff,#d9d9ff,#d9d9ff,#d9d9ff,#d8d8ff)"></i><i style="height:3px;background:linear-gradient(90deg,#ffebeb,#fefeff,#f5f5ff,#f1f1ff,#ededff,#ebebff,#e9e9ff,#e8e8ff,#e7e7ff,#e6e6ff,#e5e5ff,#e5e5ff,#e4e4ff,#e4e4ff,#e3e3ff,#e3e3ff,#e3e3ff,#e3e3ff,#e1e1ff,#dfdfff,#dedeff,#ddddff,#dcdcff,#dbdbff,#dadaff,#d9d9ff,#d9d9ff,#d8d8ff,#d8d8ff,#d7d7ff,#d7d7ff,#d7d7ff,#d7d7ff,#d6d6ff)"></i><i style="height:3px;background:linear-gradient(90deg,#ffefef,#fbfbff,#f4f4ff,#efefff,#ececff,#eaeaff,#e8e8ff,#e7e7ff,#e6e6ff,#e5e5ff,#e5e5ff,#e4e4ff,#e4e4ff,#e3e3ff,#e3e3ff,#e3e3ff,#e1e1ff,#dfdfff,#ddddff,#dcdcff,#dbdbff,#dadaff,#d9d9ff,#d8d8ff,#d7d7ff,#d7d7ff,#d6d6ff,#d6d6ff,#d5d5ff,#d5d5ff,#d5d5ff,#d5d5ff,#d4d4ff,#d4d4ff)"></i><i style="height:3px;background:linear-gradient(90deg,#fff3f3,#f9f9ff,#f2f2ff,#eeeeff,#ebebff,#e9e9ff,#e7e7ff,#e6e6ff,#e5e5ff,#e5e5ff,#e4e4ff,#e4e4ff,#e3e3ff,#e3e3ff,#e2e2ff,#dfdfff,#ddddff,#dbdbff,#dadaff,#d8d8ff,#d7d7ff,#d6d6ff,#d6d6ff,#d5d5ff,#d4d4ff,#d4d4ff,#d3d3ff,#d3d3ff,#d3d3ff,#d3d3ff,#d3d3ff,#d3d3ff,#d2d2ff,#d2d2ff)"></i><i style="height:3px;background:linear-gradient(90deg,#fff7f7,#f7f7ff,#f0f0ff,#ececff,#eaeaff,#e8e8ff,#e7e7ff,#e5e5ff,#e5e5ff,#e4e4ff,#e3e3ff,#e3e3ff,#e3e3ff,#e0e0ff,#ddddff,#dbdbff,#d9d9ff,#d8d8ff,#d6d6ff,#d5d5ff,#d4d4ff,#d3d3ff,#d3d3ff,#d2d2ff,#d2d2ff,#d1d1ff,#d1d1ff,#d1d1ff,#d1d1ff,#d1d1ff,#d0d0ff,#d0d0ff,#d1d1ff,#d1d1ff)"></i><i style="height:3px;background:linear-gradient(90deg,#fffbfb,#f4f4ff,#eeeeff,#ebebff,#e9e9ff,#e7e7ff,#e6e6ff,#e5e5ff,#e4e4ff,#e3e3ff,#e3e3ff,#e1e1ff,#dedeff,#dbdbff,#d9d9ff,#d7d7ff,#d5d5ff,#d4d4ff,#d3d3ff,#d2d2ff,#d1d1ff,#d0d0ff,#d0d0ff,#cfcfff,#cfcfff,#cfcfff,#cfcfff,#cfcfff,#ceceff,#ceceff,#ceceff,#cfcfff,#cfcfff,#cfcfff)"></i><i style="height:3px;background:linear-gradient(90deg,#fffefe,#f2f2ff,#ededff,#eaeaff,#e8e8ff,#e6e6ff,#e5e5ff,#e4e4ff,#e3e3ff,#e3e3ff,#e0e0ff,#ddddff,#dadaff,#d7d7ff,#d5d5ff,#d3d3ff,#d2d2ff,#d1d1ff,#d0d0ff,#cfcfff,#ceceff,#ceceff,#cdcdff,#cdcdff,#cdcdff,#cdcdff,#ccccff,#ccccff,#ccccff,#ccccff,#cdcdff,#cdcdff,#cdcdff,#cdcdff)"></i><i style="height:3px;background:linear-gradient(90deg,#fdfdff,#f0f0ff,#ebebff,#e9e9ff,#e7e7ff,#e5e5ff,#e4e4ff,#e3e3ff,#e3e3ff,#dfdfff,#dbdbff,#d8d8ff,#d5d5ff,#d3d3ff,#d1d1ff,#d0d0ff,#ceceff,#cdcdff,#cdcdff,#ccccff,#cbcbff,#cbcbff,#cbcbff,#cacaff,#cacaff,#cacaff,#cacaff,#cacaff,#cacaff,#cbcbff,#cbcbff,#cbcbff,#cbcbff,#cbcbff)"></i><i style="height:3px;background:linear-gradient(90deg,#fafaff,#efefff,#eaeaff,#e7e7ff,#e6e6ff,#e4e4ff,#e3e3ff,#e3e3ff,#dedeff,#dadaff,#d6d6ff,#d3d3ff,#d1d1ff,#cfcfff,#ceceff,#ccccff,#cbcbff,#cacaff,#cacaff,#c9c9ff,#c9c9ff,#c8c8ff,#c8c8ff,#c8c8ff,#c8c8ff,#c8c8ff,#c8c8ff,#c8c8ff,#c8c8ff,#c9c9ff,#c9c9ff,#c9c9ff,#cacaff,#cacaff)"></i><i style="height:2px;background:linear-gradient(90deg,#f8f8ff,#ededff,#e9e9ff,#e7e7ff,#e5e5ff,#e4e4ff,#e3e3ff,#dfdfff,#dadaff,#d6d6ff,#d3d3ff,#d0d0ff,#ceceff,#ccccff,#cbcbff,#cacaff,#c9c9ff,#c8c8ff,#c7c7ff,#c7c7ff,#c7c7ff,#c6c6ff,#c6c6ff,#c6c6ff,#c6c6ff,#c6c6ff,#c6c6ff,#c7c7ff,#c7c7ff,#c7c7ff,#c8c8ff,#c8c8ff,#c8c8ff,#c9c9ff)"></i><i style="height:2px;background:linear-gradient(90deg,#f6f6ff,#ececff,#e8e8ff,#e6e6ff,#e4e4ff,#e3e3ff,#e1e1ff,#dbdbff,#d6d6ff,#d2d2ff,#d0d0ff,#cdcdff,#cbcbff,#cacaff,#c8c8ff,#c7c7ff,#c7c7ff,#c6c6ff,#c6c6ff,#c5c5ff,#c5c5ff,#c5c5ff,#c5c5ff,#c5c5ff,#c5c5ff,#c5c5ff,#c5c5ff,#c5c5ff,#c6c6ff,#c6c6ff,#c6c6ff,#c7c7ff,#c7c7ff,#c8c8ff)"></i><i style="height:2px;background:linear-gradient(90deg,#f4f4ff,#ebebff,#e7e7ff,#e5e5ff,#e4e4ff,#e3e3ff,#ddddff,#d7d7ff,#d3d3ff,#cfcfff,#cdcdff,#cbcbff,#c9c9ff,#c7c7ff,#c6c6ff,#c5c5ff,#c5c5ff,#c4c4ff,#c4c4ff,#c3c3ff,#c3c3ff,#c3c3ff,#c3c3ff,#c3c3ff,#c4c4ff,#c4c4ff,#c4c4ff,#c4c4ff,#c5c5ff,#c5c5ff,#c5c5ff,#c6c6ff,#c6c6ff,#c7c7ff)"></i><i style="height:2px;background:linear-gradient(90deg,#f2f2ff,#eaeaff,#e7e7ff,#e5e5ff,#e3e3ff,#dfdfff,#d9d9ff,#d4d4ff,#d0d0ff,#cdcdff,#cacaff,#c8c8ff,#c7c7ff,#c5c5ff,#c4c4ff,#c3c3ff,#c3c3ff,#c2c2ff,#c2c2ff,#c2c2ff,#c2c2ff,#c2c2ff,#c2c2ff,#c2c2ff,#c2c2ff,#c2c2ff,#c3c3ff,#c3c3ff,#c4c4ff,#c4c4ff,#c4c4ff,#c5c5ff,#c5c5ff,#c6c6ff)"></i><i style="height:2px;background:linear-gradient(90deg,#f1f1ff,#e9e9ff,#e6e6ff,#e4e4ff,#e3e3ff,#dbdbff,#d5d5ff,#d0d0ff,#cdcdff,#cacaff,#c8c8ff,#c6c6ff,#c4c4ff,#c3c3ff,#c2c2ff,#c2c2ff,#c1c1ff,#c1c1ff,#c0c0ff,#c0c0ff,#c0c0ff,#c0c0ff,#c0c0ff,#c1c1ff,#c1c1ff,#c1c1ff,#c2c2ff,#c2c2ff,#c3c3ff,#c3c3ff,#c4c4ff,#c4c4ff,#c5c5ff,#c5c5ff)"></i><i style="height:2px;background:linear-gradient(90deg,#efefff,#e8e8ff,#e5e5ff,#e3e3ff,#dfdfff,#d7d7ff,#d1d1ff,#cdcdff,#cacaff,#c7c7ff,#c5c5ff,#c3c3ff,#c2c2ff,#c1c1ff,#c0c0ff,#c0c0ff,#bfbfff,#bfbfff,#bfbfff,#bfbfff,#bfbfff,#bfbfff,#bfbfff,#bfbfff,#c0c0ff,#c0c0ff,#c1c1ff,#c1c1ff,#c2c2ff,#c2c2ff,#c3c3ff,#c3c3ff,#c4c4ff,#c4c4ff)"></i><i style="height:2px;background:linear-gradient(90deg,#eeeeff,#e7e7ff,#e4e4ff,#e3e3ff,#dadaff,#d3d3ff,#ceceff,#cacaff,#c7c7ff,#c5c5ff,#c3c3ff,#c1c1ff,#c0c0ff,#bfbfff,#bfbfff,#bebeff,#bebeff,#bdbdff,#bdbdff,#bdbdff,#bdbdff,#bebeff,#bebeff,#bebeff,#bfbfff,#bfbfff,#c0c0ff,#c0c0ff,#c1c1ff,#c1c1ff,#c2c2ff,#c2c2ff,#c3c3ff,#c4c4ff)"></i><i style="height:2px;background:linear-gradient(90deg,#ececff,#e6e6ff,#e4e4ff,#dfdfff,#d6d6ff,#cfcfff,#cbcbff,#c7c7ff,#c4c4ff,#c2c2ff,#c1c1ff,#bfbfff,#bebeff,#bdbdff,#bdbdff,#bcbcff,#bcbcff,#bcbcff,#bcbcff,#bcbcff,#bcbcff,#bcbcff,#bdbdff,#bdbdff,#bebeff,#bebeff,#bfbfff,#bfbfff,#c0c0ff,#c0c0ff,#c1c1ff,#c2c2ff,#c2c2ff,#c3c3ff)"></i><i style="height:2px;background:linear-gradient(90deg,#ebebff,#e5e5ff,#e3e3ff,#dadaff,#d2d2ff,#ccccff,#c8c8ff,#c4c4ff,#c2c2ff,#c0c0ff,#bebeff,#bdbdff,#bcbcff,#bcbcff,#bbbbff,#bbbbff,#bbbbff,#bbbbff,#bbbbff,#bbbbff,#bbbbff,#bbbbff,#bcbcff,#bcbcff,#bcbcff,#bdbdff,#bebeff,#bebeff,#bfbfff,#c0c0ff,#c0c0ff,#c1c1ff,#c2c2ff,#c2c2ff)"></i><i style="height:2px;background:linear-gradient(90deg,#e9e9ff,#e4e4ff,#e0e0ff,#d5d5ff,#ceceff,#c8c8ff,#c5c5ff,#c2c2ff,#c0c0ff,#bebeff,#bcbcff,#bbbbff,#bbbbff,#babaff,#babaff,#b9b9ff,#b9b9ff,#b9b9ff,#b9b9ff,#b9b9ff,#babaff,#babaff,#babaff,#bbbbff,#bbbbff,#bcbcff,#bdbdff,#bdbdff,#bebeff,#bfbfff,#c0c0ff,#c0c0ff,#c1c1ff,#c2c2ff)"></i><i style="height:2px;background:linear-gradient(90deg,#e7e7ff,#e3e3ff,#dadaff,#d1d1ff,#cacaff,#c5c5ff,#c2c2ff,#bfbfff,#bdbdff,#bcbcff,#bbbbff,#babaff,#b9b9ff,#b8b8ff,#b8b8ff,#b8b8ff,#b8b8ff,#b8b8ff,#b8b8ff,#b8b8ff,#b9b9ff,#b9b9ff,#b9b9ff,#babaff,#bbbbff,#bbbbff,#bcbcff,#bdbdff,#bdbdff,#bebeff,#bfbfff,#c0c0ff,#c0c0ff,#c1c1ff)"></i><i style="height:2px;background:linear-gradient(90deg,#e5e5ff,#e0e0ff,#d4d4ff,#ccccff,#c7c7ff,#c2c2ff,#bfbfff,#bdbdff,#bbbbff,#babaff,#b9b9ff,#b8b8ff,#b7b7ff,#b7b7ff,#b7b7ff,#b6b6ff,#b6b6ff,#b7b7ff,#b7b7ff,#b7b7ff,#b7b7ff,#b8b8ff,#b8b8ff,#b9b9ff,#babaff,#babaff,#bbbbff,#bcbcff,#bdbdff,#bebeff,#bebeff,#bfbfff,#c0c0ff,#c1c1ff)"></i><i style="height:2px;background:linear-gradient(90deg,#e3e3ff,#d8d8ff,#cfcfff,#c8c8ff,#c4c4ff,#c0c0ff,#bdbdff,#bbbbff,#b9b9ff,#b8b8ff,#b7b7ff,#b6b6ff,#b6b6ff,#b5b5ff,#b5b5ff,#b5b5ff,#b5b5ff,#b5b5ff,#b6b6ff,#b6b6ff,#b6b6ff,#b7b7ff,#b7b7ff,#b8b8ff,#b9b9ff,#babaff,#babaff,#bbbbff,#bcbcff,#bdbdff,#bebeff,#bfbfff,#c0c0ff,#c1c1ff)"></i><i style="height:2px;background:linear-gradient(90deg,#dcdcff,#d2d2ff,#cbcbff,#c5c5ff,#c1c1ff,#bdbdff,#bbbbff,#b9b9ff,#b8b8ff,#b6b6ff,#b6b6ff,#b5b5ff,#b4b4ff,#b4b4ff,#b4b4ff,#b4b4ff,#b4b4ff,#b4b4ff,#b5b5ff,#b5b5ff,#b5b5ff,#b6b6ff,#b7b7ff,#b7b7ff,#b8b8ff,#b9b9ff,#babaff,#bbbbff,#bcbcff,#bcbcff,#bdbdff,#bebeff,#bfbfff,#c0c0ff)"></i><i style="height:2px;background:linear-gradient(90deg,#dedeff,#d0d0ff,#c8c8ff,#c2c2ff,#bebeff,#bbbbff,#b9b9ff,#b7b7ff,#b6b6ff,#b5b5ff,#b4b4ff,#b4b4ff,#b3b3ff,#b3b3ff,#b3b3ff,#b3b3ff,#b3b3ff,#b3b3ff,#b4b4ff,#b4b4ff,#b4b4ff,#b5b5ff,#b6b6ff,#b7b7ff,#b7b7ff,#b8b8ff,#b9b9ff,#babaff,#bbbbff,#bcbcff,#bdbdff,#bebeff,#bfbfff,#c0c0ff)"></i><i style="height:2px;background:linear-gradient(90deg,#e0e0ff,#ceceff,#c5c5ff,#c0c0ff,#bcbcff,#b9b9ff,#b7b7ff,#b6b6ff,#b4b4ff,#b3b3ff,#b3b3ff,#b2b2ff,#b2b2ff,#b2b2ff,#b2b2ff,#b2b2ff,#b2b2ff,#b2b2ff,#b3b3ff,#b3b3ff,#b4b4ff,#b4b4ff,#b5b5ff,#b6b6ff,#b7b7ff,#b8b8ff,#b9b9ff,#babaff,#bbbbff,#bcbcff,#bdbdff,#bebeff,#bfbfff,#c0c0ff)"></i><i style="height:2px;background:linear-gradient(90deg,#e2e2ff,#ccccff,#c4c4ff,#bebeff,#bbbbff,#b8b8ff,#b6b6ff,#b4b4ff,#b3b3ff,#b2b2ff,#b1b1ff,#b1b1ff,#b1b1ff,#b1b1ff,#b0b0ff,#b1b1ff,#b1b1ff,#b1b1ff,#b2b2ff,#b2b2ff,#b3b3ff,#b4b4ff,#b4b4ff,#b5b5ff,#b6b6ff,#b7b7ff,#b8b8ff,#b9b9ff,#babaff,#bcbcff,#bdbdff,#bebeff,#bfbfff,#c0c0ff)"></i><i style="height:2px;background:linear-gradient(90deg,#e1e1ff,#cbcbff,#c2c2ff,#bdbdff,#b9b9ff,#b6b6ff,#b4b4ff,#b3b3ff,#b2b2ff,#b1b1ff,#b0b0ff,#b0b0ff,#b0b0ff,#afafff,#afafff,#b0b0ff,#b0b0ff,#b0b0ff,#b1b1ff,#b1b1ff,#b2b2ff,#b3b3ff,#b4b4ff,#b5b5ff,#b6b6ff,#b7b7ff,#b8b8ff,#b9b9ff,#babaff,#bbbbff,#bdbdff,#bebeff,#bfbfff,#c0c0ff)"></i><i style="height:2px;background:linear-gradient(90deg,#e0e0ff,#c9c9ff,#c0c0ff,#bbbbff,#b8b8ff,#b5b5ff,#b3b3ff,#b2b2ff,#b1b1ff,#b0b0ff,#afafff,#afafff,#aeaeff,#aeaeff,#afafff,#afafff,#afafff,#afafff,#b0b0ff,#b1b1ff,#b1b1ff,#b2b2ff,#b3b3ff,#b4b4ff,#b5b5ff,#b6b6ff,#b8b8ff,#b9b9ff,#babaff,#bbbbff,#bdbdff,#bebeff,#bfbfff,#c1c1ff)"></i><i style="height:2px;background:linear-gradient(90deg,#dedeff,#c8c8ff,#bfbfff,#babaff,#b6b6ff,#b4b4ff,#b2b2ff,#b0b0ff,#afafff,#afafff,#aeaeff,#aeaeff,#adadff,#adadff,#aeaeff,#aeaeff,#aeaeff,#afafff,#afafff,#b0b0ff,#b1b1ff,#b2b2ff,#b3b3ff,#b4b4ff,#b5b5ff,#b6b6ff,#b7b7ff,#b9b9ff,#babaff,#bcbcff,#bdbdff,#bebeff,#c0c0ff,#c1c1ff)"></i><i style="height:2px;background:linear-gradient(90deg,#dcdcff,#c6c6ff,#bebeff,#b9b9ff,#b5b5ff,#b3b3ff,#b1b1ff,#afafff,#aeaeff,#aeaeff,#adadff,#adadff,#adadff,#adadff,#adadff,#adadff,#adadff,#aeaeff,#afafff,#afafff,#b0b0ff,#b1b1ff,#b2b2ff,#b3b3ff,#b5b5ff,#b6b6ff,#b7b7ff,#b9b9ff,#babaff,#bcbcff,#bdbdff,#bfbfff,#c0c0ff,#c2c2ff)"></i><i style="height:2px;background:linear-gradient(90deg,#dadaff,#c5c5ff,#bdbdff,#b8b8ff,#b4b4ff,#b2b2ff,#b0b0ff,#afafff,#adadff,#adadff,#acacff,#acacff,#acacff,#acacff,#acacff,#acacff,#adadff,#adadff,#aeaeff,#afafff,#b0b0ff,#b1b1ff,#b2b2ff,#b3b3ff,#b5b5ff,#b6b6ff,#b8b8ff,#b9b9ff,#bbbbff,#bdbdff,#bebeff,#c0c0ff,#c1c1ff,#c3c3ff)"></i><i style="height:2px;background:linear-gradient(90deg,#d9d9ff,#c4c4ff,#bcbcff,#b7b7ff,#b3b3ff,#b1b1ff,#afafff,#aeaeff,#adadff,#acacff,#ababff,#ababff,#ababff,#ababff,#ababff,#ababff,#acacff,#adadff,#adadff,#aeaeff,#afafff,#b0b0ff,#b2b2ff,#b3b3ff,#b5b5ff,#b6b6ff,#b8b8ff,#babaff,#bbbbff,#bdbdff,#bfbfff,#c1c1ff,#c3c3ff,#c4c4ff)"></i><i style="height:2px;background:linear-gradient(90deg,#d8d8ff,#c3c3ff,#bbbbff,#b6b6ff,#b3b3ff,#b0b0ff,#aeaeff,#adadff,#acacff,#ababff,#ababff,#aaaaff,#aaaaff,#aaaaff,#aaaaff,#ababff,#ababff,#acacff,#adadff,#aeaeff,#afafff,#b0b0ff,#b2b2ff,#b3b3ff,#b5b5ff,#b7b7ff,#b9b9ff,#bbbbff,#bdbdff,#bfbfff,#c1c1ff,#c3c3ff,#c4c4ff,#c6c6ff)"></i><i style="height:2px;background:linear-gradient(90deg,#d8d8ff,#c3c3ff,#bbbbff,#b6b6ff,#b2b2ff,#afafff,#aeaeff,#acacff,#ababff,#aaaaff,#a8a8ff,#a5a5ff,#a3a3ff,#a4a4ff,#a7a7ff,#aaaaff,#ababff,#ababff,#acacff,#aeaeff,#afafff,#b0b0ff,#b2b2ff,#b4b4ff,#b6b6ff,#b8b8ff,#babaff,#bcbcff,#bebeff,#c0c0ff,#c2c2ff,#c5c5ff,#c7c7ff,#c9c9ff)"></i><i style="height:2px;background:linear-gradient(90deg,#d9d9ff,#c3c3ff,#bbbbff,#b5b5ff,#b2b2ff,#afafff,#adadff,#acacff,#aaaaff,#a6a6ff,#a1a1ff,#9d9dff,#9c9cff,#9d9dff,#a0a0ff,#a5a5ff,#aaaaff,#ababff,#acacff,#adadff,#afafff,#b0b0ff,#b2b2ff,#b4b4ff,#b6b6ff,#b9b9ff,#bbbbff,#bdbdff,#c0c0ff,#c2c2ff,#c5c5ff,#c7c7ff,#cacaff,#ccccff)"></i><i style="height:2px;background:linear-gradient(90deg,#dbdbff,#c5c5ff,#bbbbff,#b6b6ff,#b2b2ff,#afafff,#adadff,#ababff,#aaaaff,#a0a0ff,#9a9aff,#9797ff,#9595ff,#9696ff,#9a9aff,#9f9fff,#a7a7ff,#ababff,#acacff,#adadff,#afafff,#b1b1ff,#b3b3ff,#b5b5ff,#b8b8ff,#babaff,#bdbdff,#c0c0ff,#c3c3ff,#c6c6ff,#c9c9ff,#ccccff,#ceceff,#d1d1ff)"></i><i style="height:2px;background:linear-gradient(90deg,#e0e0ff,#c7c7ff,#bdbdff,#b7b7ff,#b2b2ff,#afafff,#adadff,#ababff,#a6a6ff,#9b9bff,#9494ff,#9090ff,#8e8eff,#9090ff,#9494ff,#9a9aff,#a4a4ff,#ababff,#acacff,#aeaeff,#b0b0ff,#b2b2ff,#b4b4ff,#b7b7ff,#babaff,#bdbdff,#c0c0ff,#c4c4ff,#c7c7ff,#cbcbff,#ceceff,#d2d2ff,#d5d5ff,#d8d8ff)"></i><i style="height:2px;background:linear-gradient(90deg,#e3e3ff,#cbcbff,#bfbfff,#b9b9ff,#b3b3ff,#b0b0ff,#adadff,#ababff,#a3a3ff,#9797ff,#8f8fff,#8a8aff,#8888ff,#8a8aff,#8f8fff,#9696ff,#a1a1ff,#ababff,#acacff,#aeaeff,#b1b1ff,#b3b3ff,#b6b6ff,#babaff,#bdbdff,#c1c1ff,#c5c5ff,#c9c9ff,#cdcdff,#d1d1ff,#d5d5ff,#d9d9ff,#ddddff,#e1e1ff)"></i><i style="height:1px;background:linear-gradient(90deg,#e4e4ff,#d2d2ff,#c4c4ff,#bcbcff,#b6b6ff,#b1b1ff,#aeaeff,#ababff,#a4a4ff,#9595ff,#8b8bff,#8585ff,#8383ff,#8686ff,#8c8cff,#9595ff,#a3a3ff,#ababff,#adadff,#b0b0ff,#b3b3ff,#b6b6ff,#babaff,#bebeff,#c2c2ff,#c7c7ff,#cbcbff,#d1d1ff,#d6d6ff,#dbdbff,#e0e0ff,#e3e3ff,#e3e3ff,#e4e4ff)"></i><i style="height:1px;background:linear-gradient(90deg,#e5e5ff,#d6d6ff,#c7c7ff,#bebeff,#b7b7ff,#b2b2ff,#afafff,#acacff,#a5a5ff,#9494ff,#8989ff,#8383ff,#8080ff,#8383ff,#8a8aff,#9595ff,#a4a4ff,#ababff,#aeaeff,#b1b1ff,#b4b4ff,#b8b8ff,#bcbcff,#c1c1ff,#c6c6ff,#cbcbff,#d0d0ff,#d6d6ff,#dcdcff,#e2e2ff,#e3e3ff,#e4e4ff,#e4e4ff,#e5e5ff)"></i><i style="height:1px;background:linear-gradient(90deg,#e6e6ff,#dfdfff,#cdcdff,#c2c2ff,#babaff,#b4b4ff,#b0b0ff,#adadff,#a9a9ff,#9595ff,#8888ff,#8080ff,#7d7dff,#8080ff,#8989ff,#9696ff,#a8a8ff,#acacff,#afafff,#b3b3ff,#b7b7ff,#bbbbff,#c0c0ff,#c6c6ff,#ccccff,#d2d2ff,#d9d9ff,#dfdfff,#e3e3ff,#e4e4ff,#e4e4ff,#e5e5ff,#e6e6ff,#e6e6ff)"></i><i style="height:1px;background:linear-gradient(90deg,#e9e9ff,#e4e4ff,#d7d7ff,#cacaff,#c0c0ff,#b8b8ff,#b3b3ff,#aeaeff,#ababff,#9999ff,#8888ff,#7e7eff,#7a7aff,#7e7eff,#8989ff,#9a9aff,#ababff,#aeaeff,#b2b2ff,#b6b6ff,#bcbcff,#c1c1ff,#c8c8ff,#cfcfff,#d7d7ff,#dfdfff,#e3e3ff,#e4e4ff,#e5e5ff,#e6e6ff,#e7e7ff,#e8e8ff,#e9e9ff,#e9e9ff)"></i><i style="height:1px;background:linear-gradient(90deg,#ececff,#e5e5ff,#e2e2ff,#d1d1ff,#c5c5ff,#bcbcff,#b5b5ff,#b0b0ff,#acacff,#9d9dff,#8989ff,#7c7cff,#7777ff,#7c7cff,#8a8aff,#9e9eff,#acacff,#b0b0ff,#b4b4ff,#babaff,#c0c0ff,#c7c7ff,#cfcfff,#d8d8ff,#e2e2ff,#e4e4ff,#e5e5ff,#e6e6ff,#e7e7ff,#e8e8ff,#e9e9ff,#eaeaff,#ebebff,#ececff)"></i><i style="height:1px;background:linear-gradient(90deg,#ffe1e1,#fff5f5,#fbfbff,#f3f3ff,#ededff,#e8e8ff,#e5e5ff,#ddddff,#c8c8ff,#b8b8ff,#aeaeff,#9090ff,#7575ff,#9393ff,#afafff,#b9b9ff,#c8c8ff,#ddddff,#e4e4ff,#e7e7ff,#ebebff,#eeeeff,#f2f2ff,#f7f7ff,#fcfcff,#fffdfd,#fff8f8,#fff2f2,#ffecec,#ffe7e7,#ffe2e2,#ffe2e2,#ffe1e1,#ffe1e1)"></i><i style="height:1px;background:linear-gradient(90deg,#ffcfcf,#ffdada,#ffdfdf,#ffe1e1,#ffebeb,#fffbfb,#f8f8ff,#efefff,#e8e8ff,#e3e3ff,#c3c3ff,#aeaeff,#7575ff,#afafff,#c6c6ff,#e3e3ff,#e8e8ff,#efefff,#f7f7ff,#fffefe,#fff3f3,#ffe6e6,#ffe2e2,#ffe0e0,#ffdfdf,#ffdddd,#ffdbdb,#ffd9d9,#ffd7d7,#ffd5d5,#ffd3d3,#ffd2d2,#ffd0d0,#ffcece)"></i><i style="height:0.2px;background:linear-gradient(90deg,#ffc5c5,#ffd4d4,#ffdada,#ffdede,#ffe1e1,#ffeaea,#fffafa,#f7f7ff,#ededff,#e6e6ff,#d0d0ff,#b2b2ff,#7575ff,#b3b3ff,#d4d4ff,#e6e6ff,#ededff,#f7f7ff,#fffcfc,#ffefef,#ffe2e2,#ffe1e1,#ffdfdf,#ffdcdc,#ffdada,#ffd8d8,#ffd5d5,#ffd3d3,#ffd0d0,#ffcdcd,#ffcaca,#ffc8c8,#ffc5c5,#ffc3c3)"></i></div><div class="h" style="left:245.5px;top:393px;width:16px;height:272.2px"><i style="height:3px;background:linear-gradient(90deg,#ff3a3a,#ff3f3f,#ff4545,#ff4b4b,#ff5151,#ff5757,#ff5d5d,#ff6262,#ff6868,#ff6e6e,#ff8b8b,#ffaaaa,#ffabab,#ffadad,#ffb0b0,#ffb3b3,#ffb6b6)"></i><i style="height:3px;background:linear-gradient(90deg,#ff3b3b,#ff4040,#ff4646,#ff4c4c,#ff5252,#ff5757,#ff5d5d,#ff6363,#ff6868,#ff6e6e,#ff8b8b,#ffaaaa,#ffacac,#ffafaf,#ffb2b2,#ffb4b4,#ffb7b7)"></i><i style="height:3px;background:linear-gradient(90deg,#ff3c3c,#ff4242,#ff4747,#ff4d4d,#ff5252,#ff5858,#ff5e5e,#ff6363,#ff6969,#ff6e6e,#ff8c8c,#ffaaaa,#ffadad,#ffb0b0,#ffb3b3,#ffb6b6,#ffb8b8)"></i><i style="height:3px;background:linear-gradient(90deg,#ff3d3d,#ff4343,#ff4848,#ff4e4e,#ff5353,#ff5959,#ff5e5e,#ff6464,#ff6969,#ff6f6f,#ff8d8d,#ffacac,#ffaeae,#ffb1b1,#ffb4b4,#ffb7b7,#ffb9b9)"></i><i style="height:3px;background:linear-gradient(90deg,#ff3e3e,#ff4444,#ff4949,#ff4f4f,#ff5454,#ff5959,#ff5f5f,#ff6464,#ff6969,#ff6f6f,#ff8e8e,#ffadad,#ffb0b0,#ffb2b2,#ffb5b5,#ffb8b8,#ffbaba)"></i><i style="height:3px;background:linear-gradient(90deg,#ff4040,#ff4545,#ff4a4a,#ff4f4f,#ff5555,#ff5a5a,#ff5f5f,#ff6464,#ff6a6a,#ff6f6f,#ff8e8e,#ffaeae,#ffb1b1,#ffb3b3,#ffb6b6,#ffb9b9,#ffbbbb)"></i><i style="height:3px;background:linear-gradient(90deg,#ff4141,#ff4646,#ff4b4b,#ff5050,#ff5555,#ff5b5b,#ff6060,#ff6565,#ff6a6a,#ff6f6f,#ff8f8f,#ffafaf,#ffb2b2,#ffb5b5,#ffb7b7,#ffbaba,#ffbcbc)"></i><i style="height:3px;background:linear-gradient(90deg,#ff4242,#ff4747,#ff4c4c,#ff5151,#ff5656,#ff5b5b,#ff6060,#ff6565,#ff6a6a,#ff6f6f,#ff9090,#ffb1b1,#ffb3b3,#ffb6b6,#ffb8b8,#ffbbbb,#ffbdbd)"></i><i style="height:3px;background:linear-gradient(90deg,#ff4343,#ff4848,#ff4d4d,#ff5252,#ff5757,#ff5c5c,#ff6161,#ff6666,#ff6b6b,#ff7070,#ff9191,#ffb2b2,#ffb4b4,#ffb7b7,#ffb9b9,#ffbcbc,#ffbebe)"></i><i style="height:3px;background:linear-gradient(90deg,#ff4444,#ff4949,#ff4e4e,#ff5353,#ff5858,#ff5c5c,#ff6161,#ff6666,#ff6b6b,#ff7070,#ff9191,#ffb3b3,#ffb6b6,#ffb8b8,#ffbaba,#ffbdbd,#ffbfbf)"></i><i style="height:3px;background:linear-gradient(90deg,#ff4646,#ff4a4a,#ff4f4f,#ff5454,#ff5858,#ff5d5d,#ff6262,#ff6666,#ff6b6b,#ff7070,#ff9292,#ffb4b4,#ffb7b7,#ffb9b9,#ffbbbb,#ffbebe,#ffc0c0)"></i><i style="height:3px;background:linear-gradient(90deg,#ff4747,#ff4b4b,#ff5050,#ff5555,#ff5959,#ff5e5e,#ff6262,#ff6767,#ff6b6b,#ff7070,#ff9393,#ffb5b5,#ffb8b8,#ffbaba,#ffbcbc,#ffbfbf,#ffc1c1)"></i><i style="height:3px;background:linear-gradient(90deg,#ff4848,#ff4c4c,#ff5151,#ff5555,#ff5a5a,#ff5e5e,#ff6363,#ff6767,#ff6c6c,#ff7070,#ff9393,#ffb7b7,#ffb9b9,#ffbbbb,#ffbdbd,#ffc0c0,#ffc2c2)"></i><i style="height:3px;background:linear-gradient(90deg,#ff4949,#ff4d4d,#ff5252,#ff5656,#ff5b5b,#ff5f5f,#ff6363,#ff6868,#ff6c6c,#ff7070,#ff9494,#ffb8b8,#ffbaba,#ffbcbc,#ffbfbf,#ffc1c1,#ffc3c3)"></i><i style="height:3px;background:linear-gradient(90deg,#ff4a4a,#ff4e4e,#ff5353,#ff5757,#ff5b5b,#ff5f5f,#ff6464,#ff6868,#ff6c6c,#ff7171,#ff9595,#ffb9b9,#ffbbbb,#ffbdbd,#ffc0c0,#ffc2c2,#ffc4c4)"></i><i style="height:3px;background:linear-gradient(90deg,#ff4b4b,#ff4f4f,#ff5454,#ff5858,#ff5c5c,#ff6060,#ff6464,#ff6868,#ff6d6d,#ff7171,#ff9595,#ffbaba,#ffbcbc,#ffbebe,#ffc1c1,#ffc3c3,#ffc5c5)"></i><i style="height:3px;background:linear-gradient(90deg,#ff4c4c,#ff5050,#ff5454,#ff5858,#ff5d5d,#ff6161,#ff6565,#ff6969,#ff6d6d,#ff7171,#ff9696,#ffbbbb,#ffbdbd,#ffbfbf,#ffc2c2,#ffc4c4,#ffc6c6)"></i><i style="height:3px;background:linear-gradient(90deg,#ff4d4d,#ff5151,#ff5555,#ff5959,#ff5d5d,#ff6161,#ff6565,#ff6969,#ff6d6d,#ff7171,#ff9797,#ffbcbc,#ffbebe,#ffc0c0,#ffc2c2,#ffc4c4,#ffc6c6)"></i><i style="height:3px;background:linear-gradient(90deg,#ff4e4e,#ff5252,#ff5656,#ff5a5a,#ff5e5e,#ff6262,#ff6666,#ff6a6a,#ff6d6d,#ff7171,#ff9797,#ffbebe,#ffc0c0,#ffc1c1,#ffc3c3,#ffc5c5,#ffc7c7)"></i><i style="height:3px;background:linear-gradient(90deg,#ff4f4f,#ff5353,#ff5757,#ff5b5b,#ff5f5f,#ff6262,#ff6666,#ff6a6a,#ff6e6e,#ff7272,#ff9898,#ffbfbf,#ffc1c1,#ffc2c2,#ffc4c4,#ffc6c6,#ffc8c8)"></i><i style="height:3px;background:linear-gradient(90deg,#ff5151,#ff5454,#ff5858,#ff5c5c,#ff5f5f,#ff6363,#ff6767,#ff6a6a,#ff6e6e,#ff7474,#ff9999,#ffc0c0,#ffc2c2,#ffc3c3,#ffc5c5,#ffc7c7,#ffc9c9)"></i><i style="height:3px;background:linear-gradient(90deg,#ff5252,#ff5555,#ff5959,#ff5c5c,#ff6060,#ff6363,#ff6767,#ff6b6b,#ff6e6e,#ff7575,#ff9999,#ffc1c1,#ffc3c3,#ffc4c4,#ffc6c6,#ffc8c8,#ffcaca)"></i><i style="height:3px;background:linear-gradient(90deg,#ff5353,#ff5656,#ff5a5a,#ff5d5d,#ff6060,#ff6464,#ff6767,#ff6b6b,#ff6e6e,#ff7777,#ff9a9a,#ffc2c2,#ffc4c4,#ffc5c5,#ffc7c7,#ffc9c9,#ffcbcb)"></i><i style="height:3px;background:linear-gradient(90deg,#ff5454,#ff5757,#ff5a5a,#ff5e5e,#ff6161,#ff6464,#ff6868,#ff6b6b,#ff6f6f,#ff7979,#ff9a9a,#ffc3c3,#ffc5c5,#ffc6c6,#ffc8c8,#ffcaca,#ffcccc)"></i><i style="height:3px;background:linear-gradient(90deg,#ff5555,#ff5858,#ff5b5b,#ff5e5e,#ff6262,#ff6565,#ff6868,#ff6c6c,#ff6f6f,#ff7a7a,#ff9b9b,#ffc4c4,#ffc6c6,#ffc7c7,#ffc9c9,#ffcbcb,#ffcccc)"></i><i style="height:3px;background:linear-gradient(90deg,#ff5656,#ff5959,#ff5c5c,#ff5f5f,#ff6262,#ff6666,#ff6969,#ff6c6c,#ff6f6f,#ff7c7c,#ff9c9c,#ffc5c5,#ffc7c7,#ffc8c8,#ffcaca,#ffcccc,#ffcdcd)"></i><i style="height:3px;background:linear-gradient(90deg,#ff5757,#ff5a5a,#ff5d5d,#ff6060,#ff6363,#ff6666,#ff6969,#ff6c6c,#ff6f6f,#ff7d7d,#ff9c9c,#ffc6c6,#ffc8c8,#ffc9c9,#ffcbcb,#ffcccc,#ffcece)"></i><i style="height:3px;background:linear-gradient(90deg,#ff5757,#ff5a5a,#ff5e5e,#ff6161,#ff6464,#ff6767,#ff6a6a,#ff6d6d,#ff7070,#ff7f7f,#ff9d9d,#ffc7c7,#ffc9c9,#ffcaca,#ffcccc,#ffcdcd,#ffcfcf)"></i><i style="height:3px;background:linear-gradient(90deg,#ff5858,#ff5b5b,#ff5e5e,#ff6161,#ff6464,#ff6767,#ff6a6a,#ff6d6d,#ff7070,#ff8080,#ff9d9d,#ffc8c8,#ffcaca,#ffcbcb,#ffcdcd,#ffcece,#ffd0d0)"></i><i style="height:3px;background:linear-gradient(90deg,#ff5959,#ff5c5c,#ff5f5f,#ff6262,#ff6565,#ff6868,#ff6a6a,#ff6d6d,#ff7070,#ff8181,#ff9e9e,#ffc9c9,#ffcbcb,#ffcccc,#ffcdcd,#ffcfcf,#ffd0d0)"></i><i style="height:3px;background:linear-gradient(90deg,#ff5a5a,#ff5d5d,#ff6060,#ff6363,#ff6565,#ff6868,#ff6b6b,#ff6e6e,#ff7070,#ff8383,#ff9e9e,#ffcaca,#ffcbcb,#ffcdcd,#ffcece,#ffd0d0,#ffd1d1)"></i><i style="height:3px;background:linear-gradient(90deg,#ff5b5b,#ff5e5e,#ff6161,#ff6363,#ff6666,#ff6969,#ff6b6b,#ff6e6e,#ff7171,#ff8484,#ff9f9f,#ffcbcb,#ffcccc,#ffcece,#ffcfcf,#ffd0d0,#ffd2d2)"></i><i style="height:3px;background:linear-gradient(90deg,#ff5c5c,#ff5f5f,#ff6161,#ff6464,#ff6666,#ff6969,#ff6c6c,#ff6e6e,#ff7171,#ff8686,#ffa0a0,#ffcccc,#ffcdcd,#ffcfcf,#ffd0d0,#ffd1d1,#ffd3d3)"></i><i style="height:3px;background:linear-gradient(90deg,#ff5d5d,#ff5f5f,#ff6262,#ff6464,#ff6767,#ff6969,#ff6c6c,#ff6f6f,#ff7171,#ff8787,#ffa0a0,#ffcdcd,#ffcece,#ffcfcf,#ffd1d1,#ffd2d2,#ffd3d3)"></i><i style="height:3px;background:linear-gradient(90deg,#ff5e5e,#ff6060,#ff6363,#ff6565,#ff6868,#ff6a6a,#ff6c6c,#ff6f6f,#ff7171,#ff8888,#ffa1a1,#ffcece,#ffcfcf,#ffd0d0,#ffd2d2,#ffd3d3,#ffd4d4)"></i><i style="height:3px;background:linear-gradient(90deg,#ff5f5f,#ff6161,#ff6363,#ff6666,#ff6868,#ff6a6a,#ff6d6d,#ff6f6f,#ff7272,#ff8a8a,#ffa1a1,#ffcfcf,#ffd0d0,#ffd1d1,#ffd2d2,#ffd3d3,#ffd5d5)"></i><i style="height:3px;background:linear-gradient(90deg,#ff6060,#ff6262,#ff6464,#ff6666,#ff6969,#ff6b6b,#ff6d6d,#ff6f6f,#ff7575,#ff8b8b,#ffa2a2,#ffd0d0,#ffd1d1,#ffd2d2,#ffd3d3,#ffd4d4,#ffd5d5)"></i><i style="height:3px;background:linear-gradient(90deg,#ff6060,#ff6363,#ff6565,#ff6767,#ff6969,#ff6b6b,#ff6e6e,#ff7070,#ff7777,#ff8c8c,#ffa2a2,#ffd1d1,#ffd2d2,#ffd3d3,#ffd4d4,#ffd5d5,#ffd6d6)"></i><i style="height:3px;background:linear-gradient(90deg,#ff6161,#ff6363,#ff6565,#ff6868,#ff6a6a,#ff6c6c,#ff6e6e,#ff7070,#ff7979,#ff8e8e,#ffa3a3,#ffd1d1,#ffd3d3,#ffd4d4,#ffd5d5,#ffd6d6,#ffd7d7)"></i><i style="height:3px;background:linear-gradient(90deg,#ff6262,#ff6464,#ff6666,#ff6868,#ff6a6a,#ff6c6c,#ff6e6e,#ff7070,#ff7b7b,#ff8f8f,#ffa3a3,#ffd2d2,#ffd3d3,#ffd4d4,#ffd5d5,#ffd6d6,#ffd7d7)"></i><i style="height:3px;background:linear-gradient(90deg,#ff6363,#ff6565,#ff6767,#ff6969,#ff6b6b,#ff6d6d,#ff6f6f,#ff7171,#ff7d7d,#ff9090,#ffa4a4,#ffd3d3,#ffd4d4,#ffd5d5,#ffd6d6,#ffd7d7,#ffd8d8)"></i><i style="height:3px;background:linear-gradient(90deg,#ff6464,#ff6666,#ff6767,#ff6969,#ff6b6b,#ff6d6d,#ff6f6f,#ff7171,#ff7f7f,#ff9292,#ffa4a4,#ffd4d4,#ffd5d5,#ffd6d6,#ffd7d7,#ffd8d8,#ffd9d9)"></i><i style="height:3px;background:linear-gradient(90deg,#ff6565,#ff6666,#ff6868,#ff6a6a,#ff6c6c,#ff6d6d,#ff6f6f,#ff7171,#ff8181,#ff9393,#ffa5a5,#ffd5d5,#ffd6d6,#ffd7d7,#ffd8d8,#ffd8d8,#ffd9d9)"></i><i style="height:3px;background:linear-gradient(90deg,#ff6565,#ff6767,#ff6969,#ff6a6a,#ff6c6c,#ff6e6e,#ff7070,#ff7171,#ff8383,#ff9494,#ffa5a5,#ffd6d6,#ffd7d7,#ffd7d7,#ffd8d8,#ffd9d9,#ffdada)"></i><i style="height:3px;background:linear-gradient(90deg,#ff6666,#ff6868,#ff6969,#ff6b6b,#ff6d6d,#ff6e6e,#ff7070,#ff7474,#ff8585,#ff9595,#ffa6a6,#ffd6d6,#ffd7d7,#ffd8d8,#ffd9d9,#ffdada,#ffdbdb)"></i><i style="height:3px;background:linear-gradient(90deg,#ff6767,#ff6868,#ff6a6a,#ff6c6c,#ff6d6d,#ff6f6f,#ff7070,#ff7777,#ff8686,#ff9696,#ffa6a6,#ffd7d7,#ffd8d8,#ffd9d9,#ffdada,#ffdada,#ffdbdb)"></i><i style="height:3px;background:linear-gradient(90deg,#ff6868,#ff6969,#ff6b6b,#ff6c6c,#ff6e6e,#ff6f6f,#ff7171,#ff7979,#ff8888,#ff9797,#ffa7a7,#ffd8d8,#ffd9d9,#ffdada,#ffdada,#ffdbdb,#ffdcdc)"></i><i style="height:3px;background:linear-gradient(90deg,#ff6868,#ff6a6a,#ff6b6b,#ff6d6d,#ff6e6e,#ff6f6f,#ff7171,#ff7c7c,#ff8a8a,#ff9999,#ffa7a7,#ffd9d9,#ffdada,#ffdada,#ffdbdb,#ffdcdc,#ffdcdc)"></i><i style="height:3px;background:linear-gradient(90deg,#ff6969,#ff6a6a,#ff6c6c,#ff6d6d,#ff6e6e,#ff7070,#ff7171,#ff7e7e,#ff8c8c,#ff9a9a,#ffa7a7,#ffdada,#ffdada,#ffdbdb,#ffdcdc,#ffdcdc,#ffdddd)"></i><i style="height:3px;background:linear-gradient(90deg,#ff6a6a,#ff6b6b,#ff6c6c,#ff6e6e,#ff6f6f,#ff7070,#ff7474,#ff8181,#ff8e8e,#ff9b9b,#ffa8a8,#ffdada,#ffdbdb,#ffdcdc,#ffdcdc,#ffdddd,#ffdede)"></i><i style="height:3px;background:linear-gradient(90deg,#ff6a6a,#ff6c6c,#ff6d6d,#ff6e6e,#ff6f6f,#ff7171,#ff7777,#ff8383,#ff8f8f,#ff9c9c,#ffa8a8,#ffdbdb,#ffdcdc,#ffdcdc,#ffdddd,#ffdede,#ffdede)"></i><i style="height:3px;background:linear-gradient(90deg,#ff6b6b,#ff6c6c,#ff6d6d,#ff6f6f,#ff7070,#ff7171,#ff7979,#ff8585,#ff9191,#ff9d9d,#ffa9a9,#ffdcdc,#ffdcdc,#ffdddd,#ffdede,#ffdede,#ffdfdf)"></i><i style="height:3px;background:linear-gradient(90deg,#ff6c6c,#ff6d6d,#ff6e6e,#ff6f6f,#ff7070,#ff7171,#ff7c7c,#ff8888,#ff9393,#ff9e9e,#ffa9a9,#ffdcdc,#ffdddd,#ffdede,#ffdede,#ffdfdf,#ffdfdf)"></i><i style="height:3px;background:linear-gradient(90deg,#ff6c6c,#ff6d6d,#ff6e6e,#ff7070,#ff7171,#ff7575,#ff7f7f,#ff8a8a,#ff9494,#ff9f9f,#ffa9a9,#ffdddd,#ffdede,#ffdede,#ffdfdf,#ffdfdf,#ffe0e0)"></i><i style="height:3px;background:linear-gradient(90deg,#ff6d6d,#ff6e6e,#ff6f6f,#ff7070,#ff7171,#ff7878,#ff8282,#ff8c8c,#ff9696,#ffa0a0,#ffaaaa,#ffdede,#ffdede,#ffdfdf,#ffdfdf,#ffe0e0,#ffe0e0)"></i><i style="height:3px;background:linear-gradient(90deg,#ff6e6e,#ff6f6f,#ff7070,#ff7070,#ff7272,#ff7b7b,#ff8585,#ff8e8e,#ff9797,#ffa1a1,#ffacac,#ffdede,#ffdfdf,#ffdfdf,#ffe0e0,#ffe0e0,#ffe1e1)"></i><i style="height:3px;background:linear-gradient(90deg,#ff6e6e,#ff6f6f,#ff7070,#ff7171,#ff7676,#ff7e7e,#ff8787,#ff9090,#ff9999,#ffa2a2,#ffb0b0,#ffdfdf,#ffe0e0,#ffe0e0,#ffe0e0,#ffe1e1,#ffe1e1)"></i><i style="height:3px;background:linear-gradient(90deg,#ff6f6f,#ff7070,#ff7070,#ff7171,#ff7979,#ff8282,#ff8a8a,#ff9292,#ff9a9a,#ffa3a3,#ffb3b3,#ffe0e0,#ffe0e0,#ffe1e1,#ffe1e1,#ffe1e1,#ffe2e2)"></i><i style="height:3px;background:linear-gradient(90deg,#ff6f6f,#ff7070,#ff7171,#ff7575,#ff7d7d,#ff8585,#ff8c8c,#ff9494,#ff9c9c,#ffa4a4,#ffb7b7,#ffe0e0,#ffe1e1,#ffe1e1,#ffe1e1,#ffe2e2,#ffe2e2)"></i><i style="height:3px;background:linear-gradient(90deg,#ff7070,#ff7171,#ff7272,#ff7979,#ff8080,#ff8787,#ff8f8f,#ff9696,#ff9d9d,#ffa4a4,#ffbaba,#ffe1e1,#ffe1e1,#ffe2e2,#ffe2e2,#ffe2e2,#ffe3e3)"></i><i style="height:3px;background:linear-gradient(90deg,#ff7070,#ff7171,#ff7676,#ff7d7d,#ff8484,#ff8a8a,#ff9191,#ff9898,#ff9e9e,#ffa5a5,#ffbdbd,#ffe1e1,#ffe2e2,#ffe2e2,#ffe2e2,#ffe4e4,#ffe7e7)"></i><i style="height:3px;background:linear-gradient(90deg,#ff7171,#ff7474,#ff7a7a,#ff8181,#ff8787,#ff8d8d,#ff9393,#ff9a9a,#ffa0a0,#ffa6a6,#ffc1c1,#ffe2e2,#ffe2e2,#ffe3e3,#ffe5e5,#ffe8e8,#ffebeb)"></i><i style="height:3px;background:linear-gradient(90deg,#ff7373,#ff7979,#ff7e7e,#ff8484,#ff8a8a,#ff9090,#ff9595,#ff9b9b,#ffa1a1,#ffa7a7,#ffc4c4,#ffe2e2,#ffe4e4,#ffe7e7,#ffeaea,#ffeded,#ffefef)"></i><i style="height:3px;background:linear-gradient(90deg,#ff7777,#ff7d7d,#ff8282,#ff8787,#ff8d8d,#ff9292,#ff9797,#ff9d9d,#ffa2a2,#ffa8a8,#ffc6c6,#ffe6e6,#ffe9e9,#ffebeb,#ffeeee,#fff1f1,#fff3f3)"></i><i style="height:3px;background:linear-gradient(90deg,#ff7c7c,#ff8181,#ff8686,#ff8b8b,#ff9090,#ff9595,#ff9999,#ff9e9e,#ffa3a3,#ffa8a8,#ffc9c9,#ffebeb,#ffeded,#fff0f0,#fff2f2,#fff5f5,#fff7f7)"></i><i style="height:3px;background:linear-gradient(90deg,#ff8080,#ff8585,#ff8989,#ff8e8e,#ff9292,#ff9797,#ff9b9b,#ffa0a0,#ffa4a4,#ffa9a9,#ffcccc,#ffefef,#fff1f1,#fff4f4,#fff6f6,#fff8f8,#fffbfb)"></i><i style="height:3px;background:linear-gradient(90deg,#ff8484,#ff8888,#ff8d8d,#ff9191,#ff9595,#ff9999,#ff9d9d,#ffa1a1,#ffa5a5,#ffaaaa,#ffcece,#fff3f3,#fff6f6,#fff8f8,#fffafa,#fffcfc,#fffefe)"></i><i style="height:3px;background:linear-gradient(90deg,#ff8888,#ff8c8c,#ff9090,#ff9494,#ff9797,#ff9b9b,#ff9f9f,#ffa3a3,#ffa6a6,#ffabab,#ffd1d1,#fff8f8,#fff9f9,#fffbfb,#fffdfd,#ffffff,#fdfdff)"></i><i style="height:3px;background:linear-gradient(90deg,#ff8c8c,#ff8f8f,#ff9393,#ff9696,#ff9a9a,#ff9d9d,#ffa0a0,#ffa4a4,#ffa7a7,#ffb1b1,#ffd3d3,#fffbfb,#fffdfd,#ffffff,#fdfdff,#fcfcff,#fafaff)"></i><i style="height:2px;background:linear-gradient(90deg,#ff8f8f,#ff9292,#ff9595,#ff9898,#ff9b9b,#ff9f9f,#ffa2a2,#ffa5a5,#ffa8a8,#ffb5b5,#ffd5d5,#fffefe,#fefeff,#fcfcff,#fbfbff,#f9f9ff,#f8f8ff)"></i><i style="height:2px;background:linear-gradient(90deg,#ff9191,#ff9494,#ff9797,#ff9a9a,#ff9d9d,#ffa0a0,#ffa3a3,#ffa6a6,#ffa9a9,#ffb9b9,#ffd6d6,#fdfdff,#fcfcff,#fafaff,#f9f9ff,#f7f7ff,#f6f6ff)"></i><i style="height:2px;background:linear-gradient(90deg,#ff9393,#ff9696,#ff9999,#ff9b9b,#ff9e9e,#ffa1a1,#ffa4a4,#ffa6a6,#ffa9a9,#ffbcbc,#ffd7d7,#fbfbff,#fafaff,#f8f8ff,#f7f7ff,#f5f5ff,#f4f4ff)"></i><i style="height:2px;background:linear-gradient(90deg,#ff9595,#ff9898,#ff9a9a,#ff9d9d,#ff9f9f,#ffa2a2,#ffa4a4,#ffa7a7,#ffaaaa,#ffbfbf,#ffd8d8,#f9f9ff,#f8f8ff,#f6f6ff,#f5f5ff,#f4f4ff,#f2f2ff)"></i><i style="height:2px;background:linear-gradient(90deg,#ff9797,#ff9999,#ff9c9c,#ff9e9e,#ffa1a1,#ffa3a3,#ffa5a5,#ffa8a8,#ffaaaa,#ffc2c2,#ffdada,#f7f7ff,#f6f6ff,#f4f4ff,#f3f3ff,#f2f2ff,#f1f1ff)"></i><i style="height:2px;background:linear-gradient(90deg,#ff9999,#ff9b9b,#ff9d9d,#ff9f9f,#ffa2a2,#ffa4a4,#ffa6a6,#ffa8a8,#ffafaf,#ffc5c5,#ffdbdb,#f5f5ff,#f4f4ff,#f3f3ff,#f1f1ff,#f0f0ff,#efefff)"></i><i style="height:2px;background:linear-gradient(90deg,#ff9b9b,#ff9d9d,#ff9f9f,#ffa1a1,#ffa3a3,#ffa5a5,#ffa7a7,#ffa9a9,#ffb3b3,#ffc8c8,#ffdcdc,#f3f3ff,#f2f2ff,#f1f1ff,#f0f0ff,#efefff,#eeeeff)"></i><i style="height:2px;background:linear-gradient(90deg,#ff9d9d,#ff9e9e,#ffa0a0,#ffa2a2,#ffa4a4,#ffa6a6,#ffa8a8,#ffaaaa,#ffb8b8,#ffcaca,#ffdddd,#f1f1ff,#f0f0ff,#efefff,#eeeeff,#ededff,#ececff)"></i><i style="height:2px;background:linear-gradient(90deg,#ff9e9e,#ffa0a0,#ffa2a2,#ffa3a3,#ffa5a5,#ffa7a7,#ffa9a9,#ffacac,#ffbdbd,#ffcdcd,#ffdede,#efefff,#eeeeff,#ededff,#ececff,#ececff,#ebebff)"></i><i style="height:2px;background:linear-gradient(90deg,#ffa1a1,#ffa2a2,#ffa4a4,#ffa5a5,#ffa7a7,#ffa8a8,#ffaaaa,#ffb4b4,#ffc3c3,#ffd1d1,#ffe0e0,#ececff,#ececff,#ebebff,#eaeaff,#eaeaff,#e9e9ff)"></i><i style="height:2px;background:linear-gradient(90deg,#ffa4a4,#ffa5a5,#ffa6a6,#ffa7a7,#ffa9a9,#ffaaaa,#ffb2b2,#ffbebe,#ffcaca,#ffd6d6,#ffe1e1,#eaeaff,#e9e9ff,#e9e9ff,#e8e8ff,#e8e8ff,#e7e7ff)"></i><i style="height:2px;background:linear-gradient(90deg,#ffa9a9,#ffa9a9,#ffacac,#ffb3b3,#ffbaba,#ffc1c1,#ffc8c8,#ffcfcf,#ffd6d6,#ffdddd,#fff2f2,#e7e7ff,#e6e6ff,#e6e6ff,#e6e6ff,#e5e5ff,#e5e5ff)"></i><i style="height:2px;background:linear-gradient(90deg,#ffc4c4,#ffc7c7,#ffcbcb,#ffcece,#ffd1d1,#ffd5d5,#ffd8d8,#ffdcdc,#ffdfdf,#ffe4e4,#f7f7ff,#e4e4ff,#e4e4ff,#e4e4ff,#e4e4ff,#e3e3ff,#e3e3ff)"></i><i style="height:2px;background:linear-gradient(90deg,#ffdede,#ffdfdf,#ffe0e0,#ffe1e1,#ffe2e2,#ffe5e5,#ffefef,#fff9f9,#fcfcff,#f2f2ff,#e8e8ff,#e3e3ff,#e1e1ff,#e0e0ff,#dfdfff,#dedeff,#dcdcff)"></i><i style="height:2px;background:linear-gradient(90deg,#ffd5d5,#ffd7d7,#ffd9d9,#ffdbdb,#ffdddd,#ffdede,#ffe0e0,#ffe2e2,#ffeded,#ffffff,#ededff,#e3e3ff,#e3e3ff,#e3e3ff,#e2e2ff,#e0e0ff,#dedeff)"></i><i style="height:2px;background:linear-gradient(90deg,#ffbfbf,#ffc3c3,#ffc6c6,#ffcaca,#ffcece,#ffd2d2,#ffd6d6,#ffdada,#ffdede,#ffe2e2,#f9f9ff,#e4e4ff,#e3e3ff,#e3e3ff,#e3e3ff,#e3e3ff,#e0e0ff)"></i><i style="height:2px;background:linear-gradient(90deg,#ffa9a9,#ffaaaa,#ffafaf,#ffb6b6,#ffbcbc,#ffc3c3,#ffcaca,#ffd0d0,#ffd7d7,#ffdede,#fff6f6,#e4e4ff,#e4e4ff,#e4e4ff,#e3e3ff,#e3e3ff,#e2e2ff)"></i><i style="height:2px;background:linear-gradient(90deg,#ffa9a9,#ffaaaa,#ffadad,#ffb4b4,#ffbbbb,#ffc2c2,#ffc9c9,#ffd0d0,#ffd7d7,#ffdede,#fff5f5,#e4e4ff,#e4e4ff,#e4e4ff,#e3e3ff,#e3e3ff,#e1e1ff)"></i><i style="height:2px;background:linear-gradient(90deg,#ffa9a9,#ffaaaa,#ffadad,#ffb4b4,#ffbbbb,#ffc2c2,#ffc9c9,#ffd0d0,#ffd7d7,#ffdede,#fff5f5,#e4e4ff,#e4e4ff,#e3e3ff,#e3e3ff,#e3e3ff,#e0e0ff)"></i><i style="height:2px;background:linear-gradient(90deg,#ffa9a9,#ffaaaa,#ffafaf,#ffb5b5,#ffbcbc,#ffc3c3,#ffcaca,#ffd0d0,#ffd7d7,#ffdede,#fff6f6,#e4e4ff,#e4e4ff,#e3e3ff,#e3e3ff,#e1e1ff,#dedeff)"></i><i style="height:2px;background:linear-gradient(90deg,#ffa9a9,#ffaaaa,#ffb0b0,#ffb7b7,#ffbebe,#ffc4c4,#ffcbcb,#ffd1d1,#ffd8d8,#ffdede,#fff7f7,#e4e4ff,#e3e3ff,#e3e3ff,#e3e3ff,#dfdfff,#dcdcff)"></i><i style="height:2px;background:linear-gradient(90deg,#ffaaaa,#ffacac,#ffb2b2,#ffb8b8,#ffbfbf,#ffc5c5,#ffcbcb,#ffd2d2,#ffd8d8,#ffdfdf,#fff9f9,#e3e3ff,#e3e3ff,#e3e3ff,#e1e1ff,#dedeff,#dadaff)"></i><i style="height:2px;background:linear-gradient(90deg,#ffaaaa,#ffadad,#ffb3b3,#ffbaba,#ffc0c0,#ffc6c6,#ffcccc,#ffd2d2,#ffd9d9,#ffdfdf,#fffafa,#e3e3ff,#e3e3ff,#e2e2ff,#dfdfff,#dcdcff,#d9d9ff)"></i><i style="height:2px;background:linear-gradient(90deg,#ffaaaa,#ffaeae,#ffb4b4,#ffbaba,#ffc0c0,#ffc6c6,#ffcdcd,#ffd3d3,#ffd9d9,#ffdfdf,#fffafa,#e3e3ff,#e3e3ff,#e1e1ff,#dedeff,#dbdbff,#d8d8ff)"></i><i style="height:2px;background:linear-gradient(90deg,#ffaaaa,#ffaeae,#ffb4b4,#ffbaba,#ffc0c0,#ffc6c6,#ffcdcd,#ffd3d3,#ffd9d9,#ffdfdf,#fffafa,#e3e3ff,#e3e3ff,#e1e1ff,#dedeff,#dbdbff,#d8d8ff)"></i><i style="height:2px;background:linear-gradient(90deg,#ffaaaa,#ffadad,#ffb3b3,#ffb9b9,#ffc0c0,#ffc6c6,#ffcccc,#ffd2d2,#ffd9d9,#ffdfdf,#fffafa,#e3e3ff,#e3e3ff,#e2e2ff,#dfdfff,#dcdcff,#d9d9ff)"></i><i style="height:2px;background:linear-gradient(90deg,#ffa9a9,#ffaaaa,#ffb0b0,#ffb7b7,#ffbdbd,#ffc4c4,#ffcbcb,#ffd1d1,#ffd8d8,#ffdede,#fff7f7,#e4e4ff,#e3e3ff,#e3e3ff,#e2e2ff,#dfdfff,#dbdbff)"></i><i style="height:2px;background:linear-gradient(90deg,#ffa9a9,#ffa9a9,#ffacac,#ffb3b3,#ffbaba,#ffc1c1,#ffc8c8,#ffcfcf,#ffd6d6,#ffdddd,#fff4f4,#e4e4ff,#e4e4ff,#e3e3ff,#e3e3ff,#e3e3ff,#e0e0ff)"></i><i style="height:2px;background:linear-gradient(90deg,#ffa8a8,#ffa9a9,#ffa9a9,#ffadad,#ffb4b4,#ffbcbc,#ffc4c4,#ffcccc,#ffd4d4,#ffdcdc,#ffefef,#e5e5ff,#e5e5ff,#e4e4ff,#e4e4ff,#e3e3ff,#e3e3ff)"></i><i style="height:1px;background:linear-gradient(90deg,#ffa6a6,#ffa7a7,#ffa8a8,#ffa9a9,#ffabab,#ffb5b5,#ffbebe,#ffc7c7,#ffd0d0,#ffdada,#ffe6e6,#e7e7ff,#e6e6ff,#e6e6ff,#e5e5ff,#e5e5ff,#e4e4ff)"></i><i style="height:1px;background:linear-gradient(90deg,#ffa5a5,#ffa6a6,#ffa7a7,#ffa8a8,#ffa9a9,#ffafaf,#ffb9b9,#ffc4c4,#ffcece,#ffd8d8,#ffe2e2,#e8e8ff,#e7e7ff,#e7e7ff,#e6e6ff,#e6e6ff,#e5e5ff)"></i><i style="height:1px;background:linear-gradient(90deg,#ffa3a3,#ffa5a5,#ffa6a6,#ffa7a7,#ffa8a8,#ffaaaa,#ffb1b1,#ffbdbd,#ffc9c9,#ffd5d5,#ffe1e1,#eaeaff,#e9e9ff,#e8e8ff,#e8e8ff,#e7e7ff,#e6e6ff)"></i><i style="height:1px;background:linear-gradient(90deg,#ffa0a0,#ffa2a2,#ffa3a3,#ffa5a5,#ffa6a6,#ffa8a8,#ffa9a9,#ffb2b2,#ffc1c1,#ffd0d0,#ffdfdf,#ededff,#ececff,#ebebff,#ebebff,#eaeaff,#e9e9ff)"></i><i style="height:1px;background:linear-gradient(90deg,#ff9d9d,#ff9f9f,#ffa0a0,#ffa2a2,#ffa4a4,#ffa6a6,#ffa8a8,#ffaaaa,#ffb8b8,#ffcbcb,#ffdddd,#f1f1ff,#f0f0ff,#efefff,#eeeeff,#ededff,#ececff)"></i><i style="height:1px;background:linear-gradient(90deg,#ff6e6e,#ff6f6f,#ff7070,#ff7171,#ff7373,#ff7c7c,#ff8585,#ff8f8f,#ff9898,#ffa1a1,#ffaeae,#ffdfdf,#ffdfdf,#ffe0e0,#ffe0e0,#ffe1e1,#ffe1e1)"></i><i style="height:1px;background:linear-gradient(90deg,#ff5757,#ff5a5a,#ff5d5d,#ff6060,#ff6363,#ff6666,#ff6969,#ff6c6c,#ff7070,#ff7e7e,#ff9d9d,#ffc7c7,#ffc9c9,#ffcbcb,#ffcccc,#ffcece,#ffcfcf)"></i><i style="height:0.2px;background:linear-gradient(90deg,#ff4949,#ff4e4e,#ff5252,#ff5656,#ff5b5b,#ff5f5f,#ff6363,#ff6868,#ff6c6c,#ff7070,#ff9494,#ffb9b9,#ffbcbc,#ffbebe,#ffc0c0,#ffc2c2,#ffc5c5)"></i></div><div class="h" style="left:666.4px;top:389px;width:274.7px;height:278.7px"><i style="height:3px;background:linear-gradient(90deg,#ffa9a9,#ffbcbc,#ffc7c7,#ffcece,#ffd2d2,#ffd6d6,#ffd8d8,#ffdada,#ffdbdb,#ffdddd,#ffdede,#ffdfdf,#ffdfdf,#ffe0e0,#ffe0e0,#ffe1e1,#ffe1e1,#ffe2e2,#ffe2e2,#ffe2e2,#ffe3e3,#ffe6e6,#ffe8e8,#ffeaea,#ffecec,#ffeeee,#fff0f0,#fff1f1,#fff3f3,#fff4f4,#fff5f5,#fff7f7,#fff8f8,#fff9f9,#fffafa)"></i><i style="height:3px;background:linear-gradient(90deg,#ffa9a9,#ffbdbd,#ffc8c8,#ffcece,#ffd3d3,#ffd6d6,#ffd8d8,#ffdada,#ffdcdc,#ffdddd,#ffdede,#ffdfdf,#ffdfdf,#ffe0e0,#ffe1e1,#ffe1e1,#ffe2e2,#ffe2e2,#ffe2e2,#ffe3e3,#ffe4e4,#ffe7e7,#ffe9e9,#ffebeb,#ffeded,#ffefef,#fff1f1,#fff2f2,#fff4f4,#fff5f5,#fff6f6,#fff8f8,#fff9f9,#fffafa,#fffbfb)"></i><i style="height:3px;background:linear-gradient(90deg,#ffa9a9,#ffbebe,#ffc8c8,#ffcfcf,#ffd3d3,#ffd6d6,#ffd9d9,#ffdbdb,#ffdcdc,#ffdddd,#ffdede,#ffdfdf,#ffe0e0,#ffe0e0,#ffe1e1,#ffe1e1,#ffe2e2,#ffe2e2,#ffe2e2,#ffe3e3,#ffe5e5,#ffe8e8,#ffeaea,#ffecec,#ffeeee,#fff0f0,#fff2f2,#fff3f3,#fff5f5,#fff6f6,#fff7f7,#fff8f8,#fff9f9,#fffafa,#fffbfb)"></i><i style="height:3px;background:linear-gradient(90deg,#ffa9a9,#ffbfbf,#ffc9c9,#ffcfcf,#ffd4d4,#ffd7d7,#ffd9d9,#ffdbdb,#ffdcdc,#ffdddd,#ffdede,#ffdfdf,#ffe0e0,#ffe0e0,#ffe1e1,#ffe1e1,#ffe2e2,#ffe2e2,#ffe3e3,#ffe4e4,#ffe7e7,#ffe9e9,#ffebeb,#ffeded,#ffefef,#fff1f1,#fff3f3,#fff4f4,#fff5f5,#fff7f7,#fff8f8,#fff9f9,#fffafa,#fffbfb,#fffcfc)"></i><i style="height:3px;background:linear-gradient(90deg,#ffaaaa,#ffc0c0,#ffcaca,#ffd0d0,#ffd4d4,#ffd7d7,#ffd9d9,#ffdbdb,#ffdddd,#ffdede,#ffdfdf,#ffdfdf,#ffe0e0,#ffe1e1,#ffe1e1,#ffe2e2,#ffe2e2,#ffe2e2,#ffe3e3,#ffe5e5,#ffe8e8,#ffeaea,#ffecec,#ffeeee,#fff0f0,#fff2f2,#fff4f4,#fff5f5,#fff6f6,#fff8f8,#fff9f9,#fffafa,#fffbfb,#fffcfc,#fffdfd)"></i><i style="height:3px;background:linear-gradient(90deg,#ffaaaa,#ffc1c1,#ffcaca,#ffd0d0,#ffd5d5,#ffd8d8,#ffdada,#ffdbdb,#ffdddd,#ffdede,#ffdfdf,#ffe0e0,#ffe0e0,#ffe1e1,#ffe1e1,#ffe2e2,#ffe2e2,#ffe2e2,#ffe4e4,#ffe6e6,#ffe9e9,#ffebeb,#ffeeee,#ffefef,#fff1f1,#fff3f3,#fff4f4,#fff6f6,#fff7f7,#fff8f8,#fffafa,#fffbfb,#fffcfc,#fffdfd,#fffefe)"></i><i style="height:3px;background:linear-gradient(90deg,#ffaaaa,#ffc1c1,#ffcbcb,#ffd1d1,#ffd5d5,#ffd8d8,#ffdada,#ffdcdc,#ffdddd,#ffdede,#ffdfdf,#ffe0e0,#ffe0e0,#ffe1e1,#ffe1e1,#ffe2e2,#ffe2e2,#ffe3e3,#ffe5e5,#ffe8e8,#ffeaea,#ffeded,#ffefef,#fff0f0,#fff2f2,#fff4f4,#fff5f5,#fff7f7,#fff8f8,#fff9f9,#fffafa,#fffbfb,#fffcfc,#fffdfd,#fffefe)"></i><i style="height:3px;background:linear-gradient(90deg,#ffaaaa,#ffc2c2,#ffcccc,#ffd1d1,#ffd6d6,#ffd8d8,#ffdada,#ffdcdc,#ffdddd,#ffdede,#ffdfdf,#ffe0e0,#ffe1e1,#ffe1e1,#ffe2e2,#ffe2e2,#ffe2e2,#ffe3e3,#ffe6e6,#ffe9e9,#ffebeb,#ffeeee,#fff0f0,#fff2f2,#fff3f3,#fff5f5,#fff6f6,#fff8f8,#fff9f9,#fffafa,#fffbfb,#fffcfc,#fffdfd,#fffefe,#ffffff)"></i><i style="height:3px;background:linear-gradient(90deg,#ffabab,#ffc3c3,#ffcccc,#ffd2d2,#ffd6d6,#ffd9d9,#ffdbdb,#ffdcdc,#ffdede,#ffdfdf,#ffdfdf,#ffe0e0,#ffe1e1,#ffe1e1,#ffe2e2,#ffe2e2,#ffe3e3,#ffe5e5,#ffe8e8,#ffeaea,#ffeded,#ffefef,#fff1f1,#fff3f3,#fff4f4,#fff6f6,#fff7f7,#fff9f9,#fffafa,#fffbfb,#fffcfc,#fffdfd,#fffefe,#ffffff,#fefeff)"></i><i style="height:3px;background:linear-gradient(90deg,#ffacac,#ffc4c4,#ffcdcd,#ffd2d2,#ffd6d6,#ffd9d9,#ffdbdb,#ffdddd,#ffdede,#ffdfdf,#ffe0e0,#ffe0e0,#ffe1e1,#ffe1e1,#ffe2e2,#ffe2e2,#ffe3e3,#ffe6e6,#ffe9e9,#ffebeb,#ffeeee,#fff0f0,#fff2f2,#fff4f4,#fff5f5,#fff7f7,#fff8f8,#fff9f9,#fffbfb,#fffcfc,#fffdfd,#fffefe,#ffffff,#fefeff,#fefeff)"></i><i style="height:3px;background:linear-gradient(90deg,#ffaeae,#ffc5c5,#ffcdcd,#ffd3d3,#ffd7d7,#ffd9d9,#ffdbdb,#ffdddd,#ffdede,#ffdfdf,#ffe0e0,#ffe1e1,#ffe1e1,#ffe2e2,#ffe2e2,#ffe2e2,#ffe4e4,#ffe7e7,#ffeaea,#ffecec,#ffefef,#fff1f1,#fff3f3,#fff5f5,#fff6f6,#fff8f8,#fff9f9,#fffafa,#fffbfb,#fffdfd,#fffefe,#ffffff,#ffffff,#fefeff,#fdfdff)"></i><i style="height:3px;background:linear-gradient(90deg,#ffafaf,#ffc6c6,#ffcece,#ffd3d3,#ffd7d7,#ffdada,#ffdcdc,#ffdddd,#ffdede,#ffdfdf,#ffe0e0,#ffe1e1,#ffe1e1,#ffe2e2,#ffe2e2,#ffe3e3,#ffe5e5,#ffe8e8,#ffebeb,#ffeeee,#fff0f0,#fff2f2,#fff4f4,#fff5f5,#fff7f7,#fff9f9,#fffafa,#fffbfb,#fffcfc,#fffdfd,#fffefe,#ffffff,#fefeff,#fdfdff,#fcfcff)"></i><i style="height:3px;background:linear-gradient(90deg,#ffb0b0,#ffc6c6,#ffcfcf,#ffd4d4,#ffd8d8,#ffdada,#ffdcdc,#ffdddd,#ffdfdf,#ffdfdf,#ffe0e0,#ffe1e1,#ffe1e1,#ffe2e2,#ffe2e2,#ffe3e3,#ffe7e7,#ffeaea,#ffecec,#ffefef,#fff1f1,#fff3f3,#fff5f5,#fff6f6,#fff8f8,#fff9f9,#fffbfb,#fffcfc,#fffdfd,#fffefe,#ffffff,#fefeff,#fdfdff,#fcfcff,#fcfcff)"></i><i style="height:3px;background:linear-gradient(90deg,#ffb2b2,#ffc7c7,#ffcfcf,#ffd4d4,#ffd8d8,#ffdada,#ffdcdc,#ffdede,#ffdfdf,#ffe0e0,#ffe0e0,#ffe1e1,#ffe2e2,#ffe2e2,#ffe3e3,#ffe5e5,#ffe8e8,#ffebeb,#ffeeee,#fff0f0,#fff2f2,#fff4f4,#fff6f6,#fff7f7,#fff9f9,#fffafa,#fffcfc,#fffdfd,#fffefe,#ffffff,#fefeff,#fdfdff,#fcfcff,#fcfcff,#fbfbff)"></i><i style="height:3px;background:linear-gradient(90deg,#ffb3b3,#ffc8c8,#ffd0d0,#ffd5d5,#ffd8d8,#ffdbdb,#ffdcdc,#ffdede,#ffdfdf,#ffe0e0,#ffe1e1,#ffe1e1,#ffe2e2,#ffe2e2,#ffe3e3,#ffe6e6,#ffe9e9,#ffecec,#ffefef,#fff1f1,#fff3f3,#fff5f5,#fff7f7,#fff8f8,#fffafa,#fffbfb,#fffcfc,#fffefe,#ffffff,#fefeff,#fdfdff,#fdfdff,#fcfcff,#fbfbff,#fafaff)"></i><i style="height:3px;background:linear-gradient(90deg,#ffb4b4,#ffc9c9,#ffd0d0,#ffd5d5,#ffd9d9,#ffdbdb,#ffdddd,#ffdede,#ffdfdf,#ffe0e0,#ffe1e1,#ffe1e1,#ffe2e2,#ffe2e2,#ffe4e4,#ffe8e8,#ffebeb,#ffeded,#fff0f0,#fff2f2,#fff4f4,#fff6f6,#fff8f8,#fff9f9,#fffbfb,#fffcfc,#fffdfd,#fffefe,#ffffff,#fefeff,#fdfdff,#fcfcff,#fbfbff,#fafaff,#fafaff)"></i><i style="height:3px;background:linear-gradient(90deg,#ffb6b6,#ffc9c9,#ffd1d1,#ffd6d6,#ffd9d9,#ffdbdb,#ffdddd,#ffdede,#ffdfdf,#ffe0e0,#ffe1e1,#ffe2e2,#ffe2e2,#ffe3e3,#ffe6e6,#ffe9e9,#ffecec,#ffefef,#fff1f1,#fff3f3,#fff5f5,#fff7f7,#fff9f9,#fffafa,#fffcfc,#fffdfd,#fffefe,#ffffff,#fefeff,#fdfdff,#fcfcff,#fbfbff,#fafaff,#fafaff,#f9f9ff)"></i><i style="height:3px;background:linear-gradient(90deg,#ffb7b7,#ffcaca,#ffd2d2,#ffd6d6,#ffdada,#ffdcdc,#ffdddd,#ffdfdf,#ffe0e0,#ffe1e1,#ffe1e1,#ffe2e2,#ffe2e2,#ffe3e3,#ffe7e7,#ffeaea,#ffeded,#fff0f0,#fff2f2,#fff4f4,#fff6f6,#fff8f8,#fffafa,#fffbfb,#fffdfd,#fffefe,#ffffff,#fefeff,#fdfdff,#fcfcff,#fbfbff,#fafaff,#fafaff,#f9f9ff,#f8f8ff)"></i><i style="height:3px;background:linear-gradient(90deg,#ffb8b8,#ffcbcb,#ffd2d2,#ffd7d7,#ffdada,#ffdcdc,#ffdede,#ffdfdf,#ffe0e0,#ffe1e1,#ffe1e1,#ffe2e2,#ffe2e2,#ffe5e5,#ffe8e8,#ffecec,#ffefef,#fff1f1,#fff3f3,#fff5f5,#fff7f7,#fff9f9,#fffbfb,#fffcfc,#fffdfd,#ffffff,#fefeff,#fdfdff,#fcfcff,#fbfbff,#fbfbff,#fafaff,#f9f9ff,#f8f8ff,#f8f8ff)"></i><i style="height:3px;background:linear-gradient(90deg,#ffb9b9,#ffcccc,#ffd3d3,#ffd7d7,#ffdada,#ffdcdc,#ffdede,#ffdfdf,#ffe0e0,#ffe1e1,#ffe2e2,#ffe2e2,#ffe3e3,#ffe6e6,#ffeaea,#ffeded,#fff0f0,#fff2f2,#fff5f5,#fff7f7,#fff8f8,#fffafa,#fffcfc,#fffdfd,#fffefe,#ffffff,#fdfdff,#fcfcff,#fcfcff,#fbfbff,#fafaff,#f9f9ff,#f8f8ff,#f8f8ff,#f7f7ff)"></i><i style="height:3px;background:linear-gradient(90deg,#ffbaba,#ffcccc,#ffd3d3,#ffd8d8,#ffdbdb,#ffdddd,#ffdede,#ffdfdf,#ffe0e0,#ffe1e1,#ffe2e2,#ffe2e2,#ffe4e4,#ffe8e8,#ffebeb,#ffeeee,#fff1f1,#fff3f3,#fff6f6,#fff8f8,#fff9f9,#fffbfb,#fffcfc,#fffefe,#ffffff,#fefeff,#fdfdff,#fcfcff,#fbfbff,#fafaff,#f9f9ff,#f8f8ff,#f8f8ff,#f7f7ff,#f6f6ff)"></i><i style="height:3px;background:linear-gradient(90deg,#ffbcbc,#ffcdcd,#ffd4d4,#ffd8d8,#ffdbdb,#ffdddd,#ffdede,#ffe0e0,#ffe1e1,#ffe1e1,#ffe2e2,#ffe2e2,#ffe5e5,#ffe9e9,#ffeded,#fff0f0,#fff2f2,#fff5f5,#fff7f7,#fff9f9,#fffafa,#fffcfc,#fffdfd,#ffffff,#fefeff,#fdfdff,#fcfcff,#fbfbff,#fafaff,#f9f9ff,#f8f8ff,#f8f8ff,#f7f7ff,#f6f6ff,#f6f6ff)"></i><i style="height:3px;background:linear-gradient(90deg,#ffbdbd,#ffcece,#ffd4d4,#ffd9d9,#ffdbdb,#ffdddd,#ffdfdf,#ffe0e0,#ffe1e1,#ffe2e2,#ffe2e2,#ffe3e3,#ffe7e7,#ffebeb,#ffeeee,#fff1f1,#fff3f3,#fff6f6,#fff8f8,#fffafa,#fffbfb,#fffdfd,#fffefe,#fefeff,#fdfdff,#fcfcff,#fbfbff,#fafaff,#f9f9ff,#f9f9ff,#f8f8ff,#f7f7ff,#f6f6ff,#f6f6ff,#f5f5ff)"></i><i style="height:3px;background:linear-gradient(90deg,#ffbebe,#ffcfcf,#ffd5d5,#ffd9d9,#ffdcdc,#ffdede,#ffdfdf,#ffe0e0,#ffe1e1,#ffe2e2,#ffe2e2,#ffe4e4,#ffe8e8,#ffecec,#ffefef,#fff2f2,#fff5f5,#fff7f7,#fff9f9,#fffbfb,#fffcfc,#fffefe,#ffffff,#fefeff,#fcfcff,#fbfbff,#fafaff,#f9f9ff,#f9f9ff,#f8f8ff,#f7f7ff,#f6f6ff,#f6f6ff,#f5f5ff,#f5f5ff)"></i><i style="height:3px;background:linear-gradient(90deg,#ffbfbf,#ffcfcf,#ffd6d6,#ffd9d9,#ffdcdc,#ffdede,#ffdfdf,#ffe0e0,#ffe1e1,#ffe2e2,#ffe2e2,#ffe6e6,#ffeaea,#ffeded,#fff1f1,#fff3f3,#fff6f6,#fff8f8,#fffafa,#fffcfc,#fffdfd,#ffffff,#fefeff,#fdfdff,#fcfcff,#fbfbff,#fafaff,#f9f9ff,#f8f8ff,#f7f7ff,#f6f6ff,#f6f6ff,#f5f5ff,#f5f5ff,#f4f4ff)"></i><i style="height:3px;background:linear-gradient(90deg,#ffc0c0,#ffd0d0,#ffd6d6,#ffdada,#ffdcdc,#ffdede,#ffe0e0,#ffe1e1,#ffe1e1,#ffe2e2,#ffe3e3,#ffe7e7,#ffebeb,#ffefef,#fff2f2,#fff5f5,#fff7f7,#fff9f9,#fffbfb,#fffdfd,#fffefe,#fefeff,#fdfdff,#fcfcff,#fbfbff,#fafaff,#f9f9ff,#f8f8ff,#f7f7ff,#f7f7ff,#f6f6ff,#f5f5ff,#f5f5ff,#f4f4ff,#f4f4ff)"></i><i style="height:3px;background:linear-gradient(90deg,#ffc1c1,#ffd1d1,#ffd7d7,#ffdada,#ffdddd,#ffdfdf,#ffe0e0,#ffe1e1,#ffe2e2,#ffe2e2,#ffe4e4,#ffe9e9,#ffeded,#fff0f0,#fff3f3,#fff6f6,#fff8f8,#fffafa,#fffcfc,#fffefe,#ffffff,#fdfdff,#fcfcff,#fbfbff,#fafaff,#f9f9ff,#f8f8ff,#f7f7ff,#f7f7ff,#f6f6ff,#f5f5ff,#f5f5ff,#f4f4ff,#f3f3ff,#f3f3ff)"></i><i style="height:3px;background:linear-gradient(90deg,#ffc2c2,#ffd1d1,#ffd7d7,#ffdbdb,#ffdddd,#ffdfdf,#ffe0e0,#ffe1e1,#ffe2e2,#ffe2e2,#ffe6e6,#ffebeb,#ffeeee,#fff2f2,#fff5f5,#fff7f7,#fff9f9,#fffbfb,#fffdfd,#ffffff,#fefeff,#fdfdff,#fbfbff,#fafaff,#f9f9ff,#f8f8ff,#f7f7ff,#f7f7ff,#f6f6ff,#f5f5ff,#f5f5ff,#f4f4ff,#f3f3ff,#f3f3ff,#f2f2ff)"></i><i style="height:3px;background:linear-gradient(90deg,#ffc4c4,#ffd2d2,#ffd8d8,#ffdbdb,#ffdddd,#ffdfdf,#ffe0e0,#ffe1e1,#ffe2e2,#ffe3e3,#ffe8e8,#ffecec,#fff0f0,#fff3f3,#fff6f6,#fff8f8,#fffafa,#fffcfc,#fffefe,#fefeff,#fdfdff,#fcfcff,#fbfbff,#f9f9ff,#f8f8ff,#f8f8ff,#f7f7ff,#f6f6ff,#f5f5ff,#f5f5ff,#f4f4ff,#f3f3ff,#f3f3ff,#f2f2ff,#f2f2ff)"></i><i style="height:3px;background:linear-gradient(90deg,#ffc5c5,#ffd3d3,#ffd8d8,#ffdbdb,#ffdede,#ffdfdf,#ffe1e1,#ffe1e1,#ffe2e2,#ffe4e4,#ffe9e9,#ffeeee,#fff1f1,#fff4f4,#fff7f7,#fff9f9,#fffbfb,#fffdfd,#ffffff,#fdfdff,#fcfcff,#fbfbff,#fafaff,#f9f9ff,#f8f8ff,#f7f7ff,#f6f6ff,#f5f5ff,#f5f5ff,#f4f4ff,#f3f3ff,#f3f3ff,#f2f2ff,#f2f2ff,#f1f1ff)"></i><i style="height:3px;background:linear-gradient(90deg,#ffc6c6,#ffd3d3,#ffd9d9,#ffdcdc,#ffdede,#ffe0e0,#ffe1e1,#ffe2e2,#ffe2e2,#ffe6e6,#ffebeb,#ffefef,#fff3f3,#fff6f6,#fff8f8,#fffbfb,#fffdfd,#fffefe,#fefeff,#fdfdff,#fbfbff,#fafaff,#f9f9ff,#f8f8ff,#f7f7ff,#f6f6ff,#f5f5ff,#f5f5ff,#f4f4ff,#f3f3ff,#f3f3ff,#f2f2ff,#f2f2ff,#f1f1ff,#f1f1ff)"></i><i style="height:3px;background:linear-gradient(90deg,#ffc7c7,#ffd4d4,#ffd9d9,#ffdcdc,#ffdede,#ffe0e0,#ffe1e1,#ffe2e2,#ffe3e3,#ffe8e8,#ffeded,#fff1f1,#fff4f4,#fff7f7,#fff9f9,#fffcfc,#fffefe,#ffffff,#fdfdff,#fcfcff,#fafaff,#f9f9ff,#f8f8ff,#f7f7ff,#f6f6ff,#f5f5ff,#f5f5ff,#f4f4ff,#f3f3ff,#f3f3ff,#f2f2ff,#f2f2ff,#f1f1ff,#f1f1ff,#f0f0ff)"></i><i style="height:3px;background:linear-gradient(90deg,#ffc8c8,#ffd5d5,#ffdada,#ffdddd,#ffdfdf,#ffe0e0,#ffe1e1,#ffe2e2,#ffe4e4,#ffeaea,#ffeeee,#fff2f2,#fff5f5,#fff8f8,#fffbfb,#fffdfd,#ffffff,#fefeff,#fcfcff,#fbfbff,#f9f9ff,#f8f8ff,#f7f7ff,#f6f6ff,#f5f5ff,#f5f5ff,#f4f4ff,#f3f3ff,#f3f3ff,#f2f2ff,#f2f2ff,#f1f1ff,#f1f1ff,#f0f0ff,#f0f0ff)"></i><i style="height:3px;background:linear-gradient(90deg,#ffc9c9,#ffd5d5,#ffdada,#ffdddd,#ffdfdf,#ffe1e1,#ffe2e2,#ffe2e2,#ffe6e6,#ffebeb,#fff0f0,#fff4f4,#fff7f7,#fff9f9,#fffcfc,#fffefe,#fefeff,#fdfdff,#fbfbff,#fafaff,#f9f9ff,#f7f7ff,#f6f6ff,#f6f6ff,#f5f5ff,#f4f4ff,#f3f3ff,#f3f3ff,#f2f2ff,#f1f1ff,#f1f1ff,#f0f0ff,#f0f0ff,#f0f0ff,#efefff)"></i><i style="height:3px;background:linear-gradient(90deg,#ffcaca,#ffd6d6,#ffdbdb,#ffdddd,#ffdfdf,#ffe1e1,#ffe2e2,#ffe3e3,#ffe8e8,#ffeded,#fff1f1,#fff5f5,#fff8f8,#fffbfb,#fffdfd,#ffffff,#fdfdff,#fcfcff,#fafaff,#f9f9ff,#f8f8ff,#f7f7ff,#f6f6ff,#f5f5ff,#f4f4ff,#f3f3ff,#f3f3ff,#f2f2ff,#f1f1ff,#f1f1ff,#f0f0ff,#f0f0ff,#efefff,#efefff,#efefff)"></i><i style="height:3px;background:linear-gradient(90deg,#ffcbcb,#ffd7d7,#ffdbdb,#ffdede,#ffe0e0,#ffe1e1,#ffe2e2,#ffe4e4,#ffeaea,#ffefef,#fff3f3,#fff6f6,#fff9f9,#fffcfc,#fffefe,#fefeff,#fcfcff,#fbfbff,#f9f9ff,#f8f8ff,#f7f7ff,#f6f6ff,#f5f5ff,#f4f4ff,#f3f3ff,#f3f3ff,#f2f2ff,#f1f1ff,#f1f1ff,#f0f0ff,#f0f0ff,#efefff,#efefff,#efefff,#eeeeff)"></i><i style="height:3px;background:linear-gradient(90deg,#ffcccc,#ffd7d7,#ffdbdb,#ffdede,#ffe0e0,#ffe1e1,#ffe2e2,#ffe6e6,#ffecec,#fff0f0,#fff4f4,#fff8f8,#fffbfb,#fffdfd,#ffffff,#fdfdff,#fbfbff,#fafaff,#f8f8ff,#f7f7ff,#f6f6ff,#f5f5ff,#f4f4ff,#f3f3ff,#f3f3ff,#f2f2ff,#f1f1ff,#f1f1ff,#f0f0ff,#f0f0ff,#efefff,#efefff,#eeeeff,#eeeeff,#eeeeff)"></i><i style="height:3px;background:linear-gradient(90deg,#ffcdcd,#ffd8d8,#ffdcdc,#ffdede,#ffe0e0,#ffe2e2,#ffe2e2,#ffe8e8,#ffeeee,#fff2f2,#fff6f6,#fff9f9,#fffcfc,#fffefe,#fefeff,#fcfcff,#fafaff,#f9f9ff,#f7f7ff,#f6f6ff,#f5f5ff,#f4f4ff,#f3f3ff,#f3f3ff,#f2f2ff,#f1f1ff,#f1f1ff,#f0f0ff,#f0f0ff,#efefff,#efefff,#eeeeff,#eeeeff,#eeeeff,#ededff)"></i><i style="height:3px;background:linear-gradient(90deg,#ffcece,#ffd8d8,#ffdcdc,#ffdfdf,#ffe1e1,#ffe2e2,#ffe3e3,#ffeaea,#ffefef,#fff4f4,#fff7f7,#fffbfb,#fffdfd,#ffffff,#fcfcff,#fbfbff,#f9f9ff,#f8f8ff,#f7f7ff,#f5f5ff,#f4f4ff,#f4f4ff,#f3f3ff,#f2f2ff,#f1f1ff,#f1f1ff,#f0f0ff,#f0f0ff,#efefff,#efefff,#eeeeff,#eeeeff,#ededff,#ededff,#ededff)"></i><i style="height:3px;background:linear-gradient(90deg,#ffcfcf,#ffd9d9,#ffdddd,#ffdfdf,#ffe1e1,#ffe2e2,#ffe5e5,#ffecec,#fff1f1,#fff5f5,#fff9f9,#fffcfc,#fffefe,#fdfdff,#fbfbff,#fafaff,#f8f8ff,#f7f7ff,#f6f6ff,#f5f5ff,#f4f4ff,#f3f3ff,#f2f2ff,#f1f1ff,#f1f1ff,#f0f0ff,#efefff,#efefff,#eeeeff,#eeeeff,#eeeeff,#ededff,#ededff,#ededff,#ececff)"></i><i style="height:3px;background:linear-gradient(90deg,#ffd0d0,#ffd9d9,#ffdddd,#ffe0e0,#ffe1e1,#ffe2e2,#ffe7e7,#ffeeee,#fff3f3,#fff7f7,#fffafa,#fffdfd,#fefeff,#fcfcff,#fafaff,#f9f9ff,#f7f7ff,#f6f6ff,#f5f5ff,#f4f4ff,#f3f3ff,#f2f2ff,#f1f1ff,#f1f1ff,#f0f0ff,#efefff,#efefff,#eeeeff,#eeeeff,#ededff,#ededff,#ededff,#ececff,#ececff,#ececff)"></i><i style="height:3px;background:linear-gradient(90deg,#ffd1d1,#ffdada,#ffdede,#ffe0e0,#ffe1e1,#ffe3e3,#ffe9e9,#ffefef,#fff5f5,#fff8f8,#fffcfc,#ffffff,#fdfdff,#fbfbff,#f9f9ff,#f8f8ff,#f6f6ff,#f5f5ff,#f4f4ff,#f3f3ff,#f2f2ff,#f1f1ff,#f1f1ff,#f0f0ff,#efefff,#efefff,#eeeeff,#eeeeff,#ededff,#ededff,#ededff,#ececff,#ececff,#ececff,#ebebff)"></i><i style="height:3px;background:linear-gradient(90deg,#ffd2d2,#ffdbdb,#ffdede,#ffe0e0,#ffe2e2,#ffe4e4,#ffebeb,#fff1f1,#fff6f6,#fffafa,#fffdfd,#fefeff,#fcfcff,#fafaff,#f8f8ff,#f7f7ff,#f5f5ff,#f4f4ff,#f3f3ff,#f2f2ff,#f1f1ff,#f1f1ff,#f0f0ff,#efefff,#efefff,#eeeeff,#eeeeff,#ededff,#ededff,#ececff,#ececff,#ececff,#ebebff,#ebebff,#ebebff)"></i><i style="height:3px;background:linear-gradient(90deg,#ffd2d2,#ffdbdb,#ffdede,#ffe1e1,#ffe2e2,#ffe6e6,#ffeded,#fff3f3,#fff8f8,#fffbfb,#fffefe,#fdfdff,#fbfbff,#f9f9ff,#f7f7ff,#f6f6ff,#f5f5ff,#f3f3ff,#f2f2ff,#f1f1ff,#f1f1ff,#f0f0ff,#efefff,#efefff,#eeeeff,#eeeeff,#ededff,#ededff,#ececff,#ececff,#ececff,#ebebff,#ebebff,#ebebff,#eaeaff)"></i><i style="height:3px;background:linear-gradient(90deg,#ffd3d3,#ffdcdc,#ffdfdf,#ffe1e1,#ffe2e2,#ffe9e9,#ffefef,#fff5f5,#fff9f9,#fffdfd,#fefeff,#fcfcff,#fafaff,#f8f8ff,#f6f6ff,#f5f5ff,#f4f4ff,#f3f3ff,#f2f2ff,#f1f1ff,#f0f0ff,#efefff,#efefff,#eeeeff,#ededff,#ededff,#ededff,#ececff,#ececff,#ebebff,#ebebff,#ebebff,#eaeaff,#eaeaff,#eaeaff)"></i><i style="height:3px;background:linear-gradient(90deg,#ffd4d4,#ffdcdc,#ffdfdf,#ffe1e1,#ffe3e3,#ffebeb,#fff1f1,#fff7f7,#fffbfb,#fffefe,#fdfdff,#fafaff,#f8f8ff,#f7f7ff,#f5f5ff,#f4f4ff,#f3f3ff,#f2f2ff,#f1f1ff,#f0f0ff,#efefff,#efefff,#eeeeff,#ededff,#ededff,#ececff,#ececff,#ececff,#ebebff,#ebebff,#ebebff,#eaeaff,#eaeaff,#eaeaff,#eaeaff)"></i><i style="height:3px;background:linear-gradient(90deg,#ffd5d5,#ffdddd,#ffe0e0,#ffe2e2,#ffe4e4,#ffeded,#fff3f3,#fff8f8,#fffdfd,#fefeff,#fcfcff,#f9f9ff,#f7f7ff,#f6f6ff,#f4f4ff,#f3f3ff,#f2f2ff,#f1f1ff,#f0f0ff,#efefff,#eeeeff,#eeeeff,#ededff,#ededff,#ececff,#ececff,#ebebff,#ebebff,#ebebff,#eaeaff,#eaeaff,#eaeaff,#eaeaff,#e9e9ff,#e9e9ff)"></i><i style="height:3px;background:linear-gradient(90deg,#ffd6d6,#ffdddd,#ffe0e0,#ffe2e2,#ffe7e7,#ffefef,#fff5f5,#fffafa,#fffefe,#fdfdff,#fafaff,#f8f8ff,#f6f6ff,#f5f5ff,#f3f3ff,#f2f2ff,#f1f1ff,#f0f0ff,#efefff,#eeeeff,#eeeeff,#ededff,#ededff,#ececff,#ececff,#ebebff,#ebebff,#ebebff,#eaeaff,#eaeaff,#eaeaff,#e9e9ff,#e9e9ff,#e9e9ff,#e9e9ff)"></i><i style="height:3px;background:linear-gradient(90deg,#ffd7d7,#ffdede,#ffe0e0,#ffe2e2,#ffe9e9,#fff1f1,#fff7f7,#fffcfc,#fefeff,#fcfcff,#f9f9ff,#f7f7ff,#f5f5ff,#f4f4ff,#f2f2ff,#f1f1ff,#f0f0ff,#efefff,#eeeeff,#eeeeff,#ededff,#ededff,#ececff,#ececff,#ebebff,#ebebff,#eaeaff,#eaeaff,#eaeaff,#e9e9ff,#e9e9ff,#e9e9ff,#e9e9ff,#e9e9ff,#e8e8ff)"></i><i style="height:3px;background:linear-gradient(90deg,#ffd8d8,#ffdede,#ffe1e1,#ffe2e2,#ffecec,#fff4f4,#fff9f9,#fffefe,#fdfdff,#fafaff,#f8f8ff,#f6f6ff,#f4f4ff,#f3f3ff,#f1f1ff,#f0f0ff,#efefff,#efefff,#eeeeff,#ededff,#ececff,#ececff,#ebebff,#ebebff,#ebebff,#eaeaff,#eaeaff,#eaeaff,#e9e9ff,#e9e9ff,#e9e9ff,#e8e8ff,#e8e8ff,#e8e8ff,#e8e8ff)"></i><i style="height:3px;background:linear-gradient(90deg,#ffd8d8,#ffdfdf,#ffe1e1,#ffe4e4,#ffeeee,#fff6f6,#fffbfb,#ffffff,#fbfbff,#f9f9ff,#f7f7ff,#f5f5ff,#f3f3ff,#f2f2ff,#f0f0ff,#efefff,#efefff,#eeeeff,#ededff,#ececff,#ececff,#ebebff,#ebebff,#eaeaff,#eaeaff,#eaeaff,#e9e9ff,#e9e9ff,#e9e9ff,#e8e8ff,#e8e8ff,#e8e8ff,#e8e8ff,#e8e8ff,#e8e8ff)"></i><i style="height:3px;background:linear-gradient(90deg,#ffd9d9,#ffdfdf,#ffe2e2,#ffe7e7,#fff1f1,#fff8f8,#fffdfd,#fdfdff,#fafaff,#f8f8ff,#f5f5ff,#f4f4ff,#f2f2ff,#f1f1ff,#f0f0ff,#efefff,#eeeeff,#ededff,#ececff,#ececff,#ebebff,#ebebff,#eaeaff,#eaeaff,#e9e9ff,#e9e9ff,#e9e9ff,#e9e9ff,#e8e8ff,#e8e8ff,#e8e8ff,#e8e8ff,#e7e7ff,#e7e7ff,#e7e7ff)"></i><i style="height:3px;background:linear-gradient(90deg,#ffdada,#ffe0e0,#ffe2e2,#ffe9e9,#fff3f3,#fffafa,#fffefe,#fcfcff,#f9f9ff,#f6f6ff,#f4f4ff,#f2f2ff,#f1f1ff,#f0f0ff,#efefff,#eeeeff,#ededff,#ececff,#ececff,#ebebff,#ebebff,#eaeaff,#eaeaff,#e9e9ff,#e9e9ff,#e9e9ff,#e8e8ff,#e8e8ff,#e8e8ff,#e8e8ff,#e7e7ff,#e7e7ff,#e7e7ff,#e7e7ff,#e7e7ff)"></i><i style="height:3px;background:linear-gradient(90deg,#ffdbdb,#ffe0e0,#ffe2e2,#ffecec,#fff5f5,#fffcfc,#fefeff,#fafaff,#f7f7ff,#f5f5ff,#f3f3ff,#f1f1ff,#f0f0ff,#efefff,#eeeeff,#ededff,#ececff,#ececff,#ebebff,#eaeaff,#eaeaff,#e9e9ff,#e9e9ff,#e9e9ff,#e8e8ff,#e8e8ff,#e8e8ff,#e8e8ff,#e7e7ff,#e7e7ff,#e7e7ff,#e7e7ff,#e7e7ff,#e7e7ff,#e6e6ff)"></i><i style="height:3px;background:linear-gradient(90deg,#ffdbdb,#ffe1e1,#ffe3e3,#ffefef,#fff8f8,#fffefe,#fcfcff,#f9f9ff,#f6f6ff,#f4f4ff,#f2f2ff,#f0f0ff,#efefff,#eeeeff,#ededff,#ececff,#ebebff,#ebebff,#eaeaff,#eaeaff,#e9e9ff,#e9e9ff,#e9e9ff,#e8e8ff,#e8e8ff,#e8e8ff,#e7e7ff,#e7e7ff,#e7e7ff,#e7e7ff,#e7e7ff,#e6e6ff,#e6e6ff,#e6e6ff,#e6e6ff)"></i><i style="height:3px;background:linear-gradient(90deg,#ffdcdc,#ffe1e1,#ffe6e6,#fff2f2,#fffafa,#fefeff,#fafaff,#f7f7ff,#f5f5ff,#f3f3ff,#f1f1ff,#efefff,#eeeeff,#ededff,#ececff,#ebebff,#ebebff,#eaeaff,#eaeaff,#e9e9ff,#e9e9ff,#e8e8ff,#e8e8ff,#e8e8ff,#e7e7ff,#e7e7ff,#e7e7ff,#e7e7ff,#e7e7ff,#e6e6ff,#e6e6ff,#e6e6ff,#e6e6ff,#e6e6ff,#e6e6ff)"></i><i style="height:3px;background:linear-gradient(90deg,#ffdddd,#ffe2e2,#ffe9e9,#fff4f4,#fffcfc,#fdfdff,#f9f9ff,#f6f6ff,#f3f3ff,#f1f1ff,#f0f0ff,#eeeeff,#ededff,#ececff,#ebebff,#ebebff,#eaeaff,#e9e9ff,#e9e9ff,#e9e9ff,#e8e8ff,#e8e8ff,#e7e7ff,#e7e7ff,#e7e7ff,#e7e7ff,#e6e6ff,#e6e6ff,#e6e6ff,#e6e6ff,#e6e6ff,#e6e6ff,#e6e6ff,#e5e5ff,#e5e5ff)"></i><i style="height:3px;background:linear-gradient(90deg,#ffdddd,#ffe2e2,#ffecec,#fff7f7,#fffefe,#fbfbff,#f7f7ff,#f4f4ff,#f2f2ff,#f0f0ff,#efefff,#ededff,#ececff,#ebebff,#ebebff,#eaeaff,#e9e9ff,#e9e9ff,#e8e8ff,#e8e8ff,#e8e8ff,#e7e7ff,#e7e7ff,#e7e7ff,#e6e6ff,#e6e6ff,#e6e6ff,#e6e6ff,#e6e6ff,#e6e6ff,#e5e5ff,#e5e5ff,#e5e5ff,#e5e5ff,#e5e5ff)"></i><i style="height:3px;background:linear-gradient(90deg,#ffdede,#ffe2e2,#ffefef,#fff9f9,#fefeff,#f9f9ff,#f6f6ff,#f3f3ff,#f1f1ff,#efefff,#eeeeff,#ececff,#ebebff,#ebebff,#eaeaff,#e9e9ff,#e9e9ff,#e8e8ff,#e8e8ff,#e7e7ff,#e7e7ff,#e7e7ff,#e6e6ff,#e6e6ff,#e6e6ff,#e6e6ff,#e6e6ff,#e5e5ff,#e5e5ff,#e5e5ff,#e5e5ff,#e5e5ff,#e5e5ff,#e5e5ff,#e5e5ff)"></i><i style="height:3px;background:linear-gradient(90deg,#ffdfdf,#ffe3e3,#fff2f2,#fffcfc,#fcfcff,#f7f7ff,#f4f4ff,#f2f2ff,#f0f0ff,#eeeeff,#ededff,#ebebff,#ebebff,#eaeaff,#e9e9ff,#e8e8ff,#e8e8ff,#e8e8ff,#e7e7ff,#e7e7ff,#e6e6ff,#e6e6ff,#e6e6ff,#e6e6ff,#e6e6ff,#e5e5ff,#e5e5ff,#e5e5ff,#e5e5ff,#e5e5ff,#e5e5ff,#e5e5ff,#e5e5ff,#e4e4ff,#e4e4ff)"></i><i style="height:3px;background:linear-gradient(90deg,#ffdfdf,#ffe7e7,#fff5f5,#fffefe,#fafaff,#f6f6ff,#f3f3ff,#f0f0ff,#eeeeff,#ededff,#ececff,#ebebff,#eaeaff,#e9e9ff,#e8e8ff,#e8e8ff,#e7e7ff,#e7e7ff,#e7e7ff,#e6e6ff,#e6e6ff,#e6e6ff,#e5e5ff,#e5e5ff,#e5e5ff,#e5e5ff,#e5e5ff,#e5e5ff,#e5e5ff,#e4e4ff,#e4e4ff,#e4e4ff,#e4e4ff,#e4e4ff,#e4e4ff)"></i><i style="height:3px;background:linear-gradient(90deg,#ffe0e0,#ffebeb,#fff8f8,#fefeff,#f8f8ff,#f4f4ff,#f1f1ff,#efefff,#ededff,#ececff,#ebebff,#eaeaff,#e9e9ff,#e8e8ff,#e8e8ff,#e7e7ff,#e7e7ff,#e6e6ff,#e6e6ff,#e6e6ff,#e5e5ff,#e5e5ff,#e5e5ff,#e5e5ff,#e5e5ff,#e5e5ff,#e4e4ff,#e4e4ff,#e4e4ff,#e4e4ff,#e4e4ff,#e4e4ff,#e4e4ff,#e4e4ff,#e4e4ff)"></i><i style="height:3px;background:linear-gradient(90deg,#ffe1e1,#ffefef,#fffbfb,#fbfbff,#f6f6ff,#f2f2ff,#f0f0ff,#eeeeff,#ececff,#ebebff,#eaeaff,#e9e9ff,#e8e8ff,#e8e8ff,#e7e7ff,#e6e6ff,#e6e6ff,#e6e6ff,#e5e5ff,#e5e5ff,#e5e5ff,#e5e5ff,#e5e5ff,#e4e4ff,#e4e4ff,#e4e4ff,#e4e4ff,#e4e4ff,#e4e4ff,#e4e4ff,#e4e4ff,#e4e4ff,#e4e4ff,#e4e4ff,#e4e4ff)"></i><i style="height:3px;background:linear-gradient(90deg,#ffe1e1,#fff2f2,#fffefe,#f9f9ff,#f4f4ff,#f1f1ff,#efefff,#ededff,#ebebff,#eaeaff,#e9e9ff,#e8e8ff,#e7e7ff,#e7e7ff,#e6e6ff,#e6e6ff,#e5e5ff,#e5e5ff,#e5e5ff,#e5e5ff,#e4e4ff,#e4e4ff,#e4e4ff,#e4e4ff,#e4e4ff,#e4e4ff,#e4e4ff,#e4e4ff,#e3e3ff,#e3e3ff,#e3e3ff,#e3e3ff,#e3e3ff,#e3e3ff,#e3e3ff)"></i><i style="height:3px;background:linear-gradient(90deg,#ffe2e2,#fff6f6,#fefeff,#f7f7ff,#f3f3ff,#efefff,#ededff,#ebebff,#eaeaff,#e9e9ff,#e8e8ff,#e7e7ff,#e7e7ff,#e6e6ff,#e6e6ff,#e5e5ff,#e5e5ff,#e5e5ff,#e4e4ff,#e4e4ff,#e4e4ff,#e4e4ff,#e4e4ff,#e4e4ff,#e3e3ff,#e3e3ff,#e3e3ff,#e3e3ff,#e3e3ff,#e3e3ff,#e3e3ff,#e3e3ff,#e3e3ff,#e3e3ff,#e3e3ff)"></i><i style="height:3px;background:linear-gradient(90deg,#ffe2e2,#fff9f9,#fbfbff,#f5f5ff,#f1f1ff,#eeeeff,#ececff,#eaeaff,#e9e9ff,#e8e8ff,#e7e7ff,#e6e6ff,#e6e6ff,#e5e5ff,#e5e5ff,#e5e5ff,#e4e4ff,#e4e4ff,#e4e4ff,#e4e4ff,#e4e4ff,#e3e3ff,#e3e3ff,#e3e3ff,#e3e3ff,#e3e3ff,#e3e3ff,#e3e3ff,#e3e3ff,#e3e3ff,#e3e3ff,#e3e3ff,#e3e3ff,#e3e3ff,#e3e3ff)"></i><i style="height:3px;background:linear-gradient(90deg,#ffe4e4,#fffcfc,#f9f9ff,#f3f3ff,#efefff,#ededff,#ebebff,#e9e9ff,#e8e8ff,#e7e7ff,#e6e6ff,#e6e6ff,#e5e5ff,#e5e5ff,#e4e4ff,#e4e4ff,#e4e4ff,#e4e4ff,#e3e3ff,#e3e3ff,#e3e3ff,#e3e3ff,#e3e3ff,#e3e3ff,#e3e3ff,#e2e2ff,#e2e2ff,#e1e1ff,#e1e1ff,#e1e1ff,#e1e1ff,#e1e1ff,#e1e1ff,#e1e1ff,#e1e1ff)"></i><i style="height:3px;background:linear-gradient(90deg,#ffe9e9,#ffffff,#f6f6ff,#f1f1ff,#eeeeff,#ebebff,#eaeaff,#e8e8ff,#e7e7ff,#e6e6ff,#e6e6ff,#e5e5ff,#e5e5ff,#e4e4ff,#e4e4ff,#e4e4ff,#e3e3ff,#e3e3ff,#e3e3ff,#e3e3ff,#e3e3ff,#e2e2ff,#e1e1ff,#e0e0ff,#dfdfff,#dfdfff,#dfdfff,#dedeff,#dedeff,#dedeff,#dedeff,#dedeff,#dedeff,#dedeff,#dedeff)"></i><i style="height:3px;background:linear-gradient(90deg,#ffeeee,#fcfcff,#f4f4ff,#f0f0ff,#ececff,#eaeaff,#e9e9ff,#e7e7ff,#e6e6ff,#e6e6ff,#e5e5ff,#e4e4ff,#e4e4ff,#e4e4ff,#e3e3ff,#e3e3ff,#e3e3ff,#e2e2ff,#e1e1ff,#e0e0ff,#dfdfff,#dedeff,#ddddff,#dcdcff,#dcdcff,#dcdcff,#dbdbff,#dbdbff,#dbdbff,#dbdbff,#dbdbff,#dbdbff,#dcdcff,#dcdcff,#dcdcff)"></i><i style="height:3px;background:linear-gradient(90deg,#fff3f3,#f9f9ff,#f2f2ff,#eeeeff,#ebebff,#e9e9ff,#e7e7ff,#e6e6ff,#e5e5ff,#e5e5ff,#e4e4ff,#e4e4ff,#e3e3ff,#e3e3ff,#e3e3ff,#e1e1ff,#dfdfff,#dedeff,#ddddff,#dcdcff,#dbdbff,#dadaff,#d9d9ff,#d9d9ff,#d9d9ff,#d9d9ff,#d8d8ff,#d8d8ff,#d8d8ff,#d9d9ff,#d9d9ff,#d9d9ff,#d9d9ff,#dadaff,#dadaff)"></i><i style="height:3px;background:linear-gradient(90deg,#fff7f7,#f6f6ff,#f0f0ff,#ececff,#eaeaff,#e8e8ff,#e6e6ff,#e5e5ff,#e5e5ff,#e4e4ff,#e3e3ff,#e3e3ff,#e3e3ff,#e1e1ff,#dedeff,#dcdcff,#dbdbff,#dadaff,#d8d8ff,#d8d8ff,#d7d7ff,#d6d6ff,#d6d6ff,#d6d6ff,#d6d6ff,#d6d6ff,#d6d6ff,#d6d6ff,#d6d6ff,#d6d6ff,#d6d6ff,#d7d7ff,#d7d7ff,#d7d7ff,#d8d8ff)"></i><i style="height:2px;background:linear-gradient(90deg,#fffbfb,#f4f4ff,#eeeeff,#ebebff,#e8e8ff,#e7e7ff,#e6e6ff,#e5e5ff,#e4e4ff,#e3e3ff,#e3e3ff,#e2e2ff,#dfdfff,#dcdcff,#dadaff,#d9d9ff,#d7d7ff,#d6d6ff,#d5d5ff,#d5d5ff,#d4d4ff,#d4d4ff,#d3d3ff,#d3d3ff,#d3d3ff,#d3d3ff,#d3d3ff,#d4d4ff,#d4d4ff,#d4d4ff,#d4d4ff,#d5d5ff,#d5d5ff,#d6d6ff,#d6d6ff)"></i><i style="height:2px;background:linear-gradient(90deg,#fffdfd,#f3f3ff,#ededff,#eaeaff,#e8e8ff,#e6e6ff,#e5e5ff,#e4e4ff,#e3e3ff,#e3e3ff,#e2e2ff,#dedeff,#dbdbff,#d9d9ff,#d7d7ff,#d6d6ff,#d4d4ff,#d3d3ff,#d3d3ff,#d2d2ff,#d2d2ff,#d1d1ff,#d1d1ff,#d1d1ff,#d1d1ff,#d1d1ff,#d2d2ff,#d2d2ff,#d2d2ff,#d3d3ff,#d3d3ff,#d3d3ff,#d4d4ff,#d4d4ff,#d5d5ff)"></i><i style="height:2px;background:linear-gradient(90deg,#fefeff,#f1f1ff,#ececff,#e9e9ff,#e7e7ff,#e5e5ff,#e4e4ff,#e4e4ff,#e3e3ff,#e1e1ff,#dedeff,#dadaff,#d8d8ff,#d6d6ff,#d4d4ff,#d3d3ff,#d2d2ff,#d1d1ff,#d0d0ff,#d0d0ff,#cfcfff,#cfcfff,#cfcfff,#cfcfff,#cfcfff,#d0d0ff,#d0d0ff,#d0d0ff,#d1d1ff,#d1d1ff,#d1d1ff,#d2d2ff,#d3d3ff,#d3d3ff,#d4d4ff)"></i><i style="height:2px;background:linear-gradient(90deg,#fcfcff,#efefff,#ebebff,#e8e8ff,#e6e6ff,#e5e5ff,#e4e4ff,#e3e3ff,#e1e1ff,#ddddff,#dadaff,#d7d7ff,#d5d5ff,#d3d3ff,#d1d1ff,#d0d0ff,#cfcfff,#ceceff,#ceceff,#ceceff,#cdcdff,#cdcdff,#cdcdff,#cdcdff,#ceceff,#ceceff,#ceceff,#cfcfff,#cfcfff,#d0d0ff,#d0d0ff,#d1d1ff,#d1d1ff,#d2d2ff,#d2d2ff)"></i><i style="height:2px;background:linear-gradient(90deg,#f9f9ff,#eeeeff,#eaeaff,#e7e7ff,#e5e5ff,#e4e4ff,#e3e3ff,#e2e2ff,#ddddff,#d9d9ff,#d6d6ff,#d4d4ff,#d2d2ff,#d0d0ff,#cfcfff,#ceceff,#cdcdff,#ccccff,#ccccff,#cbcbff,#cbcbff,#cbcbff,#cbcbff,#ccccff,#ccccff,#ccccff,#cdcdff,#cdcdff,#ceceff,#ceceff,#cfcfff,#cfcfff,#d0d0ff,#d1d1ff,#d1d1ff)"></i><i style="height:2px;background:linear-gradient(90deg,#f6f6ff,#ececff,#e8e8ff,#e6e6ff,#e5e5ff,#e3e3ff,#e3e3ff,#dedeff,#d9d9ff,#d5d5ff,#d3d3ff,#d0d0ff,#ceceff,#cdcdff,#ccccff,#cbcbff,#cacaff,#cacaff,#c9c9ff,#c9c9ff,#c9c9ff,#c9c9ff,#cacaff,#cacaff,#cacaff,#cbcbff,#cbcbff,#ccccff,#ccccff,#cdcdff,#ceceff,#ceceff,#cfcfff,#d0d0ff,#d0d0ff)"></i><i style="height:2px;background:linear-gradient(90deg,#f4f4ff,#ebebff,#e7e7ff,#e5e5ff,#e4e4ff,#e3e3ff,#dfdfff,#d9d9ff,#d5d5ff,#d2d2ff,#cfcfff,#cdcdff,#ccccff,#cacaff,#c9c9ff,#c9c9ff,#c8c8ff,#c8c8ff,#c7c7ff,#c7c7ff,#c7c7ff,#c8c8ff,#c8c8ff,#c8c8ff,#c9c9ff,#c9c9ff,#cacaff,#cacaff,#cbcbff,#ccccff,#ccccff,#cdcdff,#ceceff,#cfcfff,#cfcfff)"></i><i style="height:2px;background:linear-gradient(90deg,#f1f1ff,#e9e9ff,#e6e6ff,#e4e4ff,#e3e3ff,#e0e0ff,#dadaff,#d5d5ff,#d1d1ff,#cfcfff,#ccccff,#cacaff,#c9c9ff,#c8c8ff,#c7c7ff,#c6c6ff,#c6c6ff,#c6c6ff,#c5c5ff,#c5c5ff,#c6c6ff,#c6c6ff,#c6c6ff,#c7c7ff,#c7c7ff,#c8c8ff,#c8c8ff,#c9c9ff,#cacaff,#cacaff,#cbcbff,#ccccff,#cdcdff,#ceceff,#ceceff)"></i><i style="height:2px;background:linear-gradient(90deg,#eeeeff,#e7e7ff,#e5e5ff,#e4e4ff,#e2e2ff,#dadaff,#d5d5ff,#d1d1ff,#ceceff,#cbcbff,#c9c9ff,#c8c8ff,#c6c6ff,#c5c5ff,#c5c5ff,#c4c4ff,#c4c4ff,#c4c4ff,#c3c3ff,#c4c4ff,#c4c4ff,#c4c4ff,#c5c5ff,#c5c5ff,#c6c6ff,#c6c6ff,#c7c7ff,#c8c8ff,#c8c8ff,#c9c9ff,#cacaff,#cbcbff,#ccccff,#cdcdff,#ceceff)"></i><i style="height:2px;background:linear-gradient(90deg,#eaeaff,#e6e6ff,#e4e4ff,#e3e3ff,#dcdcff,#d6d6ff,#d1d1ff,#cdcdff,#cacaff,#c8c8ff,#c6c6ff,#c5c5ff,#c4c4ff,#c3c3ff,#c2c2ff,#c2c2ff,#c2c2ff,#c2c2ff,#c2c2ff,#c2c2ff,#c2c2ff,#c3c3ff,#c3c3ff,#c4c4ff,#c4c4ff,#c5c5ff,#c6c6ff,#c6c6ff,#c7c7ff,#c8c8ff,#c9c9ff,#cacaff,#cbcbff,#ccccff,#cdcdff)"></i><i style="height:2px;background:linear-gradient(90deg,#e7e7ff,#e4e4ff,#e3e3ff,#dedeff,#d7d7ff,#d1d1ff,#cdcdff,#cacaff,#c7c7ff,#c5c5ff,#c4c4ff,#c3c3ff,#c2c2ff,#c1c1ff,#c0c0ff,#c0c0ff,#c0c0ff,#c0c0ff,#c0c0ff,#c0c0ff,#c1c1ff,#c1c1ff,#c2c2ff,#c2c2ff,#c3c3ff,#c4c4ff,#c5c5ff,#c5c5ff,#c6c6ff,#c7c7ff,#c8c8ff,#c9c9ff,#cacaff,#cbcbff,#ccccff)"></i><i style="height:2px;background:linear-gradient(90deg,#e4e4ff,#e3e3ff,#dfdfff,#d8d8ff,#d2d2ff,#cdcdff,#cacaff,#c7c7ff,#c5c5ff,#c3c3ff,#c1c1ff,#c0c0ff,#bfbfff,#bfbfff,#bebeff,#bebeff,#bebeff,#bebeff,#bebeff,#bfbfff,#bfbfff,#c0c0ff,#c0c0ff,#c1c1ff,#c2c2ff,#c2c2ff,#c3c3ff,#c4c4ff,#c5c5ff,#c6c6ff,#c7c7ff,#c8c8ff,#c9c9ff,#cacaff,#cbcbff)"></i><i style="height:2px;background:linear-gradient(90deg,#e4e4ff,#e2e2ff,#dadaff,#d3d3ff,#ceceff,#cacaff,#c7c7ff,#c4c4ff,#c2c2ff,#c0c0ff,#bfbfff,#bebeff,#bdbdff,#bdbdff,#bcbcff,#bcbcff,#bcbcff,#bcbcff,#bdbdff,#bdbdff,#bebeff,#bebeff,#bfbfff,#c0c0ff,#c0c0ff,#c1c1ff,#c2c2ff,#c3c3ff,#c4c4ff,#c5c5ff,#c7c7ff,#c8c8ff,#c9c9ff,#cacaff,#cbcbff)"></i><i style="height:2px;background:linear-gradient(90deg,#e4e4ff,#dedeff,#d6d6ff,#d0d0ff,#cbcbff,#c7c7ff,#c4c4ff,#c2c2ff,#c0c0ff,#bebeff,#bdbdff,#bcbcff,#bbbbff,#bbbbff,#bbbbff,#bbbbff,#bbbbff,#bbbbff,#bbbbff,#bcbcff,#bcbcff,#bdbdff,#bebeff,#bebeff,#bfbfff,#c0c0ff,#c1c1ff,#c2c2ff,#c4c4ff,#c5c5ff,#c6c6ff,#c7c7ff,#c8c8ff,#c9c9ff,#cacaff)"></i><i style="height:2px;background:linear-gradient(90deg,#e4e4ff,#ddddff,#d3d3ff,#cdcdff,#c8c8ff,#c4c4ff,#c2c2ff,#bfbfff,#bdbdff,#bcbcff,#bbbbff,#babaff,#babaff,#b9b9ff,#b9b9ff,#b9b9ff,#b9b9ff,#b9b9ff,#babaff,#babaff,#bbbbff,#bcbcff,#bcbcff,#bdbdff,#bebeff,#bfbfff,#c1c1ff,#c2c2ff,#c3c3ff,#c4c4ff,#c5c5ff,#c7c7ff,#c8c8ff,#c9c9ff,#cacaff)"></i><i style="height:2px;background:linear-gradient(90deg,#e5e5ff,#dcdcff,#d2d2ff,#cbcbff,#c6c6ff,#c2c2ff,#bfbfff,#bdbdff,#bbbbff,#babaff,#b9b9ff,#b8b8ff,#b8b8ff,#b8b8ff,#b7b7ff,#b7b7ff,#b8b8ff,#b8b8ff,#b8b8ff,#b9b9ff,#babaff,#babaff,#bbbbff,#bcbcff,#bdbdff,#bfbfff,#c0c0ff,#c1c1ff,#c2c2ff,#c4c4ff,#c5c5ff,#c6c6ff,#c7c7ff,#c9c9ff,#cacaff)"></i><i style="height:2px;background:linear-gradient(90deg,#e5e5ff,#dcdcff,#d0d0ff,#c9c9ff,#c4c4ff,#c0c0ff,#bdbdff,#bbbbff,#babaff,#b8b8ff,#b7b7ff,#b7b7ff,#b6b6ff,#b6b6ff,#b6b6ff,#b6b6ff,#b6b6ff,#b7b7ff,#b7b7ff,#b8b8ff,#b8b8ff,#b9b9ff,#babaff,#bbbbff,#bdbdff,#bebeff,#bfbfff,#c0c0ff,#c2c2ff,#c3c3ff,#c5c5ff,#c6c6ff,#c7c7ff,#c9c9ff,#cacaff)"></i><i style="height:2px;background:linear-gradient(90deg,#e5e5ff,#dbdbff,#cfcfff,#c7c7ff,#c2c2ff,#bebeff,#bcbcff,#b9b9ff,#b8b8ff,#b7b7ff,#b6b6ff,#b5b5ff,#b5b5ff,#b4b4ff,#b4b4ff,#b5b5ff,#b5b5ff,#b5b5ff,#b6b6ff,#b7b7ff,#b7b7ff,#b8b8ff,#b9b9ff,#bbbbff,#bcbcff,#bdbdff,#bfbfff,#c0c0ff,#c1c1ff,#c3c3ff,#c4c4ff,#c6c6ff,#c7c7ff,#c9c9ff,#cacaff)"></i><i style="height:2px;background:linear-gradient(90deg,#e5e5ff,#d9d9ff,#cdcdff,#c5c5ff,#c0c0ff,#bcbcff,#babaff,#b8b8ff,#b6b6ff,#b5b5ff,#b4b4ff,#b4b4ff,#b3b3ff,#b3b3ff,#b3b3ff,#b3b3ff,#b4b4ff,#b4b4ff,#b5b5ff,#b6b6ff,#b6b6ff,#b7b7ff,#b9b9ff,#babaff,#bbbbff,#bdbdff,#bebeff,#c0c0ff,#c1c1ff,#c3c3ff,#c4c4ff,#c6c6ff,#c7c7ff,#c9c9ff,#cacaff)"></i><i style="height:2px;background:linear-gradient(90deg,#e5e5ff,#d8d8ff,#cbcbff,#c4c4ff,#bebeff,#bbbbff,#b8b8ff,#b6b6ff,#b5b5ff,#b4b4ff,#b3b3ff,#b2b2ff,#b2b2ff,#b2b2ff,#b2b2ff,#b2b2ff,#b2b2ff,#b3b3ff,#b4b4ff,#b5b5ff,#b6b6ff,#b7b7ff,#b8b8ff,#b9b9ff,#bbbbff,#bcbcff,#bebeff,#bfbfff,#c1c1ff,#c3c3ff,#c4c4ff,#c6c6ff,#c8c8ff,#c9c9ff,#cbcbff)"></i><i style="height:2px;background:linear-gradient(90deg,#e5e5ff,#d6d6ff,#cacaff,#c2c2ff,#bdbdff,#b9b9ff,#b7b7ff,#b5b5ff,#b3b3ff,#b2b2ff,#b1b1ff,#b1b1ff,#b1b1ff,#b0b0ff,#b1b1ff,#b1b1ff,#b1b1ff,#b2b2ff,#b3b3ff,#b4b4ff,#b5b5ff,#b6b6ff,#b7b7ff,#b9b9ff,#babaff,#bcbcff,#bebeff,#bfbfff,#c1c1ff,#c3c3ff,#c5c5ff,#c7c7ff,#c8c8ff,#cacaff,#cbcbff)"></i><i style="height:2px;background:linear-gradient(90deg,#e4e4ff,#d5d5ff,#c9c9ff,#c1c1ff,#bcbcff,#b8b8ff,#b6b6ff,#b4b4ff,#b2b2ff,#b1b1ff,#b0b0ff,#b0b0ff,#afafff,#afafff,#afafff,#b0b0ff,#b0b0ff,#b1b1ff,#b2b2ff,#b3b3ff,#b4b4ff,#b5b5ff,#b7b7ff,#b8b8ff,#babaff,#bcbcff,#bebeff,#c0c0ff,#c2c2ff,#c4c4ff,#c6c6ff,#c7c7ff,#c9c9ff,#cbcbff,#ccccff)"></i><i style="height:2px;background:linear-gradient(90deg,#e4e4ff,#d3d3ff,#c7c7ff,#c0c0ff,#bbbbff,#b7b7ff,#b4b4ff,#b2b2ff,#b1b1ff,#b0b0ff,#afafff,#aeaeff,#aeaeff,#aeaeff,#aeaeff,#afafff,#afafff,#b0b0ff,#b1b1ff,#b2b2ff,#b3b3ff,#b5b5ff,#b6b6ff,#b8b8ff,#babaff,#bcbcff,#bebeff,#c0c0ff,#c2c2ff,#c4c4ff,#c6c6ff,#c8c8ff,#cacaff,#ccccff,#ceceff)"></i><i style="height:2px;background:linear-gradient(90deg,#e4e4ff,#d3d3ff,#c7c7ff,#bfbfff,#babaff,#b6b6ff,#b4b4ff,#b1b1ff,#b0b0ff,#afafff,#aeaeff,#adadff,#adadff,#adadff,#adadff,#aeaeff,#aeaeff,#afafff,#b0b0ff,#b1b1ff,#b3b3ff,#b4b4ff,#b6b6ff,#b8b8ff,#babaff,#bdbdff,#bfbfff,#c1c1ff,#c3c3ff,#c6c6ff,#c8c8ff,#cacaff,#ccccff,#ceceff,#d0d0ff)"></i><i style="height:2px;background:linear-gradient(90deg,#e4e4ff,#d3d3ff,#c6c6ff,#bfbfff,#b9b9ff,#b5b5ff,#b3b3ff,#b1b1ff,#afafff,#aeaeff,#adadff,#acacff,#acacff,#acacff,#acacff,#adadff,#adadff,#aeaeff,#b0b0ff,#b1b1ff,#b3b3ff,#b4b4ff,#b6b6ff,#b9b9ff,#bbbbff,#bdbdff,#c0c0ff,#c2c2ff,#c5c5ff,#c8c8ff,#cacaff,#ccccff,#cfcfff,#d1d1ff,#d3d3ff)"></i><i style="height:2px;background:linear-gradient(90deg,#e4e4ff,#d3d3ff,#c6c6ff,#bebeff,#b9b9ff,#b5b5ff,#b2b2ff,#b0b0ff,#aeaeff,#adadff,#acacff,#ababff,#ababff,#ababff,#ababff,#acacff,#adadff,#aeaeff,#afafff,#b1b1ff,#b2b2ff,#b4b4ff,#b7b7ff,#b9b9ff,#bcbcff,#bebeff,#c1c1ff,#c4c4ff,#c7c7ff,#cacaff,#cdcdff,#cfcfff,#d2d2ff,#d4d4ff,#d6d6ff)"></i><i style="height:2px;background:linear-gradient(90deg,#e5e5ff,#d5d5ff,#c8c8ff,#bfbfff,#b9b9ff,#b5b5ff,#b2b2ff,#afafff,#adadff,#acacff,#ababff,#aaaaff,#aaaaff,#aaaaff,#aaaaff,#ababff,#acacff,#adadff,#afafff,#b1b1ff,#b3b3ff,#b5b5ff,#b8b8ff,#babaff,#bdbdff,#c1c1ff,#c4c4ff,#c7c7ff,#cbcbff,#ceceff,#d1d1ff,#d4d4ff,#d7d7ff,#d9d9ff,#dbdbff)"></i><i style="height:2px;background:linear-gradient(90deg,#e5e5ff,#d8d8ff,#cacaff,#c1c1ff,#babaff,#b5b5ff,#b2b2ff,#afafff,#adadff,#ababff,#aaaaff,#a3a3ff,#a0a0ff,#a1a1ff,#a4a4ff,#aaaaff,#ababff,#adadff,#afafff,#b1b1ff,#b3b3ff,#b6b6ff,#b9b9ff,#bcbcff,#c0c0ff,#c4c4ff,#c7c7ff,#cbcbff,#cfcfff,#d3d3ff,#d7d7ff,#dadaff,#ddddff,#e0e0ff,#e3e3ff)"></i><i style="height:2px;background:linear-gradient(90deg,#e6e6ff,#dedeff,#ceceff,#c3c3ff,#bcbcff,#b6b6ff,#b2b2ff,#afafff,#acacff,#ababff,#a4a4ff,#9b9bff,#9797ff,#9898ff,#9c9cff,#a5a5ff,#ababff,#adadff,#afafff,#b1b1ff,#b4b4ff,#b8b8ff,#bbbbff,#bfbfff,#c4c4ff,#c8c8ff,#cdcdff,#d1d1ff,#d6d6ff,#dbdbff,#dfdfff,#e3e3ff,#e3e3ff,#e3e3ff,#e4e4ff)"></i><i style="height:1px;background:linear-gradient(90deg,#e8e8ff,#e3e3ff,#d4d4ff,#c7c7ff,#bebeff,#b8b8ff,#b3b3ff,#b0b0ff,#adadff,#ababff,#a0a0ff,#9595ff,#9191ff,#9292ff,#9797ff,#a2a2ff,#ababff,#adadff,#b0b0ff,#b3b3ff,#b6b6ff,#babaff,#bfbfff,#c4c4ff,#c9c9ff,#ceceff,#d4d4ff,#dadaff,#dfdfff,#e3e3ff,#e3e3ff,#e4e4ff,#e4e4ff,#e5e5ff,#e5e5ff)"></i><i style="height:1px;background:linear-gradient(90deg,#e9e9ff,#e4e4ff,#d8d8ff,#cbcbff,#c1c1ff,#babaff,#b4b4ff,#b0b0ff,#adadff,#ababff,#9d9dff,#9191ff,#8c8cff,#8e8eff,#9393ff,#a0a0ff,#ababff,#adadff,#b0b0ff,#b4b4ff,#b8b8ff,#bcbcff,#c2c2ff,#c7c7ff,#cdcdff,#d3d3ff,#dadaff,#e0e0ff,#e3e3ff,#e4e4ff,#e4e4ff,#e5e5ff,#e5e5ff,#e6e6ff,#e6e6ff)"></i><i style="height:1px;background:linear-gradient(90deg,#eaeaff,#e4e4ff,#ddddff,#ceceff,#c3c3ff,#bbbbff,#b6b6ff,#b1b1ff,#adadff,#aaaaff,#9b9bff,#8d8dff,#8888ff,#8989ff,#9090ff,#9e9eff,#ababff,#aeaeff,#b1b1ff,#b5b5ff,#babaff,#bfbfff,#c5c5ff,#cbcbff,#d1d1ff,#d8d8ff,#e0e0ff,#e3e3ff,#e4e4ff,#e5e5ff,#e5e5ff,#e6e6ff,#e6e6ff,#e7e7ff,#e7e7ff)"></i><i style="height:1px;background:linear-gradient(90deg,#eeeeff,#e7e7ff,#e4e4ff,#dadaff,#cbcbff,#c1c1ff,#babaff,#b4b4ff,#afafff,#ababff,#9d9dff,#8b8bff,#8484ff,#8686ff,#8f8fff,#a2a2ff,#acacff,#b0b0ff,#b4b4ff,#b9b9ff,#bfbfff,#c6c6ff,#ceceff,#d6d6ff,#dfdfff,#e3e3ff,#e4e4ff,#e5e5ff,#e6e6ff,#e7e7ff,#e8e8ff,#e9e9ff,#e9e9ff,#eaeaff,#ebebff)"></i><i style="height:1px;background:linear-gradient(90deg,#f2f2ff,#e9e9ff,#e5e5ff,#e3e3ff,#d4d4ff,#c7c7ff,#bebeff,#b6b6ff,#b0b0ff,#acacff,#9f9fff,#8888ff,#8080ff,#8383ff,#8d8dff,#a5a5ff,#adadff,#b1b1ff,#b7b7ff,#bebeff,#c5c5ff,#cdcdff,#d7d7ff,#e1e1ff,#e4e4ff,#e5e5ff,#e6e6ff,#e7e7ff,#e8e8ff,#eaeaff,#ebebff,#ececff,#ededff,#ededff,#eeeeff)"></i><i style="height:1px;background:linear-gradient(90deg,#f6f6ff,#ebebff,#e7e7ff,#e4e4ff,#dcdcff,#cdcdff,#c2c2ff,#b9b9ff,#b2b2ff,#adadff,#a1a1ff,#8686ff,#7c7cff,#7f7fff,#8c8cff,#a8a8ff,#aeaeff,#b3b3ff,#babaff,#c2c2ff,#cbcbff,#d5d5ff,#e0e0ff,#e4e4ff,#e5e5ff,#e6e6ff,#e8e8ff,#e9e9ff,#ebebff,#ececff,#ededff,#efefff,#f0f0ff,#f0f0ff,#f1f1ff)"></i><i style="height:1px;background:linear-gradient(90deg,#ffcece,#ffdada,#ffdede,#ffe1e1,#ffe8e8,#fff7f7,#fbfbff,#f2f2ff,#eaeaff,#e5e5ff,#cfcfff,#b2b2ff,#9898ff,#ababff,#b9b9ff,#d7d7ff,#e6e6ff,#ececff,#f2f2ff,#fbfbff,#fff9f9,#ffefef,#ffe3e3,#ffe1e1,#ffe0e0,#ffdede,#ffdddd,#ffdbdb,#ffdada,#ffd8d8,#ffd7d7,#ffd6d6,#ffd5d5,#ffd4d4,#ffd3d3)"></i><i style="height:0.7px;background:linear-gradient(90deg,#ffb8b8,#ffcccc,#ffd5d5,#ffdada,#ffdede,#ffe1e1,#ffe9e9,#fffafa,#f5f5ff,#ececff,#e4e4ff,#bdbdff,#ababff,#b0b0ff,#cacaff,#e6e6ff,#eeeeff,#f8f8ff,#fff9f9,#ffe9e9,#ffe2e2,#ffe0e0,#ffdddd,#ffdbdb,#ffd8d8,#ffd6d6,#ffd3d3,#ffd0d0,#ffcdcd,#ffcaca,#ffc8c8,#ffc6c6,#ffc4c4,#ffc2c2,#ffc1c1)"></i></div><div class="h" style="left:650.4px;top:389px;width:16px;height:278.7px"><i style="height:3px;background:linear-gradient(90deg,#ff3636,#ff3737,#ff3838,#ff3939,#ff4040,#ff4848,#ff5050,#ff5858,#ff6060,#ff6868,#ff7070,#ffa7a7,#ffa7a7,#ffa8a8,#ffa8a8,#ffa9a9,#ffa9a9)"></i><i style="height:3px;background:linear-gradient(90deg,#ff3636,#ff3737,#ff3838,#ff3939,#ff4141,#ff4949,#ff5151,#ff5959,#ff6060,#ff6868,#ff7070,#ffa7a7,#ffa8a8,#ffa8a8,#ffa8a8,#ffa9a9,#ffa9a9)"></i><i style="height:3px;background:linear-gradient(90deg,#ff3737,#ff3737,#ff3838,#ff3b3b,#ff4242,#ff4a4a,#ff5252,#ff5959,#ff6161,#ff6868,#ff7070,#ffa7a7,#ffa8a8,#ffa8a8,#ffa8a8,#ffa9a9,#ffa9a9)"></i><i style="height:3px;background:linear-gradient(90deg,#ff3737,#ff3737,#ff3838,#ff3c3c,#ff4343,#ff4b4b,#ff5252,#ff5a5a,#ff6161,#ff6969,#ff7070,#ffa8a8,#ffa8a8,#ffa8a8,#ffa9a9,#ffa9a9,#ffa9a9)"></i><i style="height:3px;background:linear-gradient(90deg,#ff3737,#ff3838,#ff3838,#ff3d3d,#ff4444,#ff4c4c,#ff5353,#ff5a5a,#ff6262,#ff6969,#ff7070,#ffa8a8,#ffa8a8,#ffa8a8,#ffa9a9,#ffa9a9,#ffaaaa)"></i><i style="height:3px;background:linear-gradient(90deg,#ff3737,#ff3838,#ff3939,#ff3e3e,#ff4545,#ff4d4d,#ff5454,#ff5b5b,#ff6262,#ff6969,#ff7171,#ffa8a8,#ffa8a8,#ffa9a9,#ffa9a9,#ffa9a9,#ffaaaa)"></i><i style="height:3px;background:linear-gradient(90deg,#ff3737,#ff3838,#ff3939,#ff3f3f,#ff4646,#ff4e4e,#ff5555,#ff5c5c,#ff6363,#ff6a6a,#ff7171,#ffa8a8,#ffa8a8,#ffa9a9,#ffa9a9,#ffa9a9,#ffaaaa)"></i><i style="height:3px;background:linear-gradient(90deg,#ff3737,#ff3838,#ff3a3a,#ff4141,#ff4848,#ff4e4e,#ff5555,#ff5c5c,#ff6363,#ff6a6a,#ff7171,#ffa8a8,#ffa9a9,#ffa9a9,#ffa9a9,#ffaaaa,#ffaaaa)"></i><i style="height:3px;background:linear-gradient(90deg,#ff3838,#ff3838,#ff3b3b,#ff4242,#ff4949,#ff4f4f,#ff5656,#ff5d5d,#ff6464,#ff6a6a,#ff7171,#ffa8a8,#ffa9a9,#ffa9a9,#ffa9a9,#ffaaaa,#ffabab)"></i><i style="height:3px;background:linear-gradient(90deg,#ff3838,#ff3838,#ff3c3c,#ff4343,#ff4a4a,#ff5050,#ff5757,#ff5d5d,#ff6464,#ff6b6b,#ff7171,#ffa9a9,#ffa9a9,#ffa9a9,#ffaaaa,#ffaaaa,#ffacac)"></i><i style="height:3px;background:linear-gradient(90deg,#ff3838,#ff3939,#ff3e3e,#ff4444,#ff4b4b,#ff5151,#ff5858,#ff5e5e,#ff6464,#ff6b6b,#ff7171,#ffa9a9,#ffa9a9,#ffa9a9,#ffaaaa,#ffabab,#ffaeae)"></i><i style="height:3px;background:linear-gradient(90deg,#ff3838,#ff3939,#ff3f3f,#ff4545,#ff4c4c,#ff5252,#ff5858,#ff5f5f,#ff6565,#ff6b6b,#ff7373,#ffa9a9,#ffa9a9,#ffaaaa,#ffaaaa,#ffacac,#ffafaf)"></i><i style="height:3px;background:linear-gradient(90deg,#ff3838,#ff3a3a,#ff4040,#ff4646,#ff4d4d,#ff5353,#ff5959,#ff5f5f,#ff6565,#ff6b6b,#ff7474,#ffa9a9,#ffa9a9,#ffaaaa,#ffaaaa,#ffadad,#ffb0b0)"></i><i style="height:3px;background:linear-gradient(90deg,#ff3838,#ff3c3c,#ff4242,#ff4848,#ff4e4e,#ff5454,#ff5a5a,#ff6060,#ff6666,#ff6c6c,#ff7575,#ffa9a9,#ffaaaa,#ffaaaa,#ffacac,#ffafaf,#ffb2b2)"></i><i style="height:3px;background:linear-gradient(90deg,#ff3939,#ff3d3d,#ff4343,#ff4949,#ff4f4f,#ff5454,#ff5a5a,#ff6060,#ff6666,#ff6c6c,#ff7777,#ffa9a9,#ffaaaa,#ffaaaa,#ffadad,#ffb0b0,#ffb3b3)"></i><i style="height:3px;background:linear-gradient(90deg,#ff3939,#ff3e3e,#ff4444,#ff4a4a,#ff5050,#ff5555,#ff5b5b,#ff6161,#ff6767,#ff6c6c,#ff7878,#ffaaaa,#ffaaaa,#ffacac,#ffaeae,#ffb1b1,#ffb4b4)"></i><i style="height:3px;background:linear-gradient(90deg,#ff3a3a,#ff4040,#ff4545,#ff4b4b,#ff5151,#ff5656,#ff5c5c,#ff6161,#ff6767,#ff6d6d,#ff7a7a,#ffaaaa,#ffaaaa,#ffadad,#ffb0b0,#ffb3b3,#ffb6b6)"></i><i style="height:3px;background:linear-gradient(90deg,#ff3c3c,#ff4141,#ff4747,#ff4c4c,#ff5151,#ff5757,#ff5c5c,#ff6262,#ff6767,#ff6d6d,#ff7b7b,#ffaaaa,#ffacac,#ffafaf,#ffb1b1,#ffb4b4,#ffb7b7)"></i><i style="height:3px;background:linear-gradient(90deg,#ff3d3d,#ff4242,#ff4848,#ff4d4d,#ff5252,#ff5858,#ff5d5d,#ff6262,#ff6868,#ff6d6d,#ff7c7c,#ffabab,#ffadad,#ffb0b0,#ffb3b3,#ffb5b5,#ffb8b8)"></i><i style="height:3px;background:linear-gradient(90deg,#ff3f3f,#ff4444,#ff4949,#ff4e4e,#ff5353,#ff5959,#ff5e5e,#ff6363,#ff6868,#ff6d6d,#ff7d7d,#ffacac,#ffafaf,#ffb1b1,#ffb4b4,#ffb7b7,#ffb9b9)"></i><i style="height:3px;background:linear-gradient(90deg,#ff4040,#ff4545,#ff4a4a,#ff4f4f,#ff5454,#ff5959,#ff5e5e,#ff6363,#ff6969,#ff6e6e,#ff7f7f,#ffaeae,#ffb0b0,#ffb3b3,#ffb5b5,#ffb8b8,#ffbaba)"></i><i style="height:3px;background:linear-gradient(90deg,#ff4141,#ff4646,#ff4b4b,#ff5050,#ff5555,#ff5a5a,#ff5f5f,#ff6464,#ff6969,#ff6e6e,#ff8080,#ffafaf,#ffb2b2,#ffb4b4,#ffb7b7,#ffb9b9,#ffbcbc)"></i><i style="height:3px;background:linear-gradient(90deg,#ff4343,#ff4848,#ff4c4c,#ff5151,#ff5656,#ff5b5b,#ff6060,#ff6464,#ff6969,#ff6e6e,#ff8181,#ffb1b1,#ffb3b3,#ffb6b6,#ffb8b8,#ffbaba,#ffbdbd)"></i><i style="height:3px;background:linear-gradient(90deg,#ff4444,#ff4949,#ff4e4e,#ff5252,#ff5757,#ff5c5c,#ff6060,#ff6565,#ff6a6a,#ff6e6e,#ff8282,#ffb2b2,#ffb5b5,#ffb7b7,#ffb9b9,#ffbcbc,#ffbebe)"></i><i style="height:3px;background:linear-gradient(90deg,#ff4646,#ff4a4a,#ff4f4f,#ff5353,#ff5858,#ff5c5c,#ff6161,#ff6565,#ff6a6a,#ff6f6f,#ff8484,#ffb4b4,#ffb6b6,#ffb8b8,#ffbbbb,#ffbdbd,#ffbfbf)"></i><i style="height:3px;background:linear-gradient(90deg,#ff4747,#ff4b4b,#ff5050,#ff5454,#ff5959,#ff5d5d,#ff6262,#ff6666,#ff6a6a,#ff6f6f,#ff8585,#ffb5b5,#ffb7b7,#ffbaba,#ffbcbc,#ffbebe,#ffc0c0)"></i><i style="height:3px;background:linear-gradient(90deg,#ff4848,#ff4d4d,#ff5151,#ff5555,#ff5a5a,#ff5e5e,#ff6262,#ff6666,#ff6b6b,#ff6f6f,#ff8686,#ffb6b6,#ffb9b9,#ffbbbb,#ffbdbd,#ffbfbf,#ffc1c1)"></i><i style="height:3px;background:linear-gradient(90deg,#ff4a4a,#ff4e4e,#ff5252,#ff5656,#ff5a5a,#ff5f5f,#ff6363,#ff6767,#ff6b6b,#ff6f6f,#ff8787,#ffb8b8,#ffbaba,#ffbcbc,#ffbebe,#ffc0c0,#ffc2c2)"></i><i style="height:3px;background:linear-gradient(90deg,#ff4b4b,#ff4f4f,#ff5353,#ff5757,#ff5b5b,#ff5f5f,#ff6363,#ff6767,#ff6b6b,#ff7070,#ff8888,#ffb9b9,#ffbbbb,#ffbdbd,#ffbfbf,#ffc2c2,#ffc4c4)"></i><i style="height:3px;background:linear-gradient(90deg,#ff4c4c,#ff5050,#ff5454,#ff5858,#ff5c5c,#ff6060,#ff6464,#ff6868,#ff6c6c,#ff7070,#ff8a8a,#ffbbbb,#ffbdbd,#ffbfbf,#ffc1c1,#ffc3c3,#ffc5c5)"></i><i style="height:3px;background:linear-gradient(90deg,#ff4d4d,#ff5151,#ff5555,#ff5959,#ff5d5d,#ff6161,#ff6565,#ff6868,#ff6c6c,#ff7070,#ff8b8b,#ffbcbc,#ffbebe,#ffc0c0,#ffc2c2,#ffc4c4,#ffc6c6)"></i><i style="height:3px;background:linear-gradient(90deg,#ff4f4f,#ff5252,#ff5656,#ff5a5a,#ff5e5e,#ff6161,#ff6565,#ff6969,#ff6d6d,#ff7070,#ff8c8c,#ffbdbd,#ffbfbf,#ffc1c1,#ffc3c3,#ffc5c5,#ffc7c7)"></i><i style="height:3px;background:linear-gradient(90deg,#ff5050,#ff5454,#ff5757,#ff5b5b,#ff5e5e,#ff6262,#ff6666,#ff6969,#ff6d6d,#ff7070,#ff8d8d,#ffbfbf,#ffc1c1,#ffc2c2,#ffc4c4,#ffc6c6,#ffc8c8)"></i><i style="height:3px;background:linear-gradient(90deg,#ff5151,#ff5555,#ff5858,#ff5c5c,#ff5f5f,#ff6363,#ff6666,#ff6a6a,#ff6d6d,#ff7171,#ff8e8e,#ffc0c0,#ffc2c2,#ffc4c4,#ffc5c5,#ffc7c7,#ffc9c9)"></i><i style="height:3px;background:linear-gradient(90deg,#ff5252,#ff5656,#ff5959,#ff5d5d,#ff6060,#ff6363,#ff6767,#ff6a6a,#ff6e6e,#ff7171,#ff8f8f,#ffc1c1,#ffc3c3,#ffc5c5,#ffc6c6,#ffc8c8,#ffcaca)"></i><i style="height:3px;background:linear-gradient(90deg,#ff5454,#ff5757,#ff5a5a,#ff5d5d,#ff6161,#ff6464,#ff6767,#ff6b6b,#ff6e6e,#ff7171,#ff9090,#ffc3c3,#ffc4c4,#ffc6c6,#ffc8c8,#ffc9c9,#ffcbcb)"></i><i style="height:3px;background:linear-gradient(90deg,#ff5555,#ff5858,#ff5b5b,#ff5e5e,#ff6161,#ff6565,#ff6868,#ff6b6b,#ff6e6e,#ff7272,#ff9191,#ffc4c4,#ffc5c5,#ffc7c7,#ffc9c9,#ffcaca,#ffcccc)"></i><i style="height:3px;background:linear-gradient(90deg,#ff5656,#ff5959,#ff5c5c,#ff5f5f,#ff6262,#ff6565,#ff6868,#ff6b6b,#ff6e6e,#ff7474,#ff9292,#ffc5c5,#ffc7c7,#ffc8c8,#ffcaca,#ffcbcb,#ffcdcd)"></i><i style="height:3px;background:linear-gradient(90deg,#ff5757,#ff5a5a,#ff5d5d,#ff6060,#ff6363,#ff6666,#ff6969,#ff6c6c,#ff6f6f,#ff7676,#ff9393,#ffc6c6,#ffc8c8,#ffc9c9,#ffcbcb,#ffcccc,#ffcece)"></i><i style="height:3px;background:linear-gradient(90deg,#ff5858,#ff5b5b,#ff5e5e,#ff6161,#ff6464,#ff6767,#ff6969,#ff6c6c,#ff6f6f,#ff7878,#ff9494,#ffc8c8,#ffc9c9,#ffcaca,#ffcccc,#ffcdcd,#ffcfcf)"></i><i style="height:3px;background:linear-gradient(90deg,#ff5959,#ff5c5c,#ff5f5f,#ff6262,#ff6464,#ff6767,#ff6a6a,#ff6d6d,#ff6f6f,#ff7a7a,#ff9595,#ffc9c9,#ffcaca,#ffcccc,#ffcdcd,#ffcece,#ffd0d0)"></i><i style="height:3px;background:linear-gradient(90deg,#ff5a5a,#ff5d5d,#ff6060,#ff6262,#ff6565,#ff6868,#ff6a6a,#ff6d6d,#ff7070,#ff7c7c,#ff9696,#ffcaca,#ffcbcb,#ffcdcd,#ffcece,#ffcfcf,#ffd1d1)"></i><i style="height:3px;background:linear-gradient(90deg,#ff5c5c,#ff5e5e,#ff6161,#ff6363,#ff6666,#ff6868,#ff6b6b,#ff6d6d,#ff7070,#ff7e7e,#ff9797,#ffcbcb,#ffcccc,#ffcece,#ffcfcf,#ffd0d0,#ffd2d2)"></i><i style="height:3px;background:linear-gradient(90deg,#ff5d5d,#ff5f5f,#ff6262,#ff6464,#ff6666,#ff6969,#ff6b6b,#ff6e6e,#ff7070,#ff8080,#ff9898,#ffcccc,#ffcdcd,#ffcfcf,#ffd0d0,#ffd1d1,#ffd2d2)"></i><i style="height:3px;background:linear-gradient(90deg,#ff5e5e,#ff6060,#ff6262,#ff6565,#ff6767,#ff6a6a,#ff6c6c,#ff6e6e,#ff7171,#ff8282,#ff9999,#ffcdcd,#ffcfcf,#ffd0d0,#ffd1d1,#ffd2d2,#ffd3d3)"></i><i style="height:3px;background:linear-gradient(90deg,#ff5f5f,#ff6161,#ff6363,#ff6666,#ff6868,#ff6a6a,#ff6c6c,#ff6f6f,#ff7171,#ff8383,#ff9a9a,#ffcece,#ffd0d0,#ffd1d1,#ffd2d2,#ffd3d3,#ffd4d4)"></i><i style="height:3px;background:linear-gradient(90deg,#ff6060,#ff6262,#ff6464,#ff6666,#ff6868,#ff6b6b,#ff6d6d,#ff6f6f,#ff7171,#ff8585,#ff9b9b,#ffd0d0,#ffd1d1,#ffd2d2,#ffd3d3,#ffd4d4,#ffd5d5)"></i><i style="height:3px;background:linear-gradient(90deg,#ff6161,#ff6363,#ff6565,#ff6767,#ff6969,#ff6b6b,#ff6d6d,#ff6f6f,#ff7272,#ff8787,#ff9c9c,#ffd1d1,#ffd2d2,#ffd3d3,#ffd4d4,#ffd5d5,#ffd6d6)"></i><i style="height:3px;background:linear-gradient(90deg,#ff6262,#ff6464,#ff6666,#ff6868,#ff6a6a,#ff6c6c,#ff6e6e,#ff7070,#ff7575,#ff8989,#ff9d9d,#ffd2d2,#ffd3d3,#ffd4d4,#ffd5d5,#ffd6d6,#ffd7d7)"></i><i style="height:3px;background:linear-gradient(90deg,#ff6363,#ff6565,#ff6767,#ff6868,#ff6a6a,#ff6c6c,#ff6e6e,#ff7070,#ff7878,#ff8b8b,#ff9e9e,#ffd3d3,#ffd4d4,#ffd5d5,#ffd6d6,#ffd7d7,#ffd8d8)"></i><i style="height:3px;background:linear-gradient(90deg,#ff6464,#ff6565,#ff6767,#ff6969,#ff6b6b,#ff6d6d,#ff6f6f,#ff7070,#ff7a7a,#ff8c8c,#ff9f9f,#ffd4d4,#ffd5d5,#ffd6d6,#ffd6d6,#ffd7d7,#ffd8d8)"></i><i style="height:3px;background:linear-gradient(90deg,#ff6565,#ff6666,#ff6868,#ff6a6a,#ff6c6c,#ff6d6d,#ff6f6f,#ff7171,#ff7d7d,#ff8e8e,#ff9f9f,#ffd5d5,#ffd6d6,#ffd6d6,#ffd7d7,#ffd8d8,#ffd9d9)"></i><i style="height:3px;background:linear-gradient(90deg,#ff6666,#ff6767,#ff6969,#ff6a6a,#ff6c6c,#ff6e6e,#ff6f6f,#ff7171,#ff7f7f,#ff9090,#ffa0a0,#ffd6d6,#ffd7d7,#ffd7d7,#ffd8d8,#ffd9d9,#ffdada)"></i><i style="height:3px;background:linear-gradient(90deg,#ff6666,#ff6868,#ff6a6a,#ff6b6b,#ff6d6d,#ff6e6e,#ff7070,#ff7272,#ff8282,#ff9191,#ffa1a1,#ffd7d7,#ffd7d7,#ffd8d8,#ffd9d9,#ffdada,#ffdbdb)"></i><i style="height:3px;background:linear-gradient(90deg,#ff6767,#ff6969,#ff6a6a,#ff6c6c,#ff6d6d,#ff6f6f,#ff7070,#ff7575,#ff8484,#ff9393,#ffa2a2,#ffd8d8,#ffd8d8,#ffd9d9,#ffdada,#ffdbdb,#ffdbdb)"></i><i style="height:3px;background:linear-gradient(90deg,#ff6868,#ff6a6a,#ff6b6b,#ff6c6c,#ff6e6e,#ff6f6f,#ff7171,#ff7878,#ff8686,#ff9494,#ffa3a3,#ffd9d9,#ffd9d9,#ffdada,#ffdbdb,#ffdbdb,#ffdcdc)"></i><i style="height:3px;background:linear-gradient(90deg,#ff6969,#ff6a6a,#ff6c6c,#ff6d6d,#ff6e6e,#ff7070,#ff7171,#ff7b7b,#ff8989,#ff9696,#ffa3a3,#ffd9d9,#ffdada,#ffdbdb,#ffdbdb,#ffdcdc,#ffdddd)"></i><i style="height:3px;background:linear-gradient(90deg,#ff6a6a,#ff6b6b,#ff6c6c,#ff6e6e,#ff6f6f,#ff7070,#ff7272,#ff7e7e,#ff8b8b,#ff9797,#ffa4a4,#ffdada,#ffdbdb,#ffdcdc,#ffdcdc,#ffdddd,#ffdddd)"></i><i style="height:3px;background:linear-gradient(90deg,#ff6b6b,#ff6c6c,#ff6d6d,#ff6e6e,#ff6f6f,#ff7171,#ff7575,#ff8181,#ff8d8d,#ff9999,#ffa5a5,#ffdbdb,#ffdcdc,#ffdcdc,#ffdddd,#ffdede,#ffdede)"></i><i style="height:3px;background:linear-gradient(90deg,#ff6b6b,#ff6d6d,#ff6e6e,#ff6f6f,#ff7070,#ff7171,#ff7979,#ff8484,#ff8f8f,#ff9a9a,#ffa5a5,#ffdcdc,#ffdddd,#ffdddd,#ffdede,#ffdede,#ffdfdf)"></i><i style="height:3px;background:linear-gradient(90deg,#ff6c6c,#ff6d6d,#ff6e6e,#ff6f6f,#ff7070,#ff7272,#ff7c7c,#ff8787,#ff9191,#ff9c9c,#ffa6a6,#ffdddd,#ffdddd,#ffdede,#ffdede,#ffdfdf,#ffdfdf)"></i><i style="height:3px;background:linear-gradient(90deg,#ff6d6d,#ff6e6e,#ff6f6f,#ff7070,#ff7171,#ff7676,#ff8080,#ff8a8a,#ff9393,#ff9d9d,#ffa7a7,#ffdede,#ffdede,#ffdfdf,#ffdfdf,#ffe0e0,#ffe0e0)"></i><i style="height:3px;background:linear-gradient(90deg,#ff6e6e,#ff6f6f,#ff6f6f,#ff7070,#ff7171,#ff7a7a,#ff8383,#ff8c8c,#ff9595,#ff9e9e,#ffa7a7,#ffdede,#ffdfdf,#ffdfdf,#ffe0e0,#ffe0e0,#ffe1e1)"></i><i style="height:3px;background:linear-gradient(90deg,#ff6e6e,#ff6f6f,#ff7070,#ff7171,#ff7575,#ff7e7e,#ff8686,#ff8f8f,#ff9797,#ffa0a0,#ffa8a8,#ffdfdf,#ffe0e0,#ffe0e0,#ffe0e0,#ffe1e1,#ffe1e1)"></i><i style="height:3px;background:linear-gradient(90deg,#ff6f6f,#ff7070,#ff7171,#ff7272,#ff7a7a,#ff8181,#ff8989,#ff9191,#ff9999,#ffa1a1,#ffa9a9,#ffe0e0,#ffe0e0,#ffe1e1,#ffe1e1,#ffe1e1,#ffe2e2)"></i><i style="height:3px;background:linear-gradient(90deg,#ff7070,#ff7070,#ff7171,#ff7676,#ff7e7e,#ff8585,#ff8c8c,#ff9393,#ff9b9b,#ffa2a2,#ffa9a9,#ffe1e1,#ffe1e1,#ffe1e1,#ffe2e2,#ffe2e2,#ffe2e2)"></i><i style="height:3px;background:linear-gradient(90deg,#ff7070,#ff7171,#ff7474,#ff7b7b,#ff8282,#ff8888,#ff8f8f,#ff9696,#ff9c9c,#ffa3a3,#ffaaaa,#ffe1e1,#ffe1e1,#ffe2e2,#ffe2e2,#ffe3e3,#ffe4e4)"></i><i style="height:3px;background:linear-gradient(90deg,#ff7171,#ff7373,#ff7979,#ff7f7f,#ff8585,#ff8b8b,#ff9292,#ff9898,#ff9e9e,#ffa4a4,#ffadad,#ffe2e2,#ffe2e2,#ffe2e2,#ffe3e3,#ffe6e6,#ffe9e9)"></i><i style="height:3px;background:linear-gradient(90deg,#ff7272,#ff7878,#ff7e7e,#ff8383,#ff8989,#ff8f8f,#ff9494,#ff9a9a,#ffa0a0,#ffa5a5,#ffb2b2,#ffe2e2,#ffe3e3,#ffe6e6,#ffe9e9,#ffebeb,#ffeeee)"></i><i style="height:3px;background:linear-gradient(90deg,#ff7878,#ff7d7d,#ff8282,#ff8787,#ff8c8c,#ff9292,#ff9797,#ff9c9c,#ffa1a1,#ffa6a6,#ffb7b7,#ffe6e6,#ffe8e8,#ffebeb,#ffeeee,#fff0f0,#fff3f3)"></i><i style="height:3px;background:linear-gradient(90deg,#ff7d7d,#ff8282,#ff8686,#ff8b8b,#ff9090,#ff9494,#ff9999,#ff9e9e,#ffa2a2,#ffa7a7,#ffbbbb,#ffebeb,#ffeeee,#fff0f0,#fff2f2,#fff5f5,#fff7f7)"></i><i style="height:2px;background:linear-gradient(90deg,#ff8181,#ff8585,#ff8a8a,#ff8e8e,#ff9292,#ff9797,#ff9b9b,#ff9f9f,#ffa3a3,#ffa8a8,#ffbfbf,#fff0f0,#fff2f2,#fff4f4,#fff6f6,#fff8f8,#fffbfb)"></i><i style="height:2px;background:linear-gradient(90deg,#ff8484,#ff8888,#ff8c8c,#ff9090,#ff9494,#ff9898,#ff9c9c,#ffa0a0,#ffa4a4,#ffa8a8,#ffc2c2,#fff3f3,#fff5f5,#fff7f7,#fff9f9,#fffbfb,#fffdfd)"></i><i style="height:2px;background:linear-gradient(90deg,#ff8787,#ff8b8b,#ff8f8f,#ff9393,#ff9696,#ff9a9a,#ff9e9e,#ffa1a1,#ffa5a5,#ffa9a9,#ffc5c5,#fff7f7,#fff8f8,#fffafa,#fffcfc,#fffefe,#fefeff)"></i><i style="height:2px;background:linear-gradient(90deg,#ff8a8a,#ff8e8e,#ff9191,#ff9595,#ff9898,#ff9c9c,#ff9f9f,#ffa3a3,#ffa6a6,#ffa9a9,#ffc7c7,#fffafa,#fffcfc,#fffdfd,#ffffff,#fdfdff,#fcfcff)"></i><i style="height:2px;background:linear-gradient(90deg,#ff8d8d,#ff9191,#ff9494,#ff9797,#ff9a9a,#ff9d9d,#ffa0a0,#ffa4a4,#ffa7a7,#ffaaaa,#ffcaca,#fffdfd,#ffffff,#fefeff,#fcfcff,#fbfbff,#f9f9ff)"></i><i style="height:2px;background:linear-gradient(90deg,#ff9191,#ff9393,#ff9696,#ff9999,#ff9c9c,#ff9f9f,#ffa2a2,#ffa5a5,#ffa8a8,#ffb0b0,#ffcdcd,#fefeff,#fcfcff,#fbfbff,#f9f9ff,#f8f8ff,#f6f6ff)"></i><i style="height:2px;background:linear-gradient(90deg,#ff9494,#ff9696,#ff9999,#ff9c9c,#ff9e9e,#ffa1a1,#ffa3a3,#ffa6a6,#ffa9a9,#ffb6b6,#ffd0d0,#fafaff,#f9f9ff,#f7f7ff,#f6f6ff,#f5f5ff,#f4f4ff)"></i><i style="height:2px;background:linear-gradient(90deg,#ff9898,#ff9a9a,#ff9c9c,#ff9e9e,#ffa1a1,#ffa3a3,#ffa5a5,#ffa7a7,#ffaaaa,#ffbcbc,#ffd3d3,#f6f6ff,#f5f5ff,#f4f4ff,#f3f3ff,#f2f2ff,#f1f1ff)"></i><i style="height:2px;background:linear-gradient(90deg,#ff9c9c,#ff9d9d,#ff9f9f,#ffa1a1,#ffa3a3,#ffa5a5,#ffa7a7,#ffa9a9,#ffb1b1,#ffc4c4,#ffd7d7,#f2f2ff,#f1f1ff,#f0f0ff,#f0f0ff,#efefff,#eeeeff)"></i><i style="height:2px;background:linear-gradient(90deg,#ffa1a1,#ffa3a3,#ffa4a4,#ffa5a5,#ffa7a7,#ffa8a8,#ffaaaa,#ffb3b3,#ffc0c0,#ffcece,#ffdcdc,#ededff,#ededff,#ececff,#ececff,#ebebff,#eaeaff)"></i><i style="height:2px;background:linear-gradient(90deg,#ffa7a7,#ffa8a8,#ffa9a9,#ffaaaa,#ffb0b0,#ffb8b8,#ffc0c0,#ffc8c8,#ffd0d0,#ffd9d9,#ffe1e1,#e9e9ff,#e9e9ff,#e8e8ff,#e8e8ff,#e8e8ff,#e7e7ff)"></i><i style="height:2px;background:linear-gradient(90deg,#ffcdcd,#ffcfcf,#ffd2d2,#ffd4d4,#ffd7d7,#ffd9d9,#ffdcdc,#ffdede,#ffe1e1,#ffeaea,#fbfbff,#e5e5ff,#e5e5ff,#e5e5ff,#e5e5ff,#e4e4ff,#e4e4ff)"></i><i style="height:2px;background:linear-gradient(90deg,#ffcbcb,#ffcece,#ffd1d1,#ffd3d3,#ffd6d6,#ffd9d9,#ffdbdb,#ffdede,#ffe1e1,#ffe9e9,#fbfbff,#e4e4ff,#e4e4ff,#e4e4ff,#e4e4ff,#e4e4ff,#e4e4ff)"></i><i style="height:2px;background:linear-gradient(90deg,#ffcdcd,#ffd0d0,#ffd2d2,#ffd5d5,#ffd7d7,#ffdada,#ffdcdc,#ffdfdf,#ffe1e1,#ffebeb,#fafaff,#e4e4ff,#e4e4ff,#e4e4ff,#e4e4ff,#e4e4ff,#e4e4ff)"></i><i style="height:2px;background:linear-gradient(90deg,#ffe0e0,#ffe1e1,#ffe2e2,#ffe2e2,#ffe8e8,#ffefef,#fff6f6,#fffdfd,#fafaff,#f3f3ff,#ececff,#e6e6ff,#e5e5ff,#e5e5ff,#e5e5ff,#e4e4ff,#e4e4ff)"></i><i style="height:2px;background:linear-gradient(90deg,#ffb5b5,#ffbaba,#ffbfbf,#ffc3c3,#ffc8c8,#ffcdcd,#ffd1d1,#ffd6d6,#ffdbdb,#ffdfdf,#ffefef,#e6e6ff,#e6e6ff,#e6e6ff,#e5e5ff,#e5e5ff,#e5e5ff)"></i><i style="height:2px;background:linear-gradient(90deg,#ffa7a7,#ffa7a7,#ffa8a8,#ffa9a9,#ffabab,#ffb4b4,#ffbdbd,#ffc6c6,#ffcfcf,#ffd7d7,#ffe0e0,#e7e7ff,#e7e7ff,#e6e6ff,#e6e6ff,#e5e5ff,#e5e5ff)"></i><i style="height:2px;background:linear-gradient(90deg,#ffa6a6,#ffa7a7,#ffa8a8,#ffa9a9,#ffaaaa,#ffb1b1,#ffbbbb,#ffc4c4,#ffcdcd,#ffd7d7,#ffe0e0,#e7e7ff,#e7e7ff,#e6e6ff,#e6e6ff,#e6e6ff,#e5e5ff)"></i><i style="height:2px;background:linear-gradient(90deg,#ffa6a6,#ffa7a7,#ffa8a8,#ffa9a9,#ffaaaa,#ffb1b1,#ffbaba,#ffc4c4,#ffcdcd,#ffd6d6,#ffe0e0,#e7e7ff,#e7e7ff,#e6e6ff,#e6e6ff,#e5e5ff,#e5e5ff)"></i><i style="height:2px;background:linear-gradient(90deg,#ffa6a6,#ffa7a7,#ffa8a8,#ffa9a9,#ffaaaa,#ffb1b1,#ffbbbb,#ffc4c4,#ffcdcd,#ffd7d7,#ffe0e0,#e7e7ff,#e7e7ff,#e6e6ff,#e6e6ff,#e5e5ff,#e5e5ff)"></i><i style="height:2px;background:linear-gradient(90deg,#ffa6a6,#ffa7a7,#ffa8a8,#ffa9a9,#ffaaaa,#ffb3b3,#ffbcbc,#ffc5c5,#ffcece,#ffd7d7,#ffe0e0,#e7e7ff,#e6e6ff,#e6e6ff,#e6e6ff,#e5e5ff,#e5e5ff)"></i><i style="height:2px;background:linear-gradient(90deg,#ffa7a7,#ffa7a7,#ffa8a8,#ffa9a9,#ffabab,#ffb4b4,#ffbdbd,#ffc6c6,#ffcfcf,#ffd7d7,#ffe0e0,#e7e7ff,#e6e6ff,#e6e6ff,#e5e5ff,#e5e5ff,#e4e4ff)"></i><i style="height:2px;background:linear-gradient(90deg,#ffa7a7,#ffa8a8,#ffa8a8,#ffa9a9,#ffacac,#ffb5b5,#ffbebe,#ffc6c6,#ffcfcf,#ffd8d8,#ffe0e0,#e6e6ff,#e6e6ff,#e6e6ff,#e5e5ff,#e5e5ff,#e4e4ff)"></i><i style="height:2px;background:linear-gradient(90deg,#ffa7a7,#ffa8a8,#ffa9a9,#ffa9a9,#ffadad,#ffb5b5,#ffbebe,#ffc7c7,#ffcfcf,#ffd8d8,#ffe1e1,#e6e6ff,#e6e6ff,#e5e5ff,#e5e5ff,#e5e5ff,#e4e4ff)"></i><i style="height:2px;background:linear-gradient(90deg,#ffa7a7,#ffa8a8,#ffa9a9,#ffa9a9,#ffacac,#ffb5b5,#ffbebe,#ffc6c6,#ffcfcf,#ffd8d8,#ffe0e0,#e6e6ff,#e6e6ff,#e5e5ff,#e5e5ff,#e5e5ff,#e4e4ff)"></i><i style="height:2px;background:linear-gradient(90deg,#ffa7a7,#ffa8a8,#ffa8a8,#ffa9a9,#ffacac,#ffb4b4,#ffbdbd,#ffc6c6,#ffcfcf,#ffd8d8,#ffe0e0,#e7e7ff,#e6e6ff,#e6e6ff,#e5e5ff,#e5e5ff,#e4e4ff)"></i><i style="height:2px;background:linear-gradient(90deg,#ffa6a6,#ffa7a7,#ffa8a8,#ffa9a9,#ffaaaa,#ffb2b2,#ffbbbb,#ffc4c4,#ffcdcd,#ffd7d7,#ffe0e0,#e7e7ff,#e7e7ff,#e6e6ff,#e6e6ff,#e5e5ff,#e5e5ff)"></i><i style="height:2px;background:linear-gradient(90deg,#ffa5a5,#ffa6a6,#ffa7a7,#ffa8a8,#ffa9a9,#ffadad,#ffb7b7,#ffc1c1,#ffcbcb,#ffd5d5,#ffdfdf,#e8e8ff,#e7e7ff,#e7e7ff,#e6e6ff,#e6e6ff,#e5e5ff)"></i><i style="height:2px;background:linear-gradient(90deg,#ffa4a4,#ffa5a5,#ffa6a6,#ffa7a7,#ffa9a9,#ffaaaa,#ffb2b2,#ffbdbd,#ffc8c8,#ffd3d3,#ffdede,#e9e9ff,#e9e9ff,#e8e8ff,#e7e7ff,#e7e7ff,#e6e6ff)"></i><i style="height:1px;background:linear-gradient(90deg,#ffa2a2,#ffa4a4,#ffa5a5,#ffa6a6,#ffa7a7,#ffa9a9,#ffaaaa,#ffb6b6,#ffc3c3,#ffd0d0,#ffdcdc,#ebebff,#eaeaff,#eaeaff,#e9e9ff,#e8e8ff,#e8e8ff)"></i><i style="height:1px;background:linear-gradient(90deg,#ffa1a1,#ffa2a2,#ffa4a4,#ffa5a5,#ffa6a6,#ffa8a8,#ffa9a9,#ffb1b1,#ffbfbf,#ffcdcd,#ffdbdb,#ededff,#ececff,#ebebff,#eaeaff,#eaeaff,#e9e9ff)"></i><i style="height:1px;background:linear-gradient(90deg,#ff9f9f,#ffa1a1,#ffa2a2,#ffa4a4,#ffa5a5,#ffa7a7,#ffa9a9,#ffabab,#ffbbbb,#ffcaca,#ffdada,#eeeeff,#ededff,#ededff,#ececff,#ebebff,#eaeaff)"></i><i style="height:1px;background:linear-gradient(90deg,#ff9a9a,#ff9c9c,#ff9e9e,#ffa0a0,#ffa2a2,#ffa4a4,#ffa6a6,#ffa8a8,#ffadad,#ffc1c1,#ffd5d5,#f3f3ff,#f2f2ff,#f1f1ff,#f0f0ff,#efefff,#eeeeff)"></i><i style="height:1px;background:linear-gradient(90deg,#ff9595,#ff9898,#ff9a9a,#ff9d9d,#ff9f9f,#ffa2a2,#ffa4a4,#ffa7a7,#ffa9a9,#ffb9b9,#ffd1d1,#f8f8ff,#f7f7ff,#f6f6ff,#f5f5ff,#f3f3ff,#f2f2ff)"></i><i style="height:1px;background:linear-gradient(90deg,#ff9191,#ff9494,#ff9696,#ff9999,#ff9c9c,#ff9f9f,#ffa2a2,#ffa5a5,#ffa8a8,#ffb0b0,#ffcdcd,#fdfdff,#fcfcff,#fafaff,#f9f9ff,#f7f7ff,#f6f6ff)"></i><i style="height:1px;background:linear-gradient(90deg,#ff5757,#ff5a5a,#ff5d5d,#ff6060,#ff6363,#ff6666,#ff6969,#ff6c6c,#ff6f6f,#ff7575,#ff9393,#ffc7c7,#ffc8c8,#ffcaca,#ffcbcb,#ffcdcd,#ffcece)"></i><i style="height:0.7px;background:linear-gradient(90deg,#ff3b3b,#ff4040,#ff4646,#ff4b4b,#ff5151,#ff5757,#ff5c5c,#ff6262,#ff6767,#ff6d6d,#ff7a7a,#ffaaaa,#ffacac,#ffafaf,#ffb2b2,#ffb5b5,#ffb8b8)"></i></div><svg width="1200" height="717" viewBox="0 0 1200 717"><mask id="ma" maskUnits="userSpaceOnUse" x="0" y="0" width="1200" height="717"><rect width="1200" height="717" fill="#fff"/><rect x="95.0" y="94.4" width="22.8" height="10" fill="#000"/><rect x="102.6" y="217.9" width="28.4" height="10" fill="#000"/><rect x="49.0" y="163.4" width="13.2" height="10" fill="#000"/><rect x="51.4" y="251.3" width="7.6" height="10" fill="#000"/><rect x="302.8" y="299.5" width="28.4" height="10" fill="#000"/></mask><g mask="url(#ma)"><path class="ct" d="M169.3,310.3 170.6,310.0 171.9,309.8 173.1,309.6 174.4,309.3 175.6,309.1 177.1,309.0 178.6,308.9 180.1,308.8 181.4,308.8 182.6,308.7 184.1,308.7 185.6,308.6 187.1,308.5 188.6,308.5 190.1,308.5 191.6,308.4 193.1,308.4 194.6,308.4 196.1,308.4 197.6,308.3 199.1,308.3 200.6,308.3 202.1,308.3 203.1,308.1 204.1,307.8 205.6,307.4 206.6,307.2 208.1,306.8 209.1,306.6 210.6,306.3 211.6,306.1 213.1,305.9 214.1,305.7 215.6,305.4 216.6,305.2 217.7,304.8 218.8,304.3 220.1,303.8 221.1,303.5 222.1,303.2 223.4,302.8 224.6,302.3 225.5,301.8 226.4,301.3 227.4,300.8 228.4,300.3 229.5,299.8 230.1,299.3 231.0,298.3 231.6,297.7 232.5,296.8 232.9,295.8 233.1,294.8 233.3,293.3 232.9,292.3 232.4,291.3 231.7,290.3 231.1,289.7 230.1,288.9 229.4,288.3 228.6,287.7 227.6,287.2 226.6,286.8 225.5,286.3 224.3,285.8 223.1,285.3 222.1,284.9 221.1,284.5 220.1,284.2 218.9,283.8 217.6,283.4 216.6,283.2 215.1,282.8 214.1,282.6 213.0,282.3 211.6,282.0 210.6,281.8 209.1,281.5 208.1,281.3 206.6,281.0 205.3,280.8 204.1,280.6 202.6,280.4 201.6,280.3 200.1,280.1 198.6,279.9 197.6,279.8 196.1,279.6 194.6,279.4 193.1,279.3 192.1,279.2 190.6,279.1 189.1,279.0 187.6,278.9 186.2,278.8 185.1,278.7 183.6,278.6 182.1,278.6 180.6,278.6 179.1,278.5 177.6,278.5 176.1,278.5 174.6,278.5 173.1,278.4 171.6,278.4 170.1,278.5 168.6,278.5 167.1,278.6 165.6,278.6 164.1,278.6 162.6,278.7 161.1,278.7 159.9,278.8 158.6,278.9 157.1,279.0 155.6,279.1 154.1,279.2 153.1,279.3 151.6,279.4 150.1,279.5 148.6,279.7 147.6,279.8 146.1,280.0 144.6,280.2 143.6,280.3 142.1,280.5 140.6,280.7 139.6,280.8 138.1,281.0 136.7,281.3 135.6,281.5 134.1,281.8 133.1,282.0 131.6,282.2 130.6,282.4 129.1,282.7 128.1,282.9 126.6,283.3 125.6,283.5 124.6,283.8 123.1,284.2 122.1,284.5 120.8,284.8 119.6,285.2 118.6,285.4 117.3,285.8 116.1,286.2 115.1,286.6 114.1,287.0 113.1,287.4 112.1,287.8 111.1,288.3 110.0,288.8 108.9,289.3 107.8,289.8 106.7,290.3 105.7,290.8 105.1,291.3 104.1,292.2 103.4,292.8 102.6,293.6 102.1,294.3 101.4,295.3 100.8,296.3 100.7,297.8 100.8,299.3 101.5,300.3 102.1,300.9 102.8,301.8 103.6,302.6 104.6,303.1 105.6,303.6 106.6,304.0 107.6,304.4 108.6,304.9 109.6,305.3 111.1,305.7 112.1,305.9 113.6,306.2 114.6,306.4 116.1,306.8 117.1,307.1 118.2,307.3 119.6,307.7 120.6,308.0 121.6,308.3 123.1,308.3 124.6,308.3 126.1,308.3 127.6,308.4 129.1,308.4 130.6,308.4 132.1,308.4 133.6,308.5 135.1,308.5 136.6,308.6 138.1,308.6 139.6,308.7 141.1,308.8 142.1,308.8 143.6,308.9 145.1,308.9 146.6,309.0 148.1,309.2 149.1,309.4 150.6,309.7 151.6,309.9 153.1,310.1M330.1,180.2 328.6,180.2 327.5,180.3 326.1,180.4 324.6,180.5 323.1,180.6 321.6,180.6 320.1,180.7 318.7,180.8 317.6,180.9 316.1,181.0 314.6,181.1 313.1,181.2 311.6,181.3 310.6,181.4 309.1,181.5 307.6,181.6 306.1,181.7 304.7,181.8 303.6,181.9 302.1,182.0 300.6,182.1 299.1,182.2 298.1,182.3 296.6,182.4 295.1,182.6 293.6,182.7 292.6,182.8 291.1,183.0 289.6,183.1 288.1,183.2 287.1,183.3 285.6,183.4 284.1,183.6 282.6,183.8 281.6,183.9 280.1,184.0 278.6,184.2 277.5,184.3 276.1,184.4 274.6,184.6 273.1,184.8 272.1,184.9 270.6,185.1 269.1,185.2 268.1,185.4 266.6,185.5 265.1,185.7 264.1,185.8 262.6,186.0 261.1,186.2 260.1,186.3 258.6,186.5 257.1,186.7 256.1,186.9 254.6,187.1 253.1,187.2 252.1,187.4 250.6,187.6 249.2,187.8 248.1,188.0 246.6,188.2 245.6,188.3 244.1,188.5 242.6,188.7 241.6,188.9 240.1,189.1 238.9,189.3 237.6,189.5 236.1,189.8 235.1,189.9 233.6,190.2 232.6,190.3 231.1,190.6 229.6,190.8 228.6,191.0 227.1,191.2 226.1,191.4 224.6,191.7 223.6,191.8 222.1,192.1 220.9,192.3 219.6,192.5 218.1,192.8 217.1,193.0 215.6,193.3 214.6,193.5 213.1,193.8 212.1,194.0 210.6,194.3 209.6,194.4 208.1,194.7 207.1,194.9 205.6,195.2 204.6,195.4 203.1,195.8 202.1,196.0 200.6,196.3 199.6,196.5 198.2,196.8 197.1,197.0 195.8,197.3 194.6,197.6 193.6,197.8 192.1,198.2 191.1,198.4 189.6,198.8 188.6,199.0 187.2,199.3 186.1,199.6 185.0,199.8 183.6,200.1 182.6,200.4 181.1,200.8 180.1,201.1 179.1,201.3 177.6,201.7 176.6,202.0 175.2,202.3 174.1,202.6 173.1,202.8 171.6,203.2 170.6,203.5 169.6,203.8 168.1,204.2 167.1,204.5 166.1,204.8 164.6,205.2 163.6,205.5 162.5,205.8 161.1,206.2 160.1,206.5 159.1,206.9 157.7,207.3 156.6,207.7 155.6,208.0 154.5,208.3 153.1,208.7 152.1,209.0 151.1,209.3 149.6,209.8 148.6,210.2 147.6,210.5 146.6,210.9 145.5,211.3 144.1,211.8 143.1,212.1 142.1,212.5 141.0,212.8 139.6,213.3 138.6,213.6 137.6,214.1 136.6,214.5 135.6,214.9 134.6,215.3 133.3,215.8 132.1,216.2 131.1,216.6 130.1,217.0 129.1,217.4 127.9,217.8 126.9,218.3 125.8,218.8 124.7,219.3 123.6,219.8 122.6,220.3 121.6,220.7 120.6,221.1 119.6,221.5 118.6,222.0 117.6,222.4 116.6,222.8 115.6,223.4 114.6,223.9 113.6,224.4 112.6,225.0 111.6,225.5 110.6,226.0 109.6,226.5 108.6,227.0 107.6,227.5 106.6,227.9 105.6,228.4 104.6,229.0 103.6,229.7 102.7,230.3 101.9,230.8 101.1,231.3 100.1,231.9 99.1,232.5 98.1,233.1 97.1,233.6 96.1,234.2 95.1,234.7 94.1,235.3 93.5,235.8 92.6,236.6 91.7,237.3 91.1,237.8 90.1,238.6 89.2,239.3 88.5,239.8 87.6,240.4 86.6,241.1 85.6,241.8 84.9,242.3 84.1,242.8 83.1,243.4 82.3,244.3 81.6,245.2 81.1,245.8 80.2,246.8 79.6,247.4 78.7,248.3 78.1,248.9 77.2,249.8 76.6,250.4 75.6,251.3 75.0,251.8 74.1,252.6 73.3,253.3 72.6,253.8 71.6,254.8 71.2,255.8 70.7,256.8 70.2,257.8 69.7,258.8 69.2,259.8 68.6,260.8 68.1,261.8 67.6,262.6 67.1,263.4 66.5,264.3 65.9,265.3 65.2,266.3 64.6,267.1 64.1,267.8 63.3,268.8 62.6,269.6 62.1,270.3 61.2,271.3 60.6,272.0 60.6,273.3 60.6,274.8 60.6,276.3 60.6,277.8 60.6,279.3 60.5,280.8 60.5,282.3 60.5,283.8 60.5,285.3 60.5,286.8 60.5,288.3 60.5,289.8 60.5,291.3 60.5,292.8 60.5,294.3 60.5,295.8 60.5,297.3 60.5,298.8 60.5,300.3 60.5,301.8 60.6,303.3 60.6,304.8 60.6,305.8 62.1,306.1 63.1,306.3 64.6,306.7 65.6,307.0 66.7,307.3 68.0,307.8 69.1,308.3 70.1,308.3 71.6,308.3 73.1,308.4 74.6,308.4 76.1,308.4 77.6,308.4 79.1,308.4 80.6,308.4 82.1,308.5 83.6,308.5 85.1,308.5 86.6,308.5 88.1,308.5 89.6,308.6 91.1,308.6 92.6,308.6 94.1,308.7 95.6,308.7 97.1,308.7 98.6,308.8 100.1,308.8 101.1,308.8 102.6,308.8 104.1,308.9 105.6,308.9 107.1,308.9 108.6,309.0 110.1,309.0 111.6,309.0 113.1,309.1 114.6,309.1 116.1,309.2 117.6,309.2 119.1,309.3 120.1,309.3 121.6,309.4 123.1,309.5 124.6,309.6 126.1,309.7 127.4,309.8 128.6,309.9 130.1,310.0 131.6,310.2 132.7,310.3M190.7,310.3 192.1,310.1 193.6,310.0 195.1,309.9 196.1,309.8 197.6,309.7 199.1,309.6 200.6,309.5 202.1,309.4 203.6,309.3 204.6,309.3 206.1,309.2 207.6,309.2 209.1,309.1 210.6,309.1 212.1,309.0 213.6,309.0 215.1,309.0 216.6,309.0 218.1,308.9 219.6,308.9 221.1,308.9 222.6,308.8 224.1,308.8 225.6,308.8 226.6,308.8 228.1,308.8 229.6,308.7 231.1,308.7 232.6,308.7 234.1,308.7 235.6,308.6 237.1,308.6 238.6,308.6 240.1,308.6 241.6,308.6 243.1,308.6 244.6,308.5 246.1,308.5 247.6,308.5 249.1,308.5 250.6,308.5 252.1,308.5 253.6,308.5 255.1,308.4 256.6,308.4 258.1,308.4 259.6,308.4 261.1,308.4 262.6,308.4 264.1,308.4 265.6,308.4 267.1,308.4 268.6,308.4 270.1,308.4 271.6,308.4 273.1,308.4 274.6,308.3 276.1,308.3 277.6,308.3 279.1,308.3 280.6,308.3 282.1,308.3 283.6,308.3 285.1,308.3 286.6,308.3 288.1,308.3 289.1,308.3 290.6,308.1 292.1,308.0 293.6,307.9 294.6,307.8 296.1,307.7 297.6,307.5 299.1,307.4 300.3,307.3 301.6,307.2 303.1,307.1 304.6,307.0 306.1,306.9 307.6,306.8 308.6,306.7 310.1,306.6 311.6,306.5 313.1,306.5 314.6,306.4 315.8,306.3 317.1,306.2 318.6,306.2 320.1,306.1 321.6,306.0 323.1,305.9 324.6,305.9 325.9,305.8 327.1,305.7 328.6,305.6 330.1,305.5M133.7,43.3 133.2,44.3 132.8,45.3 132.4,46.3 131.9,47.3 131.5,48.3 131.0,49.3 130.5,50.3 130.0,51.3 129.6,52.3 129.1,53.3 128.6,54.3 128.1,55.3 127.6,56.3 127.1,57.6 126.6,58.8 126.2,59.8 125.8,60.8 125.3,61.8 124.9,62.8 124.5,63.8 124.0,64.8 123.5,65.8 123.1,66.8 122.6,67.8 122.1,68.8 121.6,69.8 121.1,70.8 120.6,71.8 120.0,72.8 119.5,73.8 118.9,74.8 118.4,75.8 117.8,76.8 117.2,77.8 116.7,78.8 116.2,79.8 115.8,80.8 115.4,81.8 114.9,82.8 114.4,83.8 114.0,84.8 113.5,85.8 113.0,86.8 112.5,87.8 112.0,88.8 111.5,89.8 110.9,90.8 110.4,91.8 109.8,92.8 109.3,93.8 108.7,94.8 108.1,95.8 107.6,96.7 107.1,97.5 106.6,98.3 106.0,99.3 105.4,100.3 104.9,101.3 104.5,102.3 104.1,103.3 103.6,104.3 103.1,105.3 102.6,106.4 102.1,107.4 101.6,108.4 101.1,109.4 100.6,110.3 100.1,111.3 99.5,112.3 99.0,113.3 98.4,114.3 97.8,115.3 97.3,116.3 96.6,117.3 96.1,118.2 95.6,119.0 95.1,119.8 94.4,120.8 93.9,121.8 93.5,122.8 93.1,123.8 92.6,125.0 92.1,126.2 91.6,127.3 91.1,128.3 90.7,129.3 90.2,130.3 89.7,131.3 89.2,132.3 88.7,133.3 88.1,134.3 87.6,135.3 87.1,136.2 86.6,137.1 86.1,138.0 85.6,138.8 85.0,139.8 84.4,140.8 83.8,141.8 83.1,142.8 82.8,143.8 82.4,144.8 82.1,145.8 81.6,147.1 81.2,148.3 80.8,149.3 80.4,150.3 80.0,151.3 79.6,152.3 79.1,153.5 78.6,154.7 78.1,155.8 77.7,156.8 77.2,157.8 76.7,158.8 76.3,159.8 75.8,160.8 75.3,161.8 74.7,162.8 74.2,163.8 73.6,164.8 73.1,165.7 72.6,166.6 72.1,167.5 71.6,168.8 71.4,169.8 71.1,171.1 70.8,172.3 70.6,173.3 70.2,174.8 70.0,175.8 69.6,177.3 69.4,178.3 69.1,179.3 68.7,180.8 68.4,181.8 68.1,182.8 67.6,184.3 67.3,185.3 66.9,186.3 66.6,187.3 66.1,188.7 65.7,189.8 65.3,190.8 64.9,191.8 64.5,192.8 64.1,193.8 63.6,194.9 63.1,196.0 62.6,197.1 62.1,198.1 61.6,199.2 61.1,200.1 60.6,201.1 60.6,202.3 60.6,203.8 60.6,205.3 60.6,206.8 60.6,208.3 60.6,209.8 60.6,211.3 60.6,212.8 60.5,214.3 60.5,215.8 60.5,217.3 60.5,218.8 60.5,220.3 60.5,221.8 60.5,223.3 60.5,224.8 60.5,226.3 60.5,227.8 60.4,229.3 60.4,230.8 60.4,232.3 60.4,233.8 60.4,235.3 60.4,236.8 60.4,238.3 60.3,239.8 60.3,241.3 60.3,242.8 60.3,244.3 60.2,245.8 60.2,247.3 60.2,248.8 60.2,250.3 60.1,251.8 60.1,253.0 60.1,254.3 60.0,255.8 60.0,257.3 60.0,258.8 59.9,260.3 59.9,261.8 59.8,263.3 59.8,264.8 59.7,266.3 59.7,267.8 59.6,269.3 59.6,270.3 59.5,271.8 59.4,273.3 59.3,274.8 59.2,276.3 59.2,277.8 59.1,279.3 59.1,280.3 59.0,281.8 58.9,283.3 58.8,284.8 58.8,286.3 58.7,287.8 58.6,289.3 58.6,290.3 58.6,291.8 58.5,293.3 58.5,294.8 58.6,296.3 58.6,297.4 58.7,298.8 58.8,300.3 58.9,301.8 59.1,303.1 59.3,304.3 59.5,305.8 59.8,306.8 60.0,308.3 60.6,309.0 62.1,309.0 63.6,309.1 65.1,309.1 66.6,309.2 68.1,309.3 69.1,309.3 70.6,309.5 72.1,309.6 73.6,309.7 75.1,309.7 76.3,309.8 77.6,309.9 79.1,310.0 80.6,310.1 82.1,310.2M252.1,310.3 253.1,310.3 254.6,310.2 256.1,310.1 257.6,310.1 259.1,310.0 260.6,310.0 262.1,309.9 263.6,309.9 265.1,309.8 266.1,309.8 267.6,309.8 269.1,309.7 270.6,309.7 272.1,309.6 273.6,309.6 275.1,309.6 276.6,309.5 278.1,309.5 279.6,309.5 281.1,309.5 282.6,309.4 284.1,309.4 285.6,309.4 287.1,309.4 288.6,309.3 290.1,309.3 291.1,309.3 292.6,309.3 294.1,309.2 295.6,309.2 297.1,309.2 298.6,309.2 300.1,309.2 301.6,309.2 303.1,309.1 304.6,309.1 306.1,309.1 307.6,309.1 309.1,309.1 310.6,309.1 312.1,309.0 313.6,309.0 315.1,309.0 316.6,309.0 318.1,309.0 319.6,309.0 321.1,309.0 322.6,309.0 324.1,309.0 325.6,308.9 327.1,308.9 328.6,308.9 330.1,308.9M60.6,43.3 60.6,44.8 60.6,46.3 60.5,47.8 60.5,49.3 60.5,50.8 60.5,52.3 60.5,53.8 60.5,55.3 60.5,56.8 60.5,58.3 60.5,59.8 60.5,61.3 60.5,62.8 60.5,64.3 60.5,65.8 60.5,67.3 60.5,68.8 60.5,70.3 60.5,71.8 60.5,73.3 60.5,74.8 60.5,76.3 60.5,77.8 60.5,79.3 60.5,80.8 60.5,82.3 60.5,83.8 60.5,85.3 60.5,86.8 60.5,88.3 60.5,89.8 60.5,91.3 60.5,92.8 60.5,94.3 60.5,95.8 60.5,97.3 60.5,98.8 60.5,100.3 60.5,101.8 60.5,103.3 60.5,104.8 60.4,106.3 60.4,107.8 60.4,109.3 60.4,110.8 60.4,112.3 60.4,113.8 60.4,115.3 60.4,116.8 60.4,118.3 60.4,119.8 60.4,121.3 60.4,122.8 60.4,124.3 60.4,125.8 60.4,127.3 60.4,128.8 60.4,130.3 60.4,131.8 60.3,133.3 60.3,134.8 60.3,136.3 60.3,137.8 60.3,139.3 60.3,140.8 60.3,142.3 60.3,143.8 60.3,145.3 60.3,146.8 60.3,148.3 60.2,149.8 60.2,151.3 60.2,152.8 60.2,154.3 60.2,155.8 60.2,157.3 60.2,158.8 60.2,160.3 60.1,161.8 60.1,163.3 60.1,164.8 60.1,165.8 60.1,167.3 60.1,168.8 60.0,170.3 60.0,171.8 60.0,173.3 60.0,174.8 60.0,176.3 60.0,177.8 59.9,179.3 59.9,180.8 59.9,182.3 59.9,183.8 59.8,185.3 59.8,186.8 59.8,188.3 59.8,189.8 59.7,191.3 59.7,192.8 59.7,194.3 59.6,195.8 59.6,197.3 59.6,198.3 59.5,199.8 59.5,201.3 59.5,202.8 59.4,204.3 59.4,205.8 59.3,207.3 59.3,208.8 59.2,210.3 59.2,211.8 59.1,213.3 59.1,214.3 59.0,215.8 58.9,217.3 58.9,218.8 58.8,220.3 58.7,221.8 58.6,223.3 58.5,224.3 58.5,225.8 58.4,227.3 58.2,228.8 58.1,230.3 58.1,231.3 57.9,232.8 57.8,234.3 57.7,235.8 57.6,236.8 57.4,238.3 57.2,239.8 57.1,241.0 56.9,242.3 56.7,243.8 56.6,244.9 56.4,246.3 56.2,247.8 56.0,248.8 55.7,250.3 55.6,251.3 55.3,252.8 55.1,253.8 54.7,255.3 54.5,256.3 54.1,257.8 53.9,258.8 53.6,259.9 53.2,261.3 52.9,262.3 52.6,263.3 52.1,264.8 51.8,265.8 51.4,266.8 51.1,267.8 50.6,269.0 50.1,270.2M50.1,306.0 51.1,306.4 52.1,306.9 53.1,307.5 54.0,308.3 55.1,308.3 56.6,308.4 58.1,308.6 59.1,308.8 60.1,309.5M59.1,43.3 59.1,44.8 59.1,45.8 59.1,47.3 59.1,48.8 59.1,50.3 59.0,51.8 59.0,53.3 59.0,54.8 59.0,56.3 59.0,57.8 59.0,59.3 59.0,60.8 58.9,62.3 58.9,63.8 58.9,65.3 58.9,66.8 58.9,68.3 58.9,69.8 58.8,71.3 58.8,72.8 58.8,74.3 58.8,75.8 58.8,77.3 58.7,78.8 58.7,80.3 58.7,81.8 58.7,83.3 58.6,84.8 58.6,86.3 58.6,87.6 58.6,88.8 58.6,90.3 58.5,91.8 58.5,93.3 58.5,94.8 58.4,96.3 58.4,97.8 58.4,99.3 58.3,100.8 58.3,102.3 58.3,103.8 58.2,105.3 58.2,106.8 58.2,108.3 58.1,109.8 58.1,110.8 58.1,112.3 58.0,113.8 58.0,115.3 57.9,116.8 57.9,118.3 57.8,119.8 57.8,121.3 57.7,122.8 57.7,124.3 57.6,125.8 57.6,126.8 57.5,128.3 57.5,129.8 57.4,131.3 57.3,132.8 57.3,134.3 57.2,135.8 57.1,137.3 57.1,138.3 57.0,139.8 56.9,141.3 56.9,142.8 56.8,144.3 56.7,145.8 56.6,147.3 56.5,148.3 56.4,149.8 56.3,151.3 56.2,152.8 56.1,154.3 56.1,155.3 56.0,156.8 55.8,158.3 55.7,159.8 55.6,161.1 55.5,162.3 55.4,163.8 55.2,165.3 55.1,166.6 55.0,167.8 54.8,169.3 54.7,170.8 54.5,171.8 54.4,173.3 54.2,174.8 54.1,175.8 53.9,177.3 53.7,178.8 53.5,179.8 53.3,181.3 53.1,182.7 52.9,183.8 52.7,185.3 52.5,186.3 52.3,187.8 52.1,188.8 51.8,190.3 51.6,191.3 51.3,192.8 51.1,193.8 50.7,195.3 50.5,196.3 50.2,197.8M50.1,309.0 51.6,309.1 53.1,309.2 54.1,309.3 55.6,309.6 56.6,309.9"/></g><text class="cl" x="106.4" y="103.4">0. 1</text><text class="cl" x="116.8" y="226.9">0. 01</text><text class="cl" x="55.6" y="172.4">10</text><text class="cl" x="55.2" y="260.3">1</text><text class="cl" x="317.0" y="308.5">0. 01</text><path class="fr" style="stroke:#70708a;stroke-width:1.2" d="M50.1,43.3H330.0V310.5"/><path class="ax" style="stroke:#70708a;stroke-width:1.2" d="M50.1,43.3V310.5H330.0"/><ellipse cx="160.2" cy="308.6" rx="3.6" ry="1.7" fill="#000018"/><path class="tk" d="M54.9,310.5v3.5M60.5,310.5v3.5M66.1,310.5v3.5M71.8,310.5v3.5M77.4,310.5v3.5M83.0,310.5v3.5M88.6,310.5v3.5M94.2,310.5v3.5M99.8,310.5v3.5M105.4,310.5v6.5M111.1,310.5v3.5M116.7,310.5v3.5M122.3,310.5v3.5M127.9,310.5v3.5M133.5,310.5v3.5M139.1,310.5v3.5M144.7,310.5v3.5M150.4,310.5v3.5M156.0,310.5v3.5M161.6,310.5v6.5M167.2,310.5v3.5M172.8,310.5v3.5M178.4,310.5v3.5M184.0,310.5v3.5M189.6,310.5v3.5M195.3,310.5v3.5M200.9,310.5v3.5M206.5,310.5v3.5M212.1,310.5v3.5M217.7,310.5v6.5M223.3,310.5v3.5M228.9,310.5v3.5M234.6,310.5v3.5M240.2,310.5v3.5M245.8,310.5v3.5M251.4,310.5v3.5M257.0,310.5v3.5M262.6,310.5v3.5M268.2,310.5v3.5M273.9,310.5v6.5M279.5,310.5v3.5M285.1,310.5v3.5M290.7,310.5v3.5M296.3,310.5v3.5M301.9,310.5v3.5M307.5,310.5v3.5M313.2,310.5v3.5M318.8,310.5v3.5M324.4,310.5v3.5M330.0,310.5v6.5M50.1,296.6h-2.6M50.1,281.7h-5.0M50.1,266.8h-2.6M50.1,251.9h-5.0M50.1,237.0h-2.6M50.1,222.1h-5.0M50.1,207.2h-2.6M50.1,192.3h-5.0M50.1,177.4h-2.6M50.1,162.5h-5.0M50.1,147.6h-2.6M50.1,132.7h-5.0M50.1,117.8h-2.6M50.1,102.9h-5.0M50.1,88.0h-2.6M50.1,73.1h-5.0M50.1,58.2h-2.6M50.1,43.3h-5.0"/><text class="tl" text-anchor="middle" x="105.4" y="334.5">0.5</text><text class="tl" text-anchor="middle" x="161.6" y="334.5">1.0</text><text class="tl" text-anchor="middle" x="217.7" y="334.5">1.5</text><text class="tl" text-anchor="middle" x="273.9" y="334.5">2.0</text><text class="tl" text-anchor="middle" x="330.0" y="334.5">2.5</text><text class="tl" text-anchor="end" x="40.3" y="287.4">1</text><text class="tl" text-anchor="end" x="40.3" y="257.6">2</text><text class="tl" text-anchor="end" x="40.3" y="227.8">3</text><text class="tl" text-anchor="end" x="40.3" y="198.0">4</text><text class="tl" text-anchor="end" x="40.3" y="168.2">5</text><text class="tl" text-anchor="end" x="40.3" y="138.4">6</text><text class="tl" text-anchor="end" x="40.3" y="108.6">7</text><text class="tl" text-anchor="end" x="40.3" y="78.8">8</text><text class="tl" text-anchor="end" x="40.3" y="49.0">9</text><text class="lt" x="24.6" y="23.6">a</text><text class="ti" text-anchor="middle" x="204.6" y="28.2">R=10 nm</text><text class="sa" text-anchor="middle" style="font-size:22.6px" x="349.3" y="31.0">sca/abs</text><text class="nl" text-anchor="middle" style="font-size:22.5px" x="190.8" y="353.0">n</text><text class="nl" text-anchor="middle" transform="translate(22.8,176.2) rotate(-90)" x="0" y="0">k</text><linearGradient id="ga" x1="0" y1="0" x2="0" y2="1"><stop offset="0.0053" stop-color="#ff0000"/><stop offset="0.0329" stop-color="#ff0e0e"/><stop offset="0.0605" stop-color="#ff1c1c"/><stop offset="0.0881" stop-color="#ff2a2a"/><stop offset="0.1157" stop-color="#ff3939"/><stop offset="0.1432" stop-color="#ff4747"/><stop offset="0.1708" stop-color="#ff5555"/><stop offset="0.1984" stop-color="#ff6363"/><stop offset="0.2260" stop-color="#ff7171"/><stop offset="0.2536" stop-color="#ff8080"/><stop offset="0.2812" stop-color="#ff8e8e"/><stop offset="0.3088" stop-color="#ff9c9c"/><stop offset="0.3364" stop-color="#ffaaaa"/><stop offset="0.3640" stop-color="#ffb8b8"/><stop offset="0.3915" stop-color="#ffc6c6"/><stop offset="0.4191" stop-color="#ffd4d4"/><stop offset="0.4467" stop-color="#ffe3e3"/><stop offset="0.4743" stop-color="#fff1f1"/><stop offset="0.5019" stop-color="#ffffff"/><stop offset="0.5295" stop-color="#f1f1ff"/><stop offset="0.5571" stop-color="#e3e3ff"/><stop offset="0.5847" stop-color="#d4d4ff"/><stop offset="0.6122" stop-color="#c6c6ff"/><stop offset="0.6398" stop-color="#b8b8ff"/><stop offset="0.6674" stop-color="#aaaaff"/><stop offset="0.6950" stop-color="#9c9cff"/><stop offset="0.7226" stop-color="#8e8eff"/><stop offset="0.7502" stop-color="#8080ff"/><stop offset="0.7778" stop-color="#7171ff"/><stop offset="0.8054" stop-color="#6363ff"/><stop offset="0.8330" stop-color="#5555ff"/><stop offset="0.8605" stop-color="#4747ff"/><stop offset="0.8881" stop-color="#3939ff"/><stop offset="0.9157" stop-color="#2a2aff"/><stop offset="0.9433" stop-color="#1c1cff"/><stop offset="0.9709" stop-color="#0e0eff"/><stop offset="0.9985" stop-color="#0000ff"/></linearGradient><rect x="336.2" y="44.5" width="14.7" height="264.1" fill="url(#ga)"/><rect x="336.2" y="41.8" width="14.7" height="2.9" fill="#8a8a8a"/><rect x="336.2" y="308.2" width="14.7" height="3.2" fill="#000"/><path class="cbb" d="M336.5,41.8V311.4M350.6,41.8V311.4"/><text class="cb" style="font-size:13.7px" x="359.6" y="50.0">1. 0E+05</text><text class="cb" style="font-size:13.7px" x="359.6" y="79.1">1. 0E+04</text><text class="cb" style="font-size:13.7px" x="359.6" y="137.4">100</text><text class="cb" style="font-size:13.7px" x="359.6" y="195.7">1. 0</text><text class="cb" style="font-size:13.7px" x="359.6" y="254.0">0. 010</text><text class="cb" style="font-size:13.7px" x="359.6" y="312.3">1. 0E-04</text><path class="cbt" d="M350.9,45.9h4.5M350.9,75.0h4.5M350.9,133.3h4.5M350.9,191.6h4.5M350.9,249.9h4.5M350.9,308.2h4.5"/><mask id="mb" maskUnits="userSpaceOnUse" x="0" y="0" width="1200" height="717"><rect width="1200" height="717" fill="#fff"/><rect x="452.6" y="45.2" width="13.2" height="10" fill="#000"/><rect x="559.3" y="61.2" width="7.6" height="10" fill="#000"/><rect x="622.0" y="230.9" width="22.8" height="10" fill="#000"/><rect x="569.0" y="299.6" width="28.4" height="10" fill="#000"/><rect x="689.7" y="296.1" width="22.8" height="10" fill="#000"/></mask><g mask="url(#mb)"><path class="ct" d="M556.9,311.8 557.7,311.3 559.2,310.9 560.2,310.7 561.7,310.5 563.2,310.4 564.7,310.3 565.7,310.3 567.2,310.1 568.7,310.0 570.2,309.9 571.7,309.9 573.2,309.9 574.7,309.8 576.2,309.8 577.3,309.8 578.2,308.9 579.0,308.3 579.8,307.8 581.0,307.3 581.7,306.8 581.7,305.3 581.7,304.3 580.7,303.3 580.0,302.8 579.2,302.3 578.2,301.8 577.2,301.3 575.7,300.8 574.7,300.6 573.3,300.3 572.2,300.1 570.7,299.8 569.7,299.6 568.2,299.4 567.2,299.2 565.7,298.9 564.2,298.8 563.2,298.8 561.7,298.7 560.2,298.6 558.7,298.6 557.2,298.5 555.7,298.4 554.2,298.4 552.7,298.5 551.2,298.6 549.7,298.7 548.2,298.7 547.2,298.8 545.7,298.9 544.2,299.0 542.7,299.1 541.7,299.3 540.2,299.6 539.2,299.8 537.7,300.1 536.7,300.3 535.2,300.7 534.2,300.9 532.7,301.2 531.7,301.5 530.7,302.1 529.7,302.7 528.7,303.3 528.0,303.8 527.5,304.8 527.3,306.3 527.9,307.3 529.0,307.8 529.8,308.3 530.7,309.1 531.4,309.8 532.7,309.8 534.2,309.8 535.7,309.9 537.2,309.9 538.7,310.0 540.2,310.0 541.7,310.1 542.9,310.3 544.2,310.4 545.7,310.4 547.2,310.6 548.7,310.7 549.7,310.9 550.8,311.3M722.7,241.2 721.2,241.0 719.7,240.8 718.7,240.7 717.2,240.5 715.7,240.3 714.7,240.2 713.2,240.0 711.7,239.8 710.7,239.7 709.2,239.6 707.7,239.4 706.7,239.3 705.2,239.1 703.7,239.0 702.2,238.8 701.2,238.8 699.7,238.6 698.2,238.5 696.7,238.4 695.6,238.3 694.2,238.2 692.7,238.1 691.2,238.0 689.7,237.9 688.5,237.8 687.2,237.7 685.7,237.6 684.2,237.6 682.7,237.5 681.2,237.4 679.7,237.3 678.7,237.3 677.2,237.2 675.7,237.2 674.2,237.1 672.7,237.1 671.2,237.0 669.7,237.0 668.2,236.9 666.7,236.9 665.2,236.9 663.7,236.8 662.2,236.8 660.7,236.8 659.7,236.8 658.2,236.8 656.7,236.8 655.2,236.7 653.7,236.7 652.2,236.8 650.7,236.8 649.2,236.8 647.7,236.8 646.2,236.8 644.7,236.8 643.7,236.8 642.2,236.8 640.7,236.9 639.2,236.9 637.7,236.9 636.2,237.0 634.7,237.0 633.2,237.1 631.7,237.1 630.2,237.2 628.7,237.2 627.2,237.3 626.2,237.3 624.7,237.4 623.2,237.5 621.7,237.5 620.2,237.6 618.7,237.7 617.2,237.8 616.2,237.8 614.7,237.9 613.2,238.0 611.7,238.1 610.2,238.2 608.8,238.3 607.7,238.4 606.2,238.5 604.7,238.6 603.2,238.7 602.2,238.8 600.7,238.9 599.2,239.1 597.7,239.2 596.7,239.3 595.2,239.5 593.7,239.6 592.2,239.8 591.2,239.9 589.7,240.0 588.2,240.1 586.8,240.3 585.7,240.4 584.2,240.6 582.7,240.8 581.7,240.9 580.2,241.1 578.7,241.2 577.7,241.4 576.2,241.5 574.7,241.8 573.7,241.9 572.2,242.1 571.0,242.3 569.7,242.5 568.2,242.7 567.2,242.8 565.7,243.0 564.2,243.3 563.2,243.5 561.7,243.7 560.7,243.9 559.2,244.1 558.0,244.3 556.7,244.5 555.2,244.8 554.2,244.9 552.7,245.2 551.7,245.4 550.2,245.7 549.2,245.9 547.7,246.2 546.7,246.4 545.2,246.7 544.2,246.9 542.7,247.1 541.7,247.4 540.2,247.7 539.2,248.0 537.8,248.3 536.7,248.5 535.6,248.8 534.2,249.1 533.2,249.3 531.7,249.6 530.7,249.9 529.2,250.3 528.2,250.6 527.2,250.9 525.7,251.3 524.7,251.5 523.7,251.8 522.2,252.2 521.2,252.4 519.8,252.8 518.7,253.2 517.7,253.5 516.7,253.8 515.3,254.3 514.2,254.6 513.2,254.9 512.0,255.3 510.7,255.7 509.7,255.9 508.7,256.3 507.5,256.8 506.3,257.3 505.2,257.7 504.2,258.1 503.2,258.5 502.2,258.8 500.8,259.3 499.7,259.7 498.7,260.1 497.7,260.5 496.7,261.0 495.7,261.5 494.7,262.0 493.7,262.4 492.7,262.9 491.7,263.4 490.7,263.8 489.6,264.3 488.4,264.8 487.2,265.3 486.3,265.8 485.6,266.3 484.7,266.9 483.7,267.5 482.7,268.1 481.7,268.8 480.8,269.3 479.9,269.8 479.0,270.3 478.1,270.8 477.1,271.3 476.2,271.8 475.2,272.5 474.4,273.3 473.7,273.9 472.8,274.8 472.2,275.3 471.2,276.2 470.4,276.8 469.7,277.4 468.7,278.2 468.0,278.8 467.2,279.5 466.2,280.2 465.6,280.8 464.7,281.5 464.2,282.3 463.7,283.5 463.2,284.8 462.8,285.8 462.4,286.8 462.1,287.8 461.7,288.8 461.2,290.3 460.9,291.3 460.7,292.3 460.4,293.8 460.2,295.3 460.3,296.8 460.4,298.3 460.7,299.3 461.2,300.8 461.7,301.7 462.2,302.4 462.8,303.3 463.5,304.3 464.2,304.9 465.2,305.3 466.6,305.8 467.7,306.3 468.7,306.7 469.7,307.0 471.1,307.3 472.2,307.5 473.7,307.8 474.7,308.0 475.7,308.3 477.2,308.5 478.7,308.8 479.7,309.0 481.2,309.3 482.2,309.5 483.2,309.8 484.7,309.8 486.2,309.8 487.7,309.8 489.2,309.8 490.7,309.9 492.2,309.9 493.7,309.9 495.2,309.9 496.7,309.9 498.2,309.9 499.7,310.0 501.2,310.0 502.7,310.0 504.2,310.0 505.7,310.0 507.2,310.1 508.7,310.1 510.2,310.1 511.7,310.2 513.2,310.2 514.7,310.3 516.0,310.3 517.2,310.3 518.7,310.4 520.2,310.4 521.7,310.5 523.2,310.5 524.7,310.6 526.2,310.6 527.7,310.7 528.9,310.8 530.2,310.9 531.7,311.1 533.2,311.2 534.2,311.3 535.7,311.5 537.2,311.8M571.2,311.8 572.7,311.5 574.2,311.3 575.2,311.2 576.7,311.1 578.2,310.9 579.7,310.8 580.7,310.7 582.2,310.6 583.7,310.6 585.2,310.5 586.7,310.5 588.2,310.4 589.7,310.4 591.2,310.3 592.7,310.3 593.7,310.3 595.2,310.2 596.7,310.2 598.2,310.2 599.7,310.1 601.2,310.1 602.7,310.1 604.2,310.0 605.7,310.0 607.2,310.0 608.7,310.0 610.2,310.0 611.7,309.9 613.2,309.9 614.7,309.9 616.2,309.9 617.7,309.9 619.2,309.9 620.7,309.9 622.2,309.9 623.7,309.8 625.2,309.8 626.7,309.8 628.2,309.8 629.7,309.8 631.2,309.8 632.7,309.8 633.7,309.8 635.2,309.6 636.7,309.3 637.7,309.2 639.2,309.0 640.7,308.8 641.7,308.7 643.2,308.5 644.7,308.4 645.7,308.3 647.2,308.1 648.7,308.0 650.2,307.9 651.2,307.8 652.7,307.6 654.2,307.5 655.7,307.4 657.2,307.3 658.2,307.2 659.7,307.1 661.2,306.9 662.7,306.8 663.7,306.7 665.2,306.4 666.2,306.2 667.7,306.0 668.9,305.8 670.2,305.6 671.7,305.4 672.7,305.2 674.2,305.1 675.7,304.9 676.7,304.7 678.2,304.6 679.7,304.4 680.7,304.3 682.2,304.0 683.7,303.8 684.7,303.6 686.2,303.3 687.2,303.1 688.7,302.9 689.7,302.7 691.2,302.4 692.2,302.2 693.7,302.0 694.7,301.8 696.2,301.6 697.7,301.3 698.7,301.2 700.2,300.9 701.2,300.7 702.7,300.3 703.7,300.1 704.9,299.8 706.2,299.5 707.2,299.3 708.7,299.0 709.7,298.8 711.2,298.5 712.4,298.3 713.7,298.0 714.7,297.7 716.2,297.3 717.2,297.1 718.2,296.8 719.7,296.4 720.7,296.2 722.2,295.8M580.8,44.3 580.2,45.1 579.7,45.8 578.9,46.8 578.2,47.8 577.7,48.4 577.0,49.3 576.3,50.3 575.7,51.2 575.2,51.9 574.6,52.8 573.9,53.8 573.2,54.8 572.7,55.6 572.2,56.3 571.5,57.3 570.8,58.3 570.2,59.1 569.7,59.8 569.0,60.8 568.2,61.8 567.7,62.5 567.1,63.3 566.3,64.3 565.7,65.1 565.2,65.9 564.6,66.8 563.9,67.8 563.3,68.8 562.7,69.7 562.2,70.4 561.6,71.3 560.9,72.3 560.2,73.3 559.7,74.0 559.2,74.8 558.5,75.8 557.7,76.8 557.2,77.5 556.6,78.3 555.9,79.3 555.2,80.2 554.7,80.9 554.1,81.8 553.4,82.8 552.8,83.8 552.2,84.7 551.7,85.5 551.2,86.3 550.5,87.3 549.8,88.3 549.2,89.2 548.7,89.9 548.1,90.8 547.4,91.8 546.7,92.8 546.2,93.5 545.6,94.3 544.9,95.3 544.2,96.2 543.7,96.9 543.0,97.8 542.4,98.8 541.7,99.8 541.2,100.7 540.7,101.4 540.1,102.3 539.5,103.3 538.8,104.3 538.2,105.2 537.7,106.0 537.1,106.8 536.4,107.8 535.7,108.8 535.2,109.5 534.6,110.3 533.9,111.3 533.2,112.2 532.7,112.9 532.0,113.8 531.3,114.8 530.7,115.8 530.2,116.6 529.7,117.4 529.1,118.3 528.5,119.3 527.8,120.3 527.2,121.2 526.7,121.9 526.1,122.8 525.4,123.8 524.7,124.8 524.2,125.4 523.6,126.3 522.8,127.3 522.2,128.1 521.7,128.8 520.9,129.8 520.2,130.8 519.7,131.6 519.2,132.4 518.6,133.3 518.0,134.3 517.4,135.3 516.7,136.3 516.2,137.0 515.7,137.8 515.0,138.8 514.2,139.8 513.7,140.6 513.1,141.3 512.4,142.3 511.7,143.2 511.2,143.8 510.4,144.8 509.7,145.7 509.2,146.4 508.6,147.3 508.0,148.3 507.4,149.3 506.8,150.3 506.2,151.2 505.7,151.9 505.1,152.8 504.4,153.8 503.7,154.8 503.2,155.5 502.6,156.3 501.9,157.3 501.2,158.2 500.7,158.8 499.9,159.8 499.2,160.7 498.7,161.3 497.9,162.3 497.3,163.3 496.8,164.3 496.2,165.2 495.7,166.0 495.2,166.8 494.6,167.8 493.9,168.8 493.2,169.8 492.7,170.5 492.2,171.3 491.4,172.3 490.7,173.3 490.2,173.9 489.5,174.8 488.7,175.8 488.2,176.4 487.5,177.3 486.7,178.3 486.2,179.3 485.7,180.2 485.2,181.1 484.7,182.0 484.2,182.8 483.6,183.8 483.0,184.8 482.4,185.8 481.7,186.8 481.2,187.5 480.7,188.3 480.0,189.3 479.2,190.3 478.7,191.0 478.1,191.8 477.3,192.8 476.7,193.6 476.1,194.3 475.4,195.3 475.0,196.3 474.5,197.3 474.1,198.3 473.6,199.3 473.1,200.3 472.6,201.3 472.0,202.3 471.5,203.3 470.9,204.3 470.3,205.3 469.7,206.3 469.2,207.1 468.7,207.9 468.1,208.8 467.4,209.8 466.7,210.8 466.2,211.5 465.6,212.3 464.8,213.3 464.3,214.3 464.0,215.3 463.7,216.3 463.2,217.8 462.9,218.8 462.6,219.8 462.2,220.9 461.7,222.3 461.3,223.3 460.9,224.3 460.5,225.3 460.1,226.3 459.7,227.3 459.2,228.4 458.7,229.4 458.2,230.4 457.7,231.4 457.2,232.3 456.7,233.3 456.1,234.3 455.5,235.3 454.9,236.3 454.2,237.3 453.7,238.0 453.2,238.8 453.2,240.3 453.2,241.8 453.2,243.3 453.2,244.8 453.2,246.3 453.2,247.8 453.1,249.3 453.1,250.8 453.1,252.3 453.1,253.8 453.1,255.3 453.1,256.8 453.1,258.3 453.1,259.8 453.0,261.3 453.0,262.8 453.0,264.3 453.0,265.8 453.0,267.3 452.9,268.8 452.9,270.3 452.9,271.8 452.8,273.3 452.8,274.8 452.7,275.8 452.6,277.3 452.7,278.8 452.7,280.3 452.7,281.8 452.6,283.3 452.6,284.8 452.6,286.3 452.6,287.8 452.5,289.3 452.5,290.8 452.5,292.3 452.5,293.8 452.5,295.3 452.5,296.8 452.5,298.3 452.5,299.8 452.6,301.3 452.6,302.8 452.7,304.3 452.7,305.3 452.8,306.8 453.0,308.3 453.1,309.8 454.2,310.0 455.7,310.0 457.2,310.1 458.7,310.1 460.2,310.2 461.7,310.2 463.2,310.3 464.2,310.3 465.7,310.4 467.2,310.4 468.7,310.4 470.2,310.4 471.7,310.5 473.2,310.5 474.7,310.6 476.2,310.6 477.7,310.7 479.2,310.7 480.7,310.8 482.2,310.8 483.2,310.8 484.7,310.9 486.2,311.0 487.7,311.0 489.2,311.1 490.7,311.2 492.2,311.2 493.4,311.3 494.7,311.4 496.2,311.5 497.7,311.6 499.2,311.7 500.7,311.8M610.2,311.8 611.2,311.7 612.7,311.6 614.2,311.5 615.7,311.5 617.2,311.4 618.7,311.3 619.7,311.3 621.2,311.2 622.7,311.2 624.2,311.1 625.7,311.0 627.2,311.0 628.7,311.0 630.2,310.9 631.7,310.9 633.2,310.8 634.7,310.8 635.7,310.8 637.2,310.7 638.7,310.7 640.2,310.7 641.7,310.7 643.2,310.6 644.7,310.6 646.2,310.6 647.7,310.6 649.2,310.5 650.7,310.5 652.2,310.5 653.7,310.5 655.2,310.5 656.7,310.5 658.2,310.4 659.7,310.4 661.2,310.4 662.7,310.4 664.2,310.4 665.7,310.4 667.2,310.4 668.7,310.3 670.2,310.3 671.7,310.3 673.2,310.3 674.7,310.3 675.7,310.3 677.2,310.3 678.7,310.3 680.2,310.2 681.7,310.2 683.2,310.2 684.7,310.2 686.2,310.2 687.7,310.2 689.2,310.2 690.7,310.2 692.2,310.1 693.7,310.1 695.2,310.1 696.7,310.1 698.2,310.1 699.7,310.1 701.2,310.1 702.7,310.1 704.2,310.1 705.7,310.1 707.2,310.0 708.7,310.0 710.2,310.0 711.7,310.0 713.2,310.0 714.7,310.0 716.2,310.0 717.7,310.0 719.2,310.0 720.7,310.0 722.2,310.0M457.2,44.3 457.1,45.3 457.0,46.8 456.8,48.3 456.7,49.7 456.6,50.8 456.4,52.3 456.3,53.8 456.2,54.8 456.0,56.3 455.8,57.8 455.7,59.2 455.6,60.3 455.4,61.8 455.2,63.3 455.1,64.3 454.9,65.8 454.8,67.3 454.6,68.3 454.5,69.8 454.3,71.3 454.1,72.3 454.0,73.8 453.8,75.3 453.6,76.3 453.4,77.8 453.2,79.3 453.2,80.3 453.2,81.8 453.2,83.3 453.2,84.8 453.2,86.3 453.2,87.8 453.2,89.3 453.2,90.8 453.2,92.3 453.2,93.8 453.2,95.3 453.2,96.8 453.2,98.3 453.2,99.8 453.2,101.3 453.2,102.8 453.2,104.3 453.2,105.8 453.2,107.3 453.2,108.8 453.2,110.3 453.2,111.8 453.2,113.3 453.2,114.8 453.2,116.3 453.2,117.8 453.2,119.3 453.2,120.8 453.2,122.3 453.2,123.8 453.1,125.3 453.1,126.8 453.1,128.3 453.1,129.8 453.1,131.3 453.1,132.8 453.1,134.3 453.1,135.8 453.1,137.3 453.1,138.8 453.1,140.3 453.1,141.8 453.1,143.3 453.1,144.8 453.1,146.3 453.1,147.8 453.1,149.3 453.1,150.8 453.1,152.3 453.1,153.8 453.1,155.3 453.1,156.8 453.1,158.3 453.1,159.8 453.1,161.3 453.1,162.8 453.1,164.3 453.1,165.8 453.0,167.3 453.0,168.8 453.0,170.3 453.0,171.8 453.0,173.3 453.0,174.8 453.0,176.3 453.0,177.8 453.0,179.3 453.0,180.8 453.0,182.3 453.0,183.8 453.0,185.3 453.0,186.8 452.9,188.3 452.9,189.8 452.9,191.3 452.9,192.8 452.9,194.3 452.9,195.8 452.9,197.3 452.9,198.8 452.8,200.3 452.8,201.8 452.8,203.3 452.8,204.8 452.8,206.3 452.8,207.8 452.7,209.3 452.7,210.8 452.7,212.3 452.7,213.3 452.7,214.8 452.6,216.3 452.6,217.8 452.6,219.3 452.6,220.8 452.5,222.3 452.5,223.8 452.5,225.3 452.5,226.8 452.4,228.3 452.4,229.8 452.3,231.3 452.3,232.8 452.3,234.3 452.2,235.8 452.2,236.8 452.1,238.3 452.1,239.8 452.0,241.3 452.0,242.8 451.9,244.3 451.8,245.8 451.7,247.3 451.7,248.3 451.6,249.8 451.5,251.3 451.4,252.8 451.3,254.3 451.2,255.8 451.1,256.8 451.0,258.3 450.9,259.8 450.8,261.3 450.7,262.3 450.5,263.8 450.3,265.3 450.2,266.5 450.0,267.8 449.8,269.3 449.7,270.3 449.4,271.8 449.0,272.8 448.7,273.8 448.2,274.8 447.5,275.8 446.7,276.8 446.6,277.8 447.1,278.8 447.5,279.8 447.5,281.3 447.3,282.8 447.1,283.8 446.9,285.3 446.7,286.3 446.4,287.8 446.2,289.2 446.0,290.3 445.8,291.8 445.7,293.3 445.6,294.3 445.6,295.8 445.7,297.3 445.7,298.3 446.0,299.8 446.2,300.8 446.7,302.2 447.1,303.3 447.5,304.3 448.1,305.3 448.6,306.3 449.2,307.3 449.7,307.8 450.4,308.8 450.9,309.8 452.2,310.0 453.0,310.8M452.3,44.3 452.3,45.8 452.3,47.3 452.3,48.8 452.3,50.3 452.3,51.8 452.3,53.3 452.3,54.8 452.3,56.3 452.3,57.8 452.2,59.3 452.2,60.8 452.2,62.3 452.2,63.8 452.2,65.3 452.2,66.7 452.2,67.8 452.2,69.3 452.2,70.8 452.2,72.3 452.2,73.8 452.1,75.3 452.1,76.8 452.1,78.3 452.1,79.8 452.1,81.3 452.1,82.8 452.1,84.3 452.1,85.8 452.1,87.3 452.0,88.8 452.0,90.3 452.0,91.8 452.0,93.3 452.0,94.8 452.0,96.3 452.0,97.8 452.0,99.3 451.9,100.8 451.9,102.3 451.9,103.8 451.9,105.3 451.9,106.8 451.9,108.3 451.9,109.8 451.8,111.3 451.8,112.8 451.8,114.3 451.8,115.8 451.8,117.3 451.8,118.8 451.7,120.3 451.7,121.8 451.7,123.3 451.7,124.3 451.7,125.8 451.7,127.3 451.6,128.8 451.6,130.3 451.6,131.8 451.6,133.3 451.5,134.8 451.5,136.3 451.5,137.8 451.5,139.3 451.4,140.8 451.4,142.3 451.4,143.8 451.4,145.3 451.3,146.8 451.3,148.3 451.3,149.8 451.2,151.3 451.2,152.7 451.2,153.8 451.1,155.3 451.1,156.8 451.1,158.3 451.0,159.8 451.0,161.3 450.9,162.8 450.9,164.3 450.8,165.8 450.8,167.3 450.7,168.8 450.7,170.1 450.7,171.3 450.6,172.8 450.5,174.3 450.5,175.8 450.4,177.3 450.4,178.8 450.3,180.3 450.2,181.8 450.2,182.8 450.1,184.3 450.0,185.8 449.9,187.3 449.8,188.8 449.7,190.3 449.7,191.3 449.6,192.8 449.5,194.3 449.4,195.8 449.3,197.3 449.2,198.3 449.1,199.8 448.9,201.3 448.8,202.8 448.7,203.8 448.5,205.3 448.4,206.8 448.2,208.3 448.1,209.3 447.9,210.8 447.8,212.3 447.6,213.3 447.4,214.8 447.2,216.3 447.0,217.3 446.8,218.8 446.6,219.8 446.4,221.3 446.2,222.3 445.9,223.8 445.7,224.9 445.4,226.3 445.2,227.3 444.8,228.8 444.6,229.8 444.2,231.3 443.9,232.3 443.7,233.3 443.2,234.8 442.9,235.8M442.7,310.0 444.2,310.1 445.7,310.1 447.2,310.3 448.2,310.4 449.7,310.5 450.8,310.8 451.7,311.3M444.0,44.3 443.9,45.8 443.8,47.3 443.7,48.8 443.7,49.8 443.6,51.3 443.5,52.8 443.5,54.3 443.4,55.8 443.3,57.3 443.2,58.8 443.2,59.8 443.1,61.3 443.0,62.8 442.9,64.3 442.8,65.8 442.7,67.3"/></g><text class="cl" x="459.2" y="54.2">10</text><text class="cl" x="563.1" y="70.2">1</text><text class="cl" x="633.4" y="239.9">0. 1</text><text class="cl" x="583.2" y="308.6">0. 01</text><text class="cl" x="701.1" y="305.1">0. 1</text><path class="fr" style="stroke:#777;stroke-width:1.2" d="M442.7,44.3H722.8V312.0"/><path class="ax" style="stroke:#777;stroke-width:1.2" d="M442.7,44.3V312.0H722.8"/><path class="tk" d="M447.5,312.0v3.5M453.1,312.0v3.5M458.8,312.0v3.5M464.4,312.0v3.5M470.0,312.0v3.5M475.6,312.0v3.5M481.2,312.0v3.5M486.8,312.0v3.5M492.5,312.0v3.5M498.1,312.0v6.5M503.7,312.0v3.5M509.3,312.0v3.5M514.9,312.0v3.5M520.6,312.0v3.5M526.2,312.0v3.5M531.8,312.0v3.5M537.4,312.0v3.5M543.0,312.0v3.5M548.6,312.0v3.5M554.3,312.0v6.5M559.9,312.0v3.5M565.5,312.0v3.5M571.1,312.0v3.5M576.7,312.0v3.5M582.3,312.0v3.5M588.0,312.0v3.5M593.6,312.0v3.5M599.2,312.0v3.5M604.8,312.0v3.5M610.4,312.0v6.5M616.1,312.0v3.5M621.7,312.0v3.5M627.3,312.0v3.5M632.9,312.0v3.5M638.5,312.0v3.5M644.1,312.0v3.5M649.8,312.0v3.5M655.4,312.0v3.5M661.0,312.0v3.5M666.6,312.0v6.5M672.2,312.0v3.5M677.9,312.0v3.5M683.5,312.0v3.5M689.1,312.0v3.5M694.7,312.0v3.5M700.3,312.0v3.5M705.9,312.0v3.5M711.6,312.0v3.5M717.2,312.0v3.5M722.8,312.0v6.5M442.7,298.1h-2.6M442.7,283.1h-5.0M442.7,268.2h-2.6M442.7,253.3h-5.0M442.7,238.4h-2.6M442.7,223.4h-5.0M442.7,208.5h-2.6M442.7,193.6h-5.0M442.7,178.7h-2.6M442.7,163.7h-5.0M442.7,148.8h-2.6M442.7,133.9h-5.0M442.7,118.9h-2.6M442.7,104.0h-5.0M442.7,89.1h-2.6M442.7,74.2h-5.0M442.7,59.2h-2.6M442.7,44.3h-5.0"/><text class="tl" text-anchor="middle" x="498.1" y="335.9">0.5</text><text class="tl" text-anchor="middle" x="554.3" y="335.9">1.0</text><text class="tl" text-anchor="middle" x="610.4" y="335.9">1.5</text><text class="tl" text-anchor="middle" x="666.6" y="335.9">2.0</text><text class="tl" text-anchor="middle" x="722.8" y="335.9">2.5</text><text class="tl" text-anchor="end" x="433.3" y="288.8">1</text><text class="tl" text-anchor="end" x="433.3" y="259.0">2</text><text class="tl" text-anchor="end" x="433.3" y="229.1">3</text><text class="tl" text-anchor="end" x="433.3" y="199.3">4</text><text class="tl" text-anchor="end" x="433.3" y="169.4">5</text><text class="tl" text-anchor="end" x="433.3" y="139.6">6</text><text class="tl" text-anchor="end" x="433.3" y="109.7">7</text><text class="tl" text-anchor="end" x="433.3" y="79.9">8</text><text class="tl" text-anchor="end" x="433.3" y="50.0">9</text><text class="lt" x="405.5" y="23.0">b</text><text class="ti" text-anchor="middle" x="590.0" y="30.6">R=30 nm</text><text class="sa" text-anchor="middle" style="font-size:22.6px" x="742.2" y="31.5">sca/abs</text><text class="nl" text-anchor="middle" style="font-size:22.5px" x="584.2" y="352.5">n</text><text class="nl" text-anchor="middle" transform="translate(415.7,177.9) rotate(-90)" x="0" y="0">k</text><linearGradient id="gb" x1="0" y1="0" x2="0" y2="1"><stop offset="0.0053" stop-color="#ff0000"/><stop offset="0.0329" stop-color="#ff0e0e"/><stop offset="0.0605" stop-color="#ff1c1c"/><stop offset="0.0880" stop-color="#ff2a2a"/><stop offset="0.1156" stop-color="#ff3939"/><stop offset="0.1432" stop-color="#ff4747"/><stop offset="0.1708" stop-color="#ff5555"/><stop offset="0.1984" stop-color="#ff6363"/><stop offset="0.2260" stop-color="#ff7171"/><stop offset="0.2536" stop-color="#ff8080"/><stop offset="0.2812" stop-color="#ff8e8e"/><stop offset="0.3088" stop-color="#ff9c9c"/><stop offset="0.3363" stop-color="#ffaaaa"/><stop offset="0.3639" stop-color="#ffb8b8"/><stop offset="0.3915" stop-color="#ffc6c6"/><stop offset="0.4191" stop-color="#ffd4d4"/><stop offset="0.4467" stop-color="#ffe3e3"/><stop offset="0.4743" stop-color="#fff1f1"/><stop offset="0.5019" stop-color="#ffffff"/><stop offset="0.5295" stop-color="#f1f1ff"/><stop offset="0.5571" stop-color="#e3e3ff"/><stop offset="0.5847" stop-color="#d4d4ff"/><stop offset="0.6122" stop-color="#c6c6ff"/><stop offset="0.6398" stop-color="#b8b8ff"/><stop offset="0.6674" stop-color="#aaaaff"/><stop offset="0.6950" stop-color="#9c9cff"/><stop offset="0.7226" stop-color="#8e8eff"/><stop offset="0.7502" stop-color="#8080ff"/><stop offset="0.7778" stop-color="#7171ff"/><stop offset="0.8054" stop-color="#6363ff"/><stop offset="0.8330" stop-color="#5555ff"/><stop offset="0.8605" stop-color="#4747ff"/><stop offset="0.8881" stop-color="#3939ff"/><stop offset="0.9157" stop-color="#2a2aff"/><stop offset="0.9433" stop-color="#1c1cff"/><stop offset="0.9709" stop-color="#0e0eff"/><stop offset="0.9985" stop-color="#0000ff"/></linearGradient><rect x="729.2" y="45.1" width="14.3" height="265.5" fill="url(#gb)"/><rect x="729.2" y="43.2" width="14.3" height="2.1" fill="#8a8a8a"/><rect x="729.2" y="310.2" width="14.3" height="3.1" fill="#000"/><path class="cbb" d="M729.5,43.2V313.3M743.2,43.2V313.3"/><text class="cb" style="font-size:13.9px" x="751.9" y="50.6">1. 0E+05</text><text class="cb" style="font-size:13.9px" x="751.9" y="79.9">1. 0E+04</text><text class="cb" style="font-size:13.9px" x="751.9" y="138.5">100</text><text class="cb" style="font-size:13.9px" x="751.9" y="197.1">1. 0</text><text class="cb" style="font-size:13.9px" x="751.9" y="255.7">0. 010</text><text class="cb" style="font-size:13.9px" x="751.9" y="314.3">1. 0E-04</text><path class="cbt" d="M743.5,46.5h4.5M743.5,75.8h4.5M743.5,134.4h4.5M743.5,193.0h4.5M743.5,251.6h4.5M743.5,310.2h4.5"/><mask id="mc" maskUnits="userSpaceOnUse" x="0" y="0" width="1200" height="717"><rect width="1200" height="717" fill="#fff"/><rect x="838.6" y="266.0" width="13.2" height="10" fill="#000"/><rect x="931.7" y="208.3" width="7.6" height="10" fill="#000"/><rect x="872.4" y="292.1" width="22.8" height="10" fill="#000"/><rect x="933.8" y="306.2" width="28.4" height="10" fill="#000"/><rect x="1091.2" y="306.0" width="7.6" height="10" fill="#000"/></mask><g mask="url(#mc)"><path class="ct" d="M949.2,314.3 949.6,312.8 950.6,312.4 952.1,312.3 951.6,312.0 950.6,311.8 949.1,311.4 947.6,311.6 946.6,311.8 945.1,312.3 945.6,312.3 947.1,312.5 948.1,313.3 948.2,314.3M955.2,314.3 956.6,313.9 957.6,313.7 959.1,313.5 960.3,313.3 961.6,313.0 963.1,312.8 964.1,312.8 965.6,312.7 967.1,312.6 968.6,312.6 970.1,312.5 971.6,312.5 973.1,312.4 974.6,312.4 976.1,312.4 977.6,312.4 979.1,312.4 980.6,312.3 982.1,312.3 983.6,312.3 985.1,312.3 986.6,312.3 987.6,312.3 989.1,311.8 990.1,311.5 991.1,311.2 992.6,310.9 993.6,310.7 995.1,310.3 996.1,310.1 997.6,309.9 998.6,309.7 1000.1,309.5 1001.4,309.3 1002.6,308.8 1003.6,308.4 1004.6,308.0 1005.6,307.7 1006.6,307.3 1008.1,306.8 1009.1,306.5 1010.1,306.2 1011.1,305.5 1012.1,304.9 1013.1,304.4 1014.1,303.9 1015.1,303.4 1015.8,302.8 1016.6,301.9 1017.1,301.3 1018.1,300.3 1018.2,299.3 1018.4,297.8 1018.1,296.6 1017.6,295.7 1017.0,294.8 1016.1,293.8 1015.3,293.3 1014.5,292.8 1013.6,292.3 1012.6,291.7 1011.6,291.2 1010.6,290.8 1009.4,290.3 1008.1,289.8 1007.1,289.4 1006.1,289.1 1005.1,288.7 1003.6,288.3 1002.6,288.1 1001.4,287.8 1000.1,287.5 999.1,287.3 997.6,287.0 996.6,286.7 995.1,286.4 994.1,286.2 992.6,286.0 991.3,285.8 990.1,285.6 988.6,285.4 987.6,285.3 986.1,285.1 984.6,284.9 983.6,284.8 982.1,284.6 980.6,284.5 979.1,284.4 977.6,284.3 976.6,284.2 975.1,284.1 973.6,284.0 972.1,283.9 970.6,283.9 969.1,283.8 967.6,283.8 966.6,283.8 965.1,283.7 963.6,283.7 962.1,283.7 960.6,283.7 959.1,283.7 957.6,283.7 956.1,283.7 954.6,283.8 953.6,283.8 952.1,283.8 950.6,283.9 949.1,283.9 947.6,284.0 946.1,284.1 944.6,284.2 943.3,284.3 942.1,284.4 940.6,284.5 939.1,284.6 937.6,284.7 936.6,284.8 935.1,285.0 933.6,285.2 932.3,285.3 931.1,285.5 929.6,285.6 928.3,285.8 927.1,285.9 925.6,286.2 924.6,286.4 923.1,286.6 922.1,286.8 920.6,287.1 919.5,287.3 918.1,287.5 916.7,287.8 915.6,288.0 914.2,288.3 913.1,288.6 912.1,288.9 910.7,289.3 909.6,289.6 908.6,289.9 907.1,290.3 906.1,290.6 905.1,290.8 903.6,291.3 902.6,291.7 901.6,292.2 900.6,292.6 899.6,293.1 898.6,293.6 897.6,294.0 896.6,294.5 895.6,295.1 894.6,295.7 893.6,296.3 892.7,296.8 892.1,297.3 891.4,298.3 890.8,299.3 890.2,300.3 890.1,301.8 890.1,302.8 890.5,303.8 891.1,304.6 891.6,305.3 892.3,306.3 893.6,306.8 894.6,307.2 895.6,307.6 896.6,308.1 897.6,308.6 898.6,309.2 899.6,309.4 901.1,309.7 902.1,309.9 903.6,310.3 904.6,310.5 905.9,310.8 907.1,311.1 908.1,311.4 909.4,311.8 910.6,312.3 911.6,312.3 913.1,312.3 914.6,312.3 916.1,312.3 917.6,312.3 919.1,312.4 920.6,312.4 922.1,312.4 923.6,312.4 925.1,312.5 926.6,312.5 928.1,312.5 929.6,312.6 931.1,312.6 932.6,312.7 933.9,312.8 935.1,312.9 936.6,313.2 937.6,313.4 939.1,313.6 940.3,313.8 941.6,314.1M1117.1,153.4 1115.8,153.8 1114.6,154.1 1113.6,154.4 1112.1,154.8 1111.1,155.1 1110.1,155.3 1108.6,155.7 1107.6,156.0 1106.5,156.3 1105.1,156.7 1104.1,157.0 1102.9,157.3 1101.6,157.7 1100.6,157.9 1099.3,158.3 1098.1,158.6 1097.1,158.9 1095.6,159.3 1094.6,159.6 1093.6,159.9 1092.1,160.3 1091.1,160.6 1090.1,160.9 1088.6,161.3 1087.6,161.6 1086.6,161.8 1085.1,162.3 1084.1,162.5 1083.1,162.8 1081.6,163.3 1080.6,163.6 1079.6,163.8 1078.1,164.3 1077.1,164.6 1076.1,164.8 1074.6,165.3 1073.6,165.5 1072.6,165.8 1071.1,166.3 1070.1,166.6 1069.1,166.9 1067.7,167.3 1066.6,167.6 1065.6,167.9 1064.2,168.3 1063.1,168.6 1062.1,168.9 1060.7,169.3 1059.6,169.7 1058.6,170.0 1057.5,170.3 1056.1,170.7 1055.1,171.0 1054.1,171.3 1052.6,171.8 1051.6,172.1 1050.6,172.3 1049.1,172.8 1048.1,173.1 1047.1,173.4 1045.9,173.8 1044.6,174.2 1043.6,174.5 1042.6,174.8 1041.1,175.3 1040.1,175.6 1039.1,175.9 1037.7,176.3 1036.6,176.7 1035.6,177.0 1034.6,177.3 1033.1,177.8 1032.1,178.1 1031.1,178.4 1029.7,178.8 1028.6,179.1 1027.6,179.4 1026.5,179.8 1025.1,180.3 1024.1,180.6 1023.1,180.9 1021.9,181.3 1020.6,181.7 1019.6,182.0 1018.6,182.4 1017.2,182.8 1016.1,183.1 1015.1,183.5 1014.1,183.8 1012.7,184.3 1011.6,184.7 1010.6,185.0 1009.6,185.3 1008.1,185.8 1007.1,186.1 1006.1,186.4 1004.9,186.8 1003.6,187.3 1002.6,187.6 1001.6,188.0 1000.6,188.3 999.2,188.8 998.1,189.2 997.1,189.5 996.1,189.8 994.6,190.3 993.6,190.6 992.6,191.0 991.6,191.4 990.4,191.8 989.1,192.3 988.1,192.6 987.1,193.0 986.1,193.3 984.6,193.8 983.6,194.1 982.6,194.5 981.6,194.8 980.4,195.3 979.1,195.8 978.1,196.2 977.1,196.5 976.1,196.9 974.9,197.3 973.6,197.8 972.6,198.1 971.6,198.4 970.6,198.8 969.4,199.3 968.1,199.8 967.1,200.2 966.1,200.6 965.1,200.9 964.1,201.3 962.7,201.8 961.6,202.2 960.6,202.6 959.6,202.9 958.6,203.4 957.5,203.8 956.3,204.3 955.1,204.8 954.1,205.2 953.1,205.6 952.1,205.9 951.1,206.3 949.8,206.8 948.6,207.2 947.6,207.7 946.6,208.1 945.6,208.6 944.6,209.0 943.6,209.4 942.6,209.8 941.4,210.3 940.1,210.8 939.1,211.2 938.1,211.6 937.1,212.0 936.1,212.5 935.1,212.9 934.1,213.4 933.1,213.8 932.1,214.3 930.9,214.8 929.7,215.3 928.6,215.8 927.6,216.2 926.6,216.6 925.6,217.1 924.6,217.6 923.6,218.1 922.6,218.6 921.6,219.0 920.6,219.5 919.6,220.0 918.6,220.4 917.6,220.9 916.6,221.3 915.5,221.8 914.4,222.3 913.6,222.8 912.6,223.3 911.6,223.9 910.6,224.4 909.6,224.9 908.6,225.4 907.6,225.9 906.6,226.4 905.6,226.9 904.6,227.3 903.6,227.8 902.6,228.4 901.6,229.1 900.6,229.7 899.6,230.3 898.7,230.8 897.8,231.3 896.9,231.8 896.0,232.3 895.0,232.8 894.1,233.3 893.1,233.8 892.1,234.4 891.1,235.1 890.1,235.8 889.4,236.3 888.6,236.9 887.6,237.5 886.6,238.2 885.6,238.8 884.8,239.3 883.9,239.8 883.1,240.3 882.1,240.8 881.1,241.5 880.2,242.3 879.6,242.8 878.6,243.7 877.9,244.3 877.1,244.9 876.1,245.7 875.3,246.3 874.6,246.8 873.6,247.6 872.6,248.3 871.8,248.8 871.0,249.3 870.1,249.9 869.4,250.8 868.6,251.7 868.1,252.3 867.2,253.3 866.6,254.0 865.8,254.8 865.1,255.5 864.3,256.3 863.6,257.0 862.7,257.8 862.1,258.3 861.1,259.2 860.4,259.8 859.6,260.4 858.7,261.3 858.2,262.3 857.8,263.3 857.3,264.3 856.7,265.3 856.2,266.3 855.6,267.3 855.1,268.0 854.6,268.8 853.8,269.8 853.1,270.7 852.4,271.3 851.6,272.0 850.6,272.8 849.8,273.3 848.8,273.8 847.6,274.3 847.6,275.3 847.4,276.8 847.5,278.3 847.5,279.8 847.5,281.3 847.5,282.8 847.5,284.3 847.5,285.8 847.5,287.3 847.5,288.8 847.5,290.3 847.5,291.8 847.5,293.3 847.5,294.8 847.5,296.3 847.5,297.8 847.5,299.3 847.5,300.8 847.5,302.3 847.5,303.8 847.5,305.3 847.6,306.8 847.6,308.3 847.6,309.3 849.1,309.6 850.1,309.8 851.6,310.1 852.6,310.4 853.9,310.8 855.1,311.2 856.1,311.6 857.1,312.1 858.1,312.3 859.6,312.3 861.1,312.3 862.6,312.3 864.1,312.3 865.6,312.3 867.1,312.4 868.6,312.4 870.1,312.4 871.6,312.4 873.1,312.4 874.6,312.4 876.1,312.4 877.6,312.4 879.1,312.5 880.6,312.5 882.1,312.5 883.6,312.5 885.1,312.5 886.6,312.5 888.1,312.6 889.6,312.6 891.1,312.6 892.6,312.6 894.1,312.7 895.6,312.7 897.1,312.7 898.6,312.8 899.8,312.8 901.1,312.8 902.6,312.9 904.1,312.9 905.6,313.0 907.1,313.0 908.6,313.1 910.1,313.2 911.6,313.3 912.6,313.3 914.1,313.5 915.6,313.6 917.1,313.7 918.3,313.8 919.6,313.9 921.1,314.1 922.2,314.3M975.4,314.3 976.6,314.1 978.1,313.9 979.6,313.8 980.6,313.7 982.1,313.6 983.6,313.5 985.1,313.4 986.1,313.3 987.6,313.2 989.1,313.1 990.6,313.1 992.1,313.0 993.6,313.0 995.1,312.9 996.6,312.9 998.1,312.8 999.5,312.8 1000.6,312.8 1002.1,312.7 1003.6,312.7 1005.1,312.7 1006.6,312.7 1008.1,312.6 1009.6,312.6 1011.1,312.6 1012.6,312.6 1014.1,312.6 1015.6,312.5 1017.1,312.5 1018.6,312.5 1020.1,312.5 1021.6,312.5 1023.1,312.5 1024.6,312.5 1026.1,312.5 1027.6,312.5 1029.1,312.4 1030.6,312.4 1032.1,312.4 1033.6,312.4 1035.1,312.4 1036.6,312.4 1038.1,312.4 1039.6,312.4 1041.1,312.4 1042.6,312.4 1044.1,312.4 1045.6,312.4 1047.1,312.4 1048.6,312.4 1050.1,312.4 1051.6,312.3 1053.1,312.3 1054.6,312.3 1056.1,312.3 1057.6,312.3 1059.1,312.3 1060.6,312.3 1062.1,312.3 1063.6,312.3 1065.1,312.3 1066.6,312.3 1068.1,312.3 1069.6,312.3 1071.1,312.3 1072.6,312.3 1074.1,312.3 1075.6,312.3 1076.6,312.2 1078.1,312.1 1079.6,312.0 1081.1,311.8 1082.1,311.8 1083.6,311.7 1085.1,311.5 1086.6,311.4 1088.1,311.3 1089.1,311.2 1090.6,311.1 1092.1,311.1 1093.6,311.0 1095.1,310.9 1096.2,310.8 1097.6,310.7 1099.1,310.6 1100.6,310.6 1102.1,310.5 1103.6,310.4 1105.1,310.3 1106.1,310.3 1107.6,310.2 1109.1,310.2 1110.6,310.1 1112.1,310.0 1113.6,310.0 1115.1,309.9 1116.6,309.8M896.8,45.8 896.4,46.8 896.0,47.8 895.5,48.8 895.1,49.8 894.6,51.0 894.1,52.1 893.6,53.2 893.1,54.3 892.6,55.3 892.3,56.3 892.0,57.3 891.6,58.5 891.2,59.8 890.9,60.8 890.5,61.8 890.1,63.1 889.7,64.3 889.4,65.3 889.0,66.3 888.6,67.5 888.1,68.8 887.8,69.8 887.4,70.8 887.1,71.8 886.6,73.0 886.1,74.3 885.7,75.3 885.4,76.3 885.0,77.3 884.6,78.3 884.1,79.5 883.6,80.7 883.2,81.8 882.7,82.8 882.3,83.8 881.9,84.8 881.5,85.8 881.1,86.9 880.7,88.3 880.5,89.3 880.1,90.6 879.8,91.8 879.5,92.8 879.1,94.1 878.8,95.3 878.5,96.3 878.1,97.5 877.7,98.8 877.4,99.8 877.1,100.8 876.6,102.3 876.3,103.3 876.0,104.3 875.6,105.4 875.1,106.8 874.8,107.8 874.4,108.8 874.1,109.8 873.6,111.1 873.2,112.3 872.8,113.3 872.4,114.3 872.0,115.3 871.6,116.4 871.1,117.6 870.6,118.8 870.2,119.8 869.9,120.8 869.6,122.2 869.4,123.3 869.1,124.5 868.8,125.8 868.6,126.8 868.2,128.3 868.0,129.3 867.6,130.8 867.4,131.8 867.1,132.9 866.7,134.3 866.5,135.3 866.1,136.7 865.8,137.8 865.5,138.8 865.1,140.2 864.8,141.3 864.5,142.3 864.1,143.6 863.7,144.8 863.4,145.8 863.1,146.8 862.6,148.2 862.2,149.3 861.9,150.3 861.5,151.3 861.1,152.5 860.6,153.8 860.2,154.8 859.9,155.8 859.5,156.8 859.1,157.8 858.7,159.3 858.5,160.3 858.3,161.8 858.1,163.2 857.9,164.3 857.7,165.8 857.5,166.8 857.3,168.3 857.1,169.3 856.8,170.8 856.6,172.1 856.4,173.3 856.1,174.7 855.9,175.8 855.6,177.1 855.4,178.3 855.1,179.4 854.8,180.8 854.6,181.8 854.2,183.3 853.9,184.3 853.6,185.6 853.3,186.8 853.0,187.8 852.6,189.3 852.3,190.3 852.0,191.3 851.6,192.6 851.2,193.8 850.9,194.8 850.5,195.8 850.1,197.0 849.6,198.3 849.2,199.3 848.9,200.3 848.4,201.3 848.0,202.3 847.6,203.3 847.6,204.8 847.6,206.3 847.6,207.8 847.6,209.3 847.6,210.8 847.6,212.3 847.6,213.8 847.6,215.3 847.6,216.8 847.6,218.3 847.5,219.8 847.5,221.3 847.5,222.8 847.5,224.3 847.5,225.8 847.5,227.3 847.5,228.8 847.5,230.3 847.5,231.8 847.5,233.3 847.5,234.8 847.4,236.3 847.4,237.8 847.4,239.3 847.4,240.8 847.4,242.3 847.4,243.8 847.4,245.3 847.3,246.8 847.3,248.3 847.3,249.8 847.3,251.3 847.2,252.8 847.2,254.3 847.2,255.8 847.2,257.3 847.1,258.8 847.1,260.3 847.1,261.3 847.0,262.8 847.0,264.3 847.0,265.8 846.9,267.3 846.9,268.8 846.8,270.3 846.7,271.8 846.6,273.3 846.2,274.3 845.6,275.1 844.6,275.7 843.6,275.9 842.1,276.2 840.6,276.3 841.1,276.5 842.1,276.9 843.2,277.3 844.1,277.8 845.1,278.8 845.5,279.8 845.8,280.8 846.0,282.3 846.0,283.8 846.0,285.3 846.0,286.8 845.9,288.3 845.9,289.8 845.8,291.3 845.8,292.8 845.7,294.3 845.7,295.8 845.7,297.3 845.7,298.8 845.7,300.3 845.8,301.8 845.8,303.3 846.0,304.8 846.1,306.1 846.3,307.3 846.5,308.8 846.7,309.8 846.9,311.3 847.1,312.3 848.6,312.7 850.1,312.8 851.1,312.8 852.6,312.9 854.1,312.9 855.6,313.0 857.1,313.1 858.6,313.3 859.6,313.3 861.1,313.4 862.6,313.5 864.1,313.5 865.6,313.6 867.1,313.7 868.1,313.8 869.6,314.0 871.1,314.1 872.6,314.2 874.1,314.3M1033.8,314.3 1035.1,314.2 1036.6,314.2 1038.1,314.1 1039.6,314.0 1041.1,314.0 1042.6,313.9 1044.1,313.9 1045.6,313.8 1046.6,313.8 1048.1,313.7 1049.6,313.7 1051.1,313.7 1052.6,313.6 1054.1,313.6 1055.6,313.5 1057.1,313.5 1058.6,313.5 1060.1,313.4 1061.6,313.4 1063.1,313.4 1064.6,313.3 1066.1,313.3 1067.1,313.3 1068.6,313.3 1070.1,313.2 1071.6,313.2 1073.1,313.2 1074.6,313.2 1076.1,313.1 1077.6,313.1 1079.1,313.1 1080.6,313.1 1082.1,313.1 1083.6,313.0 1085.1,313.0 1086.6,313.0 1088.1,313.0 1089.6,313.0 1091.1,313.0 1092.6,312.9 1094.1,312.9 1095.6,312.9 1097.1,312.9 1098.6,312.9 1100.1,312.9 1101.6,312.9 1103.1,312.9 1104.6,312.8 1106.1,312.8 1107.6,312.8 1109.1,312.8 1110.6,312.8 1111.6,312.8 1113.1,312.8 1114.6,312.8 1116.1,312.8M847.5,45.8 847.5,47.3 847.5,48.8 847.5,50.3 847.5,51.8 847.5,53.3 847.5,54.8 847.5,56.3 847.5,57.8 847.5,59.3 847.5,60.8 847.5,62.3 847.5,63.8 847.5,65.3 847.4,66.8 847.4,68.3 847.4,69.8 847.4,71.3 847.4,72.8 847.4,74.3 847.4,75.8 847.4,77.3 847.4,78.8 847.4,80.3 847.4,81.8 847.4,83.3 847.4,84.8 847.4,86.3 847.4,87.8 847.4,89.3 847.4,90.8 847.4,92.3 847.4,93.8 847.4,95.3 847.4,96.8 847.4,98.3 847.4,99.8 847.4,101.3 847.4,102.8 847.4,104.3 847.4,105.8 847.3,107.3 847.3,108.8 847.3,110.3 847.3,111.8 847.3,113.3 847.3,114.8 847.3,116.3 847.3,117.8 847.3,119.3 847.3,120.8 847.3,122.3 847.3,123.8 847.3,125.3 847.3,126.8 847.3,128.3 847.3,129.8 847.3,131.3 847.2,132.8 847.2,134.3 847.2,135.8 847.2,137.3 847.2,138.8 847.2,140.3 847.2,141.8 847.2,143.3 847.2,144.8 847.2,146.3 847.2,147.8 847.1,149.3 847.1,150.8 847.1,152.3 847.1,153.8 847.1,155.3 847.1,156.3 847.1,157.8 847.1,159.3 847.1,160.8 847.1,162.3 847.0,163.8 847.0,165.3 847.0,166.8 847.0,168.3 847.0,169.8 847.0,171.3 847.0,172.8 847.0,174.3 846.9,175.8 846.9,177.3 846.9,178.8 846.9,180.3 846.9,181.8 846.9,183.3 846.8,184.8 846.8,186.3 846.8,187.8 846.8,189.3 846.8,190.8 846.7,192.3 846.7,193.8 846.7,195.3 846.7,196.8 846.6,198.3 846.6,199.5 846.6,200.8 846.5,202.3 846.5,203.8 846.5,205.3 846.4,206.8 846.4,208.3 846.4,209.8 846.3,211.3 846.3,212.8 846.2,214.3 846.2,215.8 846.1,217.3 846.1,218.3 846.0,219.8 846.0,221.3 845.9,222.8 845.8,224.3 845.8,225.8 845.7,227.3 845.6,228.8 845.6,229.8 845.5,231.3 845.4,232.8 845.3,234.3 845.2,235.8 845.1,237.1 845.0,238.3 844.9,239.8 844.8,241.3 844.6,242.8 844.5,243.8 844.4,245.3 844.2,246.8 844.1,247.8 843.9,249.3 843.7,250.8 843.6,251.8 843.4,253.3 843.1,254.8 843.0,255.8 842.7,257.3 842.5,258.3 842.2,259.8 842.0,260.8 841.7,262.3 841.5,263.3 841.1,264.8 840.8,265.8 840.5,266.8 840.1,268.2 839.7,269.3 839.3,270.3 838.7,271.3 838.1,272.2 837.6,272.8M837.1,309.5 838.1,309.9 839.1,310.4 840.1,311.0 841.1,311.7 841.7,312.3 843.1,312.3 844.6,312.4 846.1,312.6 847.1,313.2 847.4,314.3M845.5,45.8 845.5,47.3 845.5,48.8 845.5,50.3 845.4,51.8 845.4,53.3 845.4,54.8 845.4,56.3 845.3,57.8 845.3,59.3 845.3,60.8 845.3,62.3 845.2,63.8 845.2,65.3 845.2,66.8 845.2,68.3 845.1,69.8 845.1,71.3 845.1,72.3 845.1,73.8 845.0,75.3 845.0,76.8 845.0,78.3 844.9,79.8 844.9,81.3 844.9,82.8 844.9,84.3 844.8,85.8 844.8,87.3 844.8,88.8 844.7,90.3 844.7,91.8 844.6,93.3 844.6,94.8 844.6,95.8 844.5,97.3 844.5,98.8 844.5,100.3 844.4,101.8 844.4,103.3 844.3,104.8 844.3,106.3 844.3,107.8 844.2,109.3 844.2,110.8 844.1,112.3 844.1,113.3 844.0,114.8 844.0,116.3 843.9,117.8 843.9,119.3 843.8,120.8 843.8,122.3 843.7,123.8 843.7,125.3 843.6,126.8 843.6,127.8 843.5,129.3 843.5,130.8 843.4,132.3 843.3,133.8 843.3,135.3 843.2,136.8 843.1,138.3 843.1,139.3 843.0,140.8 842.9,142.3 842.9,143.8 842.8,145.3 842.7,146.8 842.6,148.3 842.6,149.3 842.5,150.8 842.4,152.3 842.3,153.8 842.2,155.3 842.1,156.6 842.0,157.8 841.9,159.3 841.8,160.8 841.7,162.3 841.6,163.6 841.5,164.8 841.4,166.3 841.3,167.8 841.1,169.3 841.0,170.3 840.9,171.8 840.8,173.3 840.6,174.8 840.5,175.8 840.3,177.3 840.2,178.8 840.1,179.8 839.9,181.3 839.7,182.8 839.6,183.8 839.4,185.3 839.2,186.8 839.1,187.8 838.8,189.3 838.6,190.8 838.5,191.8 838.2,193.3 838.1,194.3 837.8,195.8 837.6,197.0 837.4,198.3 837.1,199.6M837.1,312.7 838.1,312.8 839.6,312.9 841.1,313.1 842.5,313.3 843.6,313.6 844.6,314.1"/></g><text class="cl" x="845.2" y="275.0">10</text><text class="cl" x="935.5" y="217.3">1</text><text class="cl" x="883.8" y="301.1">0. 1</text><text class="cl" x="948.0" y="315.2">0. 01</text><text class="cl" x="1095.0" y="315.0">1</text><path class="fr" style="stroke:#777;stroke-width:1.2" d="M837.1,45.8H1117.3V314.3"/><path class="ax" style="stroke:#777;stroke-width:1.2" d="M837.1,45.8V314.3H1117.3"/><path class="tk" d="M841.9,314.3v3.5M847.5,314.3v3.5M853.2,314.3v3.5M858.8,314.3v3.5M864.4,314.3v3.5M870.0,314.3v3.5M875.6,314.3v3.5M881.3,314.3v3.5M886.9,314.3v3.5M892.5,314.3v6.5M898.1,314.3v3.5M903.7,314.3v3.5M909.4,314.3v3.5M915.0,314.3v3.5M920.6,314.3v3.5M926.2,314.3v3.5M931.8,314.3v3.5M937.5,314.3v3.5M943.1,314.3v3.5M948.7,314.3v6.5M954.3,314.3v3.5M959.9,314.3v3.5M965.6,314.3v3.5M971.2,314.3v3.5M976.8,314.3v3.5M982.4,314.3v3.5M988.0,314.3v3.5M993.7,314.3v3.5M999.3,314.3v3.5M1004.9,314.3v6.5M1010.5,314.3v3.5M1016.1,314.3v3.5M1021.8,314.3v3.5M1027.4,314.3v3.5M1033.0,314.3v3.5M1038.6,314.3v3.5M1044.2,314.3v3.5M1049.9,314.3v3.5M1055.5,314.3v3.5M1061.1,314.3v6.5M1066.7,314.3v3.5M1072.3,314.3v3.5M1078.0,314.3v3.5M1083.6,314.3v3.5M1089.2,314.3v3.5M1094.8,314.3v3.5M1100.4,314.3v3.5M1106.1,314.3v3.5M1111.7,314.3v3.5M1117.3,314.3v6.5M837.1,300.3h-2.6M837.1,285.4h-5.0M837.1,270.4h-2.6M837.1,255.4h-5.0M837.1,240.4h-2.6M837.1,225.5h-5.0M837.1,210.5h-2.6M837.1,195.5h-5.0M837.1,180.6h-2.6M837.1,165.6h-5.0M837.1,150.6h-2.6M837.1,135.6h-5.0M837.1,120.7h-2.6M837.1,105.7h-5.0M837.1,90.7h-2.6M837.1,75.7h-5.0M837.1,60.8h-2.6M837.1,45.8h-5.0"/><text class="tl" text-anchor="middle" x="892.5" y="337.8">0.5</text><text class="tl" text-anchor="middle" x="948.7" y="337.8">1.0</text><text class="tl" text-anchor="middle" x="1004.9" y="337.8">1.5</text><text class="tl" text-anchor="middle" x="1061.1" y="337.8">2.0</text><text class="tl" text-anchor="middle" x="1117.3" y="337.8">2.5</text><text class="tl" text-anchor="end" x="828.3" y="291.1">1</text><text class="tl" text-anchor="end" x="828.3" y="261.1">2</text><text class="tl" text-anchor="end" x="828.3" y="231.2">3</text><text class="tl" text-anchor="end" x="828.3" y="201.2">4</text><text class="tl" text-anchor="end" x="828.3" y="171.3">5</text><text class="tl" text-anchor="end" x="828.3" y="141.3">6</text><text class="tl" text-anchor="end" x="828.3" y="111.4">7</text><text class="tl" text-anchor="end" x="828.3" y="81.4">8</text><text class="tl" text-anchor="end" x="828.3" y="51.5">9</text><text class="lt" x="807.0" y="23.0">c</text><text class="ti" text-anchor="middle" x="986.7" y="30.3">R=50 nm</text><text class="sa" text-anchor="middle" style="font-size:22.6px" x="1136.4" y="32.7">sca/abs</text><text class="nl" text-anchor="middle" style="font-size:22.5px" x="978.1" y="355.2">n</text><text class="nl" text-anchor="middle" transform="translate(810.0,180.0) rotate(-90)" x="0" y="0">k</text><linearGradient id="gc" x1="0" y1="0" x2="0" y2="1"><stop offset="0.0053" stop-color="#ff0000"/><stop offset="0.0329" stop-color="#ff0e0e"/><stop offset="0.0604" stop-color="#ff1c1c"/><stop offset="0.0880" stop-color="#ff2a2a"/><stop offset="0.1156" stop-color="#ff3939"/><stop offset="0.1432" stop-color="#ff4747"/><stop offset="0.1708" stop-color="#ff5555"/><stop offset="0.1984" stop-color="#ff6363"/><stop offset="0.2260" stop-color="#ff7171"/><stop offset="0.2536" stop-color="#ff8080"/><stop offset="0.2812" stop-color="#ff8e8e"/><stop offset="0.3088" stop-color="#ff9c9c"/><stop offset="0.3363" stop-color="#ffaaaa"/><stop offset="0.3639" stop-color="#ffb8b8"/><stop offset="0.3915" stop-color="#ffc6c6"/><stop offset="0.4191" stop-color="#ffd4d4"/><stop offset="0.4467" stop-color="#ffe3e3"/><stop offset="0.4743" stop-color="#fff1f1"/><stop offset="0.5019" stop-color="#ffffff"/><stop offset="0.5295" stop-color="#f1f1ff"/><stop offset="0.5571" stop-color="#e3e3ff"/><stop offset="0.5846" stop-color="#d4d4ff"/><stop offset="0.6122" stop-color="#c6c6ff"/><stop offset="0.6398" stop-color="#b8b8ff"/><stop offset="0.6674" stop-color="#aaaaff"/><stop offset="0.6950" stop-color="#9c9cff"/><stop offset="0.7226" stop-color="#8e8eff"/><stop offset="0.7502" stop-color="#8080ff"/><stop offset="0.7778" stop-color="#7171ff"/><stop offset="0.8054" stop-color="#6363ff"/><stop offset="0.8330" stop-color="#5555ff"/><stop offset="0.8605" stop-color="#4747ff"/><stop offset="0.8881" stop-color="#3939ff"/><stop offset="0.9157" stop-color="#2a2aff"/><stop offset="0.9433" stop-color="#1c1cff"/><stop offset="0.9709" stop-color="#0e0eff"/><stop offset="0.9985" stop-color="#0000ff"/></linearGradient><rect x="1123.4" y="46.9" width="14.6" height="265.9" fill="url(#gc)"/><rect x="1123.4" y="44.8" width="14.6" height="2.3" fill="#8a8a8a"/><rect x="1123.4" y="312.4" width="14.6" height="2.4" fill="#000"/><path class="cbb" d="M1123.7,44.8V314.8M1137.7,44.8V314.8"/><text class="cb" style="font-size:13.1px" x="1146.1" y="52.4">1. 0E+05</text><text class="cb" style="font-size:13.1px" x="1146.1" y="81.7">1. 0E+04</text><text class="cb" style="font-size:13.1px" x="1146.1" y="140.4">100</text><text class="cb" style="font-size:13.1px" x="1146.1" y="199.1">1. 0</text><text class="cb" style="font-size:13.1px" x="1146.1" y="257.8">0. 010</text><text class="cb" style="font-size:13.1px" x="1146.1" y="316.5">1. 0E-04</text><path class="cbt" d="M1138.0,48.3h4.5M1138.0,77.6h4.5M1138.0,136.3h4.5M1138.0,195.0h4.5M1138.0,253.7h4.5M1138.0,312.4h4.5"/><mask id="md" maskUnits="userSpaceOnUse" x="0" y="0" width="1200" height="717"><rect width="1200" height="717" fill="#fff"/><rect x="316.2" y="444.8" width="13.2" height="10" fill="#000"/><rect x="467.5" y="561.0" width="7.6" height="10" fill="#000"/><rect x="247.1" y="634.2" width="13.2" height="10" fill="#000"/><rect x="337.0" y="643.4" width="22.8" height="10" fill="#000"/><rect x="516.1" y="652.1" width="7.6" height="10" fill="#000"/></mask><g mask="url(#md)"><path class="ct" d="M358.1,665.0 358.1,664.5 358.0,664.2 357.9,664.5 357.9,665.0M361.5,665.0 362.7,664.5 364.0,664.2 365.0,664.0 366.5,663.8 368.0,663.7 369.5,663.6 370.5,663.5 372.0,663.3 373.5,663.3 375.0,663.2 376.5,663.1 378.0,663.1 379.5,663.1 381.0,663.1 382.5,663.0 384.0,663.0 385.0,663.0 386.0,662.4 387.0,661.9 388.0,661.5 389.5,661.0 390.5,660.7 391.5,660.5 393.0,660.0 393.5,659.2 394.1,658.5 395.0,657.5 395.5,657.0 395.3,656.0 395.0,655.0 394.5,653.9 393.5,653.2 392.5,652.5 391.7,652.0 390.5,651.5 389.5,651.1 388.5,650.8 387.5,650.5 386.0,650.1 385.0,649.8 383.8,649.5 382.5,649.2 381.5,648.9 380.0,648.7 378.8,648.5 377.5,648.3 376.0,648.2 374.8,648.0 373.5,647.9 372.0,647.7 370.5,647.5 369.5,647.4 368.0,647.4 366.5,647.4 365.0,647.3 363.5,647.3 362.0,647.2 360.5,647.2 359.0,647.2 357.5,647.2 356.0,647.3 354.5,647.4 353.0,647.4 351.8,647.5 350.5,647.6 349.0,647.7 347.5,647.7 346.0,647.9 345.0,648.0 343.5,648.3 342.0,648.5 341.0,648.7 339.5,648.9 338.5,649.1 337.0,649.3 335.9,649.5 334.5,649.8 333.5,650.1 332.3,650.5 331.0,650.9 330.0,651.2 329.0,651.6 328.0,652.0 326.9,652.5 325.8,653.0 324.8,653.5 323.8,654.0 323.2,655.0 322.7,656.0 322.2,657.0 322.9,658.0 323.4,659.0 323.9,660.0 325.0,660.3 326.0,660.6 327.3,661.0 328.5,661.4 329.5,661.9 330.5,662.4 331.4,663.0 332.5,663.0 334.0,663.0 335.5,663.1 337.0,663.1 338.5,663.1 340.0,663.2 341.5,663.2 343.0,663.3 344.5,663.4 345.6,663.5 347.0,663.6 348.5,663.7 350.0,663.9 351.1,664.0 352.5,664.3 353.5,664.5 354.5,665.0M528.0,561.1 526.5,561.2 525.0,561.4 523.5,561.5 522.5,561.6 521.0,561.7 519.5,561.9 518.0,562.0 517.0,562.1 515.5,562.2 514.0,562.4 512.5,562.5 511.5,562.6 510.0,562.7 508.5,562.9 507.1,563.0 506.0,563.1 504.5,563.3 503.0,563.4 502.0,563.5 500.5,563.7 499.0,563.8 497.5,564.0 496.5,564.1 495.0,564.2 493.5,564.4 492.4,564.5 491.0,564.7 489.5,564.8 488.0,565.0 487.0,565.1 485.5,565.2 484.0,565.4 483.0,565.5 481.5,565.7 480.0,565.9 478.8,566.0 477.5,566.2 476.0,566.3 474.5,566.5 473.5,566.6 472.0,566.8 470.5,567.0 469.5,567.1 468.0,567.3 466.5,567.5 465.5,567.6 464.0,567.8 462.5,568.0 461.5,568.1 460.0,568.3 458.5,568.5 457.5,568.6 456.0,568.8 454.5,569.0 453.5,569.1 452.0,569.3 450.8,569.5 449.5,569.7 448.0,569.9 447.0,570.0 445.5,570.2 444.0,570.5 443.0,570.6 441.5,570.8 440.1,571.0 439.0,571.2 437.5,571.4 436.5,571.5 435.0,571.7 433.5,572.0 432.5,572.1 431.0,572.4 430.0,572.5 428.5,572.7 427.0,573.0 426.0,573.1 424.5,573.4 423.5,573.5 422.0,573.8 420.7,574.0 419.5,574.2 418.0,574.4 417.0,574.6 415.5,574.8 414.4,575.0 413.0,575.3 411.7,575.5 410.5,575.7 409.0,576.0 408.0,576.2 406.5,576.4 405.5,576.6 404.0,576.8 403.0,577.0 401.5,577.3 400.5,577.5 399.0,577.8 397.9,578.0 396.5,578.3 395.3,578.5 394.0,578.7 392.5,579.0 391.5,579.2 390.1,579.5 389.0,579.7 387.8,580.0 386.5,580.3 385.3,580.5 384.0,580.8 382.8,581.0 381.5,581.2 380.3,581.5 379.0,581.8 378.0,582.0 376.5,582.4 375.5,582.6 374.0,582.9 373.0,583.2 371.5,583.5 370.5,583.7 369.0,584.0 368.0,584.3 367.0,584.5 365.5,584.9 364.5,585.2 363.1,585.5 362.0,585.8 361.0,586.0 359.5,586.3 358.5,586.6 357.0,587.0 356.0,587.2 355.0,587.5 353.5,587.9 352.5,588.2 351.3,588.5 350.0,588.8 349.0,589.1 347.5,589.5 346.5,589.7 345.5,590.0 344.0,590.5 343.0,590.8 342.0,591.1 340.7,591.5 339.5,591.8 338.5,592.1 337.1,592.5 336.0,592.8 335.0,593.1 333.9,593.5 332.5,594.0 331.5,594.3 330.5,594.7 329.5,595.0 328.0,595.5 327.0,595.8 326.0,596.1 324.6,596.5 323.5,596.9 322.5,597.3 321.5,597.7 320.5,598.1 319.4,598.5 318.0,599.0 317.0,599.3 316.0,599.7 315.0,600.1 313.7,600.5 312.5,600.9 311.5,601.4 310.5,601.8 309.5,602.3 308.5,602.7 307.5,603.2 306.5,603.6 305.5,604.0 304.2,604.5 303.0,605.0 302.0,605.3 301.0,605.8 300.0,606.3 299.0,606.9 298.0,607.4 297.0,607.9 296.0,608.4 295.0,608.9 294.0,609.3 293.0,609.8 292.0,610.2 291.0,610.7 290.0,611.1 289.0,611.8 288.0,612.4 287.1,613.0 286.3,613.5 285.4,614.0 284.5,614.5 283.5,615.0 282.5,615.5 281.5,616.0 280.5,616.5 279.4,617.0 278.4,617.5 277.5,618.3 276.5,619.0 275.7,619.5 274.9,620.0 273.9,620.5 273.0,621.0 271.9,621.5 270.7,622.0 269.5,622.4 268.5,622.8 267.5,623.1 266.5,623.7 265.5,624.2 264.5,624.7 263.5,625.1 262.4,625.5 261.0,625.9 260.0,626.1 258.5,626.4 257.5,626.6 257.0,627.2 258.0,627.8 258.8,628.5 259.5,629.2 260.0,630.0 260.5,631.0 261.0,632.1 261.2,633.5 261.1,635.0 261.0,636.0 260.6,637.5 260.3,638.5 260.0,639.5 259.5,641.0 259.2,642.0 258.9,643.0 258.5,644.5 258.3,645.5 258.1,647.0 258.0,648.0 258.1,649.0 258.3,650.5 258.6,651.5 259.0,652.5 259.5,653.5 260.2,654.5 261.0,655.4 261.6,656.0 262.4,657.0 263.1,657.5 264.0,658.1 265.0,658.8 265.8,659.5 266.5,660.1 267.8,660.5 269.0,660.7 270.5,660.9 271.5,661.1 273.0,661.4 274.0,661.6 275.5,661.9 276.5,662.2 277.5,662.5 279.0,663.0 280.0,663.0 281.5,663.0 283.0,663.0 284.5,663.0 286.0,663.0 287.5,663.1 289.0,663.1 290.5,663.1 292.0,663.1 293.5,663.1 295.0,663.1 296.5,663.1 298.0,663.1 299.5,663.2 301.0,663.2 302.5,663.2 304.0,663.2 305.5,663.3 307.0,663.3 308.5,663.3 310.0,663.3 311.5,663.4 313.0,663.4 314.5,663.5 316.0,663.5 317.0,663.5 318.5,663.6 320.0,663.6 321.5,663.6 323.0,663.7 324.5,663.8 326.0,663.8 327.5,663.9 329.0,664.0 330.0,664.0 331.5,664.2 333.0,664.3 334.5,664.5 335.5,664.6 337.0,664.8 338.2,665.0M378.0,665.0 379.5,664.8 381.0,664.6 382.0,664.5 383.5,664.3 385.0,664.1 386.5,664.0 387.5,664.0 389.0,663.9 390.5,663.8 392.0,663.8 393.5,663.7 395.0,663.7 396.5,663.6 398.0,663.6 399.5,663.5 401.0,663.5 402.0,663.5 403.5,663.4 405.0,663.4 406.5,663.4 408.0,663.3 409.5,663.3 411.0,663.3 412.5,663.3 414.0,663.2 415.5,663.2 417.0,663.2 418.5,663.2 420.0,663.2 421.5,663.2 423.0,663.1 424.5,663.1 426.0,663.1 427.5,663.1 429.0,663.1 430.5,663.1 432.0,663.1 433.5,663.1 435.0,663.1 436.5,663.1 438.0,663.1 439.5,663.0 441.0,663.0 442.5,663.0 444.0,663.0 445.5,663.0 447.0,663.0 448.5,663.0 450.0,663.0 451.5,663.0 452.5,662.9 454.0,662.8 455.5,662.6 456.5,662.5 458.0,662.3 459.5,662.2 461.0,662.0 462.0,661.9 463.5,661.8 465.0,661.7 466.5,661.6 467.5,661.5 469.0,661.4 470.5,661.3 472.0,661.2 473.5,661.1 474.5,661.0 476.0,660.9 477.5,660.8 479.0,660.7 480.5,660.6 482.0,660.6 483.3,660.5 484.5,660.4 486.0,660.3 487.5,660.3 489.0,660.2 490.5,660.1 492.0,660.0 493.0,660.0 494.5,659.8 496.0,659.6 497.2,659.5 498.5,659.4 500.0,659.2 501.5,659.1 502.5,659.0 504.0,658.8 505.5,658.7 507.0,658.6 508.0,658.5 509.5,658.4 511.0,658.3 512.5,658.2 514.0,658.1 515.0,658.0 516.5,657.9 518.0,657.8 519.5,657.7 521.0,657.6 522.5,657.5 523.5,657.5 525.0,657.4 526.5,657.3 528.0,657.2M367.5,393.0 366.7,394.0 366.0,394.9 365.5,395.5 364.7,396.5 364.0,397.3 363.4,398.0 362.6,399.0 362.0,399.7 361.3,400.5 360.5,401.5 360.0,402.0 359.2,403.0 358.5,403.8 357.9,404.5 357.1,405.5 356.5,406.4 356.0,407.0 355.3,408.0 354.5,409.0 354.0,409.6 353.3,410.5 352.6,411.5 352.0,412.2 351.4,413.0 350.6,414.0 350.0,414.7 349.3,415.5 348.5,416.5 348.0,417.1 347.2,418.0 346.5,418.9 346.0,419.6 345.4,420.5 344.7,421.5 344.0,422.5 343.5,423.2 342.9,424.0 342.2,425.0 341.5,425.9 341.0,426.6 340.3,427.5 339.5,428.5 339.0,429.2 338.4,430.0 337.6,431.0 337.0,431.7 336.4,432.5 335.5,433.5 335.0,434.3 334.5,435.1 333.9,436.0 333.2,437.0 332.6,438.0 332.0,438.8 331.5,439.6 330.9,440.5 330.1,441.5 329.5,442.4 329.0,443.1 328.4,444.0 327.6,445.0 327.0,445.8 326.5,446.5 325.7,447.5 325.0,448.5 324.5,449.1 323.9,450.0 323.3,451.0 322.7,452.0 322.1,453.0 321.5,453.9 321.0,454.7 320.5,455.5 319.8,456.5 319.2,457.5 318.5,458.5 318.0,459.3 317.5,460.0 316.8,461.0 316.1,462.0 315.5,462.9 315.0,463.6 314.4,464.5 313.6,465.5 313.0,466.3 312.5,467.1 312.0,468.0 311.5,469.0 310.9,470.0 310.3,471.0 309.8,472.0 309.2,473.0 308.6,474.0 308.0,475.0 307.5,475.8 307.0,476.6 306.4,477.5 305.8,478.5 305.1,479.5 304.5,480.5 304.0,481.2 303.5,482.0 302.8,483.0 302.1,484.0 301.5,484.8 301.0,485.8 300.5,486.8 300.0,487.8 299.5,488.8 299.0,489.8 298.5,490.7 298.0,491.7 297.5,492.6 297.0,493.5 296.4,494.5 295.9,495.5 295.3,496.5 294.7,497.5 294.1,498.5 293.5,499.5 293.0,500.3 292.5,501.1 291.9,502.0 291.2,503.0 290.6,504.0 290.0,504.9 289.5,506.0 289.1,507.0 288.7,508.0 288.2,509.0 287.8,510.0 287.3,511.0 286.8,512.0 286.4,513.0 285.9,514.0 285.4,515.0 284.9,516.0 284.3,517.0 283.8,518.0 283.3,519.0 282.7,520.0 282.1,521.0 281.5,522.0 281.0,522.9 280.5,523.7 280.0,524.5 279.4,525.5 278.8,526.5 278.4,527.5 278.0,528.6 277.5,530.0 277.2,531.0 276.8,532.0 276.4,533.0 276.0,534.1 275.5,535.3 275.0,536.5 274.6,537.5 274.1,538.5 273.7,539.5 273.2,540.5 272.8,541.5 272.3,542.5 271.8,543.5 271.3,544.5 270.7,545.5 270.2,546.5 269.6,547.5 269.1,548.5 268.5,549.5 268.0,550.3 267.5,551.1 267.1,552.5 266.9,553.5 266.5,555.0 266.3,556.0 266.0,557.2 265.7,558.5 265.4,559.5 265.0,561.0 264.7,562.0 264.4,563.0 264.0,564.3 263.6,565.5 263.3,566.5 262.9,567.5 262.5,568.7 262.0,570.0 261.6,571.0 261.2,572.0 260.8,573.0 260.4,574.0 259.9,575.0 259.4,576.0 259.0,577.0 258.4,578.0 257.9,579.0 257.4,580.0 256.8,581.0 256.5,582.0 256.4,583.5 256.3,585.0 256.3,586.5 256.2,588.0 256.1,589.5 256.0,591.0 256.0,592.0 256.0,593.5 256.0,595.0 256.0,596.5 256.0,598.0 256.0,599.5 255.9,601.0 255.9,602.5 255.9,604.0 255.9,605.5 255.9,607.0 255.9,608.5 255.9,610.0 255.9,611.5 255.8,613.0 255.8,614.5 255.8,616.0 255.8,617.5 255.7,619.0 255.7,620.5 255.5,621.9 255.3,623.0 254.9,624.0 254.4,625.0 253.5,625.8 252.5,626.3 251.4,626.5 250.2,627.0 251.3,627.5 252.0,628.0 252.9,629.0 253.5,629.7 254.3,630.5 254.9,631.5 255.1,632.5 255.2,634.0 255.2,635.5 255.2,637.0 255.2,638.5 255.2,640.0 255.2,641.5 255.2,643.0 255.1,644.5 255.1,646.0 255.1,647.5 255.1,649.0 255.1,650.5 255.2,652.0 255.2,653.5 255.3,655.0 255.3,656.5 255.4,658.0 255.5,659.0 255.6,660.5 255.8,662.0 256.0,663.2 257.5,663.3 259.0,663.3 260.5,663.4 262.0,663.4 263.5,663.5 264.5,663.5 266.0,663.6 267.5,663.6 269.0,663.7 270.5,663.7 272.0,663.7 273.5,663.8 275.0,663.8 276.5,663.9 278.0,664.0 279.0,664.0 280.5,664.1 282.0,664.1 283.5,664.2 285.0,664.2 286.5,664.3 288.0,664.4 289.5,664.5 290.5,664.5 292.0,664.6 293.5,664.7 295.0,664.8 296.5,664.9 297.8,665.0M422.8,665.0 424.0,664.9 425.5,664.9 427.0,664.8 428.5,664.7 430.0,664.6 431.5,664.6 433.0,664.5 434.0,664.5 435.5,664.4 437.0,664.4 438.5,664.3 440.0,664.3 441.5,664.2 443.0,664.2 444.5,664.2 446.0,664.1 447.5,664.1 449.0,664.1 450.5,664.0 451.8,664.0 453.0,664.0 454.5,663.9 456.0,663.9 457.5,663.9 459.0,663.9 460.5,663.9 462.0,663.8 463.5,663.8 465.0,663.8 466.5,663.8 468.0,663.8 469.5,663.7 471.0,663.7 472.5,663.7 474.0,663.7 475.5,663.7 477.0,663.7 478.5,663.6 480.0,663.6 481.5,663.6 483.0,663.6 484.5,663.6 486.0,663.6 487.5,663.6 489.0,663.6 490.5,663.6 492.0,663.6 493.5,663.5 495.0,663.5 496.5,663.5 498.0,663.5 499.5,663.5 501.0,663.5 502.0,663.5 503.5,663.5 505.0,663.5 506.5,663.5 508.0,663.5 509.5,663.4 511.0,663.4 512.5,663.4 514.0,663.4 515.5,663.4 517.0,663.4 518.5,663.4 520.0,663.4 521.5,663.4 523.0,663.4 524.5,663.4 526.0,663.4 527.5,663.4M257.5,393.0 257.4,394.0 257.2,395.5 257.0,396.7 256.8,398.0 256.6,399.5 256.5,400.5 256.5,402.0 256.5,403.5 256.4,405.0 256.4,406.5 256.4,408.0 256.4,409.5 256.4,411.0 256.3,412.5 256.3,414.0 256.3,415.5 256.3,417.0 256.3,418.5 256.2,420.0 256.2,421.5 256.2,423.0 256.2,424.5 256.2,426.0 256.1,427.5 256.1,429.0 256.1,430.5 256.1,432.0 256.0,433.5 256.0,435.0 256.0,436.0 256.0,437.5 256.0,439.0 256.0,440.5 256.0,442.0 256.0,443.5 256.0,445.0 256.0,446.5 256.0,448.0 256.0,449.5 256.0,451.0 256.0,452.5 256.0,454.0 256.0,455.5 256.0,457.0 256.0,458.5 256.0,460.0 256.0,461.5 256.0,463.0 256.0,464.5 256.0,466.0 256.0,467.5 256.0,469.0 255.9,470.5 255.9,472.0 255.9,473.5 255.9,475.0 255.9,476.5 255.9,478.0 255.9,479.5 255.9,481.0 255.9,482.5 255.9,484.0 255.9,485.5 255.9,487.0 255.9,488.5 255.9,490.0 255.9,491.5 255.9,493.0 255.9,494.5 255.9,496.0 255.9,497.5 255.9,499.0 255.9,500.5 255.9,502.0 255.9,503.5 255.9,505.0 255.9,506.5 255.8,508.0 255.8,509.5 255.8,511.0 255.8,512.5 255.8,514.0 255.8,515.5 255.8,517.0 255.8,518.5 255.8,520.0 255.8,521.5 255.8,523.0 255.8,524.5 255.8,526.0 255.8,527.5 255.8,529.0 255.7,530.5 255.7,532.0 255.7,533.5 255.7,535.0 255.7,536.5 255.7,538.0 255.7,539.5 255.7,541.0 255.7,542.5 255.6,544.0 255.6,545.5 255.6,547.0 255.6,548.5 255.6,550.0 255.6,551.5 255.6,553.0 255.5,554.5 255.5,556.0 255.5,557.5 255.5,558.5 255.5,560.0 255.4,561.5 255.4,563.0 255.4,564.5 255.4,566.0 255.4,567.5 255.3,569.0 255.3,570.5 255.3,572.0 255.2,573.5 255.2,575.0 255.2,576.5 255.1,578.0 255.1,579.5 255.0,581.0 255.0,582.5 255.0,583.5 254.9,585.0 254.9,586.5 254.8,588.0 254.8,589.5 254.7,591.0 254.6,592.5 254.5,594.0 254.5,595.0 254.4,596.5 254.3,598.0 254.2,599.5 254.1,601.0 254.0,602.5 254.0,603.5 253.9,605.0 253.7,606.5 253.6,608.0 253.5,609.0 253.3,610.5 253.2,612.0 253.0,613.3 252.8,614.5 252.6,616.0 252.4,617.0 252.0,618.5 251.6,619.5 251.2,620.5 250.5,621.2 249.5,622.0 248.5,622.5 247.5,622.9 246.5,623.2M245.5,632.3 246.5,632.8 246.9,634.0 247.0,635.0 247.1,636.5 247.0,637.5 246.8,639.0 246.6,640.5 246.4,641.5 246.2,643.0 246.0,644.5 245.9,645.5 245.9,647.0 245.8,648.5 245.9,650.0 246.0,651.0 246.4,652.5 246.6,653.5 247.0,654.5 247.5,655.5 248.0,656.6 248.6,657.5 249.4,658.5 250.0,659.5 250.5,660.2 251.5,661.0 252.0,661.5 252.7,662.5 253.5,663.0 255.0,663.2 255.8,664.0M255.1,393.0 255.1,394.5 255.1,396.0 255.0,397.5 255.0,399.0 255.0,400.5 255.0,402.0 255.0,403.3 255.0,404.5 255.0,406.0 255.0,407.5 255.0,409.0 254.9,410.5 254.9,412.0 254.9,413.5 254.9,415.0 254.9,416.5 254.9,418.0 254.9,419.5 254.8,421.0 254.8,422.5 254.8,424.0 254.8,425.5 254.8,427.0 254.8,428.5 254.7,430.0 254.7,431.5 254.7,433.0 254.7,434.5 254.7,436.0 254.7,437.5 254.6,439.0 254.6,440.5 254.6,442.0 254.6,443.5 254.6,445.0 254.5,446.5 254.5,448.0 254.5,449.5 254.5,450.5 254.5,452.0 254.4,453.5 254.4,455.0 254.4,456.5 254.4,458.0 254.4,459.5 254.3,461.0 254.3,462.5 254.3,464.0 254.3,465.5 254.2,467.0 254.2,468.5 254.2,470.0 254.1,471.5 254.1,473.0 254.1,474.5 254.1,476.0 254.0,477.5 254.0,478.5 254.0,480.0 253.9,481.5 253.9,483.0 253.9,484.5 253.8,486.0 253.8,487.5 253.8,489.0 253.7,490.5 253.7,492.0 253.6,493.5 253.6,495.0 253.5,496.5 253.5,498.0 253.5,499.0 253.4,500.5 253.4,502.0 253.3,503.5 253.3,505.0 253.2,506.5 253.2,508.0 253.1,509.5 253.1,511.0 253.0,512.3 253.0,513.5 252.9,515.0 252.8,516.5 252.8,518.0 252.7,519.5 252.6,521.0 252.5,522.5 252.5,523.5 252.4,525.0 252.3,526.5 252.2,528.0 252.2,529.5 252.1,531.0 252.0,532.1 251.9,533.5 251.8,535.0 251.7,536.5 251.6,538.0 251.5,539.4 251.4,540.5 251.3,542.0 251.2,543.5 251.0,545.0 250.9,546.0 250.8,547.5 250.7,549.0 250.5,550.5 250.4,551.5 250.2,553.0 250.1,554.5 250.0,555.5 249.8,557.0 249.6,558.5 249.4,559.5 249.2,561.0 249.0,562.5 248.9,563.5 248.6,565.0 248.5,566.0 248.2,567.5 248.0,568.6 247.7,570.0 247.5,571.2 247.2,572.5 247.0,573.5 246.7,575.0 246.4,576.0 246.1,577.5 245.8,578.5 245.5,579.6M245.5,663.3 247.0,663.3 248.5,663.4 249.5,663.5 251.0,663.6 252.5,663.9 253.5,664.2 254.5,664.9"/></g><text class="cl" x="322.8" y="453.8">10</text><text class="cl" x="471.3" y="570.0">1</text><text class="cl" x="253.7" y="643.2">10</text><text class="cl" x="348.4" y="652.4">0. 1</text><text class="cl" x="519.9" y="661.1">1</text><path class="fr" style="stroke:#6a6060;stroke-width:1.2" d="M245.5,393.0H528.0V665.2"/><path class="ax" style="stroke:#6a6060;stroke-width:1.2" d="M245.5,393.0V665.2H528.0"/><path class="tk" d="M250.4,665.2v3.5M256.0,665.2v3.5M261.7,665.2v3.5M267.4,665.2v3.5M273.0,665.2v3.5M278.7,665.2v3.5M284.4,665.2v3.5M290.0,665.2v3.5M295.7,665.2v3.5M301.4,665.2v6.5M307.0,665.2v3.5M312.7,665.2v3.5M318.4,665.2v3.5M324.0,665.2v3.5M329.7,665.2v3.5M335.4,665.2v3.5M341.0,665.2v3.5M346.7,665.2v3.5M352.4,665.2v3.5M358.0,665.2v6.5M363.7,665.2v3.5M369.4,665.2v3.5M375.0,665.2v3.5M380.7,665.2v3.5M386.4,665.2v3.5M392.0,665.2v3.5M397.7,665.2v3.5M403.3,665.2v3.5M409.0,665.2v3.5M414.7,665.2v6.5M420.3,665.2v3.5M426.0,665.2v3.5M431.7,665.2v3.5M437.3,665.2v3.5M443.0,665.2v3.5M448.7,665.2v3.5M454.3,665.2v3.5M460.0,665.2v3.5M465.7,665.2v3.5M471.3,665.2v6.5M477.0,665.2v3.5M482.7,665.2v3.5M488.3,665.2v3.5M494.0,665.2v3.5M499.7,665.2v3.5M505.3,665.2v3.5M511.0,665.2v3.5M516.7,665.2v3.5M522.3,665.2v3.5M528.0,665.2v6.5M245.5,651.0h-2.6M245.5,635.8h-5.0M245.5,620.7h-2.6M245.5,605.5h-5.0M245.5,590.3h-2.6M245.5,575.1h-5.0M245.5,560.0h-2.6M245.5,544.8h-5.0M245.5,529.6h-2.6M245.5,514.4h-5.0M245.5,499.2h-2.6M245.5,484.1h-5.0M245.5,468.9h-2.6M245.5,453.7h-5.0M245.5,438.5h-2.6M245.5,423.4h-5.0M245.5,408.2h-2.6M245.5,393.0h-5.0"/><text class="tl" text-anchor="middle" x="301.4" y="689.6">0.5</text><text class="tl" text-anchor="middle" x="358.0" y="689.6">1.0</text><text class="tl" text-anchor="middle" x="414.7" y="689.6">1.5</text><text class="tl" text-anchor="middle" x="471.3" y="689.6">2.0</text><text class="tl" text-anchor="middle" x="528.0" y="689.6">2.5</text><text class="tl" text-anchor="end" x="234.8" y="641.5">1</text><text class="tl" text-anchor="end" x="234.8" y="611.2">2</text><text class="tl" text-anchor="end" x="234.8" y="580.8">3</text><text class="tl" text-anchor="end" x="234.8" y="550.5">4</text><text class="tl" text-anchor="end" x="234.8" y="520.1">5</text><text class="tl" text-anchor="end" x="234.8" y="489.8">6</text><text class="tl" text-anchor="end" x="234.8" y="459.4">7</text><text class="tl" text-anchor="end" x="234.8" y="429.1">8</text><text class="tl" text-anchor="end" x="234.8" y="398.7">9</text><text class="lt" x="220.0" y="377.0">d</text><text class="ti" text-anchor="middle" x="411.2" y="383.5">R=70 nm</text><text class="sa" text-anchor="middle" style="font-size:22.6px" x="547.8" y="381.2">sca/abs</text><text class="nl" text-anchor="middle" style="font-size:22.5px" x="387.8" y="708.0">n</text><text class="nl" text-anchor="middle" transform="translate(216.3,528.7) rotate(-90)" x="0" y="0">k</text><linearGradient id="gd" x1="0" y1="0" x2="0" y2="1"><stop offset="0.0052" stop-color="#ff0000"/><stop offset="0.0328" stop-color="#ff0e0e"/><stop offset="0.0604" stop-color="#ff1c1c"/><stop offset="0.0880" stop-color="#ff2a2a"/><stop offset="0.1156" stop-color="#ff3939"/><stop offset="0.1431" stop-color="#ff4747"/><stop offset="0.1707" stop-color="#ff5555"/><stop offset="0.1983" stop-color="#ff6363"/><stop offset="0.2259" stop-color="#ff7171"/><stop offset="0.2535" stop-color="#ff8080"/><stop offset="0.2811" stop-color="#ff8e8e"/><stop offset="0.3087" stop-color="#ff9c9c"/><stop offset="0.3363" stop-color="#ffaaaa"/><stop offset="0.3639" stop-color="#ffb8b8"/><stop offset="0.3915" stop-color="#ffc6c6"/><stop offset="0.4191" stop-color="#ffd4d4"/><stop offset="0.4467" stop-color="#ffe3e3"/><stop offset="0.4743" stop-color="#fff1f1"/><stop offset="0.5019" stop-color="#ffffff"/><stop offset="0.5294" stop-color="#f1f1ff"/><stop offset="0.5570" stop-color="#e3e3ff"/><stop offset="0.5846" stop-color="#d4d4ff"/><stop offset="0.6122" stop-color="#c6c6ff"/><stop offset="0.6398" stop-color="#b8b8ff"/><stop offset="0.6674" stop-color="#aaaaff"/><stop offset="0.6950" stop-color="#9c9cff"/><stop offset="0.7226" stop-color="#8e8eff"/><stop offset="0.7502" stop-color="#8080ff"/><stop offset="0.7778" stop-color="#7171ff"/><stop offset="0.8054" stop-color="#6363ff"/><stop offset="0.8330" stop-color="#5555ff"/><stop offset="0.8606" stop-color="#4747ff"/><stop offset="0.8881" stop-color="#3939ff"/><stop offset="0.9157" stop-color="#2a2aff"/><stop offset="0.9433" stop-color="#1c1cff"/><stop offset="0.9709" stop-color="#0e0eff"/><stop offset="0.9985" stop-color="#0000ff"/></linearGradient><rect x="534.7" y="394.1" width="15.3" height="270.0" fill="url(#gd)"/><rect x="534.7" y="392.8" width="15.3" height="1.5" fill="#8a8a8a"/><rect x="534.7" y="663.7" width="15.3" height="2.1" fill="#000"/><path class="cbb" d="M535.0,392.8V665.8M549.7,392.8V665.8"/><text class="cb" style="font-size:14px" x="558.9" y="399.6">1. 0E+05</text><text class="cb" style="font-size:14px" x="558.9" y="429.4">1. 0E+04</text><text class="cb" style="font-size:14px" x="558.9" y="489.0">100</text><text class="cb" style="font-size:14px" x="558.9" y="548.6">1. 0</text><text class="cb" style="font-size:14px" x="558.9" y="608.2">0. 010</text><text class="cb" style="font-size:14px" x="558.9" y="667.8">1. 0E-04</text><path class="cbt" d="M550.0,395.5h4.5M550.0,425.3h4.5M550.0,484.9h4.5M550.0,544.5h4.5M550.0,604.1h4.5M550.0,663.7h4.5"/><mask id="me" maskUnits="userSpaceOnUse" x="0" y="0" width="1200" height="717"><rect width="1200" height="717" fill="#fff"/><rect x="654.8" y="589.6" width="13.2" height="10" fill="#000"/><rect x="854.6" y="582.9" width="7.6" height="10" fill="#000"/><rect x="740.6" y="653.5" width="22.8" height="10" fill="#000"/><rect x="926.2" y="650.5" width="7.6" height="10" fill="#000"/></mask><g mask="url(#me)"><path class="ct" d="M768.5,667.5 769.4,666.9 770.5,666.5 771.9,666.2 773.4,666.1 774.5,666.0 775.9,665.9 777.4,665.8 778.9,665.7 780.4,665.6 781.9,665.6 783.4,665.6 784.9,665.5 786.4,665.5 787.9,665.5 788.7,665.0 789.4,664.5 790.4,663.6 791.3,663.0 792.4,662.5 792.0,661.0 791.7,660.0 790.9,659.1 790.0,658.5 788.9,658.0 787.9,657.7 786.9,657.4 785.5,657.0 784.4,656.7 783.4,656.5 781.9,656.2 780.9,656.0 779.4,655.7 778.4,655.5 776.9,655.3 775.4,655.3 773.9,655.2 772.4,655.1 770.9,655.0 769.9,655.0 768.4,654.9 766.9,654.8 765.4,654.8 763.9,654.9 762.9,655.0 761.4,655.1 759.9,655.2 758.4,655.3 756.9,655.4 755.9,655.5 754.4,655.6 752.9,655.9 751.9,656.2 750.4,656.5 749.4,656.8 748.4,657.0 746.9,657.5 745.9,657.8 744.9,658.1 743.6,658.5 742.5,659.0 741.9,659.5 741.3,660.5 740.9,661.5 740.9,662.7 741.9,663.3 742.8,664.0 743.4,664.5 744.4,665.3 745.4,665.5 746.9,665.5 748.4,665.5 749.9,665.6 751.4,665.6 752.9,665.7 754.4,665.8 755.9,665.9 757.4,666.0 758.4,666.0 759.9,666.2 761.4,666.4 762.4,666.6 763.4,667.1M940.9,586.1 939.4,586.1 937.9,586.1 936.4,586.1 934.9,586.1 933.4,586.1 931.9,586.1 930.4,586.2 928.9,586.2 927.4,586.2 925.9,586.2 924.4,586.2 922.9,586.2 921.4,586.3 919.9,586.3 918.4,586.3 916.9,586.3 915.4,586.4 913.9,586.4 912.4,586.4 910.9,586.5 909.4,586.5 908.4,586.5 906.9,586.5 905.4,586.6 903.9,586.6 902.4,586.7 900.9,586.7 899.4,586.8 897.9,586.8 896.4,586.9 894.9,586.9 893.4,587.0 892.4,587.0 890.9,587.1 889.4,587.1 887.9,587.2 886.4,587.3 884.9,587.3 883.4,587.4 881.9,587.5 880.9,587.5 879.4,587.6 877.9,587.7 876.4,587.8 874.9,587.8 873.4,587.9 871.9,588.0 870.9,588.0 869.4,588.1 867.9,588.2 866.4,588.3 864.9,588.4 863.8,588.5 862.4,588.6 860.9,588.7 859.4,588.8 857.9,588.9 856.4,589.0 855.4,589.1 853.9,589.2 852.4,589.3 850.9,589.4 849.7,589.5 848.4,589.6 846.9,589.7 845.4,589.9 843.9,590.0 842.9,590.1 841.4,590.2 839.9,590.3 838.4,590.5 837.4,590.5 835.9,590.7 834.4,590.8 832.9,591.0 831.9,591.1 830.4,591.2 828.9,591.4 827.6,591.5 826.4,591.6 824.9,591.8 823.4,591.9 822.4,592.1 820.9,592.2 819.4,592.4 818.4,592.5 816.9,592.7 815.4,592.9 814.0,593.0 812.9,593.1 811.4,593.3 810.0,593.5 808.9,593.6 807.4,593.8 806.1,594.0 804.9,594.2 803.4,594.3 802.1,594.5 800.9,594.7 799.4,594.9 798.4,595.0 796.9,595.3 795.4,595.5 794.4,595.6 792.9,595.8 791.8,596.0 790.4,596.2 788.9,596.4 787.9,596.6 786.4,596.8 785.4,597.0 783.9,597.2 782.4,597.5 781.4,597.6 779.9,597.9 778.9,598.0 777.4,598.3 776.3,598.5 774.9,598.8 773.7,599.0 772.4,599.2 770.9,599.5 769.9,599.7 768.4,599.9 767.4,600.1 765.9,600.4 764.9,600.6 763.4,600.9 762.4,601.1 760.9,601.5 759.9,601.7 758.4,602.0 757.4,602.2 755.9,602.4 754.9,602.6 753.4,603.0 752.4,603.2 751.2,603.5 749.9,603.8 748.9,604.1 747.4,604.4 746.4,604.6 744.9,605.0 743.9,605.2 742.4,605.5 741.4,605.8 740.4,606.1 738.9,606.5 737.9,606.7 736.8,607.0 735.4,607.4 734.4,607.6 732.9,608.0 731.9,608.2 730.8,608.5 729.4,608.9 728.4,609.2 727.4,609.5 725.9,610.0 724.9,610.3 723.9,610.6 722.4,611.0 721.4,611.3 720.4,611.5 718.9,612.0 717.9,612.3 716.9,612.7 715.9,613.0 714.4,613.5 713.4,613.8 712.4,614.1 711.2,614.5 709.9,614.9 708.9,615.2 707.7,615.5 706.5,616.0 705.4,616.4 704.4,616.8 703.4,617.2 702.4,617.5 700.9,618.0 699.9,618.3 698.9,618.6 697.5,619.0 696.4,619.3 695.4,619.8 694.4,620.2 693.4,620.6 692.2,621.0 690.9,621.4 689.9,621.7 688.9,622.0 687.4,622.5 686.4,622.8 685.4,623.1 684.1,623.5 682.9,624.0 681.9,624.3 680.9,624.6 679.4,625.0 678.4,625.2 677.4,625.6 676.3,626.0 674.9,626.5 673.9,626.9 672.9,627.2 671.9,627.7 670.9,628.5 671.0,629.0 671.4,630.5 671.5,631.5 671.7,633.0 671.8,634.5 671.7,636.0 671.6,637.5 671.4,638.9 671.2,640.0 671.0,641.5 670.8,642.5 670.5,644.0 670.3,645.0 670.0,646.5 669.9,647.7 669.8,649.0 669.8,650.5 669.9,652.0 670.0,653.0 670.4,654.4 670.7,655.5 671.1,656.5 671.8,657.5 672.4,658.5 672.9,659.4 673.9,659.7 674.9,660.1 676.1,660.5 677.4,661.0 678.4,661.4 679.4,661.9 680.4,662.4 681.4,662.6 682.9,662.9 683.9,663.1 685.4,663.4 686.4,663.5 687.9,663.8 689.2,664.0 690.4,664.2 691.7,664.5 692.9,664.8 693.9,665.0 695.4,665.5 696.4,665.5 697.9,665.5 699.4,665.5 700.9,665.5 702.4,665.5 703.9,665.5 705.4,665.6 706.9,665.6 708.4,665.6 709.9,665.6 711.4,665.6 712.9,665.6 714.4,665.6 715.9,665.6 717.4,665.7 718.9,665.7 720.4,665.7 721.9,665.7 723.4,665.7 724.9,665.8 726.4,665.8 727.9,665.8 729.4,665.9 730.9,665.9 732.4,666.0 733.4,666.0 734.9,666.1 736.4,666.1 737.9,666.2 739.4,666.3 740.9,666.4 742.3,666.5 743.4,666.6 744.9,666.7 746.4,666.9 747.4,667.0 748.9,667.3 750.0,667.5M782.5,667.5 783.9,667.2 785.3,667.0 786.4,666.9 787.9,666.7 789.4,666.6 790.4,666.5 791.9,666.4 793.4,666.3 794.9,666.2 796.4,666.1 797.9,666.1 799.4,666.0 800.4,666.0 801.9,665.9 803.4,665.9 804.9,665.9 806.4,665.8 807.9,665.8 809.4,665.8 810.9,665.7 812.4,665.7 813.9,665.7 815.4,665.7 816.9,665.7 818.4,665.6 819.9,665.6 821.4,665.6 822.9,665.6 824.4,665.6 825.9,665.6 827.4,665.6 828.9,665.6 830.4,665.6 831.9,665.6 833.4,665.5 834.9,665.5 836.4,665.5 837.9,665.5 839.4,665.5 840.9,665.5 842.4,665.5 843.9,665.5 845.4,665.5 846.4,665.4 847.9,665.2 849.2,665.0 850.4,664.8 851.9,664.7 853.2,664.5 854.4,664.4 855.9,664.2 857.4,664.1 858.4,664.0 859.9,663.8 861.4,663.7 862.9,663.6 863.9,663.5 865.4,663.4 866.9,663.3 868.4,663.2 869.9,663.1 870.9,663.0 872.4,662.9 873.9,662.8 875.4,662.7 876.9,662.6 878.4,662.6 879.8,662.5 880.9,662.4 882.4,662.2 883.6,662.0 884.9,661.8 886.4,661.6 887.6,661.5 888.9,661.3 890.4,661.2 891.9,661.0 892.9,660.9 894.4,660.8 895.9,660.6 897.2,660.5 898.4,660.4 899.9,660.3 901.4,660.1 902.9,660.0 903.9,660.0 905.4,659.8 906.9,659.7 908.4,659.6 909.9,659.5 910.9,659.5 912.4,659.3 913.9,659.2 915.4,659.0 916.4,658.9 917.9,658.8 919.4,658.6 920.7,658.5 921.9,658.4 923.4,658.3 924.9,658.1 926.3,658.0 927.4,657.9 928.9,657.8 930.4,657.7 931.9,657.6 933.0,657.5 934.4,657.4 935.9,657.3 937.4,657.2 938.9,657.1 940.4,657.0M828.8,389.0 827.9,389.8 827.0,390.5 826.3,391.0 825.4,391.7 824.4,392.5 823.8,393.0 822.9,393.8 822.1,394.5 821.4,395.1 820.4,396.0 819.8,396.5 818.9,397.3 818.0,398.0 817.4,398.5 816.4,399.3 815.6,400.0 814.9,400.6 813.9,401.4 813.1,402.0 812.4,402.6 811.4,403.5 810.9,404.0 809.9,404.9 809.2,405.5 808.4,406.2 807.5,407.0 806.9,407.5 805.9,408.4 805.2,409.0 804.4,409.7 803.4,410.5 802.8,411.0 801.9,411.8 801.1,412.5 800.4,413.1 799.5,414.0 798.9,414.5 797.9,415.5 797.3,416.0 796.4,416.9 795.7,417.5 794.9,418.2 794.0,419.0 793.4,419.6 792.4,420.4 791.8,421.0 790.9,421.7 790.0,422.5 789.4,423.0 788.4,424.0 787.9,424.5 786.9,425.5 786.4,426.0 785.4,427.0 784.9,427.5 783.9,428.4 783.3,429.0 782.4,429.8 781.7,430.5 780.9,431.2 780.0,432.0 779.4,432.5 778.4,433.4 777.8,434.0 776.9,434.9 776.3,435.5 775.4,436.5 774.9,437.0 773.9,438.0 773.4,438.5 772.4,439.5 771.9,440.0 770.9,441.0 770.4,441.5 769.4,442.4 768.8,443.0 767.9,443.8 767.2,444.5 766.4,445.2 765.7,446.0 764.9,446.8 764.3,447.5 763.4,448.5 762.9,449.0 762.0,450.0 761.4,450.6 760.5,451.5 759.9,452.2 759.1,453.0 758.4,453.7 757.6,454.5 756.9,455.2 756.0,456.0 755.4,456.6 754.5,457.5 753.9,458.2 753.2,459.0 752.4,459.9 751.9,460.5 751.0,461.5 750.4,462.2 749.7,463.0 748.9,463.9 748.3,464.5 747.4,465.5 746.9,466.0 745.9,467.0 745.4,467.6 744.5,468.5 743.9,469.1 743.0,470.0 742.4,470.7 741.8,471.5 741.0,472.5 740.4,473.2 739.8,474.0 738.9,475.0 738.4,475.6 737.6,476.5 736.9,477.3 736.3,478.0 735.4,479.0 734.9,479.6 734.1,480.5 733.4,481.2 732.7,482.0 731.9,482.8 731.3,483.5 730.5,484.5 729.9,485.3 729.4,486.0 728.6,487.0 727.9,488.0 727.4,488.6 726.7,489.5 725.9,490.5 725.4,491.1 724.6,492.0 723.9,492.9 723.4,493.5 722.5,494.5 721.9,495.2 721.2,496.0 720.4,496.9 719.8,497.5 719.1,498.5 718.4,499.5 717.9,500.3 717.4,501.0 716.7,502.0 716.0,503.0 715.4,503.8 714.9,504.5 714.1,505.5 713.4,506.4 712.9,507.1 712.2,508.0 711.4,509.0 710.9,509.6 710.1,510.5 709.4,511.4 708.8,512.0 708.0,513.0 707.4,513.9 706.9,514.8 706.4,515.6 705.8,516.5 705.2,517.5 704.5,518.5 703.9,519.5 703.4,520.2 702.9,521.0 702.2,522.0 701.4,523.0 700.9,523.7 700.3,524.5 699.6,525.5 698.9,526.4 698.4,527.0 697.6,528.0 696.9,528.9 696.4,529.5 695.8,530.5 695.3,531.5 694.8,532.5 694.2,533.5 693.7,534.5 693.1,535.5 692.5,536.5 691.9,537.5 691.4,538.3 690.9,539.1 690.3,540.0 689.7,541.0 689.0,542.0 688.4,542.9 687.9,543.6 687.3,544.5 686.5,545.5 685.9,546.3 685.4,547.0 684.7,548.0 684.2,549.0 683.8,550.0 683.3,551.0 682.9,552.0 682.4,553.1 681.9,554.2 681.4,555.2 680.9,556.2 680.4,557.2 679.9,558.1 679.4,559.1 678.9,560.0 678.3,561.0 677.7,562.0 677.1,563.0 676.5,564.0 675.9,564.9 675.4,565.6 674.8,566.5 674.1,567.5 673.4,568.5 672.9,569.2 672.6,570.5 672.3,571.5 671.9,572.9 671.6,574.0 671.3,575.0 670.9,576.2 670.5,577.5 670.1,578.5 669.8,579.5 669.4,580.5 668.9,581.8 668.4,583.0 668.0,584.0 667.5,585.0 667.1,586.0 666.6,587.0 666.1,588.0 665.6,589.0 665.1,590.0 664.5,591.0 663.9,592.0 663.4,592.9 662.9,593.6 662.3,594.5 661.7,595.5 661.4,596.5 661.4,598.0 661.4,599.5 661.4,601.0 661.4,602.5 661.4,604.0 661.3,605.5 661.3,607.0 661.3,608.5 661.3,610.0 661.3,611.5 661.3,613.0 661.2,614.5 661.2,616.0 661.2,617.5 661.1,619.0 661.0,620.5 660.9,621.5 660.6,623.0 660.3,624.0 659.4,624.9 658.7,625.5 659.0,626.5 659.4,627.9 659.4,628.5 658.6,629.5 657.9,630.0 656.6,630.5 655.4,630.8 653.9,631.0 652.9,631.3 652.4,631.5 653.9,631.5 655.4,631.6 656.9,631.7 658.4,632.0 659.4,632.3 660.1,633.0 660.5,634.0 660.7,635.5 660.7,637.0 660.7,638.5 660.7,640.0 660.7,641.5 660.7,643.0 660.7,644.5 660.7,646.0 660.7,647.5 660.6,649.0 660.6,650.5 660.7,652.0 660.7,653.5 660.7,655.0 660.7,656.5 660.8,658.0 660.8,659.5 660.9,660.8 661.0,662.0 661.1,663.5 661.2,665.0 661.9,665.6 663.4,665.6 664.9,665.6 666.4,665.7 667.9,665.7 669.4,665.7 670.9,665.8 672.4,665.8 673.9,665.9 675.4,665.9 676.9,665.9 678.4,666.0 679.7,666.0 680.9,666.0 682.4,666.1 683.9,666.1 685.4,666.2 686.9,666.2 688.4,666.2 689.9,666.3 691.4,666.3 692.9,666.4 694.4,666.4 695.9,666.5 696.9,666.5 698.4,666.6 699.9,666.6 701.4,666.7 702.9,666.8 704.4,666.8 705.9,666.9 706.9,667.0 708.4,667.1 709.9,667.2 711.4,667.3 712.9,667.4 714.3,667.5M820.8,667.5 821.9,667.4 823.4,667.3 824.9,667.2 826.4,667.2 827.9,667.1 829.3,667.0 830.4,667.0 831.9,666.9 833.4,666.8 834.9,666.8 836.4,666.7 837.9,666.7 839.4,666.6 840.9,666.6 842.4,666.5 843.9,666.5 844.9,666.5 846.4,666.4 847.9,666.4 849.4,666.4 850.9,666.3 852.4,666.3 853.9,666.3 855.4,666.3 856.9,666.2 858.4,666.2 859.9,666.2 861.4,666.2 862.9,666.2 864.4,666.1 865.9,666.1 867.4,666.1 868.9,666.1 870.4,666.1 871.9,666.1 873.4,666.0 874.9,666.0 876.4,666.0 877.9,666.0 879.2,666.0 880.4,666.0 881.9,666.0 883.4,666.0 884.9,666.0 886.4,665.9 887.9,665.9 889.4,665.9 890.9,665.9 892.4,665.9 893.9,665.9 895.4,665.9 896.9,665.9 898.4,665.9 899.9,665.9 901.4,665.8 902.9,665.8 904.4,665.8 905.9,665.8 907.4,665.8 908.9,665.8 910.4,665.8 911.9,665.8 913.4,665.8 914.9,665.8 916.4,665.8 917.9,665.8 919.4,665.8 920.9,665.8 922.4,665.8 923.9,665.8 925.4,665.8 926.9,665.8 928.4,665.8 929.9,665.8 931.4,665.8 932.9,665.7 934.4,665.7 935.9,665.7 937.4,665.7 938.9,665.7 940.4,665.7M669.1,389.0 668.9,390.5 668.8,391.5 668.7,393.0 668.5,394.5 668.4,395.6 668.2,397.0 668.1,398.5 667.9,400.0 667.8,401.0 667.6,402.5 667.4,404.0 667.3,405.0 667.1,406.5 666.9,408.0 666.8,409.0 666.6,410.5 666.4,412.0 666.3,413.0 666.1,414.5 665.9,415.8 665.7,417.0 665.5,418.5 665.4,419.5 665.2,421.0 664.9,422.5 664.8,423.5 664.6,425.0 664.4,426.1 664.2,427.5 663.9,429.0 663.8,430.0 663.5,431.5 663.4,432.5 663.1,434.0 662.9,435.2 662.7,436.5 662.4,438.0 662.2,439.0 662.0,440.5 661.8,441.5 661.5,443.0 661.4,444.0 661.4,445.5 661.4,447.0 661.4,448.5 661.4,450.0 661.4,451.5 661.4,453.0 661.4,454.5 661.4,456.0 661.4,457.5 661.4,459.0 661.4,460.5 661.4,462.0 661.4,463.5 661.4,465.0 661.4,466.5 661.4,468.0 661.4,469.5 661.4,471.0 661.4,472.5 661.3,474.0 661.3,475.5 661.3,477.0 661.3,478.5 661.3,480.0 661.3,481.5 661.3,483.0 661.3,484.5 661.3,486.0 661.3,487.5 661.3,489.0 661.3,490.5 661.3,492.0 661.3,493.5 661.3,495.0 661.3,496.5 661.3,498.0 661.3,499.5 661.3,501.0 661.3,502.5 661.3,504.0 661.3,505.5 661.3,507.0 661.3,508.5 661.2,510.0 661.2,511.5 661.2,513.0 661.2,514.5 661.2,516.0 661.2,517.5 661.2,519.0 661.2,520.5 661.2,522.0 661.2,523.5 661.2,525.0 661.2,526.5 661.2,528.0 661.2,529.5 661.1,531.0 661.1,532.5 661.1,534.0 661.1,535.5 661.1,537.0 661.1,538.5 661.1,540.0 661.1,541.5 661.1,543.0 661.0,544.5 661.0,546.0 661.0,547.5 661.0,549.0 661.0,550.5 661.0,552.0 661.0,553.5 660.9,555.0 660.9,556.5 660.9,558.0 660.9,559.0 660.9,560.5 660.9,562.0 660.9,563.5 660.8,565.0 660.8,566.5 660.8,568.0 660.8,569.5 660.8,571.0 660.7,572.5 660.7,574.0 660.7,575.5 660.7,577.0 660.7,578.5 660.6,580.0 660.6,581.5 660.6,583.0 660.5,584.5 660.5,586.0 660.5,587.5 660.4,589.0 660.4,590.0 660.4,591.5 660.3,593.0 660.3,594.5 660.2,596.0 660.2,597.5 660.1,599.0 660.0,600.5 660.0,602.0 659.9,603.3 659.8,604.5 659.8,606.0 659.7,607.5 659.6,609.0 659.4,610.5 659.3,611.5 659.2,613.0 659.0,614.5 658.9,615.5 658.6,617.0 658.3,618.0 657.9,619.3 657.4,620.1 656.7,621.0 655.9,621.8 654.9,622.4 653.9,622.9 652.9,623.3 651.9,623.5 650.4,623.9M650.4,633.4 651.4,633.6 652.9,634.0 653.9,634.4 654.4,635.5 654.5,636.5 654.7,638.0 654.7,639.5 654.6,641.0 654.5,642.5 654.4,643.5 654.3,645.0 654.2,646.5 654.1,648.0 654.1,649.5 654.1,651.0 654.2,652.5 654.4,654.0 654.6,655.0 654.9,656.5 655.2,657.5 655.6,658.5 655.9,659.5 656.5,660.5 656.9,661.5 657.4,662.6 658.2,663.5 658.8,664.5 659.2,665.5 660.4,665.6 661.3,666.5 661.9,667.4 663.2,667.5M660.6,389.0 660.6,390.5 660.6,392.0 660.6,393.5 660.6,395.0 660.6,396.5 660.5,398.0 660.5,399.5 660.5,401.0 660.5,402.5 660.5,404.0 660.5,405.5 660.5,407.0 660.5,408.5 660.5,410.0 660.5,411.5 660.5,413.0 660.4,414.5 660.4,416.0 660.4,417.5 660.4,419.0 660.4,420.5 660.4,421.5 660.4,423.0 660.4,424.5 660.4,426.0 660.3,427.5 660.3,429.0 660.3,430.5 660.3,432.0 660.3,433.5 660.3,435.0 660.3,436.5 660.3,438.0 660.2,439.5 660.2,441.0 660.2,442.5 660.2,444.0 660.2,445.5 660.2,447.0 660.2,448.5 660.1,450.0 660.1,451.5 660.1,453.0 660.1,454.5 660.1,456.0 660.1,457.5 660.0,459.0 660.0,460.5 660.0,462.0 660.0,463.5 660.0,465.0 659.9,466.5 659.9,468.0 659.9,469.5 659.9,470.5 659.9,472.0 659.8,473.5 659.8,475.0 659.8,476.5 659.8,478.0 659.8,479.5 659.7,481.0 659.7,482.5 659.7,484.0 659.7,485.5 659.6,487.0 659.6,488.5 659.6,490.0 659.5,491.5 659.5,493.0 659.5,494.5 659.4,496.0 659.4,497.5 659.4,498.5 659.4,500.0 659.3,501.5 659.3,503.0 659.3,504.5 659.2,506.0 659.2,507.5 659.1,509.0 659.1,510.5 659.1,512.0 659.0,513.5 659.0,515.0 658.9,516.5 658.9,517.5 658.8,519.0 658.8,520.5 658.7,522.0 658.7,523.5 658.6,525.0 658.6,526.5 658.5,528.0 658.4,529.5 658.4,530.5 658.3,532.0 658.3,533.5 658.2,535.0 658.1,536.5 658.0,538.0 658.0,539.5 657.9,540.8 657.8,542.0 657.7,543.5 657.7,545.0 657.6,546.5 657.5,548.0 657.4,549.0 657.3,550.5 657.2,552.0 657.1,553.5 656.9,555.0 656.9,556.0 656.7,557.5 656.6,559.0 656.5,560.5 656.4,561.5 656.2,563.0 656.1,564.5 655.9,565.9 655.8,567.0 655.6,568.5 655.4,570.0 655.3,571.0 655.1,572.5 654.9,573.6 654.7,575.0 654.4,576.5 654.3,577.5 654.0,579.0 653.8,580.0 653.6,581.5 653.4,582.5 653.0,584.0 652.8,585.0 652.5,586.5 652.2,587.5 651.9,588.8 651.6,590.0 651.3,591.0 650.9,592.4 650.5,593.5M650.4,665.6 651.9,665.7 653.4,665.7 654.9,665.8 656.4,665.9 657.4,666.0 658.9,666.3 659.9,666.9M653.6,389.0 653.5,390.5 653.4,392.0 653.4,393.0 653.3,394.5 653.2,396.0 653.1,397.5 653.0,399.0 652.9,400.5 652.9,401.5 652.8,403.0 652.7,404.5 652.6,406.0 652.5,407.5 652.4,409.0 652.3,410.0 652.2,411.5 652.1,413.0 652.0,414.5 651.9,416.0 651.9,417.0 651.8,418.5 651.6,420.0 651.5,421.5 651.4,423.0 651.4,424.0 651.2,425.5 651.1,427.0 651.0,428.5 650.9,429.7 650.8,431.0 650.7,432.5 650.5,434.0 650.4,435.5"/></g><text class="cl" x="661.4" y="598.6">10</text><text class="cl" x="858.4" y="591.9">1</text><text class="cl" x="752.0" y="662.5">0. 1</text><text class="cl" x="930.0" y="659.5">1</text><path class="fr" style="stroke:#444;stroke-width:1.6" d="M650.4,389.0H941.1V667.7"/><path class="ax" style="stroke:#444;stroke-width:1.6" d="M650.4,389.0V667.7H941.1"/><path d="M649.6,668.3H941.1" stroke="#5a4040" stroke-width="2.4" fill="none"/><path class="tk" d="M655.4,667.7v3.5M661.3,667.7v3.5M667.1,667.7v3.5M672.9,667.7v3.5M678.8,667.7v3.5M684.6,667.7v3.5M690.4,667.7v3.5M696.2,667.7v3.5M702.1,667.7v3.5M707.9,667.7v6.5M713.7,667.7v3.5M719.6,667.7v3.5M725.4,667.7v3.5M731.2,667.7v3.5M737.1,667.7v3.5M742.9,667.7v3.5M748.7,667.7v3.5M754.5,667.7v3.5M760.4,667.7v3.5M766.2,667.7v6.5M772.0,667.7v3.5M777.9,667.7v3.5M783.7,667.7v3.5M789.5,667.7v3.5M795.4,667.7v3.5M801.2,667.7v3.5M807.0,667.7v3.5M812.8,667.7v3.5M818.7,667.7v3.5M824.5,667.7v6.5M830.3,667.7v3.5M836.2,667.7v3.5M842.0,667.7v3.5M847.8,667.7v3.5M853.6,667.7v3.5M859.5,667.7v3.5M865.3,667.7v3.5M871.1,667.7v3.5M877.0,667.7v3.5M882.8,667.7v6.5M888.6,667.7v3.5M894.5,667.7v3.5M900.3,667.7v3.5M906.1,667.7v3.5M912.0,667.7v3.5M917.8,667.7v3.5M923.6,667.7v3.5M929.4,667.7v3.5M935.3,667.7v3.5M941.1,667.7v6.5M650.4,653.2h-2.6M650.4,637.6h-5.0M650.4,622.1h-2.6M650.4,606.5h-5.0M650.4,591.0h-2.6M650.4,575.5h-5.0M650.4,559.9h-2.6M650.4,544.4h-5.0M650.4,528.9h-2.6M650.4,513.3h-5.0M650.4,497.8h-2.6M650.4,482.2h-5.0M650.4,466.7h-2.6M650.4,451.2h-5.0M650.4,435.6h-2.6M650.4,420.1h-5.0M650.4,404.5h-2.6M650.4,389.0h-5.0"/><text class="tl" text-anchor="middle" x="707.9" y="692.2">0.5</text><text class="tl" text-anchor="middle" x="766.2" y="692.2">1.0</text><text class="tl" text-anchor="middle" x="824.5" y="692.2">1.5</text><text class="tl" text-anchor="middle" x="882.8" y="692.2">2.0</text><text class="tl" text-anchor="middle" x="941.1" y="692.2">2.5</text><text class="tl" text-anchor="end" x="640.8" y="643.3">1</text><text class="tl" text-anchor="end" x="640.8" y="612.2">2</text><text class="tl" text-anchor="end" x="640.8" y="581.2">3</text><text class="tl" text-anchor="end" x="640.8" y="550.1">4</text><text class="tl" text-anchor="end" x="640.8" y="519.0">5</text><text class="tl" text-anchor="end" x="640.8" y="487.9">6</text><text class="tl" text-anchor="end" x="640.8" y="456.9">7</text><text class="tl" text-anchor="end" x="640.8" y="425.8">8</text><text class="tl" text-anchor="end" x="640.8" y="394.7">9</text><text class="lt" x="622.0" y="371.3">e</text><text class="ti" text-anchor="middle" x="802.5" y="381.0">R=90 nm</text><text class="sa" text-anchor="middle" style="font-size:23.3px" x="960.4" y="375.7">sca/abs</text><text class="nl" text-anchor="middle" style="font-size:22.5px" x="796.5" y="711.0">n</text><text class="nl" text-anchor="middle" transform="translate(621.3,528.0) rotate(-90)" x="0" y="0">k</text><linearGradient id="ge" x1="0" y1="0" x2="0" y2="1"><stop offset="0.0051" stop-color="#ff0000"/><stop offset="0.0327" stop-color="#ff0e0e"/><stop offset="0.0603" stop-color="#ff1c1c"/><stop offset="0.0879" stop-color="#ff2a2a"/><stop offset="0.1155" stop-color="#ff3939"/><stop offset="0.1430" stop-color="#ff4747"/><stop offset="0.1706" stop-color="#ff5555"/><stop offset="0.1982" stop-color="#ff6363"/><stop offset="0.2258" stop-color="#ff7171"/><stop offset="0.2534" stop-color="#ff8080"/><stop offset="0.2810" stop-color="#ff8e8e"/><stop offset="0.3086" stop-color="#ff9c9c"/><stop offset="0.3362" stop-color="#ffaaaa"/><stop offset="0.3638" stop-color="#ffb8b8"/><stop offset="0.3914" stop-color="#ffc6c6"/><stop offset="0.4190" stop-color="#ffd4d4"/><stop offset="0.4466" stop-color="#ffe3e3"/><stop offset="0.4742" stop-color="#fff1f1"/><stop offset="0.5018" stop-color="#ffffff"/><stop offset="0.5294" stop-color="#f1f1ff"/><stop offset="0.5570" stop-color="#e3e3ff"/><stop offset="0.5846" stop-color="#d4d4ff"/><stop offset="0.6122" stop-color="#c6c6ff"/><stop offset="0.6398" stop-color="#b8b8ff"/><stop offset="0.6674" stop-color="#aaaaff"/><stop offset="0.6950" stop-color="#9c9cff"/><stop offset="0.7226" stop-color="#8e8eff"/><stop offset="0.7502" stop-color="#8080ff"/><stop offset="0.7778" stop-color="#7171ff"/><stop offset="0.8054" stop-color="#6363ff"/><stop offset="0.8330" stop-color="#5555ff"/><stop offset="0.8606" stop-color="#4747ff"/><stop offset="0.8882" stop-color="#3939ff"/><stop offset="0.9158" stop-color="#2a2aff"/><stop offset="0.9434" stop-color="#1c1cff"/><stop offset="0.9710" stop-color="#0e0eff"/><stop offset="0.9986" stop-color="#0000ff"/></linearGradient><rect x="947.2" y="389.5" width="14.8" height="276.5" fill="url(#ge)"/><rect x="947.2" y="387.9" width="14.8" height="1.8" fill="#8a8a8a"/><rect x="947.2" y="665.6" width="14.8" height="2.4" fill="#000"/><path class="cbb" d="M947.5,387.9V668.0M961.7,387.9V668.0"/><text class="cb" style="font-size:14.6px" x="972.0" y="395.0">1. 0E+05</text><text class="cb" style="font-size:14.6px" x="972.0" y="425.5">1. 0E+04</text><text class="cb" style="font-size:14.6px" x="972.0" y="486.6">100</text><text class="cb" style="font-size:14.6px" x="972.0" y="547.6">1. 0</text><text class="cb" style="font-size:14.6px" x="972.0" y="608.7">0. 010</text><text class="cb" style="font-size:14.6px" x="972.0" y="669.7">1. 0E-04</text><path class="cbt" d="M962.0,390.9h4.5M962.0,421.4h4.5M962.0,482.5h4.5M962.0,543.5h4.5M962.0,604.6h4.5M962.0,665.6h4.5"/></svg></div></body></html>
